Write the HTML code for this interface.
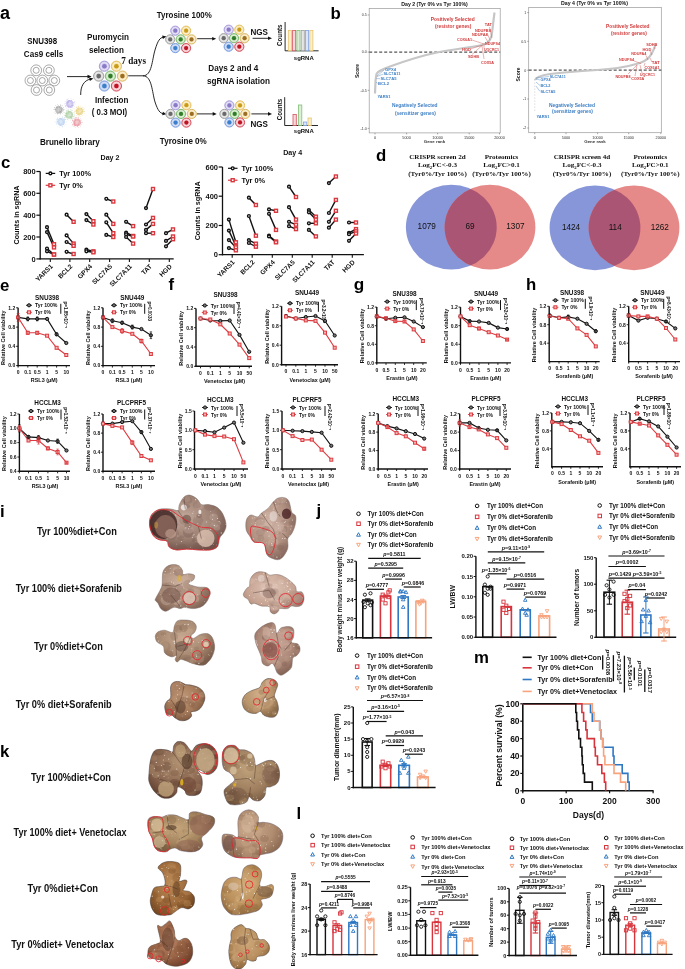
<!DOCTYPE html>
<html><head><meta charset="utf-8"><style>
html,body{margin:0;padding:0;background:#fff;width:685px;height:969px;overflow:hidden}
svg{display:block;font-family:"Liberation Sans", sans-serif;will-change:transform}
</style></head><body>
<svg width="685" height="969" viewBox="0 0 685 969">
<rect width="685" height="969" fill="#fff"/>
<g font-weight="bold" fill="#111">
<text x="0" y="18.5" font-size="18" fill="#000">a</text>
<text x="42.2" y="44.2" font-size="8.3" text-anchor="middle" textLength="30" lengthAdjust="spacingAndGlyphs">SNU398</text>
<text x="43.6" y="57.2" font-size="8.3" text-anchor="middle" textLength="39.5" lengthAdjust="spacingAndGlyphs">Cas9 cells</text>
<circle cx="36.2" cy="70.3" r="5.4" fill="#fff" stroke="#555" stroke-width=".5"/>
<circle cx="36.2" cy="70.3" r="3" fill="#fff" stroke="#555" stroke-width=".5"/>
<circle cx="48.9" cy="70.3" r="5.4" fill="#fff" stroke="#555" stroke-width=".5"/>
<circle cx="48.9" cy="70.3" r="3" fill="#fff" stroke="#555" stroke-width=".5"/>
<circle cx="30.4" cy="80.5" r="5.4" fill="#fff" stroke="#555" stroke-width=".5"/>
<circle cx="30.4" cy="80.5" r="3" fill="#fff" stroke="#555" stroke-width=".5"/>
<circle cx="42.3" cy="80.5" r="5.4" fill="#fff" stroke="#555" stroke-width=".5"/>
<circle cx="42.3" cy="80.5" r="3" fill="#fff" stroke="#555" stroke-width=".5"/>
<circle cx="54.3" cy="80.5" r="5.4" fill="#fff" stroke="#555" stroke-width=".5"/>
<circle cx="54.3" cy="80.5" r="3" fill="#fff" stroke="#555" stroke-width=".5"/>
<circle cx="36.5" cy="90" r="5.4" fill="#fff" stroke="#555" stroke-width=".5"/>
<circle cx="36.5" cy="90" r="3" fill="#fff" stroke="#555" stroke-width=".5"/>
<circle cx="49.3" cy="90" r="5.4" fill="#fff" stroke="#555" stroke-width=".5"/>
<circle cx="49.3" cy="90" r="3" fill="#fff" stroke="#555" stroke-width=".5"/>
<line x1="67" y1="76.6" x2="88.3" y2="76.6" stroke="#111" stroke-width=".9"/>
<polygon points="91.5,76.6 87.5,78.4 87.5,74.8" fill="#111"/>
<path d="M80.7,95 C80.5,86 84,80.5 90.5,79" fill="none" stroke="#111" stroke-width=".9"/>
<polygon points="93.4,78.4 89.9,81 89.1,77.5" fill="#111"/>
<circle cx="59" cy="109.7" r="3.8" fill="#8c8c8c" opacity=".55"/>
<g fill="#8c8c8c" opacity=".9"><circle cx="54.9" cy="107.8" r=".35"/><circle cx="59.8" cy="112.3" r=".35"/><circle cx="58.4" cy="105.3" r=".35"/><circle cx="61.1" cy="112.5" r=".35"/><circle cx="57.1" cy="106.1" r=".35"/><circle cx="59.4" cy="107.2" r=".35"/><circle cx="59.6" cy="110.3" r=".35"/><circle cx="59.5" cy="109.4" r=".35"/><circle cx="55.3" cy="109.7" r=".35"/><circle cx="58.8" cy="113.5" r=".35"/><circle cx="56.6" cy="107.7" r=".35"/><circle cx="60.4" cy="105.5" r=".35"/><circle cx="59.9" cy="111.6" r=".35"/><circle cx="55.2" cy="109.9" r=".35"/><circle cx="63.2" cy="109.1" r=".35"/><circle cx="55" cy="109.3" r=".35"/><circle cx="59.6" cy="108.8" r=".35"/><circle cx="60.4" cy="113.6" r=".35"/><circle cx="60.5" cy="111.8" r=".35"/><circle cx="59.7" cy="111" r=".35"/><circle cx="60.9" cy="105.4" r=".35"/><circle cx="58.2" cy="112.8" r=".35"/><circle cx="56.1" cy="112.9" r=".35"/><circle cx="54.3" cy="109.1" r=".35"/><circle cx="61.7" cy="109.4" r=".35"/><circle cx="58.1" cy="110" r=".35"/><circle cx="57.9" cy="109.6" r=".35"/><circle cx="60.6" cy="108.9" r=".35"/><circle cx="62.5" cy="108.3" r=".35"/><circle cx="61.1" cy="112" r=".35"/><circle cx="59.9" cy="112" r=".35"/><circle cx="57.4" cy="113.5" r=".35"/><circle cx="56.7" cy="106.9" r=".35"/><circle cx="60.2" cy="111.6" r=".35"/><circle cx="57.5" cy="113.2" r=".35"/><circle cx="57.5" cy="107.4" r=".35"/><circle cx="63.4" cy="110.6" r=".35"/><circle cx="63.3" cy="109.6" r=".35"/><circle cx="59.1" cy="106.3" r=".35"/><circle cx="61.6" cy="110.7" r=".35"/><circle cx="64.2" cy="109.7" r=".3"/><circle cx="63.7" cy="112" r=".3"/><circle cx="62.2" cy="113.8" r=".3"/><circle cx="60.2" cy="114.8" r=".3"/><circle cx="57.8" cy="114.8" r=".3"/><circle cx="55.8" cy="113.8" r=".3"/><circle cx="54.3" cy="112" r=".3"/><circle cx="53.8" cy="109.7" r=".3"/><circle cx="54.3" cy="107.4" r=".3"/><circle cx="55.8" cy="105.6" r=".3"/><circle cx="57.8" cy="104.6" r=".3"/><circle cx="60.2" cy="104.6" r=".3"/><circle cx="62.2" cy="105.6" r=".3"/><circle cx="63.7" cy="107.4" r=".3"/></g>
<circle cx="59" cy="109.7" r="1.8" fill="#ffffff" opacity=".3"/>
<circle cx="69.8" cy="103.9" r="3.8" fill="#a79be0" opacity=".55"/>
<g fill="#a79be0" opacity=".9"><circle cx="70" cy="107" r=".35"/><circle cx="73.4" cy="102.6" r=".35"/><circle cx="68.8" cy="101.2" r=".35"/><circle cx="70.3" cy="101.2" r=".35"/><circle cx="67.8" cy="102.1" r=".35"/><circle cx="74.4" cy="102.3" r=".35"/><circle cx="67.6" cy="105.1" r=".35"/><circle cx="67.6" cy="102.5" r=".35"/><circle cx="65.7" cy="106.2" r=".35"/><circle cx="67" cy="100.8" r=".35"/><circle cx="71.3" cy="107.1" r=".35"/><circle cx="69.9" cy="106.1" r=".35"/><circle cx="72" cy="103" r=".35"/><circle cx="68.4" cy="106.1" r=".35"/><circle cx="70.3" cy="106.5" r=".35"/><circle cx="65.4" cy="105.7" r=".35"/><circle cx="72.1" cy="105.8" r=".35"/><circle cx="71.3" cy="100.2" r=".35"/><circle cx="67.6" cy="103.4" r=".35"/><circle cx="68.9" cy="102.4" r=".35"/><circle cx="68" cy="102.9" r=".35"/><circle cx="72.7" cy="105.3" r=".35"/><circle cx="68.6" cy="102.7" r=".35"/><circle cx="66.2" cy="102.1" r=".35"/><circle cx="68.7" cy="100.5" r=".35"/><circle cx="68.6" cy="105.5" r=".35"/><circle cx="70.3" cy="107.6" r=".35"/><circle cx="72" cy="107.7" r=".35"/><circle cx="69.2" cy="100.5" r=".35"/><circle cx="68.2" cy="104.4" r=".35"/><circle cx="70.7" cy="103.8" r=".35"/><circle cx="68.5" cy="101.1" r=".35"/><circle cx="69.6" cy="100.6" r=".35"/><circle cx="65.5" cy="103.5" r=".35"/><circle cx="67.6" cy="99.6" r=".35"/><circle cx="69.5" cy="104.3" r=".35"/><circle cx="68.7" cy="107.4" r=".35"/><circle cx="73.1" cy="105.4" r=".35"/><circle cx="71.7" cy="105.3" r=".35"/><circle cx="71.6" cy="100.6" r=".35"/><circle cx="75" cy="103.9" r=".3"/><circle cx="74.5" cy="106.2" r=".3"/><circle cx="73" cy="108" r=".3"/><circle cx="71" cy="109" r=".3"/><circle cx="68.6" cy="109" r=".3"/><circle cx="66.6" cy="108" r=".3"/><circle cx="65.1" cy="106.2" r=".3"/><circle cx="64.6" cy="103.9" r=".3"/><circle cx="65.1" cy="101.6" r=".3"/><circle cx="66.6" cy="99.8" r=".3"/><circle cx="68.6" cy="98.8" r=".3"/><circle cx="71" cy="98.8" r=".3"/><circle cx="73" cy="99.8" r=".3"/><circle cx="74.5" cy="101.6" r=".3"/></g>
<circle cx="69.8" cy="103.9" r="1.8" fill="#ffffff" opacity=".3"/>
<circle cx="79.6" cy="111.2" r="3.8" fill="#e3c35a" opacity=".55"/>
<g fill="#e3c35a" opacity=".9"><circle cx="83.1" cy="107.8" r=".35"/><circle cx="76.5" cy="113.7" r=".35"/><circle cx="81.6" cy="108.9" r=".35"/><circle cx="81.9" cy="111.8" r=".35"/><circle cx="75.1" cy="110.5" r=".35"/><circle cx="81.4" cy="114.4" r=".35"/><circle cx="81.7" cy="108.4" r=".35"/><circle cx="80" cy="111.1" r=".35"/><circle cx="82.5" cy="111.5" r=".35"/><circle cx="77.9" cy="108.9" r=".35"/><circle cx="76.3" cy="107.7" r=".35"/><circle cx="76.4" cy="110.2" r=".35"/><circle cx="78.5" cy="106.7" r=".35"/><circle cx="76.9" cy="113.6" r=".35"/><circle cx="78.1" cy="115.1" r=".35"/><circle cx="78.6" cy="107.3" r=".35"/><circle cx="76.3" cy="110.1" r=".35"/><circle cx="80.7" cy="113.5" r=".35"/><circle cx="77.6" cy="107" r=".35"/><circle cx="81.2" cy="111.8" r=".35"/><circle cx="79.8" cy="109.9" r=".35"/><circle cx="76.1" cy="110.9" r=".35"/><circle cx="78.5" cy="114.2" r=".35"/><circle cx="78.6" cy="111.4" r=".35"/><circle cx="83.1" cy="111" r=".35"/><circle cx="83.6" cy="109.6" r=".35"/><circle cx="78.7" cy="109.2" r=".35"/><circle cx="77.5" cy="111.4" r=".35"/><circle cx="75.1" cy="111.3" r=".35"/><circle cx="80" cy="114" r=".35"/><circle cx="83.1" cy="111.2" r=".35"/><circle cx="81.2" cy="108" r=".35"/><circle cx="77.8" cy="108.1" r=".35"/><circle cx="79.3" cy="115.4" r=".35"/><circle cx="78.4" cy="110.6" r=".35"/><circle cx="84.3" cy="111.4" r=".35"/><circle cx="80.8" cy="112.7" r=".35"/><circle cx="77.7" cy="114.3" r=".35"/><circle cx="78.9" cy="114.4" r=".35"/><circle cx="79" cy="113.5" r=".35"/><circle cx="84.8" cy="111.2" r=".3"/><circle cx="84.3" cy="113.5" r=".3"/><circle cx="82.8" cy="115.3" r=".3"/><circle cx="80.8" cy="116.3" r=".3"/><circle cx="78.4" cy="116.3" r=".3"/><circle cx="76.4" cy="115.3" r=".3"/><circle cx="74.9" cy="113.5" r=".3"/><circle cx="74.4" cy="111.2" r=".3"/><circle cx="74.9" cy="108.9" r=".3"/><circle cx="76.4" cy="107.1" r=".3"/><circle cx="78.4" cy="106.1" r=".3"/><circle cx="80.8" cy="106.1" r=".3"/><circle cx="82.8" cy="107.1" r=".3"/><circle cx="84.3" cy="108.9" r=".3"/></g>
<circle cx="79.6" cy="111.2" r="1.8" fill="#ffffff" opacity=".3"/>
<circle cx="69.3" cy="114.9" r="3.8" fill="#93be87" opacity=".55"/>
<g fill="#93be87" opacity=".9"><circle cx="67.8" cy="110.2" r=".35"/><circle cx="65.4" cy="117.5" r=".35"/><circle cx="72.2" cy="114.5" r=".35"/><circle cx="71" cy="116.9" r=".35"/><circle cx="66.9" cy="110.7" r=".35"/><circle cx="71.9" cy="118.8" r=".35"/><circle cx="71.2" cy="117.8" r=".35"/><circle cx="65.2" cy="115.6" r=".35"/><circle cx="65.2" cy="113.6" r=".35"/><circle cx="68.7" cy="110.6" r=".35"/><circle cx="70.1" cy="111.3" r=".35"/><circle cx="71.1" cy="110.6" r=".35"/><circle cx="70.2" cy="116.9" r=".35"/><circle cx="66.5" cy="113.1" r=".35"/><circle cx="69.6" cy="116.3" r=".35"/><circle cx="71.1" cy="112.3" r=".35"/><circle cx="73.6" cy="116.2" r=".35"/><circle cx="70.3" cy="116.9" r=".35"/><circle cx="69.3" cy="112" r=".35"/><circle cx="68.1" cy="114.8" r=".35"/><circle cx="66.1" cy="115.7" r=".35"/><circle cx="66.4" cy="111.2" r=".35"/><circle cx="68" cy="113.3" r=".35"/><circle cx="71.9" cy="116.9" r=".35"/><circle cx="67.9" cy="114.8" r=".35"/><circle cx="68.4" cy="113.4" r=".35"/><circle cx="66.3" cy="116.9" r=".35"/><circle cx="71.7" cy="118.6" r=".35"/><circle cx="72" cy="118.9" r=".35"/><circle cx="74.1" cy="116.2" r=".35"/><circle cx="69" cy="114.1" r=".35"/><circle cx="67.4" cy="119.4" r=".35"/><circle cx="68.9" cy="112" r=".35"/><circle cx="65.3" cy="115.6" r=".35"/><circle cx="66.2" cy="113.4" r=".35"/><circle cx="65.4" cy="116.7" r=".35"/><circle cx="68.3" cy="111.8" r=".35"/><circle cx="68.9" cy="111.4" r=".35"/><circle cx="65.9" cy="113" r=".35"/><circle cx="64.9" cy="115.6" r=".35"/><circle cx="74.5" cy="114.9" r=".3"/><circle cx="74" cy="117.2" r=".3"/><circle cx="72.5" cy="119" r=".3"/><circle cx="70.5" cy="120" r=".3"/><circle cx="68.1" cy="120" r=".3"/><circle cx="66.1" cy="119" r=".3"/><circle cx="64.6" cy="117.2" r=".3"/><circle cx="64.1" cy="114.9" r=".3"/><circle cx="64.6" cy="112.6" r=".3"/><circle cx="66.1" cy="110.8" r=".3"/><circle cx="68.1" cy="109.8" r=".3"/><circle cx="70.5" cy="109.8" r=".3"/><circle cx="72.5" cy="110.8" r=".3"/><circle cx="74" cy="112.6" r=".3"/></g>
<circle cx="69.3" cy="114.9" r="1.8" fill="#ffffff" opacity=".3"/>
<circle cx="61" cy="121.9" r="3.8" fill="#a5c3eb" opacity=".55"/>
<g fill="#a5c3eb" opacity=".9"><circle cx="63.3" cy="124.4" r=".35"/><circle cx="58" cy="121" r=".35"/><circle cx="62.6" cy="117.6" r=".35"/><circle cx="59.6" cy="122.5" r=".35"/><circle cx="63" cy="121.6" r=".35"/><circle cx="63.1" cy="122.8" r=".35"/><circle cx="61" cy="124.6" r=".35"/><circle cx="60" cy="125.2" r=".35"/><circle cx="64.6" cy="122.8" r=".35"/><circle cx="64.4" cy="121.2" r=".35"/><circle cx="62.1" cy="126.5" r=".35"/><circle cx="56.3" cy="122.5" r=".35"/><circle cx="63" cy="122.6" r=".35"/><circle cx="61" cy="125.6" r=".35"/><circle cx="61.1" cy="119.6" r=".35"/><circle cx="65.2" cy="119.3" r=".35"/><circle cx="62.8" cy="122.5" r=".35"/><circle cx="64.5" cy="119.3" r=".35"/><circle cx="57.7" cy="118.6" r=".35"/><circle cx="59.3" cy="118.3" r=".35"/><circle cx="56.6" cy="120" r=".35"/><circle cx="60.4" cy="118.1" r=".35"/><circle cx="61.5" cy="123.4" r=".35"/><circle cx="61.2" cy="118.8" r=".35"/><circle cx="57.3" cy="119" r=".35"/><circle cx="64.2" cy="119.9" r=".35"/><circle cx="60" cy="118.5" r=".35"/><circle cx="57.5" cy="121.2" r=".35"/><circle cx="64.7" cy="120.1" r=".35"/><circle cx="64.1" cy="118.6" r=".35"/><circle cx="59.6" cy="124.6" r=".35"/><circle cx="62.7" cy="120.8" r=".35"/><circle cx="59" cy="123.6" r=".35"/><circle cx="56.3" cy="123.4" r=".35"/><circle cx="59.1" cy="122.7" r=".35"/><circle cx="56.2" cy="121.3" r=".35"/><circle cx="57.7" cy="119.3" r=".35"/><circle cx="64" cy="118" r=".35"/><circle cx="60.7" cy="125.7" r=".35"/><circle cx="62.6" cy="126.5" r=".35"/><circle cx="66.2" cy="121.9" r=".3"/><circle cx="65.7" cy="124.2" r=".3"/><circle cx="64.2" cy="126" r=".3"/><circle cx="62.2" cy="127" r=".3"/><circle cx="59.8" cy="127" r=".3"/><circle cx="57.8" cy="126" r=".3"/><circle cx="56.3" cy="124.2" r=".3"/><circle cx="55.8" cy="121.9" r=".3"/><circle cx="56.3" cy="119.6" r=".3"/><circle cx="57.8" cy="117.8" r=".3"/><circle cx="59.8" cy="116.8" r=".3"/><circle cx="62.2" cy="116.8" r=".3"/><circle cx="64.2" cy="117.8" r=".3"/><circle cx="65.7" cy="119.6" r=".3"/></g>
<circle cx="61" cy="121.9" r="1.8" fill="#ffffff" opacity=".3"/>
<circle cx="77" cy="122.4" r="3.8" fill="#e07884" opacity=".55"/>
<g fill="#e07884" opacity=".9"><circle cx="72.9" cy="120.6" r=".35"/><circle cx="75" cy="125.1" r=".35"/><circle cx="78.3" cy="117.9" r=".35"/><circle cx="80" cy="121.1" r=".35"/><circle cx="74.4" cy="123.4" r=".35"/><circle cx="74.5" cy="122.6" r=".35"/><circle cx="75.1" cy="123.8" r=".35"/><circle cx="78.1" cy="124.4" r=".35"/><circle cx="80.6" cy="123.7" r=".35"/><circle cx="78.7" cy="123.5" r=".35"/><circle cx="74.8" cy="125.4" r=".35"/><circle cx="74.3" cy="121.3" r=".35"/><circle cx="80.8" cy="125" r=".35"/><circle cx="75.4" cy="122.7" r=".35"/><circle cx="75.3" cy="119.8" r=".35"/><circle cx="74.6" cy="124.4" r=".35"/><circle cx="77.2" cy="125.7" r=".35"/><circle cx="77.5" cy="120.1" r=".35"/><circle cx="73" cy="121.7" r=".35"/><circle cx="75.3" cy="120.7" r=".35"/><circle cx="81.4" cy="122.6" r=".35"/><circle cx="79.9" cy="120.9" r=".35"/><circle cx="76" cy="117.6" r=".35"/><circle cx="77.8" cy="126.1" r=".35"/><circle cx="72.5" cy="124.1" r=".35"/><circle cx="77.9" cy="123.5" r=".35"/><circle cx="80.2" cy="120.1" r=".35"/><circle cx="78.7" cy="122.5" r=".35"/><circle cx="78.9" cy="125" r=".35"/><circle cx="77.3" cy="126.7" r=".35"/><circle cx="72.9" cy="125.2" r=".35"/><circle cx="74.3" cy="118.3" r=".35"/><circle cx="75.5" cy="125.2" r=".35"/><circle cx="72.7" cy="120.6" r=".35"/><circle cx="75.6" cy="118" r=".35"/><circle cx="74.5" cy="126.1" r=".35"/><circle cx="80.4" cy="122.2" r=".35"/><circle cx="73.3" cy="124.5" r=".35"/><circle cx="78.3" cy="119" r=".35"/><circle cx="76.9" cy="117.7" r=".35"/><circle cx="82.2" cy="122.4" r=".3"/><circle cx="81.7" cy="124.7" r=".3"/><circle cx="80.2" cy="126.5" r=".3"/><circle cx="78.2" cy="127.5" r=".3"/><circle cx="75.8" cy="127.5" r=".3"/><circle cx="73.8" cy="126.5" r=".3"/><circle cx="72.3" cy="124.7" r=".3"/><circle cx="71.8" cy="122.4" r=".3"/><circle cx="72.3" cy="120.1" r=".3"/><circle cx="73.8" cy="118.3" r=".3"/><circle cx="75.8" cy="117.3" r=".3"/><circle cx="78.2" cy="117.3" r=".3"/><circle cx="80.2" cy="118.3" r=".3"/><circle cx="81.7" cy="120.1" r=".3"/></g>
<circle cx="77" cy="122.4" r="1.8" fill="#ffffff" opacity=".3"/>
<text x="69.9" y="145" font-size="8.3" text-anchor="middle" textLength="60" lengthAdjust="spacingAndGlyphs">Brunello library</text>
<text x="108" y="40.1" font-size="8.3" text-anchor="middle" textLength="42" lengthAdjust="spacingAndGlyphs">Puromycin</text>
<text x="106.4" y="52.7" font-size="8.3" text-anchor="middle" textLength="35" lengthAdjust="spacingAndGlyphs">selection</text>
<text x="121.3" y="63.5" font-size="10" font-family='"Liberation Serif", serif' textLength="24.7" lengthAdjust="spacingAndGlyphs">7 days</text>
<circle cx="104.4" cy="66.2" r="5.1" fill="#cfc9ee" stroke="#a99ddc" stroke-width="1"/>
<circle cx="104.4" cy="66.2" r="3.6" fill="#cfc9ee" stroke="#ffffff" stroke-width=".5"/>
<circle cx="104.4" cy="66.2" r="2.3" fill="#8a7ac6"/>
<circle cx="116.4" cy="66.2" r="5.1" fill="#f7e3a6" stroke="#e6c063" stroke-width="1"/>
<circle cx="116.4" cy="66.2" r="3.6" fill="#f7e3a6" stroke="#ffffff" stroke-width=".5"/>
<circle cx="116.4" cy="66.2" r="2.3" fill="#c99a18"/>
<circle cx="98.7" cy="76.1" r="5.1" fill="#d6d6d6" stroke="#a2a2a2" stroke-width="1"/>
<circle cx="98.7" cy="76.1" r="3.6" fill="#d6d6d6" stroke="#ffffff" stroke-width=".5"/>
<circle cx="98.7" cy="76.1" r="2.3" fill="#6a6a6a"/>
<circle cx="110.4" cy="76.1" r="5.1" fill="#c2e0b6" stroke="#7cba70" stroke-width="1"/>
<circle cx="110.4" cy="76.1" r="3.6" fill="#c2e0b6" stroke="#ffffff" stroke-width=".5"/>
<circle cx="110.4" cy="76.1" r="2.3" fill="#317c28"/>
<circle cx="122.4" cy="76.1" r="5.1" fill="#f6e2ae" stroke="#dcb866" stroke-width="1"/>
<circle cx="122.4" cy="76.1" r="3.6" fill="#f6e2ae" stroke="#ffffff" stroke-width=".5"/>
<circle cx="122.4" cy="76.1" r="2.3" fill="#9c6e24"/>
<circle cx="104.4" cy="86" r="5.1" fill="#b6c9ee" stroke="#7c9fde" stroke-width="1"/>
<circle cx="104.4" cy="86" r="3.6" fill="#b6c9ee" stroke="#ffffff" stroke-width=".5"/>
<circle cx="104.4" cy="86" r="2.3" fill="#3a7fcb"/>
<circle cx="116.4" cy="86" r="5.1" fill="#f2bcc2" stroke="#d44c58" stroke-width="1"/>
<circle cx="116.4" cy="86" r="3.6" fill="#f2bcc2" stroke="#ffffff" stroke-width=".5"/>
<circle cx="116.4" cy="86" r="2.3" fill="#c01424"/>
<text x="111.7" y="102.5" font-size="8.3" text-anchor="middle" textLength="33.5" lengthAdjust="spacingAndGlyphs">Infection</text>
<text x="109.5" y="115" font-size="8.3" text-anchor="middle" textLength="35.5" lengthAdjust="spacingAndGlyphs">( 0.3 MOI)</text>
<line x1="128.2" y1="75.8" x2="143" y2="75.8" stroke="#111" stroke-width=".9"/>
<path d="M143,75.8 C152,75.8 152,60 155,50 C158,40 160,38 163,37.2" fill="none" stroke="#111" stroke-width=".9"/>
<polygon points="166.5,36.6 162.9,39.1 162.2,35.5" fill="#111"/>
<path d="M143,75.8 C152,75.8 152,92 155,102 C158,111 160,113 163,113.6" fill="none" stroke="#111" stroke-width=".9"/>
<polygon points="166.5,114.2 162.2,115.3 162.9,111.7" fill="#111"/>
<text x="184.3" y="17.5" font-size="8.3" text-anchor="middle" textLength="55" lengthAdjust="spacingAndGlyphs">Tyrosine 100%</text>
<circle cx="175.3" cy="30.7" r="4.6" fill="#cfc9ee" stroke="#a99ddc" stroke-width="1"/>
<circle cx="175.3" cy="30.7" r="3.2" fill="#cfc9ee" stroke="#ffffff" stroke-width=".5"/>
<circle cx="175.3" cy="30.7" r="2.1" fill="#8a7ac6"/>
<circle cx="186.1" cy="30.7" r="4.6" fill="#f7e3a6" stroke="#e6c063" stroke-width="1"/>
<circle cx="186.1" cy="30.7" r="3.2" fill="#f7e3a6" stroke="#ffffff" stroke-width=".5"/>
<circle cx="186.1" cy="30.7" r="2.1" fill="#c99a18"/>
<circle cx="170.2" cy="39.4" r="4.6" fill="#d6d6d6" stroke="#a2a2a2" stroke-width="1"/>
<circle cx="170.2" cy="39.4" r="3.2" fill="#d6d6d6" stroke="#ffffff" stroke-width=".5"/>
<circle cx="170.2" cy="39.4" r="2.1" fill="#6a6a6a"/>
<circle cx="180.7" cy="39.4" r="4.6" fill="#c2e0b6" stroke="#7cba70" stroke-width="1"/>
<circle cx="180.7" cy="39.4" r="3.2" fill="#c2e0b6" stroke="#ffffff" stroke-width=".5"/>
<circle cx="180.7" cy="39.4" r="2.1" fill="#317c28"/>
<circle cx="191.5" cy="39.4" r="4.6" fill="#f6e2ae" stroke="#dcb866" stroke-width="1"/>
<circle cx="191.5" cy="39.4" r="3.2" fill="#f6e2ae" stroke="#ffffff" stroke-width=".5"/>
<circle cx="191.5" cy="39.4" r="2.1" fill="#9c6e24"/>
<circle cx="175.3" cy="48.1" r="4.6" fill="#b6c9ee" stroke="#7c9fde" stroke-width="1"/>
<circle cx="175.3" cy="48.1" r="3.2" fill="#b6c9ee" stroke="#ffffff" stroke-width=".5"/>
<circle cx="175.3" cy="48.1" r="2.1" fill="#3a7fcb"/>
<circle cx="186.1" cy="48.1" r="4.6" fill="#f2bcc2" stroke="#d44c58" stroke-width="1"/>
<circle cx="186.1" cy="48.1" r="3.2" fill="#f2bcc2" stroke="#ffffff" stroke-width=".5"/>
<circle cx="186.1" cy="48.1" r="2.1" fill="#c01424"/>
<line x1="197.2" y1="38.7" x2="213" y2="38.7" stroke="#111" stroke-width=".9"/>
<polygon points="216.2,38.7 212.2,40.5 212.2,36.9" fill="#111"/>
<circle cx="228.7" cy="29.7" r="4.6" fill="#cfc9ee" stroke="#a99ddc" stroke-width="1"/>
<circle cx="228.7" cy="29.7" r="3.2" fill="#cfc9ee" stroke="#ffffff" stroke-width=".5"/>
<circle cx="228.7" cy="29.7" r="2.1" fill="#8a7ac6"/>
<circle cx="239.3" cy="29.7" r="4.6" fill="#f7e3a6" stroke="#e6c063" stroke-width="1"/>
<circle cx="239.3" cy="29.7" r="3.2" fill="#f7e3a6" stroke="#ffffff" stroke-width=".5"/>
<circle cx="239.3" cy="29.7" r="2.1" fill="#c99a18"/>
<circle cx="223.7" cy="38.2" r="4.6" fill="#d6d6d6" stroke="#a2a2a2" stroke-width="1"/>
<circle cx="223.7" cy="38.2" r="3.2" fill="#d6d6d6" stroke="#ffffff" stroke-width=".5"/>
<circle cx="223.7" cy="38.2" r="2.1" fill="#6a6a6a"/>
<circle cx="234" cy="38.2" r="4.6" fill="#c2e0b6" stroke="#7cba70" stroke-width="1"/>
<circle cx="234" cy="38.2" r="3.2" fill="#c2e0b6" stroke="#ffffff" stroke-width=".5"/>
<circle cx="234" cy="38.2" r="2.1" fill="#317c28"/>
<circle cx="244.6" cy="38.2" r="4.6" fill="#f6e2ae" stroke="#dcb866" stroke-width="1"/>
<circle cx="244.6" cy="38.2" r="3.2" fill="#f6e2ae" stroke="#ffffff" stroke-width=".5"/>
<circle cx="244.6" cy="38.2" r="2.1" fill="#9c6e24"/>
<circle cx="228.7" cy="46.7" r="4.6" fill="#b6c9ee" stroke="#7c9fde" stroke-width="1"/>
<circle cx="228.7" cy="46.7" r="3.2" fill="#b6c9ee" stroke="#ffffff" stroke-width=".5"/>
<circle cx="228.7" cy="46.7" r="2.1" fill="#3a7fcb"/>
<circle cx="239.3" cy="46.7" r="4.6" fill="#f2bcc2" stroke="#d44c58" stroke-width="1"/>
<circle cx="239.3" cy="46.7" r="3.2" fill="#f2bcc2" stroke="#ffffff" stroke-width=".5"/>
<circle cx="239.3" cy="46.7" r="2.1" fill="#c01424"/>
<text x="259.2" y="34.5" font-size="8.3" text-anchor="middle" textLength="17.5" lengthAdjust="spacingAndGlyphs">NGS</text>
<line x1="252.6" y1="38.3" x2="268.8" y2="38.3" stroke="#111" stroke-width=".9"/>
<polygon points="272,38.3 268,40.1 268,36.5" fill="#111"/>
<line x1="285.1" y1="22" x2="285.1" y2="50.8" stroke="#111" stroke-width=".9"/>
<line x1="285.1" y1="50.8" x2="318.6" y2="50.8" stroke="#111" stroke-width=".9"/>
<rect x="288.3" y="30.5" width="3.1" height="20.3" fill="#fbefc9" stroke="#e8c46a" stroke-width=".8"/>
<rect x="292.6" y="30.5" width="3.1" height="20.3" fill="#f8d6d9" stroke="#d7555f" stroke-width=".8"/>
<rect x="296.9" y="30.5" width="3.1" height="20.3" fill="#dcefd6" stroke="#82be78" stroke-width=".8"/>
<rect x="301.2" y="30.5" width="3.1" height="20.3" fill="#e6e6e6" stroke="#a0a0a0" stroke-width=".8"/>
<rect x="305.5" y="30.5" width="3.1" height="20.3" fill="#dbe5f7" stroke="#82a5e1" stroke-width=".8"/>
<rect x="309.8" y="30.5" width="3.1" height="20.3" fill="#fbefc9" stroke="#e8c46a" stroke-width=".8"/>
<text x="281.6" y="35.2" font-size="7" text-anchor="middle" textLength="21.4" lengthAdjust="spacingAndGlyphs" transform="rotate(-90 281.6 35.2)">Counts</text>
<text x="303.8" y="59.5" font-size="6.2" text-anchor="middle" textLength="20" lengthAdjust="spacingAndGlyphs">sgRNA</text>
<text x="233.3" y="71" font-size="8.3" text-anchor="middle" textLength="50" lengthAdjust="spacingAndGlyphs">Days 2 and 4</text>
<text x="238.5" y="84" font-size="8.3" text-anchor="middle" textLength="63" lengthAdjust="spacingAndGlyphs">sgRNA  isolation</text>
<circle cx="175.6" cy="105.2" r="4.6" fill="#cfc9ee" stroke="#a99ddc" stroke-width="1"/>
<circle cx="175.6" cy="105.2" r="3.2" fill="#cfc9ee" stroke="#ffffff" stroke-width=".5"/>
<circle cx="175.6" cy="105.2" r="2.1" fill="#8a7ac6"/>
<circle cx="186.4" cy="105.2" r="4.6" fill="#f7e3a6" stroke="#e6c063" stroke-width="1"/>
<circle cx="186.4" cy="105.2" r="3.2" fill="#f7e3a6" stroke="#ffffff" stroke-width=".5"/>
<circle cx="186.4" cy="105.2" r="2.1" fill="#c99a18"/>
<circle cx="170.5" cy="113.9" r="4.6" fill="#d6d6d6" stroke="#a2a2a2" stroke-width="1"/>
<circle cx="170.5" cy="113.9" r="3.2" fill="#d6d6d6" stroke="#ffffff" stroke-width=".5"/>
<circle cx="170.5" cy="113.9" r="2.1" fill="#6a6a6a"/>
<circle cx="181" cy="113.9" r="4.6" fill="#c2e0b6" stroke="#7cba70" stroke-width="1"/>
<circle cx="181" cy="113.9" r="3.2" fill="#c2e0b6" stroke="#ffffff" stroke-width=".5"/>
<circle cx="181" cy="113.9" r="2.1" fill="#317c28"/>
<circle cx="191.8" cy="113.9" r="4.6" fill="#f6e2ae" stroke="#dcb866" stroke-width="1"/>
<circle cx="191.8" cy="113.9" r="3.2" fill="#f6e2ae" stroke="#ffffff" stroke-width=".5"/>
<circle cx="191.8" cy="113.9" r="2.1" fill="#9c6e24"/>
<circle cx="175.6" cy="122.6" r="4.6" fill="#b6c9ee" stroke="#7c9fde" stroke-width="1"/>
<circle cx="175.6" cy="122.6" r="3.2" fill="#b6c9ee" stroke="#ffffff" stroke-width=".5"/>
<circle cx="175.6" cy="122.6" r="2.1" fill="#3a7fcb"/>
<circle cx="186.4" cy="122.6" r="4.6" fill="#f2bcc2" stroke="#d44c58" stroke-width="1"/>
<circle cx="186.4" cy="122.6" r="3.2" fill="#f2bcc2" stroke="#ffffff" stroke-width=".5"/>
<circle cx="186.4" cy="122.6" r="2.1" fill="#c01424"/>
<line x1="197" y1="113.9" x2="213.5" y2="113.9" stroke="#111" stroke-width=".9"/>
<polygon points="216.7,113.9 212.7,115.7 212.7,112.1" fill="#111"/>
<circle cx="229.4" cy="105.4" r="4.6" fill="#cfc9ee" stroke="#a99ddc" stroke-width="1"/>
<circle cx="229.4" cy="105.4" r="3.2" fill="#cfc9ee" stroke="#ffffff" stroke-width=".5"/>
<circle cx="229.4" cy="105.4" r="2.1" fill="#8a7ac6"/>
<circle cx="240" cy="105.4" r="4.6" fill="#f7e3a6" stroke="#e6c063" stroke-width="1"/>
<circle cx="240" cy="105.4" r="3.2" fill="#f7e3a6" stroke="#ffffff" stroke-width=".5"/>
<circle cx="240" cy="105.4" r="2.1" fill="#c99a18"/>
<circle cx="224.4" cy="113.9" r="4.6" fill="#d6d6d6" stroke="#a2a2a2" stroke-width="1"/>
<circle cx="224.4" cy="113.9" r="3.2" fill="#d6d6d6" stroke="#ffffff" stroke-width=".5"/>
<circle cx="224.4" cy="113.9" r="2.1" fill="#6a6a6a"/>
<circle cx="234.7" cy="113.9" r="4.6" fill="#c2e0b6" stroke="#7cba70" stroke-width="1"/>
<circle cx="234.7" cy="113.9" r="3.2" fill="#c2e0b6" stroke="#ffffff" stroke-width=".5"/>
<circle cx="234.7" cy="113.9" r="2.1" fill="#317c28"/>
<circle cx="245.3" cy="113.9" r="4.6" fill="#f6e2ae" stroke="#dcb866" stroke-width="1"/>
<circle cx="245.3" cy="113.9" r="3.2" fill="#f6e2ae" stroke="#ffffff" stroke-width=".5"/>
<circle cx="245.3" cy="113.9" r="2.1" fill="#9c6e24"/>
<circle cx="229.4" cy="122.4" r="4.6" fill="#b6c9ee" stroke="#7c9fde" stroke-width="1"/>
<circle cx="229.4" cy="122.4" r="3.2" fill="#b6c9ee" stroke="#ffffff" stroke-width=".5"/>
<circle cx="229.4" cy="122.4" r="2.1" fill="#3a7fcb"/>
<circle cx="240" cy="122.4" r="4.6" fill="#f2bcc2" stroke="#d44c58" stroke-width="1"/>
<circle cx="240" cy="122.4" r="3.2" fill="#f2bcc2" stroke="#ffffff" stroke-width=".5"/>
<circle cx="240" cy="122.4" r="2.1" fill="#c01424"/>
<line x1="251.4" y1="113.9" x2="268.8" y2="113.9" stroke="#111" stroke-width=".9"/>
<polygon points="272,113.9 268,115.7 268,112.1" fill="#111"/>
<text x="259.2" y="127" font-size="8.3" text-anchor="middle" textLength="17.5" lengthAdjust="spacingAndGlyphs">NGS</text>
<line x1="284.7" y1="97.2" x2="284.7" y2="125.5" stroke="#111" stroke-width=".9"/>
<line x1="284.7" y1="125.5" x2="318" y2="125.5" stroke="#111" stroke-width=".9"/>
<rect x="293" y="114.4" width="3.3" height="11.1" fill="#f8d6d9" stroke="#d7555f" stroke-width=".8"/>
<rect x="298.5" y="105" width="3.3" height="20.5" fill="#dcefd6" stroke="#82be78" stroke-width=".8"/>
<rect x="303.5" y="122" width="3.3" height="3.5" fill="#dbe5f7" stroke="#82a5e1" stroke-width=".8"/>
<rect x="308" y="118" width="3.3" height="7.5" fill="#fbefc9" stroke="#e8c46a" stroke-width=".8"/>
<text x="281.6" y="109.5" font-size="7" text-anchor="middle" textLength="21.4" lengthAdjust="spacingAndGlyphs" transform="rotate(-90 281.6 109.5)">Counts</text>
<text x="303.8" y="132.5" font-size="6.2" text-anchor="middle" textLength="20" lengthAdjust="spacingAndGlyphs">sgRNA</text>
<text x="183.3" y="144" font-size="8.3" text-anchor="middle" textLength="47" lengthAdjust="spacingAndGlyphs">Tyrosine 0%</text>
<text x="330.6" y="18.6" font-size="16.8" fill="#000">b</text>
<rect x="369.2" y="8.4" width="131" height="124.5" fill="none" stroke="#9a9a9a" stroke-width=".7"/>
<text x="434.5" y="6.2" font-size="5.6" text-anchor="middle" textLength="66.5" lengthAdjust="spacingAndGlyphs">Day 2 (Tyr 0% vs Tyr 100%)</text>
<line x1="367.7" y1="15" x2="369.2" y2="15" stroke="#555" stroke-width=".5"/>
<text x="366.7" y="16.3" font-size="3.6" font-weight="normal" text-anchor="end" fill="#333">0.5</text>
<line x1="367.7" y1="52.1" x2="369.2" y2="52.1" stroke="#555" stroke-width=".5"/>
<text x="366.7" y="53.4" font-size="3.6" font-weight="normal" text-anchor="end" fill="#333">0.0</text>
<line x1="367.7" y1="90.3" x2="369.2" y2="90.3" stroke="#555" stroke-width=".5"/>
<text x="366.7" y="91.6" font-size="3.6" font-weight="normal" text-anchor="end" fill="#333">-0.5</text>
<line x1="367.7" y1="128.4" x2="369.2" y2="128.4" stroke="#555" stroke-width=".5"/>
<text x="366.7" y="129.7" font-size="3.6" font-weight="normal" text-anchor="end" fill="#333">-1.0</text>
<line x1="375" y1="132.9" x2="375" y2="134.4" stroke="#555" stroke-width=".5"/>
<text x="375" y="138.8" font-size="3.8" font-weight="normal" text-anchor="middle" fill="#333">0</text>
<line x1="406.6" y1="132.9" x2="406.6" y2="134.4" stroke="#555" stroke-width=".5"/>
<text x="406.6" y="138.8" font-size="3.8" font-weight="normal" text-anchor="middle" fill="#333">5000</text>
<line x1="437.6" y1="132.9" x2="437.6" y2="134.4" stroke="#555" stroke-width=".5"/>
<text x="437.6" y="138.8" font-size="3.8" font-weight="normal" text-anchor="middle" fill="#333">10000</text>
<line x1="469.2" y1="132.9" x2="469.2" y2="134.4" stroke="#555" stroke-width=".5"/>
<text x="469.2" y="138.8" font-size="3.8" font-weight="normal" text-anchor="middle" fill="#333">15000</text>
<line x1="499.5" y1="132.9" x2="499.5" y2="134.4" stroke="#555" stroke-width=".5"/>
<text x="499.5" y="138.8" font-size="3.8" font-weight="normal" text-anchor="middle" fill="#333">20000</text>
<text x="434.5" y="142.5" font-size="4.4" text-anchor="middle" fill="#333">Gene rank</text>
<text x="358.5" y="71" font-size="6" text-anchor="middle" textLength="14" lengthAdjust="spacingAndGlyphs" transform="rotate(-90 358.5 71)">Score</text>
<line x1="369.2" y1="52.1" x2="500.2" y2="52.1" stroke="#555" stroke-width="1.2" stroke-dasharray="3,2"/>
<path d="M375,93.5 L375.6,80 L376.5,74 C378,71 382,69.5 390,66.5 C405,61 420,56 437,52.5 C455,49 470,47.5 482,45 C488,43.5 490,41 491.5,36 C492.5,30 493.5,20 494.5,12.5" fill="none" stroke="#c6c6c6" stroke-width="2.2"/>
<text x="452.8" y="20.6" font-size="5" text-anchor="middle" fill="#d23c3c" textLength="44" lengthAdjust="spacingAndGlyphs">Positively Selected</text>
<text x="453.2" y="27.6" font-size="5" text-anchor="middle" fill="#d23c3c" textLength="36.4" lengthAdjust="spacingAndGlyphs">(resistor genes)</text>
<text x="414.8" y="106.6" font-size="5" text-anchor="middle" fill="#3d7fc4" textLength="45.5" lengthAdjust="spacingAndGlyphs">Negatively Selected</text>
<text x="415.5" y="114.5" font-size="5" text-anchor="middle" fill="#3d7fc4" textLength="41" lengthAdjust="spacingAndGlyphs">(sensitizer genes)</text>
<text x="385" y="70.5" font-size="3.8" fill="#3d7fc4" textLength="11" lengthAdjust="spacingAndGlyphs">GPX4</text>
<text x="383.5" y="75.2" font-size="3.8" fill="#3d7fc4" textLength="17" lengthAdjust="spacingAndGlyphs">SLC7A11</text>
<text x="380.5" y="79.9" font-size="3.8" fill="#3d7fc4" textLength="16" lengthAdjust="spacingAndGlyphs">SLC7A5</text>
<text x="378" y="84.9" font-size="3.8" fill="#3d7fc4" textLength="11" lengthAdjust="spacingAndGlyphs">BCL2</text>
<text x="377.5" y="97.5" font-size="3.8" fill="#3d7fc4" textLength="13" lengthAdjust="spacingAndGlyphs">YARS1</text>
<path d="M377,76 L384,70 M377,76.5 L383,74.2 M376.5,78.5 L380,78.8 M376,82 L377.5,83.5" fill="none" stroke="#3d7fc4" stroke-width=".4"/>
<text x="484.8" y="26" font-size="3.8" fill="#d23c3c" textLength="7" lengthAdjust="spacingAndGlyphs">TAT</text>
<text x="474.9" y="32" font-size="3.8" fill="#d23c3c" textLength="16" lengthAdjust="spacingAndGlyphs">NDUFB8</text>
<text x="472" y="35.8" font-size="3.8" fill="#d23c3c" textLength="15.8" lengthAdjust="spacingAndGlyphs">NDUFA4</text>
<text x="457" y="41" font-size="3.8" fill="#d23c3c" textLength="15" lengthAdjust="spacingAndGlyphs">COX6A1</text>
<text x="485" y="44.9" font-size="3.8" fill="#d23c3c" textLength="15" lengthAdjust="spacingAndGlyphs">NDUFS4</text>
<text x="462" y="51" font-size="3.8" fill="#d23c3c" textLength="9" lengthAdjust="spacingAndGlyphs">HGD</text>
<text x="484" y="50.7" font-size="3.8" fill="#d23c3c" textLength="15" lengthAdjust="spacingAndGlyphs">UQCRC1</text>
<text x="468" y="58.1" font-size="3.8" fill="#d23c3c" textLength="11" lengthAdjust="spacingAndGlyphs">SDHB</text>
<text x="481" y="63.9" font-size="3.8" fill="#d23c3c" textLength="13" lengthAdjust="spacingAndGlyphs">COX5A</text>
<path d="M489.5,27 L492,38 M487,33 L490,40 M485,37 L488,42 M472,40 L484,44 M485,43.5 L484,45 M470,49 L483,45 M484,48.5 L484,45 M472,54.5 L482,45.5 M484,59 L482,46" fill="none" stroke="#d23c3c" stroke-width=".4"/>
<rect x="528.7" y="7.4" width="132.6" height="125.3" fill="none" stroke="#9a9a9a" stroke-width=".7"/>
<text x="594.5" y="5.2" font-size="5.6" text-anchor="middle" textLength="67" lengthAdjust="spacingAndGlyphs">Day 4 (Tyr 0% vs Tyr 100%)</text>
<line x1="527.2" y1="12.6" x2="528.7" y2="12.6" stroke="#555" stroke-width=".5"/>
<text x="526.2" y="13.9" font-size="3.6" font-weight="normal" text-anchor="end" fill="#333">1</text>
<line x1="527.2" y1="41.3" x2="528.7" y2="41.3" stroke="#555" stroke-width=".5"/>
<text x="526.2" y="42.6" font-size="3.6" font-weight="normal" text-anchor="end" fill="#333">0.5</text>
<line x1="527.2" y1="70.2" x2="528.7" y2="70.2" stroke="#555" stroke-width=".5"/>
<text x="526.2" y="71.5" font-size="3.6" font-weight="normal" text-anchor="end" fill="#333">0</text>
<line x1="527.2" y1="99" x2="528.7" y2="99" stroke="#555" stroke-width=".5"/>
<text x="526.2" y="100.3" font-size="3.6" font-weight="normal" text-anchor="end" fill="#333">-1</text>
<line x1="527.2" y1="128" x2="528.7" y2="128" stroke="#555" stroke-width=".5"/>
<text x="526.2" y="129.3" font-size="3.6" font-weight="normal" text-anchor="end" fill="#333">-2</text>
<line x1="534.7" y1="132.7" x2="534.7" y2="134.2" stroke="#555" stroke-width=".5"/>
<text x="534.7" y="138.6" font-size="3.8" font-weight="normal" text-anchor="middle" fill="#333">0</text>
<line x1="566" y1="132.7" x2="566" y2="134.2" stroke="#555" stroke-width=".5"/>
<text x="566" y="138.6" font-size="3.8" font-weight="normal" text-anchor="middle" fill="#333">5000</text>
<line x1="597.6" y1="132.7" x2="597.6" y2="134.2" stroke="#555" stroke-width=".5"/>
<text x="597.6" y="138.6" font-size="3.8" font-weight="normal" text-anchor="middle" fill="#333">10000</text>
<line x1="628.7" y1="132.7" x2="628.7" y2="134.2" stroke="#555" stroke-width=".5"/>
<text x="628.7" y="138.6" font-size="3.8" font-weight="normal" text-anchor="middle" fill="#333">15000</text>
<line x1="660.8" y1="132.7" x2="660.8" y2="134.2" stroke="#555" stroke-width=".5"/>
<text x="660.8" y="138.6" font-size="3.8" font-weight="normal" text-anchor="middle" fill="#333">20000</text>
<text x="595" y="142.5" font-size="4.4" text-anchor="middle" fill="#333">Gene rank</text>
<text x="519.5" y="74.5" font-size="6" text-anchor="middle" textLength="14" lengthAdjust="spacingAndGlyphs" transform="rotate(-90 519.5 74.5)">Score</text>
<line x1="528.7" y1="70.2" x2="661.3" y2="70.2" stroke="#555" stroke-width="1.2" stroke-dasharray="3,2"/>
<circle cx="534.8" cy="80" r=".5" fill="#bbbbbb"/>
<circle cx="534.8" cy="83" r=".5" fill="#bbbbbb"/>
<circle cx="534.8" cy="86" r=".5" fill="#bbbbbb"/>
<circle cx="534.8" cy="89" r=".5" fill="#bbbbbb"/>
<circle cx="534.8" cy="92" r=".5" fill="#bbbbbb"/>
<circle cx="534.8" cy="95" r=".5" fill="#bbbbbb"/>
<circle cx="534.8" cy="98" r=".5" fill="#bbbbbb"/>
<circle cx="534.8" cy="101" r=".5" fill="#bbbbbb"/>
<circle cx="534.8" cy="104" r=".5" fill="#bbbbbb"/>
<circle cx="534.8" cy="107" r=".5" fill="#bbbbbb"/>
<circle cx="534.8" cy="110" r=".5" fill="#bbbbbb"/>
<path d="M535,80 C536,77 540,75.5 550,74 C565,72 580,71 597,70 C612,69.2 625,67.5 640,63 C646,61 650,57 652,53 C653.5,50 654.5,48 655.5,45" fill="none" stroke="#c6c6c6" stroke-width="2.2"/>
<text x="627.8" y="27.9" font-size="5" text-anchor="middle" fill="#d23c3c" textLength="43.5" lengthAdjust="spacingAndGlyphs">Positively Selected</text>
<text x="628.9" y="35" font-size="5" text-anchor="middle" fill="#d23c3c" textLength="36" lengthAdjust="spacingAndGlyphs">(resistor genes)</text>
<text x="572" y="106.6" font-size="5" text-anchor="middle" fill="#3d7fc4" textLength="46" lengthAdjust="spacingAndGlyphs">Negatively Selected</text>
<text x="572.5" y="113.4" font-size="5" text-anchor="middle" fill="#3d7fc4" textLength="41" lengthAdjust="spacingAndGlyphs">(sensitizer genes)</text>
<text x="549.7" y="77.5" font-size="3.8" fill="#3d7fc4" textLength="16" lengthAdjust="spacingAndGlyphs">SLC7A11</text>
<text x="540.5" y="81" font-size="3.8" fill="#3d7fc4" textLength="10" lengthAdjust="spacingAndGlyphs">GPX4</text>
<text x="540.5" y="86.8" font-size="3.8" fill="#3d7fc4" textLength="10" lengthAdjust="spacingAndGlyphs">BCL2</text>
<text x="540.5" y="92.6" font-size="3.8" fill="#3d7fc4" textLength="15" lengthAdjust="spacingAndGlyphs">SLC7A5</text>
<text x="536.5" y="117.8" font-size="3.8" fill="#3d7fc4" textLength="13" lengthAdjust="spacingAndGlyphs">YARS1</text>
<path d="M536,78 L549,76.5 M536,79 L540,80 M536,82 L540,85.5 M536,86 L540,91.5" fill="none" stroke="#3d7fc4" stroke-width=".4"/>
<text x="646.3" y="46" font-size="3.8" fill="#d23c3c" textLength="11" lengthAdjust="spacingAndGlyphs">SDHB</text>
<text x="642.4" y="50.8" font-size="3.8" fill="#d23c3c" textLength="9" lengthAdjust="spacingAndGlyphs">HGD</text>
<text x="631.3" y="55" font-size="3.8" fill="#d23c3c" textLength="15" lengthAdjust="spacingAndGlyphs">NDUFA4</text>
<text x="619" y="60.5" font-size="3.8" fill="#d23c3c" textLength="15" lengthAdjust="spacingAndGlyphs">NDUFS4</text>
<text x="651.8" y="63.7" font-size="3.8" fill="#d23c3c" textLength="8" lengthAdjust="spacingAndGlyphs">TAT</text>
<text x="644.5" y="68.9" font-size="3.8" fill="#d23c3c" textLength="15" lengthAdjust="spacingAndGlyphs">COX6A1</text>
<text x="615.5" y="77.6" font-size="3.8" fill="#d23c3c" textLength="15" lengthAdjust="spacingAndGlyphs">NDUFB8</text>
<text x="640" y="75.8" font-size="3.8" fill="#d23c3c" textLength="15" lengthAdjust="spacingAndGlyphs">UQCRC1</text>
<text x="631.3" y="79.7" font-size="3.8" fill="#d23c3c" textLength="13" lengthAdjust="spacingAndGlyphs">COX5A</text>
<path d="M654,47 L655,49 M650,51 L652,55 M646,55.5 L648,60 M634,61 L641,63.5 M652,62 L650,58 M644,66 L645,63 M628,74 L637,65 M642,73 L640,65 M635,76 L637,65" fill="none" stroke="#d23c3c" stroke-width=".4"/>
<text x="1" y="168" font-size="16.8" fill="#000">c</text>
<line x1="40.2" y1="171.5" x2="40.2" y2="259.5" stroke="#111" stroke-width="1.3"/>
<line x1="39.6" y1="258.9" x2="173.7" y2="258.9" stroke="#111" stroke-width="1.3"/>
<line x1="36.4" y1="258.9" x2="40.2" y2="258.9" stroke="#111" stroke-width="1.2"/>
<text x="35.7" y="261.5" font-size="7.5" text-anchor="end">0</text>
<line x1="36.4" y1="237" x2="40.2" y2="237" stroke="#111" stroke-width="1.2"/>
<text x="35.7" y="239.6" font-size="7.5" text-anchor="end">200</text>
<line x1="36.4" y1="215.2" x2="40.2" y2="215.2" stroke="#111" stroke-width="1.2"/>
<text x="35.7" y="217.8" font-size="7.5" text-anchor="end">400</text>
<line x1="36.4" y1="193.3" x2="40.2" y2="193.3" stroke="#111" stroke-width="1.2"/>
<text x="35.7" y="195.9" font-size="7.5" text-anchor="end">600</text>
<line x1="36.4" y1="171.5" x2="40.2" y2="171.5" stroke="#111" stroke-width="1.2"/>
<text x="35.7" y="174.1" font-size="7.5" text-anchor="end">800</text>
<line x1="50.3" y1="258.9" x2="50.3" y2="261.9" stroke="#111" stroke-width="1.1"/>
<text x="53.3" y="266.9" font-size="6.6" text-anchor="end" transform="rotate(-45 53.3 266.9)">YARS1</text>
<line x1="69.9" y1="258.9" x2="69.9" y2="261.9" stroke="#111" stroke-width="1.1"/>
<text x="72.9" y="266.9" font-size="6.6" text-anchor="end" transform="rotate(-45 72.9 266.9)">BCL2</text>
<line x1="89.7" y1="258.9" x2="89.7" y2="261.9" stroke="#111" stroke-width="1.1"/>
<text x="92.7" y="266.9" font-size="6.6" text-anchor="end" transform="rotate(-45 92.7 266.9)">GPX4</text>
<line x1="109.6" y1="258.9" x2="109.6" y2="261.9" stroke="#111" stroke-width="1.1"/>
<text x="112.6" y="266.9" font-size="6.6" text-anchor="end" transform="rotate(-45 112.6 266.9)">SLC7A5</text>
<line x1="129.4" y1="258.9" x2="129.4" y2="261.9" stroke="#111" stroke-width="1.1"/>
<text x="132.4" y="266.9" font-size="6.6" text-anchor="end" transform="rotate(-45 132.4 266.9)">SLC7A11</text>
<line x1="149.3" y1="258.9" x2="149.3" y2="261.9" stroke="#111" stroke-width="1.1"/>
<text x="152.3" y="266.9" font-size="6.6" text-anchor="end" transform="rotate(-45 152.3 266.9)">TAT</text>
<line x1="169.3" y1="258.9" x2="169.3" y2="261.9" stroke="#111" stroke-width="1.1"/>
<text x="172.3" y="266.9" font-size="6.6" text-anchor="end" transform="rotate(-45 172.3 266.9)">HGD</text>
<line x1="47" y1="227.2" x2="54" y2="244.2" stroke="#111" stroke-width="1.4"/>
<line x1="47" y1="232.1" x2="54" y2="247.4" stroke="#111" stroke-width="1.4"/>
<line x1="47" y1="248.5" x2="54" y2="254.5" stroke="#111" stroke-width="1.4"/>
<line x1="47" y1="251.3" x2="54" y2="254.5" stroke="#111" stroke-width="1.4"/>
<circle cx="47" cy="227.2" r="1.4" fill="#fff" stroke="#111" stroke-width="1.4"/>
<circle cx="47" cy="232.1" r="1.4" fill="#fff" stroke="#111" stroke-width="1.4"/>
<circle cx="47" cy="248.5" r="1.4" fill="#fff" stroke="#111" stroke-width="1.4"/>
<circle cx="47" cy="251.3" r="1.4" fill="#fff" stroke="#111" stroke-width="1.4"/>
<rect x="52.5" y="242.7" width="3" height="3" fill="#fff" stroke="#d9383f" stroke-width="1.4"/>
<rect x="52.5" y="245.9" width="3" height="3" fill="#fff" stroke="#d9383f" stroke-width="1.4"/>
<rect x="52.5" y="253" width="3" height="3" fill="#fff" stroke="#d9383f" stroke-width="1.4"/>
<rect x="52.5" y="253" width="3" height="3" fill="#fff" stroke="#d9383f" stroke-width="1.4"/>
<line x1="66.6" y1="214.7" x2="73.6" y2="221.8" stroke="#111" stroke-width="1.4"/>
<line x1="66.6" y1="235.4" x2="73.6" y2="243.6" stroke="#111" stroke-width="1.4"/>
<line x1="66.6" y1="242" x2="73.6" y2="245.8" stroke="#111" stroke-width="1.4"/>
<line x1="66.6" y1="251.8" x2="73.6" y2="254" stroke="#111" stroke-width="1.4"/>
<circle cx="66.6" cy="214.7" r="1.4" fill="#fff" stroke="#111" stroke-width="1.4"/>
<circle cx="66.6" cy="235.4" r="1.4" fill="#fff" stroke="#111" stroke-width="1.4"/>
<circle cx="66.6" cy="242" r="1.4" fill="#fff" stroke="#111" stroke-width="1.4"/>
<circle cx="66.6" cy="251.8" r="1.4" fill="#fff" stroke="#111" stroke-width="1.4"/>
<rect x="72.1" y="220.3" width="3" height="3" fill="#fff" stroke="#d9383f" stroke-width="1.4"/>
<rect x="72.1" y="242.1" width="3" height="3" fill="#fff" stroke="#d9383f" stroke-width="1.4"/>
<rect x="72.1" y="244.3" width="3" height="3" fill="#fff" stroke="#d9383f" stroke-width="1.4"/>
<rect x="72.1" y="252.5" width="3" height="3" fill="#fff" stroke="#d9383f" stroke-width="1.4"/>
<line x1="86.4" y1="214.1" x2="93.4" y2="221.2" stroke="#111" stroke-width="1.4"/>
<line x1="86.4" y1="220.1" x2="93.4" y2="224.5" stroke="#111" stroke-width="1.4"/>
<line x1="86.4" y1="249.6" x2="93.4" y2="251.3" stroke="#111" stroke-width="1.4"/>
<line x1="86.4" y1="251.3" x2="93.4" y2="252.3" stroke="#111" stroke-width="1.4"/>
<circle cx="86.4" cy="214.1" r="1.4" fill="#fff" stroke="#111" stroke-width="1.4"/>
<circle cx="86.4" cy="220.1" r="1.4" fill="#fff" stroke="#111" stroke-width="1.4"/>
<circle cx="86.4" cy="249.6" r="1.4" fill="#fff" stroke="#111" stroke-width="1.4"/>
<circle cx="86.4" cy="251.3" r="1.4" fill="#fff" stroke="#111" stroke-width="1.4"/>
<rect x="91.9" y="219.7" width="3" height="3" fill="#fff" stroke="#d9383f" stroke-width="1.4"/>
<rect x="91.9" y="223" width="3" height="3" fill="#fff" stroke="#d9383f" stroke-width="1.4"/>
<rect x="91.9" y="249.8" width="3" height="3" fill="#fff" stroke="#d9383f" stroke-width="1.4"/>
<rect x="91.9" y="250.8" width="3" height="3" fill="#fff" stroke="#d9383f" stroke-width="1.4"/>
<line x1="106.3" y1="198.8" x2="113.3" y2="201.5" stroke="#111" stroke-width="1.4"/>
<line x1="106.3" y1="214.7" x2="113.3" y2="223.9" stroke="#111" stroke-width="1.4"/>
<line x1="106.3" y1="222.3" x2="113.3" y2="233.2" stroke="#111" stroke-width="1.4"/>
<line x1="106.3" y1="234.9" x2="113.3" y2="237" stroke="#111" stroke-width="1.4"/>
<circle cx="106.3" cy="198.8" r="1.4" fill="#fff" stroke="#111" stroke-width="1.4"/>
<circle cx="106.3" cy="214.7" r="1.4" fill="#fff" stroke="#111" stroke-width="1.4"/>
<circle cx="106.3" cy="222.3" r="1.4" fill="#fff" stroke="#111" stroke-width="1.4"/>
<circle cx="106.3" cy="234.9" r="1.4" fill="#fff" stroke="#111" stroke-width="1.4"/>
<rect x="111.8" y="200" width="3" height="3" fill="#fff" stroke="#d9383f" stroke-width="1.4"/>
<rect x="111.8" y="222.4" width="3" height="3" fill="#fff" stroke="#d9383f" stroke-width="1.4"/>
<rect x="111.8" y="231.7" width="3" height="3" fill="#fff" stroke="#d9383f" stroke-width="1.4"/>
<rect x="111.8" y="235.5" width="3" height="3" fill="#fff" stroke="#d9383f" stroke-width="1.4"/>
<line x1="126.1" y1="221.8" x2="133.1" y2="226.1" stroke="#111" stroke-width="1.4"/>
<line x1="126.1" y1="232.7" x2="133.1" y2="236" stroke="#111" stroke-width="1.4"/>
<line x1="126.1" y1="234.3" x2="133.1" y2="236.5" stroke="#111" stroke-width="1.4"/>
<line x1="126.1" y1="237" x2="133.1" y2="243.6" stroke="#111" stroke-width="1.4"/>
<circle cx="126.1" cy="221.8" r="1.4" fill="#fff" stroke="#111" stroke-width="1.4"/>
<circle cx="126.1" cy="232.7" r="1.4" fill="#fff" stroke="#111" stroke-width="1.4"/>
<circle cx="126.1" cy="234.3" r="1.4" fill="#fff" stroke="#111" stroke-width="1.4"/>
<circle cx="126.1" cy="237" r="1.4" fill="#fff" stroke="#111" stroke-width="1.4"/>
<rect x="131.6" y="224.6" width="3" height="3" fill="#fff" stroke="#d9383f" stroke-width="1.4"/>
<rect x="131.6" y="234.5" width="3" height="3" fill="#fff" stroke="#d9383f" stroke-width="1.4"/>
<rect x="131.6" y="235" width="3" height="3" fill="#fff" stroke="#d9383f" stroke-width="1.4"/>
<rect x="131.6" y="242.1" width="3" height="3" fill="#fff" stroke="#d9383f" stroke-width="1.4"/>
<line x1="146" y1="208.1" x2="153" y2="189" stroke="#111" stroke-width="1.4"/>
<line x1="146" y1="224.5" x2="153" y2="217.9" stroke="#111" stroke-width="1.4"/>
<line x1="146" y1="229.9" x2="153" y2="223.9" stroke="#111" stroke-width="1.4"/>
<line x1="146" y1="233.2" x2="153" y2="233.2" stroke="#111" stroke-width="1.4"/>
<circle cx="146" cy="208.1" r="1.4" fill="#fff" stroke="#111" stroke-width="1.4"/>
<circle cx="146" cy="224.5" r="1.4" fill="#fff" stroke="#111" stroke-width="1.4"/>
<circle cx="146" cy="229.9" r="1.4" fill="#fff" stroke="#111" stroke-width="1.4"/>
<circle cx="146" cy="233.2" r="1.4" fill="#fff" stroke="#111" stroke-width="1.4"/>
<rect x="151.5" y="187.5" width="3" height="3" fill="#fff" stroke="#d9383f" stroke-width="1.4"/>
<rect x="151.5" y="216.4" width="3" height="3" fill="#fff" stroke="#d9383f" stroke-width="1.4"/>
<rect x="151.5" y="222.4" width="3" height="3" fill="#fff" stroke="#d9383f" stroke-width="1.4"/>
<rect x="151.5" y="231.7" width="3" height="3" fill="#fff" stroke="#d9383f" stroke-width="1.4"/>
<line x1="166" y1="233.2" x2="173" y2="229.4" stroke="#111" stroke-width="1.4"/>
<line x1="166" y1="240.9" x2="173" y2="236.5" stroke="#111" stroke-width="1.4"/>
<line x1="166" y1="246.3" x2="173" y2="239.2" stroke="#111" stroke-width="1.4"/>
<circle cx="166" cy="233.2" r="1.4" fill="#fff" stroke="#111" stroke-width="1.4"/>
<circle cx="166" cy="240.9" r="1.4" fill="#fff" stroke="#111" stroke-width="1.4"/>
<circle cx="166" cy="246.3" r="1.4" fill="#fff" stroke="#111" stroke-width="1.4"/>
<rect x="171.5" y="227.9" width="3" height="3" fill="#fff" stroke="#d9383f" stroke-width="1.4"/>
<rect x="171.5" y="235" width="3" height="3" fill="#fff" stroke="#d9383f" stroke-width="1.4"/>
<rect x="171.5" y="237.7" width="3" height="3" fill="#fff" stroke="#d9383f" stroke-width="1.4"/>
<text x="110" y="159.8" font-size="7.1" text-anchor="middle">Day 2</text>
<line x1="45.7" y1="173.4" x2="55.2" y2="173.4" stroke="#111" stroke-width="1.2"/>
<circle cx="50.4" cy="173.4" r="1.4" fill="#fff" stroke="#111" stroke-width="1.4"/>
<text x="59.2" y="176" font-size="7.4">Tyr 100%</text>
<line x1="45.7" y1="185.3" x2="55.2" y2="185.3" stroke="#d9383f" stroke-width="1.2"/>
<rect x="48.9" y="183.8" width="3" height="3" fill="#fff" stroke="#d9383f" stroke-width="1.4"/>
<text x="59.2" y="187.9" font-size="7.4">Tyr 0%</text>
<text x="18.5" y="215" font-size="7.2" text-anchor="middle" transform="rotate(-90 18.5 215)">Counts in sgRNA</text>
<line x1="222.5" y1="167" x2="222.5" y2="255.3" stroke="#111" stroke-width="1.3"/>
<line x1="221.9" y1="254.7" x2="363.9" y2="254.7" stroke="#111" stroke-width="1.3"/>
<line x1="218.7" y1="254.7" x2="222.5" y2="254.7" stroke="#111" stroke-width="1.2"/>
<text x="218" y="257.3" font-size="7.5" text-anchor="end">0</text>
<line x1="218.7" y1="225.5" x2="222.5" y2="225.5" stroke="#111" stroke-width="1.2"/>
<text x="218" y="228.1" font-size="7.5" text-anchor="end">200</text>
<line x1="218.7" y1="196.2" x2="222.5" y2="196.2" stroke="#111" stroke-width="1.2"/>
<text x="218" y="198.8" font-size="7.5" text-anchor="end">400</text>
<line x1="218.7" y1="167" x2="222.5" y2="167" stroke="#111" stroke-width="1.2"/>
<text x="218" y="169.6" font-size="7.5" text-anchor="end">600</text>
<line x1="232.2" y1="254.7" x2="232.2" y2="257.7" stroke="#111" stroke-width="1.1"/>
<text x="235.2" y="262.7" font-size="6.6" text-anchor="end" transform="rotate(-45 235.2 262.7)">YARS1</text>
<line x1="252.2" y1="254.7" x2="252.2" y2="257.7" stroke="#111" stroke-width="1.1"/>
<text x="255.2" y="262.7" font-size="6.6" text-anchor="end" transform="rotate(-45 255.2 262.7)">BCL2</text>
<line x1="272.3" y1="254.7" x2="272.3" y2="257.7" stroke="#111" stroke-width="1.1"/>
<text x="275.3" y="262.7" font-size="6.6" text-anchor="end" transform="rotate(-45 275.3 262.7)">GPX4</text>
<line x1="292.3" y1="254.7" x2="292.3" y2="257.7" stroke="#111" stroke-width="1.1"/>
<text x="295.3" y="262.7" font-size="6.6" text-anchor="end" transform="rotate(-45 295.3 262.7)">SLC7A5</text>
<line x1="312.2" y1="254.7" x2="312.2" y2="257.7" stroke="#111" stroke-width="1.1"/>
<text x="315.2" y="262.7" font-size="6.6" text-anchor="end" transform="rotate(-45 315.2 262.7)">SLC7A11</text>
<line x1="332.2" y1="254.7" x2="332.2" y2="257.7" stroke="#111" stroke-width="1.1"/>
<text x="335.2" y="262.7" font-size="6.6" text-anchor="end" transform="rotate(-45 335.2 262.7)">TAT</text>
<line x1="352.3" y1="254.7" x2="352.3" y2="257.7" stroke="#111" stroke-width="1.1"/>
<text x="355.3" y="262.7" font-size="6.6" text-anchor="end" transform="rotate(-45 355.3 262.7)">HGD</text>
<line x1="228.9" y1="219.6" x2="235.9" y2="242.3" stroke="#111" stroke-width="1.4"/>
<line x1="228.9" y1="230.6" x2="235.9" y2="245.9" stroke="#111" stroke-width="1.4"/>
<line x1="228.9" y1="240.1" x2="235.9" y2="247.4" stroke="#111" stroke-width="1.4"/>
<line x1="228.9" y1="248.1" x2="235.9" y2="250.3" stroke="#111" stroke-width="1.4"/>
<circle cx="228.9" cy="219.6" r="1.4" fill="#fff" stroke="#111" stroke-width="1.4"/>
<circle cx="228.9" cy="230.6" r="1.4" fill="#fff" stroke="#111" stroke-width="1.4"/>
<circle cx="228.9" cy="240.1" r="1.4" fill="#fff" stroke="#111" stroke-width="1.4"/>
<circle cx="228.9" cy="248.1" r="1.4" fill="#fff" stroke="#111" stroke-width="1.4"/>
<rect x="234.4" y="240.8" width="3" height="3" fill="#fff" stroke="#d9383f" stroke-width="1.4"/>
<rect x="234.4" y="244.4" width="3" height="3" fill="#fff" stroke="#d9383f" stroke-width="1.4"/>
<rect x="234.4" y="245.9" width="3" height="3" fill="#fff" stroke="#d9383f" stroke-width="1.4"/>
<rect x="234.4" y="248.8" width="3" height="3" fill="#fff" stroke="#d9383f" stroke-width="1.4"/>
<line x1="248.9" y1="197.7" x2="255.9" y2="205" stroke="#111" stroke-width="1.4"/>
<line x1="248.9" y1="216" x2="255.9" y2="235.7" stroke="#111" stroke-width="1.4"/>
<line x1="248.9" y1="240.1" x2="255.9" y2="243.7" stroke="#111" stroke-width="1.4"/>
<line x1="248.9" y1="243" x2="255.9" y2="246.7" stroke="#111" stroke-width="1.4"/>
<circle cx="248.9" cy="197.7" r="1.4" fill="#fff" stroke="#111" stroke-width="1.4"/>
<circle cx="248.9" cy="216" r="1.4" fill="#fff" stroke="#111" stroke-width="1.4"/>
<circle cx="248.9" cy="240.1" r="1.4" fill="#fff" stroke="#111" stroke-width="1.4"/>
<circle cx="248.9" cy="243" r="1.4" fill="#fff" stroke="#111" stroke-width="1.4"/>
<rect x="254.4" y="203.5" width="3" height="3" fill="#fff" stroke="#d9383f" stroke-width="1.4"/>
<rect x="254.4" y="234.2" width="3" height="3" fill="#fff" stroke="#d9383f" stroke-width="1.4"/>
<rect x="254.4" y="242.2" width="3" height="3" fill="#fff" stroke="#d9383f" stroke-width="1.4"/>
<rect x="254.4" y="245.2" width="3" height="3" fill="#fff" stroke="#d9383f" stroke-width="1.4"/>
<line x1="269" y1="209.4" x2="276" y2="210.8" stroke="#111" stroke-width="1.4"/>
<line x1="269" y1="213.8" x2="276" y2="229.9" stroke="#111" stroke-width="1.4"/>
<line x1="269" y1="235.7" x2="276" y2="241.5" stroke="#111" stroke-width="1.4"/>
<line x1="269" y1="236.4" x2="276" y2="242.3" stroke="#111" stroke-width="1.4"/>
<circle cx="269" cy="209.4" r="1.4" fill="#fff" stroke="#111" stroke-width="1.4"/>
<circle cx="269" cy="213.8" r="1.4" fill="#fff" stroke="#111" stroke-width="1.4"/>
<circle cx="269" cy="235.7" r="1.4" fill="#fff" stroke="#111" stroke-width="1.4"/>
<circle cx="269" cy="236.4" r="1.4" fill="#fff" stroke="#111" stroke-width="1.4"/>
<rect x="274.5" y="209.3" width="3" height="3" fill="#fff" stroke="#d9383f" stroke-width="1.4"/>
<rect x="274.5" y="228.4" width="3" height="3" fill="#fff" stroke="#d9383f" stroke-width="1.4"/>
<rect x="274.5" y="240" width="3" height="3" fill="#fff" stroke="#d9383f" stroke-width="1.4"/>
<rect x="274.5" y="240.8" width="3" height="3" fill="#fff" stroke="#d9383f" stroke-width="1.4"/>
<line x1="289" y1="186.7" x2="296" y2="197" stroke="#111" stroke-width="1.4"/>
<line x1="289" y1="207.2" x2="296" y2="219.6" stroke="#111" stroke-width="1.4"/>
<line x1="289" y1="221.8" x2="296" y2="224.7" stroke="#111" stroke-width="1.4"/>
<line x1="289" y1="226.2" x2="296" y2="229.1" stroke="#111" stroke-width="1.4"/>
<circle cx="289" cy="186.7" r="1.4" fill="#fff" stroke="#111" stroke-width="1.4"/>
<circle cx="289" cy="207.2" r="1.4" fill="#fff" stroke="#111" stroke-width="1.4"/>
<circle cx="289" cy="221.8" r="1.4" fill="#fff" stroke="#111" stroke-width="1.4"/>
<circle cx="289" cy="226.2" r="1.4" fill="#fff" stroke="#111" stroke-width="1.4"/>
<rect x="294.5" y="195.5" width="3" height="3" fill="#fff" stroke="#d9383f" stroke-width="1.4"/>
<rect x="294.5" y="218.1" width="3" height="3" fill="#fff" stroke="#d9383f" stroke-width="1.4"/>
<rect x="294.5" y="223.2" width="3" height="3" fill="#fff" stroke="#d9383f" stroke-width="1.4"/>
<rect x="294.5" y="227.6" width="3" height="3" fill="#fff" stroke="#d9383f" stroke-width="1.4"/>
<line x1="308.9" y1="210.1" x2="315.9" y2="216.7" stroke="#111" stroke-width="1.4"/>
<line x1="308.9" y1="212.3" x2="315.9" y2="219.6" stroke="#111" stroke-width="1.4"/>
<line x1="308.9" y1="223.3" x2="315.9" y2="223.3" stroke="#111" stroke-width="1.4"/>
<line x1="308.9" y1="229.9" x2="315.9" y2="236.4" stroke="#111" stroke-width="1.4"/>
<circle cx="308.9" cy="210.1" r="1.4" fill="#fff" stroke="#111" stroke-width="1.4"/>
<circle cx="308.9" cy="212.3" r="1.4" fill="#fff" stroke="#111" stroke-width="1.4"/>
<circle cx="308.9" cy="223.3" r="1.4" fill="#fff" stroke="#111" stroke-width="1.4"/>
<circle cx="308.9" cy="229.9" r="1.4" fill="#fff" stroke="#111" stroke-width="1.4"/>
<rect x="314.4" y="215.2" width="3" height="3" fill="#fff" stroke="#d9383f" stroke-width="1.4"/>
<rect x="314.4" y="218.1" width="3" height="3" fill="#fff" stroke="#d9383f" stroke-width="1.4"/>
<rect x="314.4" y="221.8" width="3" height="3" fill="#fff" stroke="#d9383f" stroke-width="1.4"/>
<rect x="314.4" y="234.9" width="3" height="3" fill="#fff" stroke="#d9383f" stroke-width="1.4"/>
<line x1="328.9" y1="183.1" x2="335.9" y2="176.5" stroke="#111" stroke-width="1.4"/>
<line x1="328.9" y1="213" x2="335.9" y2="199.9" stroke="#111" stroke-width="1.4"/>
<line x1="328.9" y1="221.8" x2="335.9" y2="210.8" stroke="#111" stroke-width="1.4"/>
<line x1="328.9" y1="227.7" x2="335.9" y2="219.6" stroke="#111" stroke-width="1.4"/>
<circle cx="328.9" cy="183.1" r="1.4" fill="#fff" stroke="#111" stroke-width="1.4"/>
<circle cx="328.9" cy="213" r="1.4" fill="#fff" stroke="#111" stroke-width="1.4"/>
<circle cx="328.9" cy="221.8" r="1.4" fill="#fff" stroke="#111" stroke-width="1.4"/>
<circle cx="328.9" cy="227.7" r="1.4" fill="#fff" stroke="#111" stroke-width="1.4"/>
<rect x="334.4" y="175" width="3" height="3" fill="#fff" stroke="#d9383f" stroke-width="1.4"/>
<rect x="334.4" y="198.4" width="3" height="3" fill="#fff" stroke="#d9383f" stroke-width="1.4"/>
<rect x="334.4" y="209.3" width="3" height="3" fill="#fff" stroke="#d9383f" stroke-width="1.4"/>
<rect x="334.4" y="218.1" width="3" height="3" fill="#fff" stroke="#d9383f" stroke-width="1.4"/>
<line x1="349" y1="222.5" x2="356" y2="222.5" stroke="#111" stroke-width="1.4"/>
<line x1="349" y1="232.8" x2="356" y2="229.1" stroke="#111" stroke-width="1.4"/>
<line x1="349" y1="234.2" x2="356" y2="231.3" stroke="#111" stroke-width="1.4"/>
<line x1="349" y1="240.8" x2="356" y2="233.5" stroke="#111" stroke-width="1.4"/>
<circle cx="349" cy="222.5" r="1.4" fill="#fff" stroke="#111" stroke-width="1.4"/>
<circle cx="349" cy="232.8" r="1.4" fill="#fff" stroke="#111" stroke-width="1.4"/>
<circle cx="349" cy="234.2" r="1.4" fill="#fff" stroke="#111" stroke-width="1.4"/>
<circle cx="349" cy="240.8" r="1.4" fill="#fff" stroke="#111" stroke-width="1.4"/>
<rect x="354.5" y="221" width="3" height="3" fill="#fff" stroke="#d9383f" stroke-width="1.4"/>
<rect x="354.5" y="227.6" width="3" height="3" fill="#fff" stroke="#d9383f" stroke-width="1.4"/>
<rect x="354.5" y="229.8" width="3" height="3" fill="#fff" stroke="#d9383f" stroke-width="1.4"/>
<rect x="354.5" y="232" width="3" height="3" fill="#fff" stroke="#d9383f" stroke-width="1.4"/>
<text x="292.7" y="154.5" font-size="7.1" text-anchor="middle">Day 4</text>
<line x1="228" y1="168.3" x2="237.5" y2="168.3" stroke="#111" stroke-width="1.2"/>
<circle cx="232.7" cy="168.3" r="1.4" fill="#fff" stroke="#111" stroke-width="1.4"/>
<text x="241.5" y="170.9" font-size="7.4">Tyr 100%</text>
<line x1="228" y1="180.2" x2="237.5" y2="180.2" stroke="#d9383f" stroke-width="1.2"/>
<rect x="231.2" y="178.7" width="3" height="3" fill="#fff" stroke="#d9383f" stroke-width="1.4"/>
<text x="241.5" y="182.8" font-size="7.4">Tyr 0%</text>
<text x="200" y="210.8" font-size="7.2" text-anchor="middle" transform="rotate(-90 200 210.8)">Counts in sgRNA</text>
<text x="376" y="161" font-size="16.8" fill="#000">d</text>
<ellipse cx="451.3" cy="227.2" rx="45.4" ry="42.4" fill="#8796d8"/>
<ellipse cx="490" cy="227.2" rx="45.4" ry="42.4" fill="#e58989"/>
<clipPath id="cp451"><ellipse cx="451.3" cy="227.2" rx="45.4" ry="42.4"/></clipPath>
<ellipse cx="490" cy="227.2" rx="45.4" ry="42.4" fill="#aa5573" clip-path="url(#cp451)"/>
<text x="426.7" y="229.3" font-size="8.2" font-weight="normal" text-anchor="middle">1079</text>
<text x="470.1" y="229.3" font-size="8.2" font-weight="normal" text-anchor="middle">69</text>
<text x="515.4" y="229.3" font-size="8.2" font-weight="normal" text-anchor="middle">1307</text>
<text x="437.5" y="158.8" font-size="7.1" text-anchor="middle" font-family='"Liberation Serif", serif'>CRISPR screen 2d</text>
<text x="437.5" y="167.3" font-size="7.1" font-weight="bold" text-anchor="middle" font-family='"Liberation Serif", serif' fill="#111">Log<tspan font-size="4.8" dy="1.6">2</tspan><tspan dy="-1.6">FC&lt;-0.3</tspan></text>
<text x="437.5" y="176.3" font-size="7.1" text-anchor="middle" font-family='"Liberation Serif", serif'>(Tyr0%/Tyr 100%)</text>
<text x="501.5" y="158.8" font-size="7.1" text-anchor="middle" font-family='"Liberation Serif", serif'>Proteomics</text>
<text x="501.5" y="167.3" font-size="7.1" font-weight="bold" text-anchor="middle" font-family='"Liberation Serif", serif' fill="#111">Log<tspan font-size="4.8" dy="1.6">2</tspan><tspan dy="-1.6">FC&gt;0.1</tspan></text>
<text x="501.5" y="176.3" font-size="7.1" text-anchor="middle" font-family='"Liberation Serif", serif'>(Tyr0%/Tyr 100%)</text>
<ellipse cx="595" cy="227.8" rx="45.4" ry="42.4" fill="#8796d8"/>
<ellipse cx="634" cy="227.8" rx="45.4" ry="42.4" fill="#e58989"/>
<clipPath id="cp595"><ellipse cx="595" cy="227.8" rx="45.4" ry="42.4"/></clipPath>
<ellipse cx="634" cy="227.8" rx="45.4" ry="42.4" fill="#aa5573" clip-path="url(#cp595)"/>
<text x="571" y="229.9" font-size="8.2" font-weight="normal" text-anchor="middle">1424</text>
<text x="615.2" y="229.9" font-size="8.2" font-weight="normal" text-anchor="middle">114</text>
<text x="659.8" y="229.9" font-size="8.2" font-weight="normal" text-anchor="middle">1262</text>
<text x="582" y="158.8" font-size="7.1" text-anchor="middle" font-family='"Liberation Serif", serif'>CRISPR screen 4d</text>
<text x="582" y="167.3" font-size="7.1" font-weight="bold" text-anchor="middle" font-family='"Liberation Serif", serif' fill="#111">Log<tspan font-size="4.8" dy="1.6">2</tspan><tspan dy="-1.6">FC&lt;-0.3</tspan></text>
<text x="582" y="176.3" font-size="7.1" text-anchor="middle" font-family='"Liberation Serif", serif'>(Tyr0%/Tyr 100%)</text>
<text x="650.3" y="158.8" font-size="7.1" text-anchor="middle" font-family='"Liberation Serif", serif'>Proteomics</text>
<text x="650.3" y="167.3" font-size="7.1" font-weight="bold" text-anchor="middle" font-family='"Liberation Serif", serif' fill="#111">Log<tspan font-size="4.8" dy="1.6">2</tspan><tspan dy="-1.6">FC&gt;0.1</tspan></text>
<text x="650.3" y="176.3" font-size="7.1" text-anchor="middle" font-family='"Liberation Serif", serif'>(Tyr0%/Tyr 100%)</text>
<text x="0" y="291" font-size="16.8" fill="#000">e</text>
<line x1="18.1" y1="307.8" x2="18.1" y2="366.3" stroke="#111" stroke-width="1.4"/>
<line x1="17.4" y1="365.6" x2="70" y2="365.6" stroke="#111" stroke-width="1.4"/>
<line x1="16.1" y1="307.8" x2="18.1" y2="307.8" stroke="#111" stroke-width=".9"/>
<text x="15.3" y="309.6" font-size="5" text-anchor="end">1.2</text>
<line x1="16.1" y1="327.1" x2="18.1" y2="327.1" stroke="#111" stroke-width=".9"/>
<text x="15.3" y="328.9" font-size="5" text-anchor="end">0.8</text>
<line x1="16.1" y1="346.3" x2="18.1" y2="346.3" stroke="#111" stroke-width=".9"/>
<text x="15.3" y="348.1" font-size="5" text-anchor="end">0.4</text>
<line x1="16.1" y1="365.6" x2="18.1" y2="365.6" stroke="#111" stroke-width=".9"/>
<text x="15.3" y="367.4" font-size="5" text-anchor="end">0.0</text>
<line x1="18.1" y1="365.6" x2="18.1" y2="367.6" stroke="#111" stroke-width=".9"/>
<text x="18.1" y="374.2" font-size="5" text-anchor="middle">0</text>
<line x1="27.8" y1="365.6" x2="27.8" y2="367.6" stroke="#111" stroke-width=".9"/>
<text x="27.8" y="374.2" font-size="5" text-anchor="middle">0.1</text>
<line x1="37.2" y1="365.6" x2="37.2" y2="367.6" stroke="#111" stroke-width=".9"/>
<text x="37.2" y="374.2" font-size="5" text-anchor="middle">0.5</text>
<line x1="47.1" y1="365.6" x2="47.1" y2="367.6" stroke="#111" stroke-width=".9"/>
<text x="47.1" y="374.2" font-size="5" text-anchor="middle">1</text>
<line x1="56.6" y1="365.6" x2="56.6" y2="367.6" stroke="#111" stroke-width=".9"/>
<text x="56.6" y="374.2" font-size="5" text-anchor="middle">5</text>
<line x1="66.3" y1="365.6" x2="66.3" y2="367.6" stroke="#111" stroke-width=".9"/>
<text x="66.3" y="374.2" font-size="5" text-anchor="middle">10</text>
<polyline points="18.1,317.4 27.8,318.9 37.2,318.9 47.1,318.9 56.6,334.3 66.3,343" fill="none" stroke="#111" stroke-width="1.1"/>
<polyline points="18.1,317.4 27.8,332.8 37.2,332.8 47.1,335.7 56.6,347.8 66.3,355" fill="none" stroke="#dc3c41" stroke-width="1.1"/>
<circle cx="18.1" cy="317.4" r="1.6" fill="#777" stroke="#111" stroke-width="1"/>
<circle cx="27.8" cy="318.9" r="1.6" fill="#777" stroke="#111" stroke-width="1"/>
<circle cx="37.2" cy="318.9" r="1.6" fill="#777" stroke="#111" stroke-width="1"/>
<circle cx="47.1" cy="318.9" r="1.6" fill="#777" stroke="#111" stroke-width="1"/>
<circle cx="56.6" cy="334.3" r="1.6" fill="#777" stroke="#111" stroke-width="1"/>
<circle cx="66.3" cy="343" r="1.6" fill="#777" stroke="#111" stroke-width="1"/>
<rect x="16.6" y="315.9" width="3" height="3" fill="#f2b4b4" stroke="#dc3c41" stroke-width="1"/>
<rect x="26.3" y="331.3" width="3" height="3" fill="#f2b4b4" stroke="#dc3c41" stroke-width="1"/>
<rect x="35.7" y="331.3" width="3" height="3" fill="#f2b4b4" stroke="#dc3c41" stroke-width="1"/>
<rect x="45.6" y="334.2" width="3" height="3" fill="#f2b4b4" stroke="#dc3c41" stroke-width="1"/>
<rect x="55.1" y="346.3" width="3" height="3" fill="#f2b4b4" stroke="#dc3c41" stroke-width="1"/>
<rect x="64.8" y="353.5" width="3" height="3" fill="#f2b4b4" stroke="#dc3c41" stroke-width="1"/>
<line x1="18.1" y1="313.6" x2="18.1" y2="321.3" stroke="#111" stroke-width=".7"/>
<line x1="16.9" y1="313.6" x2="19.3" y2="313.6" stroke="#111" stroke-width=".7"/>
<line x1="16.9" y1="321.3" x2="19.3" y2="321.3" stroke="#111" stroke-width=".7"/>
<line x1="18.1" y1="313.6" x2="18.1" y2="321.3" stroke="#dc3c41" stroke-width=".7"/>
<line x1="16.9" y1="313.6" x2="19.3" y2="313.6" stroke="#dc3c41" stroke-width=".7"/>
<line x1="16.9" y1="321.3" x2="19.3" y2="321.3" stroke="#dc3c41" stroke-width=".7"/>
<line x1="27.8" y1="317" x2="27.8" y2="320.8" stroke="#111" stroke-width=".7"/>
<line x1="26.6" y1="317" x2="29" y2="317" stroke="#111" stroke-width=".7"/>
<line x1="26.6" y1="320.8" x2="29" y2="320.8" stroke="#111" stroke-width=".7"/>
<line x1="27.8" y1="331.4" x2="27.8" y2="334.3" stroke="#dc3c41" stroke-width=".7"/>
<line x1="26.6" y1="331.4" x2="29" y2="331.4" stroke="#dc3c41" stroke-width=".7"/>
<line x1="26.6" y1="334.3" x2="29" y2="334.3" stroke="#dc3c41" stroke-width=".7"/>
<line x1="37.2" y1="317" x2="37.2" y2="320.8" stroke="#111" stroke-width=".7"/>
<line x1="36" y1="317" x2="38.4" y2="317" stroke="#111" stroke-width=".7"/>
<line x1="36" y1="320.8" x2="38.4" y2="320.8" stroke="#111" stroke-width=".7"/>
<line x1="37.2" y1="331.4" x2="37.2" y2="334.3" stroke="#dc3c41" stroke-width=".7"/>
<line x1="36" y1="331.4" x2="38.4" y2="331.4" stroke="#dc3c41" stroke-width=".7"/>
<line x1="36" y1="334.3" x2="38.4" y2="334.3" stroke="#dc3c41" stroke-width=".7"/>
<line x1="56.6" y1="332.8" x2="56.6" y2="335.7" stroke="#111" stroke-width=".7"/>
<line x1="55.4" y1="332.8" x2="57.8" y2="332.8" stroke="#111" stroke-width=".7"/>
<line x1="55.4" y1="335.7" x2="57.8" y2="335.7" stroke="#111" stroke-width=".7"/>
<text x="47.1" y="299.7" font-size="6.4" text-anchor="middle">SNU398</text>
<line x1="26" y1="305.3" x2="32" y2="305.3" stroke="#111" stroke-width=".9"/>
<circle cx="29" cy="305.3" r="1.6" fill="#777" stroke="#111" stroke-width="1"/>
<text x="35" y="307.3" font-size="5.5" textLength="22.5" lengthAdjust="spacingAndGlyphs">Tyr 100%</text>
<line x1="26" y1="312.3" x2="32" y2="312.3" stroke="#dc3c41" stroke-width=".9"/>
<rect x="27.5" y="310.8" width="3" height="3" fill="#f2b4b4" stroke="#dc3c41" stroke-width="1"/>
<text x="35" y="314.3" font-size="5.5" textLength="16" lengthAdjust="spacingAndGlyphs">Tyr 0%</text>
<line x1="60.8" y1="303.8" x2="60.8" y2="313.8" stroke="#111" stroke-width="1"/>
<text x="64" y="301.5" font-size="4.6" transform="rotate(90 64 301.5)">p=1.85×10⁻⁴</text>
<text x="44.2" y="382.4" font-size="5.4" text-anchor="middle">RSL3 (μM)</text>
<text x="5.1" y="337.7" font-size="5.5" text-anchor="middle" transform="rotate(-90 5.1 337.7)">Relative Cell viability</text>
<line x1="103" y1="307.8" x2="103" y2="366.3" stroke="#111" stroke-width="1.4"/>
<line x1="102.3" y1="365.6" x2="155" y2="365.6" stroke="#111" stroke-width="1.4"/>
<line x1="101" y1="307.8" x2="103" y2="307.8" stroke="#111" stroke-width=".9"/>
<text x="100.2" y="309.6" font-size="5" text-anchor="end">1.2</text>
<line x1="101" y1="327.1" x2="103" y2="327.1" stroke="#111" stroke-width=".9"/>
<text x="100.2" y="328.9" font-size="5" text-anchor="end">0.8</text>
<line x1="101" y1="346.3" x2="103" y2="346.3" stroke="#111" stroke-width=".9"/>
<text x="100.2" y="348.1" font-size="5" text-anchor="end">0.4</text>
<line x1="101" y1="365.6" x2="103" y2="365.6" stroke="#111" stroke-width=".9"/>
<text x="100.2" y="367.4" font-size="5" text-anchor="end">0.0</text>
<line x1="103" y1="365.6" x2="103" y2="367.6" stroke="#111" stroke-width=".9"/>
<text x="103" y="374.2" font-size="5" text-anchor="middle">0</text>
<line x1="112.4" y1="365.6" x2="112.4" y2="367.6" stroke="#111" stroke-width=".9"/>
<text x="112.4" y="374.2" font-size="5" text-anchor="middle">0.1</text>
<line x1="122.1" y1="365.6" x2="122.1" y2="367.6" stroke="#111" stroke-width=".9"/>
<text x="122.1" y="374.2" font-size="5" text-anchor="middle">0.5</text>
<line x1="132.3" y1="365.6" x2="132.3" y2="367.6" stroke="#111" stroke-width=".9"/>
<text x="132.3" y="374.2" font-size="5" text-anchor="middle">1</text>
<line x1="141.4" y1="365.6" x2="141.4" y2="367.6" stroke="#111" stroke-width=".9"/>
<text x="141.4" y="374.2" font-size="5" text-anchor="middle">5</text>
<line x1="150.9" y1="365.6" x2="150.9" y2="367.6" stroke="#111" stroke-width=".9"/>
<text x="150.9" y="374.2" font-size="5" text-anchor="middle">10</text>
<polyline points="103,317.4 112.4,320.8 122.1,322.7 132.3,327.1 141.4,329 150.9,335.3" fill="none" stroke="#111" stroke-width="1.1"/>
<polyline points="103,317.4 112.4,327.1 122.1,330.9 132.3,333.8 141.4,341 150.9,354" fill="none" stroke="#dc3c41" stroke-width="1.1"/>
<circle cx="103" cy="317.4" r="1.6" fill="#777" stroke="#111" stroke-width="1"/>
<circle cx="112.4" cy="320.8" r="1.6" fill="#777" stroke="#111" stroke-width="1"/>
<circle cx="122.1" cy="322.7" r="1.6" fill="#777" stroke="#111" stroke-width="1"/>
<circle cx="132.3" cy="327.1" r="1.6" fill="#777" stroke="#111" stroke-width="1"/>
<circle cx="141.4" cy="329" r="1.6" fill="#777" stroke="#111" stroke-width="1"/>
<circle cx="150.9" cy="335.3" r="1.6" fill="#777" stroke="#111" stroke-width="1"/>
<rect x="101.5" y="315.9" width="3" height="3" fill="#f2b4b4" stroke="#dc3c41" stroke-width="1"/>
<rect x="110.9" y="325.6" width="3" height="3" fill="#f2b4b4" stroke="#dc3c41" stroke-width="1"/>
<rect x="120.6" y="329.4" width="3" height="3" fill="#f2b4b4" stroke="#dc3c41" stroke-width="1"/>
<rect x="130.8" y="332.3" width="3" height="3" fill="#f2b4b4" stroke="#dc3c41" stroke-width="1"/>
<rect x="139.9" y="339.5" width="3" height="3" fill="#f2b4b4" stroke="#dc3c41" stroke-width="1"/>
<rect x="149.4" y="352.5" width="3" height="3" fill="#f2b4b4" stroke="#dc3c41" stroke-width="1"/>
<line x1="103" y1="316" x2="103" y2="318.9" stroke="#111" stroke-width=".7"/>
<line x1="101.8" y1="316" x2="104.2" y2="316" stroke="#111" stroke-width=".7"/>
<line x1="101.8" y1="318.9" x2="104.2" y2="318.9" stroke="#111" stroke-width=".7"/>
<line x1="103" y1="316.5" x2="103" y2="318.4" stroke="#dc3c41" stroke-width=".7"/>
<line x1="101.8" y1="316.5" x2="104.2" y2="316.5" stroke="#dc3c41" stroke-width=".7"/>
<line x1="101.8" y1="318.4" x2="104.2" y2="318.4" stroke="#dc3c41" stroke-width=".7"/>
<line x1="112.4" y1="318.9" x2="112.4" y2="322.7" stroke="#111" stroke-width=".7"/>
<line x1="111.2" y1="318.9" x2="113.6" y2="318.9" stroke="#111" stroke-width=".7"/>
<line x1="111.2" y1="322.7" x2="113.6" y2="322.7" stroke="#111" stroke-width=".7"/>
<line x1="122.1" y1="321.3" x2="122.1" y2="324.2" stroke="#111" stroke-width=".7"/>
<line x1="120.9" y1="321.3" x2="123.3" y2="321.3" stroke="#111" stroke-width=".7"/>
<line x1="120.9" y1="324.2" x2="123.3" y2="324.2" stroke="#111" stroke-width=".7"/>
<line x1="122.1" y1="328.5" x2="122.1" y2="333.3" stroke="#dc3c41" stroke-width=".7"/>
<line x1="120.9" y1="328.5" x2="123.3" y2="328.5" stroke="#dc3c41" stroke-width=".7"/>
<line x1="120.9" y1="333.3" x2="123.3" y2="333.3" stroke="#dc3c41" stroke-width=".7"/>
<line x1="132.3" y1="325.1" x2="132.3" y2="329" stroke="#111" stroke-width=".7"/>
<line x1="131.1" y1="325.1" x2="133.5" y2="325.1" stroke="#111" stroke-width=".7"/>
<line x1="131.1" y1="329" x2="133.5" y2="329" stroke="#111" stroke-width=".7"/>
<line x1="141.4" y1="339.1" x2="141.4" y2="343" stroke="#dc3c41" stroke-width=".7"/>
<line x1="140.2" y1="339.1" x2="142.6" y2="339.1" stroke="#dc3c41" stroke-width=".7"/>
<line x1="140.2" y1="343" x2="142.6" y2="343" stroke="#dc3c41" stroke-width=".7"/>
<line x1="150.9" y1="331.9" x2="150.9" y2="338.6" stroke="#111" stroke-width=".7"/>
<line x1="149.7" y1="331.9" x2="152.1" y2="331.9" stroke="#111" stroke-width=".7"/>
<line x1="149.7" y1="338.6" x2="152.1" y2="338.6" stroke="#111" stroke-width=".7"/>
<text x="132.3" y="299.7" font-size="6.4" text-anchor="middle">SNU449</text>
<line x1="111" y1="305.3" x2="117" y2="305.3" stroke="#111" stroke-width=".9"/>
<circle cx="114" cy="305.3" r="1.6" fill="#777" stroke="#111" stroke-width="1"/>
<text x="120" y="307.3" font-size="5.5" textLength="22.5" lengthAdjust="spacingAndGlyphs">Tyr 100%</text>
<line x1="111" y1="312.3" x2="117" y2="312.3" stroke="#dc3c41" stroke-width=".9"/>
<rect x="112.5" y="310.8" width="3" height="3" fill="#f2b4b4" stroke="#dc3c41" stroke-width="1"/>
<text x="120" y="314.3" font-size="5.5" textLength="16" lengthAdjust="spacingAndGlyphs">Tyr 0%</text>
<line x1="144.7" y1="303.8" x2="144.7" y2="313.8" stroke="#111" stroke-width="1"/>
<text x="147.9" y="301.5" font-size="4.6" transform="rotate(90 147.9 301.5)">p=0.0033</text>
<text x="128.9" y="382.4" font-size="5.4" text-anchor="middle">RSL3 (μM)</text>
<text x="90" y="337.7" font-size="5.5" text-anchor="middle" transform="rotate(-90 90 337.7)">Relative Cell viability</text>
<line x1="19.4" y1="414" x2="19.4" y2="472" stroke="#111" stroke-width="1.4"/>
<line x1="18.7" y1="471.3" x2="70" y2="471.3" stroke="#111" stroke-width="1.4"/>
<line x1="17.4" y1="414" x2="19.4" y2="414" stroke="#111" stroke-width=".9"/>
<text x="16.6" y="415.8" font-size="5" text-anchor="end">1.2</text>
<line x1="17.4" y1="428.3" x2="19.4" y2="428.3" stroke="#111" stroke-width=".9"/>
<text x="16.6" y="430.1" font-size="5" text-anchor="end">1.0</text>
<line x1="17.4" y1="442.6" x2="19.4" y2="442.6" stroke="#111" stroke-width=".9"/>
<text x="16.6" y="444.4" font-size="5" text-anchor="end">0.8</text>
<line x1="17.4" y1="457" x2="19.4" y2="457" stroke="#111" stroke-width=".9"/>
<text x="16.6" y="458.8" font-size="5" text-anchor="end">0.6</text>
<line x1="17.4" y1="471.3" x2="19.4" y2="471.3" stroke="#111" stroke-width=".9"/>
<text x="16.6" y="473.1" font-size="5" text-anchor="end">0.4</text>
<line x1="19.4" y1="471.3" x2="19.4" y2="473.3" stroke="#111" stroke-width=".9"/>
<text x="19.4" y="479.9" font-size="5" text-anchor="middle">0</text>
<line x1="28.5" y1="471.3" x2="28.5" y2="473.3" stroke="#111" stroke-width=".9"/>
<text x="28.5" y="479.9" font-size="5" text-anchor="middle">0.1</text>
<line x1="38.5" y1="471.3" x2="38.5" y2="473.3" stroke="#111" stroke-width=".9"/>
<text x="38.5" y="479.9" font-size="5" text-anchor="middle">0.5</text>
<line x1="47.9" y1="471.3" x2="47.9" y2="473.3" stroke="#111" stroke-width=".9"/>
<text x="47.9" y="479.9" font-size="5" text-anchor="middle">1</text>
<line x1="57.6" y1="471.3" x2="57.6" y2="473.3" stroke="#111" stroke-width=".9"/>
<text x="57.6" y="479.9" font-size="5" text-anchor="middle">5</text>
<line x1="66.5" y1="471.3" x2="66.5" y2="473.3" stroke="#111" stroke-width=".9"/>
<text x="66.5" y="479.9" font-size="5" text-anchor="middle">10</text>
<polyline points="19.4,428.3 28.5,436.9 38.5,437.6 47.9,440.5 57.6,441.2 66.5,450.5" fill="none" stroke="#111" stroke-width="1.1"/>
<polyline points="19.4,428.3 28.5,440.5 38.5,440.5 47.9,448.4 57.6,452 66.5,462.7" fill="none" stroke="#dc3c41" stroke-width="1.1"/>
<circle cx="19.4" cy="428.3" r="1.6" fill="#777" stroke="#111" stroke-width="1"/>
<circle cx="28.5" cy="436.9" r="1.6" fill="#777" stroke="#111" stroke-width="1"/>
<circle cx="38.5" cy="437.6" r="1.6" fill="#777" stroke="#111" stroke-width="1"/>
<circle cx="47.9" cy="440.5" r="1.6" fill="#777" stroke="#111" stroke-width="1"/>
<circle cx="57.6" cy="441.2" r="1.6" fill="#777" stroke="#111" stroke-width="1"/>
<circle cx="66.5" cy="450.5" r="1.6" fill="#777" stroke="#111" stroke-width="1"/>
<rect x="17.9" y="426.8" width="3" height="3" fill="#f2b4b4" stroke="#dc3c41" stroke-width="1"/>
<rect x="27" y="439" width="3" height="3" fill="#f2b4b4" stroke="#dc3c41" stroke-width="1"/>
<rect x="37" y="439" width="3" height="3" fill="#f2b4b4" stroke="#dc3c41" stroke-width="1"/>
<rect x="46.4" y="446.9" width="3" height="3" fill="#f2b4b4" stroke="#dc3c41" stroke-width="1"/>
<rect x="56.1" y="450.5" width="3" height="3" fill="#f2b4b4" stroke="#dc3c41" stroke-width="1"/>
<rect x="65" y="461.2" width="3" height="3" fill="#f2b4b4" stroke="#dc3c41" stroke-width="1"/>
<line x1="19.4" y1="424.7" x2="19.4" y2="431.9" stroke="#111" stroke-width=".7"/>
<line x1="18.2" y1="424.7" x2="20.6" y2="424.7" stroke="#111" stroke-width=".7"/>
<line x1="18.2" y1="431.9" x2="20.6" y2="431.9" stroke="#111" stroke-width=".7"/>
<line x1="19.4" y1="425.5" x2="19.4" y2="431.2" stroke="#dc3c41" stroke-width=".7"/>
<line x1="18.2" y1="425.5" x2="20.6" y2="425.5" stroke="#dc3c41" stroke-width=".7"/>
<line x1="18.2" y1="431.2" x2="20.6" y2="431.2" stroke="#dc3c41" stroke-width=".7"/>
<line x1="28.5" y1="435.5" x2="28.5" y2="438.4" stroke="#111" stroke-width=".7"/>
<line x1="27.3" y1="435.5" x2="29.7" y2="435.5" stroke="#111" stroke-width=".7"/>
<line x1="27.3" y1="438.4" x2="29.7" y2="438.4" stroke="#111" stroke-width=".7"/>
<line x1="38.5" y1="435.5" x2="38.5" y2="439.8" stroke="#111" stroke-width=".7"/>
<line x1="37.3" y1="435.5" x2="39.7" y2="435.5" stroke="#111" stroke-width=".7"/>
<line x1="37.3" y1="439.8" x2="39.7" y2="439.8" stroke="#111" stroke-width=".7"/>
<line x1="38.5" y1="436.9" x2="38.5" y2="444.1" stroke="#dc3c41" stroke-width=".7"/>
<line x1="37.3" y1="436.9" x2="39.7" y2="436.9" stroke="#dc3c41" stroke-width=".7"/>
<line x1="37.3" y1="444.1" x2="39.7" y2="444.1" stroke="#dc3c41" stroke-width=".7"/>
<line x1="47.9" y1="446.9" x2="47.9" y2="449.8" stroke="#dc3c41" stroke-width=".7"/>
<line x1="46.7" y1="446.9" x2="49.1" y2="446.9" stroke="#dc3c41" stroke-width=".7"/>
<line x1="46.7" y1="449.8" x2="49.1" y2="449.8" stroke="#dc3c41" stroke-width=".7"/>
<line x1="57.6" y1="439.1" x2="57.6" y2="443.4" stroke="#111" stroke-width=".7"/>
<line x1="56.4" y1="439.1" x2="58.8" y2="439.1" stroke="#111" stroke-width=".7"/>
<line x1="56.4" y1="443.4" x2="58.8" y2="443.4" stroke="#111" stroke-width=".7"/>
<line x1="57.6" y1="449.1" x2="57.6" y2="454.8" stroke="#dc3c41" stroke-width=".7"/>
<line x1="56.4" y1="449.1" x2="58.8" y2="449.1" stroke="#dc3c41" stroke-width=".7"/>
<line x1="56.4" y1="454.8" x2="58.8" y2="454.8" stroke="#dc3c41" stroke-width=".7"/>
<line x1="66.5" y1="462" x2="66.5" y2="463.4" stroke="#dc3c41" stroke-width=".7"/>
<line x1="65.3" y1="462" x2="67.7" y2="462" stroke="#dc3c41" stroke-width=".7"/>
<line x1="65.3" y1="463.4" x2="67.7" y2="463.4" stroke="#dc3c41" stroke-width=".7"/>
<text x="47.6" y="405.3" font-size="6.4" text-anchor="middle">HCCLM3</text>
<line x1="28" y1="411" x2="34" y2="411" stroke="#111" stroke-width=".9"/>
<circle cx="31" cy="411" r="1.6" fill="#777" stroke="#111" stroke-width="1"/>
<text x="37" y="413" font-size="5.5" textLength="22.5" lengthAdjust="spacingAndGlyphs">Tyr 100%</text>
<line x1="28" y1="418" x2="34" y2="418" stroke="#dc3c41" stroke-width=".9"/>
<rect x="29.5" y="416.5" width="3" height="3" fill="#f2b4b4" stroke="#dc3c41" stroke-width="1"/>
<text x="37" y="420" font-size="5.5" textLength="16" lengthAdjust="spacingAndGlyphs">Tyr 0%</text>
<line x1="61" y1="409.5" x2="61" y2="419.5" stroke="#111" stroke-width="1"/>
<text x="64.2" y="407.2" font-size="4.6" transform="rotate(90 64.2 407.2)">p=1.52×10⁻⁴</text>
<text x="45" y="488.1" font-size="5.4" text-anchor="middle">RSL3 (μM)</text>
<text x="6.4" y="443.6" font-size="5.5" text-anchor="middle" transform="rotate(-90 6.4 443.6)">Relative Cell viability</text>
<line x1="103" y1="414" x2="103" y2="472" stroke="#111" stroke-width="1.4"/>
<line x1="102.3" y1="471.3" x2="155" y2="471.3" stroke="#111" stroke-width="1.4"/>
<line x1="101" y1="414" x2="103" y2="414" stroke="#111" stroke-width=".9"/>
<text x="100.2" y="415.8" font-size="5" text-anchor="end">1.2</text>
<line x1="101" y1="433.1" x2="103" y2="433.1" stroke="#111" stroke-width=".9"/>
<text x="100.2" y="434.9" font-size="5" text-anchor="end">0.8</text>
<line x1="101" y1="452.2" x2="103" y2="452.2" stroke="#111" stroke-width=".9"/>
<text x="100.2" y="454" font-size="5" text-anchor="end">0.4</text>
<line x1="101" y1="471.3" x2="103" y2="471.3" stroke="#111" stroke-width=".9"/>
<text x="100.2" y="473.1" font-size="5" text-anchor="end">0.0</text>
<line x1="103" y1="471.3" x2="103" y2="473.3" stroke="#111" stroke-width=".9"/>
<text x="103" y="479.9" font-size="5" text-anchor="middle">0</text>
<line x1="112.4" y1="471.3" x2="112.4" y2="473.3" stroke="#111" stroke-width=".9"/>
<text x="112.4" y="479.9" font-size="5" text-anchor="middle">0.1</text>
<line x1="122.1" y1="471.3" x2="122.1" y2="473.3" stroke="#111" stroke-width=".9"/>
<text x="122.1" y="479.9" font-size="5" text-anchor="middle">0.5</text>
<line x1="132.3" y1="471.3" x2="132.3" y2="473.3" stroke="#111" stroke-width=".9"/>
<text x="132.3" y="479.9" font-size="5" text-anchor="middle">1</text>
<line x1="141.4" y1="471.3" x2="141.4" y2="473.3" stroke="#111" stroke-width=".9"/>
<text x="141.4" y="479.9" font-size="5" text-anchor="middle">5</text>
<line x1="150.9" y1="471.3" x2="150.9" y2="473.3" stroke="#111" stroke-width=".9"/>
<text x="150.9" y="479.9" font-size="5" text-anchor="middle">10</text>
<polyline points="103,423.6 112.4,423.6 122.1,422.1 132.3,421.2 141.4,432.1 150.9,448.9" fill="none" stroke="#111" stroke-width="1.1"/>
<polyline points="103,423.6 112.4,425.9 122.1,427.4 132.3,442.6 141.4,456 150.9,460.3" fill="none" stroke="#dc3c41" stroke-width="1.1"/>
<circle cx="103" cy="423.6" r="1.6" fill="#777" stroke="#111" stroke-width="1"/>
<circle cx="112.4" cy="423.6" r="1.6" fill="#777" stroke="#111" stroke-width="1"/>
<circle cx="122.1" cy="422.1" r="1.6" fill="#777" stroke="#111" stroke-width="1"/>
<circle cx="132.3" cy="421.2" r="1.6" fill="#777" stroke="#111" stroke-width="1"/>
<circle cx="141.4" cy="432.1" r="1.6" fill="#777" stroke="#111" stroke-width="1"/>
<circle cx="150.9" cy="448.9" r="1.6" fill="#777" stroke="#111" stroke-width="1"/>
<rect x="101.5" y="422.1" width="3" height="3" fill="#f2b4b4" stroke="#dc3c41" stroke-width="1"/>
<rect x="110.9" y="424.4" width="3" height="3" fill="#f2b4b4" stroke="#dc3c41" stroke-width="1"/>
<rect x="120.6" y="425.9" width="3" height="3" fill="#f2b4b4" stroke="#dc3c41" stroke-width="1"/>
<rect x="130.8" y="441.1" width="3" height="3" fill="#f2b4b4" stroke="#dc3c41" stroke-width="1"/>
<rect x="139.9" y="454.5" width="3" height="3" fill="#f2b4b4" stroke="#dc3c41" stroke-width="1"/>
<rect x="149.4" y="458.8" width="3" height="3" fill="#f2b4b4" stroke="#dc3c41" stroke-width="1"/>
<line x1="132.3" y1="440.7" x2="132.3" y2="444.6" stroke="#dc3c41" stroke-width=".7"/>
<line x1="131.1" y1="440.7" x2="133.5" y2="440.7" stroke="#dc3c41" stroke-width=".7"/>
<line x1="131.1" y1="444.6" x2="133.5" y2="444.6" stroke="#dc3c41" stroke-width=".7"/>
<line x1="141.4" y1="430.7" x2="141.4" y2="433.6" stroke="#111" stroke-width=".7"/>
<line x1="140.2" y1="430.7" x2="142.6" y2="430.7" stroke="#111" stroke-width=".7"/>
<line x1="140.2" y1="433.6" x2="142.6" y2="433.6" stroke="#111" stroke-width=".7"/>
<text x="131.5" y="405.3" font-size="6.4" text-anchor="middle">PLCPRF5</text>
<line x1="111" y1="411" x2="117" y2="411" stroke="#111" stroke-width=".9"/>
<circle cx="114" cy="411" r="1.6" fill="#777" stroke="#111" stroke-width="1"/>
<text x="120" y="413" font-size="5.5" textLength="22.5" lengthAdjust="spacingAndGlyphs">Tyr 100%</text>
<line x1="111" y1="418" x2="117" y2="418" stroke="#dc3c41" stroke-width=".9"/>
<rect x="112.5" y="416.5" width="3" height="3" fill="#f2b4b4" stroke="#dc3c41" stroke-width="1"/>
<text x="120" y="420" font-size="5.5" textLength="16" lengthAdjust="spacingAndGlyphs">Tyr 0%</text>
<line x1="144.7" y1="409.5" x2="144.7" y2="419.5" stroke="#111" stroke-width="1"/>
<text x="147.9" y="407.2" font-size="4.6" transform="rotate(90 147.9 407.2)">p=2.37×10⁻⁷</text>
<text x="128.9" y="488.1" font-size="5.4" text-anchor="middle">RSL3 (μM)</text>
<text x="90" y="443.6" font-size="5.5" text-anchor="middle" transform="rotate(-90 90 443.6)">Relative Cell viability</text>
<text x="168.5" y="290" font-size="16.8" fill="#000">f</text>
<line x1="196" y1="308.4" x2="196" y2="367" stroke="#111" stroke-width="1.4"/>
<line x1="195.3" y1="366.3" x2="252" y2="366.3" stroke="#111" stroke-width="1.4"/>
<line x1="194" y1="308.4" x2="196" y2="308.4" stroke="#111" stroke-width=".9"/>
<text x="193.2" y="310.2" font-size="5" text-anchor="end">1.2</text>
<line x1="194" y1="327.7" x2="196" y2="327.7" stroke="#111" stroke-width=".9"/>
<text x="193.2" y="329.5" font-size="5" text-anchor="end">0.8</text>
<line x1="194" y1="347" x2="196" y2="347" stroke="#111" stroke-width=".9"/>
<text x="193.2" y="348.8" font-size="5" text-anchor="end">0.4</text>
<line x1="194" y1="366.3" x2="196" y2="366.3" stroke="#111" stroke-width=".9"/>
<text x="193.2" y="368.1" font-size="5" text-anchor="end">0.0</text>
<line x1="200.5" y1="366.3" x2="200.5" y2="368.3" stroke="#111" stroke-width=".9"/>
<text x="200.5" y="374.9" font-size="5" text-anchor="middle">0</text>
<line x1="210.3" y1="366.3" x2="210.3" y2="368.3" stroke="#111" stroke-width=".9"/>
<text x="210.3" y="374.9" font-size="5" text-anchor="middle">0.1</text>
<line x1="220.3" y1="366.3" x2="220.3" y2="368.3" stroke="#111" stroke-width=".9"/>
<text x="220.3" y="374.9" font-size="5" text-anchor="middle">1</text>
<line x1="229.7" y1="366.3" x2="229.7" y2="368.3" stroke="#111" stroke-width=".9"/>
<text x="229.7" y="374.9" font-size="5" text-anchor="middle">5</text>
<line x1="239.5" y1="366.3" x2="239.5" y2="368.3" stroke="#111" stroke-width=".9"/>
<text x="239.5" y="374.9" font-size="5" text-anchor="middle">10</text>
<line x1="249.2" y1="366.3" x2="249.2" y2="368.3" stroke="#111" stroke-width=".9"/>
<text x="249.2" y="374.9" font-size="5" text-anchor="middle">50</text>
<polyline points="200.5,318.5 210.3,320.5 220.3,320.9 229.7,320.5 239.5,334.9 249.2,351.8" fill="none" stroke="#111" stroke-width="1.1"/>
<polyline points="200.5,318.5 210.3,319.5 220.3,324.3 229.7,333.5 239.5,344.6 249.2,358.1" fill="none" stroke="#dc3c41" stroke-width="1.1"/>
<circle cx="200.5" cy="318.5" r="1.6" fill="#777" stroke="#111" stroke-width="1"/>
<circle cx="210.3" cy="320.5" r="1.6" fill="#777" stroke="#111" stroke-width="1"/>
<circle cx="220.3" cy="320.9" r="1.6" fill="#777" stroke="#111" stroke-width="1"/>
<circle cx="229.7" cy="320.5" r="1.6" fill="#777" stroke="#111" stroke-width="1"/>
<circle cx="239.5" cy="334.9" r="1.6" fill="#777" stroke="#111" stroke-width="1"/>
<circle cx="249.2" cy="351.8" r="1.6" fill="#777" stroke="#111" stroke-width="1"/>
<rect x="199" y="317" width="3" height="3" fill="#f2b4b4" stroke="#dc3c41" stroke-width="1"/>
<rect x="208.8" y="318" width="3" height="3" fill="#f2b4b4" stroke="#dc3c41" stroke-width="1"/>
<rect x="218.8" y="322.8" width="3" height="3" fill="#f2b4b4" stroke="#dc3c41" stroke-width="1"/>
<rect x="228.2" y="332" width="3" height="3" fill="#f2b4b4" stroke="#dc3c41" stroke-width="1"/>
<rect x="238" y="343.1" width="3" height="3" fill="#f2b4b4" stroke="#dc3c41" stroke-width="1"/>
<rect x="247.7" y="356.6" width="3" height="3" fill="#f2b4b4" stroke="#dc3c41" stroke-width="1"/>
<text x="225.5" y="296.8" font-size="6.4" text-anchor="middle">SNU398</text>
<line x1="201.8" y1="305.5" x2="207.8" y2="305.5" stroke="#111" stroke-width=".9"/>
<circle cx="204.8" cy="305.5" r="1.6" fill="#777" stroke="#111" stroke-width="1"/>
<text x="210.8" y="307.5" font-size="5.5" textLength="22.5" lengthAdjust="spacingAndGlyphs">Tyr 100%</text>
<line x1="201.8" y1="312.5" x2="207.8" y2="312.5" stroke="#dc3c41" stroke-width=".9"/>
<rect x="203.3" y="311" width="3" height="3" fill="#f2b4b4" stroke="#dc3c41" stroke-width="1"/>
<text x="210.8" y="314.5" font-size="5.5" textLength="16" lengthAdjust="spacingAndGlyphs">Tyr 0%</text>
<line x1="234" y1="304" x2="234" y2="314" stroke="#111" stroke-width="1"/>
<text x="237.2" y="301.7" font-size="4.6" transform="rotate(90 237.2 301.7)">p=4.41×10⁻⁴</text>
<text x="224.6" y="383.1" font-size="5.4" text-anchor="middle">Venetoclax (μM)</text>
<text x="183" y="338.4" font-size="5.5" text-anchor="middle" transform="rotate(-90 183 338.4)">Relative Cell viability</text>
<line x1="281.6" y1="306.3" x2="281.6" y2="365.4" stroke="#111" stroke-width="1.4"/>
<line x1="280.9" y1="364.7" x2="338" y2="364.7" stroke="#111" stroke-width="1.4"/>
<line x1="279.6" y1="306.3" x2="281.6" y2="306.3" stroke="#111" stroke-width=".9"/>
<text x="278.8" y="308.1" font-size="5" text-anchor="end">1.2</text>
<line x1="279.6" y1="325.8" x2="281.6" y2="325.8" stroke="#111" stroke-width=".9"/>
<text x="278.8" y="327.6" font-size="5" text-anchor="end">0.8</text>
<line x1="279.6" y1="345.2" x2="281.6" y2="345.2" stroke="#111" stroke-width=".9"/>
<text x="278.8" y="347" font-size="5" text-anchor="end">0.4</text>
<line x1="279.6" y1="364.7" x2="281.6" y2="364.7" stroke="#111" stroke-width=".9"/>
<text x="278.8" y="366.5" font-size="5" text-anchor="end">0.0</text>
<line x1="286" y1="364.7" x2="286" y2="366.7" stroke="#111" stroke-width=".9"/>
<text x="286" y="373.3" font-size="5" text-anchor="middle">0</text>
<line x1="295.8" y1="364.7" x2="295.8" y2="366.7" stroke="#111" stroke-width=".9"/>
<text x="295.8" y="373.3" font-size="5" text-anchor="middle">0.1</text>
<line x1="305.8" y1="364.7" x2="305.8" y2="366.7" stroke="#111" stroke-width=".9"/>
<text x="305.8" y="373.3" font-size="5" text-anchor="middle">1</text>
<line x1="315.5" y1="364.7" x2="315.5" y2="366.7" stroke="#111" stroke-width=".9"/>
<text x="315.5" y="373.3" font-size="5" text-anchor="middle">5</text>
<line x1="325" y1="364.7" x2="325" y2="366.7" stroke="#111" stroke-width=".9"/>
<text x="325" y="373.3" font-size="5" text-anchor="middle">10</text>
<line x1="334.7" y1="364.7" x2="334.7" y2="366.7" stroke="#111" stroke-width=".9"/>
<text x="334.7" y="373.3" font-size="5" text-anchor="middle">50</text>
<polyline points="286,316 295.8,318.5 305.8,317 315.5,316 325,320.9 334.7,335.5" fill="none" stroke="#111" stroke-width="1.1"/>
<polyline points="286,316.5 295.8,318.5 305.8,320.4 315.5,320.9 325,332.6 334.7,347.7" fill="none" stroke="#dc3c41" stroke-width="1.1"/>
<circle cx="286" cy="316" r="1.6" fill="#777" stroke="#111" stroke-width="1"/>
<circle cx="295.8" cy="318.5" r="1.6" fill="#777" stroke="#111" stroke-width="1"/>
<circle cx="305.8" cy="317" r="1.6" fill="#777" stroke="#111" stroke-width="1"/>
<circle cx="315.5" cy="316" r="1.6" fill="#777" stroke="#111" stroke-width="1"/>
<circle cx="325" cy="320.9" r="1.6" fill="#777" stroke="#111" stroke-width="1"/>
<circle cx="334.7" cy="335.5" r="1.6" fill="#777" stroke="#111" stroke-width="1"/>
<rect x="284.5" y="315" width="3" height="3" fill="#f2b4b4" stroke="#dc3c41" stroke-width="1"/>
<rect x="294.3" y="317" width="3" height="3" fill="#f2b4b4" stroke="#dc3c41" stroke-width="1"/>
<rect x="304.3" y="318.9" width="3" height="3" fill="#f2b4b4" stroke="#dc3c41" stroke-width="1"/>
<rect x="314" y="319.4" width="3" height="3" fill="#f2b4b4" stroke="#dc3c41" stroke-width="1"/>
<rect x="323.5" y="331.1" width="3" height="3" fill="#f2b4b4" stroke="#dc3c41" stroke-width="1"/>
<rect x="333.2" y="346.2" width="3" height="3" fill="#f2b4b4" stroke="#dc3c41" stroke-width="1"/>
<text x="307" y="294.9" font-size="6.4" text-anchor="middle">SNU449</text>
<line x1="287" y1="303.3" x2="293" y2="303.3" stroke="#111" stroke-width=".9"/>
<circle cx="290" cy="303.3" r="1.6" fill="#777" stroke="#111" stroke-width="1"/>
<text x="296" y="305.3" font-size="5.5" textLength="22.5" lengthAdjust="spacingAndGlyphs">Tyr 100%</text>
<line x1="287" y1="310.3" x2="293" y2="310.3" stroke="#dc3c41" stroke-width=".9"/>
<rect x="288.5" y="308.8" width="3" height="3" fill="#f2b4b4" stroke="#dc3c41" stroke-width="1"/>
<text x="296" y="312.3" font-size="5.5" textLength="16" lengthAdjust="spacingAndGlyphs">Tyr 0%</text>
<line x1="318.4" y1="301.8" x2="318.4" y2="311.8" stroke="#111" stroke-width="1"/>
<text x="321.6" y="299.5" font-size="4.6" transform="rotate(90 321.6 299.5)">p=3.2×10⁻⁴</text>
<text x="310.1" y="381.5" font-size="5.4" text-anchor="middle">Venetoclax (μM)</text>
<text x="268.6" y="336.5" font-size="5.5" text-anchor="middle" transform="rotate(-90 268.6 336.5)">Relative Cell viability</text>
<line x1="194.5" y1="411" x2="194.5" y2="469.7" stroke="#111" stroke-width="1.4"/>
<line x1="193.8" y1="469" x2="248" y2="469" stroke="#111" stroke-width="1.4"/>
<line x1="192.5" y1="411" x2="194.5" y2="411" stroke="#111" stroke-width=".9"/>
<text x="191.7" y="412.8" font-size="5" text-anchor="end">1.5</text>
<line x1="192.5" y1="430.3" x2="194.5" y2="430.3" stroke="#111" stroke-width=".9"/>
<text x="191.7" y="432.1" font-size="5" text-anchor="end">1.0</text>
<line x1="192.5" y1="449.7" x2="194.5" y2="449.7" stroke="#111" stroke-width=".9"/>
<text x="191.7" y="451.5" font-size="5" text-anchor="end">0.5</text>
<line x1="192.5" y1="469" x2="194.5" y2="469" stroke="#111" stroke-width=".9"/>
<text x="191.7" y="470.8" font-size="5" text-anchor="end">0.0</text>
<line x1="195.3" y1="469" x2="195.3" y2="471" stroke="#111" stroke-width=".9"/>
<text x="195.3" y="477.6" font-size="5" text-anchor="middle">0</text>
<line x1="205" y1="469" x2="205" y2="471" stroke="#111" stroke-width=".9"/>
<text x="205" y="477.6" font-size="5" text-anchor="middle">0.1</text>
<line x1="214.5" y1="469" x2="214.5" y2="471" stroke="#111" stroke-width=".9"/>
<text x="214.5" y="477.6" font-size="5" text-anchor="middle">1</text>
<line x1="224.2" y1="469" x2="224.2" y2="471" stroke="#111" stroke-width=".9"/>
<text x="224.2" y="477.6" font-size="5" text-anchor="middle">5</text>
<line x1="234" y1="469" x2="234" y2="471" stroke="#111" stroke-width=".9"/>
<text x="234" y="477.6" font-size="5" text-anchor="middle">10</text>
<line x1="243.4" y1="469" x2="243.4" y2="471" stroke="#111" stroke-width=".9"/>
<text x="243.4" y="477.6" font-size="5" text-anchor="middle">50</text>
<polyline points="195.3,430.3 205,431.1 214.5,432.3 224.2,427.6 234,422.6 243.4,442.7" fill="none" stroke="#111" stroke-width="1.1"/>
<polyline points="195.3,430.3 205,434.6 214.5,436.1 224.2,436.5 234,439.2 243.4,462.4" fill="none" stroke="#dc3c41" stroke-width="1.1"/>
<circle cx="195.3" cy="430.3" r="1.6" fill="#777" stroke="#111" stroke-width="1"/>
<circle cx="205" cy="431.1" r="1.6" fill="#777" stroke="#111" stroke-width="1"/>
<circle cx="214.5" cy="432.3" r="1.6" fill="#777" stroke="#111" stroke-width="1"/>
<circle cx="224.2" cy="427.6" r="1.6" fill="#777" stroke="#111" stroke-width="1"/>
<circle cx="234" cy="422.6" r="1.6" fill="#777" stroke="#111" stroke-width="1"/>
<circle cx="243.4" cy="442.7" r="1.6" fill="#777" stroke="#111" stroke-width="1"/>
<rect x="193.8" y="428.8" width="3" height="3" fill="#f2b4b4" stroke="#dc3c41" stroke-width="1"/>
<rect x="203.5" y="433.1" width="3" height="3" fill="#f2b4b4" stroke="#dc3c41" stroke-width="1"/>
<rect x="213" y="434.6" width="3" height="3" fill="#f2b4b4" stroke="#dc3c41" stroke-width="1"/>
<rect x="222.7" y="435" width="3" height="3" fill="#f2b4b4" stroke="#dc3c41" stroke-width="1"/>
<rect x="232.5" y="437.7" width="3" height="3" fill="#f2b4b4" stroke="#dc3c41" stroke-width="1"/>
<rect x="241.9" y="460.9" width="3" height="3" fill="#f2b4b4" stroke="#dc3c41" stroke-width="1"/>
<text x="220.3" y="401.5" font-size="6.4" text-anchor="middle">HCCLM3</text>
<line x1="202" y1="407.5" x2="208" y2="407.5" stroke="#111" stroke-width=".9"/>
<circle cx="205" cy="407.5" r="1.6" fill="#777" stroke="#111" stroke-width="1"/>
<text x="211" y="409.5" font-size="5.5" textLength="22.5" lengthAdjust="spacingAndGlyphs">Tyr 100%</text>
<line x1="202" y1="414.5" x2="208" y2="414.5" stroke="#dc3c41" stroke-width=".9"/>
<rect x="203.5" y="413" width="3" height="3" fill="#f2b4b4" stroke="#dc3c41" stroke-width="1"/>
<text x="211" y="416.5" font-size="5.5" textLength="16" lengthAdjust="spacingAndGlyphs">Tyr 0%</text>
<line x1="237" y1="406" x2="237" y2="416" stroke="#111" stroke-width="1"/>
<text x="240.2" y="403.7" font-size="4.6" transform="rotate(90 240.2 403.7)">p=5.5×10⁻⁴</text>
<text x="220.9" y="485.8" font-size="5.4" text-anchor="middle">Venetoclax (μM)</text>
<text x="181.5" y="441" font-size="5.5" text-anchor="middle" transform="rotate(-90 181.5 441)">Relative Cell viability</text>
<line x1="282" y1="411" x2="282" y2="469.7" stroke="#111" stroke-width="1.4"/>
<line x1="281.3" y1="469" x2="336" y2="469" stroke="#111" stroke-width="1.4"/>
<line x1="280" y1="411" x2="282" y2="411" stroke="#111" stroke-width=".9"/>
<text x="279.2" y="412.8" font-size="5" text-anchor="end">1.5</text>
<line x1="280" y1="430.3" x2="282" y2="430.3" stroke="#111" stroke-width=".9"/>
<text x="279.2" y="432.1" font-size="5" text-anchor="end">1.0</text>
<line x1="280" y1="449.7" x2="282" y2="449.7" stroke="#111" stroke-width=".9"/>
<text x="279.2" y="451.5" font-size="5" text-anchor="end">0.5</text>
<line x1="280" y1="469" x2="282" y2="469" stroke="#111" stroke-width=".9"/>
<text x="279.2" y="470.8" font-size="5" text-anchor="end">0.0</text>
<line x1="282.9" y1="469" x2="282.9" y2="471" stroke="#111" stroke-width=".9"/>
<text x="282.9" y="477.6" font-size="5" text-anchor="middle">0</text>
<line x1="292.6" y1="469" x2="292.6" y2="471" stroke="#111" stroke-width=".9"/>
<text x="292.6" y="477.6" font-size="5" text-anchor="middle">0.1</text>
<line x1="302.4" y1="469" x2="302.4" y2="471" stroke="#111" stroke-width=".9"/>
<text x="302.4" y="477.6" font-size="5" text-anchor="middle">1</text>
<line x1="311.8" y1="469" x2="311.8" y2="471" stroke="#111" stroke-width=".9"/>
<text x="311.8" y="477.6" font-size="5" text-anchor="middle">5</text>
<line x1="321.6" y1="469" x2="321.6" y2="471" stroke="#111" stroke-width=".9"/>
<text x="321.6" y="477.6" font-size="5" text-anchor="middle">10</text>
<line x1="331.3" y1="469" x2="331.3" y2="471" stroke="#111" stroke-width=".9"/>
<text x="331.3" y="477.6" font-size="5" text-anchor="middle">50</text>
<polyline points="282.9,430.3 292.6,430.7 302.4,431.1 311.8,431.9 321.6,432.7 331.3,445.8" fill="none" stroke="#111" stroke-width="1.1"/>
<polyline points="282.9,430.3 292.6,436.1 302.4,440 311.8,439.6 321.6,449.7 331.3,459.7" fill="none" stroke="#dc3c41" stroke-width="1.1"/>
<circle cx="282.9" cy="430.3" r="1.6" fill="#777" stroke="#111" stroke-width="1"/>
<circle cx="292.6" cy="430.7" r="1.6" fill="#777" stroke="#111" stroke-width="1"/>
<circle cx="302.4" cy="431.1" r="1.6" fill="#777" stroke="#111" stroke-width="1"/>
<circle cx="311.8" cy="431.9" r="1.6" fill="#777" stroke="#111" stroke-width="1"/>
<circle cx="321.6" cy="432.7" r="1.6" fill="#777" stroke="#111" stroke-width="1"/>
<circle cx="331.3" cy="445.8" r="1.6" fill="#777" stroke="#111" stroke-width="1"/>
<rect x="281.4" y="428.8" width="3" height="3" fill="#f2b4b4" stroke="#dc3c41" stroke-width="1"/>
<rect x="291.1" y="434.6" width="3" height="3" fill="#f2b4b4" stroke="#dc3c41" stroke-width="1"/>
<rect x="300.9" y="438.5" width="3" height="3" fill="#f2b4b4" stroke="#dc3c41" stroke-width="1"/>
<rect x="310.3" y="438.1" width="3" height="3" fill="#f2b4b4" stroke="#dc3c41" stroke-width="1"/>
<rect x="320.1" y="448.2" width="3" height="3" fill="#f2b4b4" stroke="#dc3c41" stroke-width="1"/>
<rect x="329.8" y="458.2" width="3" height="3" fill="#f2b4b4" stroke="#dc3c41" stroke-width="1"/>
<text x="307" y="401.5" font-size="6.4" text-anchor="middle">PLCPRF5</text>
<line x1="290" y1="407.5" x2="296" y2="407.5" stroke="#111" stroke-width=".9"/>
<circle cx="293" cy="407.5" r="1.6" fill="#777" stroke="#111" stroke-width="1"/>
<text x="299" y="409.5" font-size="5.5" textLength="22.5" lengthAdjust="spacingAndGlyphs">Tyr 100%</text>
<line x1="290" y1="414.5" x2="296" y2="414.5" stroke="#dc3c41" stroke-width=".9"/>
<rect x="291.5" y="413" width="3" height="3" fill="#f2b4b4" stroke="#dc3c41" stroke-width="1"/>
<text x="299" y="416.5" font-size="5.5" textLength="16" lengthAdjust="spacingAndGlyphs">Tyr 0%</text>
<line x1="325" y1="406" x2="325" y2="416" stroke="#111" stroke-width="1"/>
<text x="328.2" y="403.7" font-size="4.6" transform="rotate(90 328.2 403.7)">p=2.42×10⁻⁴</text>
<text x="308.6" y="485.8" font-size="5.4" text-anchor="middle">Venetoclax (μM)</text>
<text x="269" y="441" font-size="5.5" text-anchor="middle" transform="rotate(-90 269 441)">Relative Cell viability</text>
<text x="353.8" y="290.4" font-size="17.2" fill="#000">g</text>
<line x1="376.8" y1="307.1" x2="376.8" y2="363.6" stroke="#111" stroke-width="1.4"/>
<line x1="376.1" y1="362.9" x2="426.8" y2="362.9" stroke="#111" stroke-width="1.4"/>
<line x1="374.8" y1="307.1" x2="376.8" y2="307.1" stroke="#111" stroke-width=".9"/>
<text x="374" y="308.9" font-size="5" text-anchor="end">1.2</text>
<line x1="374.8" y1="325.7" x2="376.8" y2="325.7" stroke="#111" stroke-width=".9"/>
<text x="374" y="327.5" font-size="5" text-anchor="end">0.8</text>
<line x1="374.8" y1="344.3" x2="376.8" y2="344.3" stroke="#111" stroke-width=".9"/>
<text x="374" y="346.1" font-size="5" text-anchor="end">0.4</text>
<line x1="374.8" y1="362.9" x2="376.8" y2="362.9" stroke="#111" stroke-width=".9"/>
<text x="374" y="364.7" font-size="5" text-anchor="end">0.0</text>
<line x1="376.8" y1="362.9" x2="376.8" y2="364.9" stroke="#111" stroke-width=".9"/>
<text x="376.8" y="371.5" font-size="5" text-anchor="middle">0</text>
<line x1="386" y1="362.9" x2="386" y2="364.9" stroke="#111" stroke-width=".9"/>
<text x="386" y="371.5" font-size="5" text-anchor="middle">0.5</text>
<line x1="395.3" y1="362.9" x2="395.3" y2="364.9" stroke="#111" stroke-width=".9"/>
<text x="395.3" y="371.5" font-size="5" text-anchor="middle">1</text>
<line x1="404.5" y1="362.9" x2="404.5" y2="364.9" stroke="#111" stroke-width=".9"/>
<text x="404.5" y="371.5" font-size="5" text-anchor="middle">5</text>
<line x1="413.7" y1="362.9" x2="413.7" y2="364.9" stroke="#111" stroke-width=".9"/>
<text x="413.7" y="371.5" font-size="5" text-anchor="middle">10</text>
<line x1="422.9" y1="362.9" x2="422.9" y2="364.9" stroke="#111" stroke-width=".9"/>
<text x="422.9" y="371.5" font-size="5" text-anchor="middle">20</text>
<polyline points="376.8,316.4 386,318.7 395.3,317.8 404.5,317.3 413.7,321.5 422.9,327.1" fill="none" stroke="#111" stroke-width="1.1"/>
<polyline points="376.8,316.4 386,318.3 395.3,321.1 404.5,321.5 413.7,329.4 422.9,341" fill="none" stroke="#dc3c41" stroke-width="1.1"/>
<circle cx="376.8" cy="316.4" r="1.6" fill="#777" stroke="#111" stroke-width="1"/>
<circle cx="386" cy="318.7" r="1.6" fill="#777" stroke="#111" stroke-width="1"/>
<circle cx="395.3" cy="317.8" r="1.6" fill="#777" stroke="#111" stroke-width="1"/>
<circle cx="404.5" cy="317.3" r="1.6" fill="#777" stroke="#111" stroke-width="1"/>
<circle cx="413.7" cy="321.5" r="1.6" fill="#777" stroke="#111" stroke-width="1"/>
<circle cx="422.9" cy="327.1" r="1.6" fill="#777" stroke="#111" stroke-width="1"/>
<rect x="375.3" y="314.9" width="3" height="3" fill="#f2b4b4" stroke="#dc3c41" stroke-width="1"/>
<rect x="384.5" y="316.8" width="3" height="3" fill="#f2b4b4" stroke="#dc3c41" stroke-width="1"/>
<rect x="393.8" y="319.6" width="3" height="3" fill="#f2b4b4" stroke="#dc3c41" stroke-width="1"/>
<rect x="403" y="320" width="3" height="3" fill="#f2b4b4" stroke="#dc3c41" stroke-width="1"/>
<rect x="412.2" y="327.9" width="3" height="3" fill="#f2b4b4" stroke="#dc3c41" stroke-width="1"/>
<rect x="421.4" y="339.5" width="3" height="3" fill="#f2b4b4" stroke="#dc3c41" stroke-width="1"/>
<line x1="376.8" y1="315" x2="376.8" y2="317.8" stroke="#111" stroke-width=".7"/>
<line x1="375.6" y1="315" x2="378" y2="315" stroke="#111" stroke-width=".7"/>
<line x1="375.6" y1="317.8" x2="378" y2="317.8" stroke="#111" stroke-width=".7"/>
<line x1="376.8" y1="315" x2="376.8" y2="317.8" stroke="#dc3c41" stroke-width=".7"/>
<line x1="375.6" y1="315" x2="378" y2="315" stroke="#dc3c41" stroke-width=".7"/>
<line x1="375.6" y1="317.8" x2="378" y2="317.8" stroke="#dc3c41" stroke-width=".7"/>
<line x1="386" y1="317.8" x2="386" y2="319.7" stroke="#111" stroke-width=".7"/>
<line x1="384.8" y1="317.8" x2="387.2" y2="317.8" stroke="#111" stroke-width=".7"/>
<line x1="384.8" y1="319.7" x2="387.2" y2="319.7" stroke="#111" stroke-width=".7"/>
<line x1="386" y1="317.3" x2="386" y2="319.2" stroke="#dc3c41" stroke-width=".7"/>
<line x1="384.8" y1="317.3" x2="387.2" y2="317.3" stroke="#dc3c41" stroke-width=".7"/>
<line x1="384.8" y1="319.2" x2="387.2" y2="319.2" stroke="#dc3c41" stroke-width=".7"/>
<line x1="395.3" y1="320.1" x2="395.3" y2="322" stroke="#dc3c41" stroke-width=".7"/>
<line x1="394.1" y1="320.1" x2="396.5" y2="320.1" stroke="#dc3c41" stroke-width=".7"/>
<line x1="394.1" y1="322" x2="396.5" y2="322" stroke="#dc3c41" stroke-width=".7"/>
<line x1="404.5" y1="320.6" x2="404.5" y2="322.4" stroke="#dc3c41" stroke-width=".7"/>
<line x1="403.3" y1="320.6" x2="405.7" y2="320.6" stroke="#dc3c41" stroke-width=".7"/>
<line x1="403.3" y1="322.4" x2="405.7" y2="322.4" stroke="#dc3c41" stroke-width=".7"/>
<text x="404.5" y="295.5" font-size="6.4" text-anchor="middle">SNU398</text>
<line x1="384.2" y1="301.6" x2="390.2" y2="301.6" stroke="#111" stroke-width=".9"/>
<circle cx="387.2" cy="301.6" r="1.6" fill="#777" stroke="#111" stroke-width="1"/>
<text x="393.2" y="303.6" font-size="5.5" textLength="22.5" lengthAdjust="spacingAndGlyphs">Tyr 100%</text>
<line x1="384.2" y1="308.6" x2="390.2" y2="308.6" stroke="#dc3c41" stroke-width=".9"/>
<rect x="385.7" y="307.1" width="3" height="3" fill="#f2b4b4" stroke="#dc3c41" stroke-width="1"/>
<text x="393.2" y="310.6" font-size="5.5" textLength="16" lengthAdjust="spacingAndGlyphs">Tyr 0%</text>
<line x1="416.3" y1="300.1" x2="416.3" y2="310.1" stroke="#111" stroke-width="1"/>
<text x="419.5" y="297.8" font-size="4.6" transform="rotate(90 419.5 297.8)">p=6.73×10⁻⁴</text>
<text x="401.9" y="379.7" font-size="5.4" text-anchor="middle">Erastin (μM)</text>
<text x="363.8" y="336" font-size="5.5" text-anchor="middle" transform="rotate(-90 363.8 336)">Relative Cell viability</text>
<line x1="460.5" y1="307.1" x2="460.5" y2="363.6" stroke="#111" stroke-width="1.4"/>
<line x1="459.8" y1="362.9" x2="511" y2="362.9" stroke="#111" stroke-width="1.4"/>
<line x1="458.5" y1="307.1" x2="460.5" y2="307.1" stroke="#111" stroke-width=".9"/>
<text x="457.7" y="308.9" font-size="5" text-anchor="end">1.2</text>
<line x1="458.5" y1="325.7" x2="460.5" y2="325.7" stroke="#111" stroke-width=".9"/>
<text x="457.7" y="327.5" font-size="5" text-anchor="end">0.8</text>
<line x1="458.5" y1="344.3" x2="460.5" y2="344.3" stroke="#111" stroke-width=".9"/>
<text x="457.7" y="346.1" font-size="5" text-anchor="end">0.4</text>
<line x1="458.5" y1="362.9" x2="460.5" y2="362.9" stroke="#111" stroke-width=".9"/>
<text x="457.7" y="364.7" font-size="5" text-anchor="end">0.0</text>
<line x1="460.5" y1="362.9" x2="460.5" y2="364.9" stroke="#111" stroke-width=".9"/>
<text x="460.5" y="371.5" font-size="5" text-anchor="middle">0</text>
<line x1="469.7" y1="362.9" x2="469.7" y2="364.9" stroke="#111" stroke-width=".9"/>
<text x="469.7" y="371.5" font-size="5" text-anchor="middle">0.5</text>
<line x1="479" y1="362.9" x2="479" y2="364.9" stroke="#111" stroke-width=".9"/>
<text x="479" y="371.5" font-size="5" text-anchor="middle">1</text>
<line x1="488.7" y1="362.9" x2="488.7" y2="364.9" stroke="#111" stroke-width=".9"/>
<text x="488.7" y="371.5" font-size="5" text-anchor="middle">5</text>
<line x1="497.9" y1="362.9" x2="497.9" y2="364.9" stroke="#111" stroke-width=".9"/>
<text x="497.9" y="371.5" font-size="5" text-anchor="middle">10</text>
<line x1="507.1" y1="362.9" x2="507.1" y2="364.9" stroke="#111" stroke-width=".9"/>
<text x="507.1" y="371.5" font-size="5" text-anchor="middle">20</text>
<polyline points="460.5,316.4 469.7,321.1 479,321.5 488.7,322.9 497.9,327.6 507.1,329" fill="none" stroke="#111" stroke-width="1.1"/>
<polyline points="460.5,316.4 469.7,325.2 479,328.5 488.7,332.2 497.9,335.5 507.1,339.6" fill="none" stroke="#dc3c41" stroke-width="1.1"/>
<circle cx="460.5" cy="316.4" r="1.6" fill="#777" stroke="#111" stroke-width="1"/>
<circle cx="469.7" cy="321.1" r="1.6" fill="#777" stroke="#111" stroke-width="1"/>
<circle cx="479" cy="321.5" r="1.6" fill="#777" stroke="#111" stroke-width="1"/>
<circle cx="488.7" cy="322.9" r="1.6" fill="#777" stroke="#111" stroke-width="1"/>
<circle cx="497.9" cy="327.6" r="1.6" fill="#777" stroke="#111" stroke-width="1"/>
<circle cx="507.1" cy="329" r="1.6" fill="#777" stroke="#111" stroke-width="1"/>
<rect x="459" y="314.9" width="3" height="3" fill="#f2b4b4" stroke="#dc3c41" stroke-width="1"/>
<rect x="468.2" y="323.7" width="3" height="3" fill="#f2b4b4" stroke="#dc3c41" stroke-width="1"/>
<rect x="477.5" y="327" width="3" height="3" fill="#f2b4b4" stroke="#dc3c41" stroke-width="1"/>
<rect x="487.2" y="330.7" width="3" height="3" fill="#f2b4b4" stroke="#dc3c41" stroke-width="1"/>
<rect x="496.4" y="334" width="3" height="3" fill="#f2b4b4" stroke="#dc3c41" stroke-width="1"/>
<rect x="505.6" y="338.1" width="3" height="3" fill="#f2b4b4" stroke="#dc3c41" stroke-width="1"/>
<line x1="469.7" y1="320.1" x2="469.7" y2="322" stroke="#111" stroke-width=".7"/>
<line x1="468.5" y1="320.1" x2="470.9" y2="320.1" stroke="#111" stroke-width=".7"/>
<line x1="468.5" y1="322" x2="470.9" y2="322" stroke="#111" stroke-width=".7"/>
<line x1="479" y1="327.1" x2="479" y2="329.9" stroke="#dc3c41" stroke-width=".7"/>
<line x1="477.8" y1="327.1" x2="480.2" y2="327.1" stroke="#dc3c41" stroke-width=".7"/>
<line x1="477.8" y1="329.9" x2="480.2" y2="329.9" stroke="#dc3c41" stroke-width=".7"/>
<line x1="507.1" y1="328" x2="507.1" y2="329.9" stroke="#111" stroke-width=".7"/>
<line x1="505.9" y1="328" x2="508.3" y2="328" stroke="#111" stroke-width=".7"/>
<line x1="505.9" y1="329.9" x2="508.3" y2="329.9" stroke="#111" stroke-width=".7"/>
<line x1="507.1" y1="339.2" x2="507.1" y2="340.1" stroke="#dc3c41" stroke-width=".7"/>
<line x1="505.9" y1="339.2" x2="508.3" y2="339.2" stroke="#dc3c41" stroke-width=".7"/>
<line x1="505.9" y1="340.1" x2="508.3" y2="340.1" stroke="#dc3c41" stroke-width=".7"/>
<text x="486" y="295.5" font-size="6.4" text-anchor="middle">SNU449</text>
<line x1="468" y1="301.6" x2="474" y2="301.6" stroke="#111" stroke-width=".9"/>
<circle cx="471" cy="301.6" r="1.6" fill="#777" stroke="#111" stroke-width="1"/>
<text x="477" y="303.6" font-size="5.5" textLength="22.5" lengthAdjust="spacingAndGlyphs">Tyr 100%</text>
<line x1="468" y1="308.6" x2="474" y2="308.6" stroke="#dc3c41" stroke-width=".9"/>
<rect x="469.5" y="307.1" width="3" height="3" fill="#f2b4b4" stroke="#dc3c41" stroke-width="1"/>
<text x="477" y="310.6" font-size="5.5" textLength="16" lengthAdjust="spacingAndGlyphs">Tyr 0%</text>
<line x1="500.5" y1="300.1" x2="500.5" y2="310.1" stroke="#111" stroke-width="1"/>
<text x="503.7" y="297.8" font-size="4.6" transform="rotate(90 503.7 297.8)">p=2.52×10⁻⁴</text>
<text x="485.8" y="379.7" font-size="5.4" text-anchor="middle">Erastin (μM)</text>
<text x="447.5" y="336" font-size="5.5" text-anchor="middle" transform="rotate(-90 447.5 336)">Relative Cell viability</text>
<line x1="378.2" y1="413.7" x2="378.2" y2="469.7" stroke="#111" stroke-width="1.4"/>
<line x1="377.5" y1="469" x2="428" y2="469" stroke="#111" stroke-width="1.4"/>
<line x1="376.2" y1="413.7" x2="378.2" y2="413.7" stroke="#111" stroke-width=".9"/>
<text x="375.4" y="415.5" font-size="5" text-anchor="end">1.2</text>
<line x1="376.2" y1="432.1" x2="378.2" y2="432.1" stroke="#111" stroke-width=".9"/>
<text x="375.4" y="433.9" font-size="5" text-anchor="end">0.8</text>
<line x1="376.2" y1="450.6" x2="378.2" y2="450.6" stroke="#111" stroke-width=".9"/>
<text x="375.4" y="452.4" font-size="5" text-anchor="end">0.4</text>
<line x1="376.2" y1="469" x2="378.2" y2="469" stroke="#111" stroke-width=".9"/>
<text x="375.4" y="470.8" font-size="5" text-anchor="end">0.0</text>
<line x1="378.2" y1="469" x2="378.2" y2="471" stroke="#111" stroke-width=".9"/>
<text x="378.2" y="477.6" font-size="5" text-anchor="middle">0</text>
<line x1="387.4" y1="469" x2="387.4" y2="471" stroke="#111" stroke-width=".9"/>
<text x="387.4" y="477.6" font-size="5" text-anchor="middle">0.5</text>
<line x1="396.6" y1="469" x2="396.6" y2="471" stroke="#111" stroke-width=".9"/>
<text x="396.6" y="477.6" font-size="5" text-anchor="middle">1</text>
<line x1="405.8" y1="469" x2="405.8" y2="471" stroke="#111" stroke-width=".9"/>
<text x="405.8" y="477.6" font-size="5" text-anchor="middle">5</text>
<line x1="415" y1="469" x2="415" y2="471" stroke="#111" stroke-width=".9"/>
<text x="415" y="477.6" font-size="5" text-anchor="middle">10</text>
<line x1="424.2" y1="469" x2="424.2" y2="471" stroke="#111" stroke-width=".9"/>
<text x="424.2" y="477.6" font-size="5" text-anchor="middle">20</text>
<polyline points="378.2,422.9 387.4,426.1 396.6,428.4 405.8,431.2 415,434 424.2,438.6" fill="none" stroke="#111" stroke-width="1.1"/>
<polyline points="378.2,422.9 387.4,427.1 396.6,433.1 405.8,436.3 415,442.7 424.2,448.7" fill="none" stroke="#dc3c41" stroke-width="1.1"/>
<circle cx="378.2" cy="422.9" r="1.6" fill="#777" stroke="#111" stroke-width="1"/>
<circle cx="387.4" cy="426.1" r="1.6" fill="#777" stroke="#111" stroke-width="1"/>
<circle cx="396.6" cy="428.4" r="1.6" fill="#777" stroke="#111" stroke-width="1"/>
<circle cx="405.8" cy="431.2" r="1.6" fill="#777" stroke="#111" stroke-width="1"/>
<circle cx="415" cy="434" r="1.6" fill="#777" stroke="#111" stroke-width="1"/>
<circle cx="424.2" cy="438.6" r="1.6" fill="#777" stroke="#111" stroke-width="1"/>
<rect x="376.7" y="421.4" width="3" height="3" fill="#f2b4b4" stroke="#dc3c41" stroke-width="1"/>
<rect x="385.9" y="425.6" width="3" height="3" fill="#f2b4b4" stroke="#dc3c41" stroke-width="1"/>
<rect x="395.1" y="431.6" width="3" height="3" fill="#f2b4b4" stroke="#dc3c41" stroke-width="1"/>
<rect x="404.3" y="434.8" width="3" height="3" fill="#f2b4b4" stroke="#dc3c41" stroke-width="1"/>
<rect x="413.5" y="441.2" width="3" height="3" fill="#f2b4b4" stroke="#dc3c41" stroke-width="1"/>
<rect x="422.7" y="447.2" width="3" height="3" fill="#f2b4b4" stroke="#dc3c41" stroke-width="1"/>
<line x1="387.4" y1="426.1" x2="387.4" y2="428" stroke="#dc3c41" stroke-width=".7"/>
<line x1="386.2" y1="426.1" x2="388.6" y2="426.1" stroke="#dc3c41" stroke-width=".7"/>
<line x1="386.2" y1="428" x2="388.6" y2="428" stroke="#dc3c41" stroke-width=".7"/>
<line x1="424.2" y1="447.3" x2="424.2" y2="450.1" stroke="#dc3c41" stroke-width=".7"/>
<line x1="423" y1="447.3" x2="425.4" y2="447.3" stroke="#dc3c41" stroke-width=".7"/>
<line x1="423" y1="450.1" x2="425.4" y2="450.1" stroke="#dc3c41" stroke-width=".7"/>
<text x="405.8" y="401.3" font-size="6.4" text-anchor="middle">HCCLM3</text>
<line x1="386" y1="407.5" x2="392" y2="407.5" stroke="#111" stroke-width=".9"/>
<circle cx="389" cy="407.5" r="1.6" fill="#777" stroke="#111" stroke-width="1"/>
<text x="395" y="409.5" font-size="5.5" textLength="22.5" lengthAdjust="spacingAndGlyphs">Tyr 100%</text>
<line x1="386" y1="414.5" x2="392" y2="414.5" stroke="#dc3c41" stroke-width=".9"/>
<rect x="387.5" y="413" width="3" height="3" fill="#f2b4b4" stroke="#dc3c41" stroke-width="1"/>
<text x="395" y="416.5" font-size="5.5" textLength="16" lengthAdjust="spacingAndGlyphs">Tyr 0%</text>
<line x1="418" y1="406" x2="418" y2="416" stroke="#111" stroke-width="1"/>
<text x="421.2" y="403.7" font-size="4.6" transform="rotate(90 421.2 403.7)">p=1.98×10⁻⁴</text>
<text x="403.2" y="485.8" font-size="5.4" text-anchor="middle">Erastin (μM)</text>
<text x="365.2" y="442.4" font-size="5.5" text-anchor="middle" transform="rotate(-90 365.2 442.4)">Relative Cell viability</text>
<line x1="459.7" y1="413.7" x2="459.7" y2="469.7" stroke="#111" stroke-width="1.4"/>
<line x1="459" y1="469" x2="511" y2="469" stroke="#111" stroke-width="1.4"/>
<line x1="457.7" y1="413.7" x2="459.7" y2="413.7" stroke="#111" stroke-width=".9"/>
<text x="456.9" y="415.5" font-size="5" text-anchor="end">1.2</text>
<line x1="457.7" y1="432.1" x2="459.7" y2="432.1" stroke="#111" stroke-width=".9"/>
<text x="456.9" y="433.9" font-size="5" text-anchor="end">0.8</text>
<line x1="457.7" y1="450.6" x2="459.7" y2="450.6" stroke="#111" stroke-width=".9"/>
<text x="456.9" y="452.4" font-size="5" text-anchor="end">0.4</text>
<line x1="457.7" y1="469" x2="459.7" y2="469" stroke="#111" stroke-width=".9"/>
<text x="456.9" y="470.8" font-size="5" text-anchor="end">0.0</text>
<line x1="459.7" y1="469" x2="459.7" y2="471" stroke="#111" stroke-width=".9"/>
<text x="459.7" y="477.6" font-size="5" text-anchor="middle">0</text>
<line x1="469.5" y1="469" x2="469.5" y2="471" stroke="#111" stroke-width=".9"/>
<text x="469.5" y="477.6" font-size="5" text-anchor="middle">0.5</text>
<line x1="478.7" y1="469" x2="478.7" y2="471" stroke="#111" stroke-width=".9"/>
<text x="478.7" y="477.6" font-size="5" text-anchor="middle">1</text>
<line x1="487.9" y1="469" x2="487.9" y2="471" stroke="#111" stroke-width=".9"/>
<text x="487.9" y="477.6" font-size="5" text-anchor="middle">5</text>
<line x1="497.1" y1="469" x2="497.1" y2="471" stroke="#111" stroke-width=".9"/>
<text x="497.1" y="477.6" font-size="5" text-anchor="middle">10</text>
<line x1="506.3" y1="469" x2="506.3" y2="471" stroke="#111" stroke-width=".9"/>
<text x="506.3" y="477.6" font-size="5" text-anchor="middle">20</text>
<polyline points="459.7,422.9 469.5,422.9 478.7,428 487.9,429.8 497.1,430.3 506.3,440.4" fill="none" stroke="#111" stroke-width="1.1"/>
<polyline points="459.7,422.9 469.5,427.1 478.7,429.4 487.9,434.4 497.1,438.1 506.3,447.8" fill="none" stroke="#dc3c41" stroke-width="1.1"/>
<circle cx="459.7" cy="422.9" r="1.6" fill="#777" stroke="#111" stroke-width="1"/>
<circle cx="469.5" cy="422.9" r="1.6" fill="#777" stroke="#111" stroke-width="1"/>
<circle cx="478.7" cy="428" r="1.6" fill="#777" stroke="#111" stroke-width="1"/>
<circle cx="487.9" cy="429.8" r="1.6" fill="#777" stroke="#111" stroke-width="1"/>
<circle cx="497.1" cy="430.3" r="1.6" fill="#777" stroke="#111" stroke-width="1"/>
<circle cx="506.3" cy="440.4" r="1.6" fill="#777" stroke="#111" stroke-width="1"/>
<rect x="458.2" y="421.4" width="3" height="3" fill="#f2b4b4" stroke="#dc3c41" stroke-width="1"/>
<rect x="468" y="425.6" width="3" height="3" fill="#f2b4b4" stroke="#dc3c41" stroke-width="1"/>
<rect x="477.2" y="427.9" width="3" height="3" fill="#f2b4b4" stroke="#dc3c41" stroke-width="1"/>
<rect x="486.4" y="432.9" width="3" height="3" fill="#f2b4b4" stroke="#dc3c41" stroke-width="1"/>
<rect x="495.6" y="436.6" width="3" height="3" fill="#f2b4b4" stroke="#dc3c41" stroke-width="1"/>
<rect x="504.8" y="446.3" width="3" height="3" fill="#f2b4b4" stroke="#dc3c41" stroke-width="1"/>
<line x1="459.7" y1="421.1" x2="459.7" y2="424.8" stroke="#111" stroke-width=".7"/>
<line x1="458.5" y1="421.1" x2="460.9" y2="421.1" stroke="#111" stroke-width=".7"/>
<line x1="458.5" y1="424.8" x2="460.9" y2="424.8" stroke="#111" stroke-width=".7"/>
<line x1="459.7" y1="419.7" x2="459.7" y2="426.1" stroke="#dc3c41" stroke-width=".7"/>
<line x1="458.5" y1="419.7" x2="460.9" y2="419.7" stroke="#dc3c41" stroke-width=".7"/>
<line x1="458.5" y1="426.1" x2="460.9" y2="426.1" stroke="#dc3c41" stroke-width=".7"/>
<line x1="469.5" y1="425.7" x2="469.5" y2="428.4" stroke="#dc3c41" stroke-width=".7"/>
<line x1="468.3" y1="425.7" x2="470.7" y2="425.7" stroke="#dc3c41" stroke-width=".7"/>
<line x1="468.3" y1="428.4" x2="470.7" y2="428.4" stroke="#dc3c41" stroke-width=".7"/>
<line x1="478.7" y1="427.1" x2="478.7" y2="428.9" stroke="#111" stroke-width=".7"/>
<line x1="477.5" y1="427.1" x2="479.9" y2="427.1" stroke="#111" stroke-width=".7"/>
<line x1="477.5" y1="428.9" x2="479.9" y2="428.9" stroke="#111" stroke-width=".7"/>
<line x1="497.1" y1="429.4" x2="497.1" y2="431.2" stroke="#111" stroke-width=".7"/>
<line x1="495.9" y1="429.4" x2="498.3" y2="429.4" stroke="#111" stroke-width=".7"/>
<line x1="495.9" y1="431.2" x2="498.3" y2="431.2" stroke="#111" stroke-width=".7"/>
<text x="486" y="401.3" font-size="6.4" text-anchor="middle">PLCPRF5</text>
<line x1="468" y1="407.5" x2="474" y2="407.5" stroke="#111" stroke-width=".9"/>
<circle cx="471" cy="407.5" r="1.6" fill="#777" stroke="#111" stroke-width="1"/>
<text x="477" y="409.5" font-size="5.5" textLength="22.5" lengthAdjust="spacingAndGlyphs">Tyr 100%</text>
<line x1="468" y1="414.5" x2="474" y2="414.5" stroke="#dc3c41" stroke-width=".9"/>
<rect x="469.5" y="413" width="3" height="3" fill="#f2b4b4" stroke="#dc3c41" stroke-width="1"/>
<text x="477" y="416.5" font-size="5.5" textLength="16" lengthAdjust="spacingAndGlyphs">Tyr 0%</text>
<line x1="500" y1="406" x2="500" y2="416" stroke="#111" stroke-width="1"/>
<text x="503.2" y="403.7" font-size="4.6" transform="rotate(90 503.2 403.7)">p=3.78×10⁻⁴</text>
<text x="485" y="485.8" font-size="5.4" text-anchor="middle">Erastin (μM)</text>
<text x="446.7" y="442.4" font-size="5.5" text-anchor="middle" transform="rotate(-90 446.7 442.4)">Relative Cell viability</text>
<text x="526" y="290.1" font-size="16.8" fill="#000">h</text>
<line x1="549.2" y1="306.3" x2="549.2" y2="362.3" stroke="#111" stroke-width="1.4"/>
<line x1="548.5" y1="361.6" x2="599.7" y2="361.6" stroke="#111" stroke-width="1.4"/>
<line x1="547.2" y1="306.3" x2="549.2" y2="306.3" stroke="#111" stroke-width=".9"/>
<text x="546.4" y="308.1" font-size="5" text-anchor="end">1.2</text>
<line x1="547.2" y1="324.7" x2="549.2" y2="324.7" stroke="#111" stroke-width=".9"/>
<text x="546.4" y="326.5" font-size="5" text-anchor="end">0.8</text>
<line x1="547.2" y1="343.2" x2="549.2" y2="343.2" stroke="#111" stroke-width=".9"/>
<text x="546.4" y="345" font-size="5" text-anchor="end">0.4</text>
<line x1="549.7" y1="361.6" x2="549.7" y2="363.6" stroke="#111" stroke-width=".9"/>
<text x="549.7" y="370.2" font-size="5" text-anchor="middle">0</text>
<line x1="559" y1="361.6" x2="559" y2="363.6" stroke="#111" stroke-width=".9"/>
<text x="559" y="370.2" font-size="5" text-anchor="middle">0.5</text>
<line x1="568.2" y1="361.6" x2="568.2" y2="363.6" stroke="#111" stroke-width=".9"/>
<text x="568.2" y="370.2" font-size="5" text-anchor="middle">1</text>
<line x1="577.4" y1="361.6" x2="577.4" y2="363.6" stroke="#111" stroke-width=".9"/>
<text x="577.4" y="370.2" font-size="5" text-anchor="middle">5</text>
<line x1="586.6" y1="361.6" x2="586.6" y2="363.6" stroke="#111" stroke-width=".9"/>
<text x="586.6" y="370.2" font-size="5" text-anchor="middle">10</text>
<line x1="595.8" y1="361.6" x2="595.8" y2="363.6" stroke="#111" stroke-width=".9"/>
<text x="595.8" y="370.2" font-size="5" text-anchor="middle">20</text>
<polyline points="549.7,315.5 559,317.8 568.2,316.9 577.4,318.7 586.6,323.8 595.8,331.2" fill="none" stroke="#111" stroke-width="1.1"/>
<polyline points="549.7,316 559,317.8 568.2,318.7 577.4,328.4 586.6,334.9 595.8,346.4" fill="none" stroke="#dc3c41" stroke-width="1.1"/>
<circle cx="549.7" cy="315.5" r="1.6" fill="#777" stroke="#111" stroke-width="1"/>
<circle cx="559" cy="317.8" r="1.6" fill="#777" stroke="#111" stroke-width="1"/>
<circle cx="568.2" cy="316.9" r="1.6" fill="#777" stroke="#111" stroke-width="1"/>
<circle cx="577.4" cy="318.7" r="1.6" fill="#777" stroke="#111" stroke-width="1"/>
<circle cx="586.6" cy="323.8" r="1.6" fill="#777" stroke="#111" stroke-width="1"/>
<circle cx="595.8" cy="331.2" r="1.6" fill="#777" stroke="#111" stroke-width="1"/>
<rect x="548.2" y="314.5" width="3" height="3" fill="#f2b4b4" stroke="#dc3c41" stroke-width="1"/>
<rect x="557.5" y="316.3" width="3" height="3" fill="#f2b4b4" stroke="#dc3c41" stroke-width="1"/>
<rect x="566.7" y="317.2" width="3" height="3" fill="#f2b4b4" stroke="#dc3c41" stroke-width="1"/>
<rect x="575.9" y="326.9" width="3" height="3" fill="#f2b4b4" stroke="#dc3c41" stroke-width="1"/>
<rect x="585.1" y="333.4" width="3" height="3" fill="#f2b4b4" stroke="#dc3c41" stroke-width="1"/>
<rect x="594.3" y="344.9" width="3" height="3" fill="#f2b4b4" stroke="#dc3c41" stroke-width="1"/>
<line x1="549.7" y1="314.1" x2="549.7" y2="316.9" stroke="#111" stroke-width=".7"/>
<line x1="548.5" y1="314.1" x2="550.9" y2="314.1" stroke="#111" stroke-width=".7"/>
<line x1="548.5" y1="316.9" x2="550.9" y2="316.9" stroke="#111" stroke-width=".7"/>
<line x1="568.2" y1="315.1" x2="568.2" y2="318.7" stroke="#111" stroke-width=".7"/>
<line x1="567" y1="315.1" x2="569.4" y2="315.1" stroke="#111" stroke-width=".7"/>
<line x1="567" y1="318.7" x2="569.4" y2="318.7" stroke="#111" stroke-width=".7"/>
<line x1="595.8" y1="329.8" x2="595.8" y2="332.6" stroke="#111" stroke-width=".7"/>
<line x1="594.6" y1="329.8" x2="597" y2="329.8" stroke="#111" stroke-width=".7"/>
<line x1="594.6" y1="332.6" x2="597" y2="332.6" stroke="#111" stroke-width=".7"/>
<text x="572" y="294.7" font-size="6.4" text-anchor="middle">SNU398</text>
<line x1="552.4" y1="300.3" x2="558.4" y2="300.3" stroke="#111" stroke-width=".9"/>
<circle cx="555.4" cy="300.3" r="1.6" fill="#777" stroke="#111" stroke-width="1"/>
<text x="561.4" y="302.3" font-size="5.5" textLength="22.5" lengthAdjust="spacingAndGlyphs">Tyr 100%</text>
<line x1="552.4" y1="307.3" x2="558.4" y2="307.3" stroke="#dc3c41" stroke-width=".9"/>
<rect x="553.9" y="305.8" width="3" height="3" fill="#f2b4b4" stroke="#dc3c41" stroke-width="1"/>
<text x="561.4" y="309.3" font-size="5.5" textLength="16" lengthAdjust="spacingAndGlyphs">Tyr 0%</text>
<line x1="585.3" y1="298.8" x2="585.3" y2="308.8" stroke="#111" stroke-width="1"/>
<text x="588.5" y="296.5" font-size="4.6" transform="rotate(90 588.5 296.5)">p=1.9×10⁻⁴</text>
<text x="574.5" y="378.4" font-size="5.4" text-anchor="middle">Sorafenib (μM)</text>
<text x="536.2" y="335" font-size="5.5" text-anchor="middle" transform="rotate(-90 536.2 335)">Relative Cell viability</text>
<line x1="628.7" y1="306.3" x2="628.7" y2="362.3" stroke="#111" stroke-width="1.4"/>
<line x1="628" y1="361.6" x2="680" y2="361.6" stroke="#111" stroke-width="1.4"/>
<line x1="626.7" y1="306.3" x2="628.7" y2="306.3" stroke="#111" stroke-width=".9"/>
<text x="625.9" y="308.1" font-size="5" text-anchor="end">1.2</text>
<line x1="626.7" y1="324.7" x2="628.7" y2="324.7" stroke="#111" stroke-width=".9"/>
<text x="625.9" y="326.5" font-size="5" text-anchor="end">0.8</text>
<line x1="626.7" y1="343.2" x2="628.7" y2="343.2" stroke="#111" stroke-width=".9"/>
<text x="625.9" y="345" font-size="5" text-anchor="end">0.4</text>
<line x1="628.7" y1="361.6" x2="628.7" y2="363.6" stroke="#111" stroke-width=".9"/>
<text x="628.7" y="370.2" font-size="5" text-anchor="middle">0</text>
<line x1="638.4" y1="361.6" x2="638.4" y2="363.6" stroke="#111" stroke-width=".9"/>
<text x="638.4" y="370.2" font-size="5" text-anchor="middle">0.5</text>
<line x1="647.6" y1="361.6" x2="647.6" y2="363.6" stroke="#111" stroke-width=".9"/>
<text x="647.6" y="370.2" font-size="5" text-anchor="middle">1</text>
<line x1="656.8" y1="361.6" x2="656.8" y2="363.6" stroke="#111" stroke-width=".9"/>
<text x="656.8" y="370.2" font-size="5" text-anchor="middle">5</text>
<line x1="666" y1="361.6" x2="666" y2="363.6" stroke="#111" stroke-width=".9"/>
<text x="666" y="370.2" font-size="5" text-anchor="middle">10</text>
<line x1="675.3" y1="361.6" x2="675.3" y2="363.6" stroke="#111" stroke-width=".9"/>
<text x="675.3" y="370.2" font-size="5" text-anchor="middle">20</text>
<polyline points="628.7,315.5 638.4,320.6 647.6,317.8 656.8,318.7 666,321.5 675.3,328.4" fill="none" stroke="#111" stroke-width="1.1"/>
<polyline points="628.7,315.5 638.4,316.4 647.6,316.4 656.8,318.7 666,328 675.3,339.5" fill="none" stroke="#dc3c41" stroke-width="1.1"/>
<circle cx="628.7" cy="315.5" r="1.6" fill="#777" stroke="#111" stroke-width="1"/>
<circle cx="638.4" cy="320.6" r="1.6" fill="#777" stroke="#111" stroke-width="1"/>
<circle cx="647.6" cy="317.8" r="1.6" fill="#777" stroke="#111" stroke-width="1"/>
<circle cx="656.8" cy="318.7" r="1.6" fill="#777" stroke="#111" stroke-width="1"/>
<circle cx="666" cy="321.5" r="1.6" fill="#777" stroke="#111" stroke-width="1"/>
<circle cx="675.3" cy="328.4" r="1.6" fill="#777" stroke="#111" stroke-width="1"/>
<rect x="627.2" y="314" width="3" height="3" fill="#f2b4b4" stroke="#dc3c41" stroke-width="1"/>
<rect x="636.9" y="314.9" width="3" height="3" fill="#f2b4b4" stroke="#dc3c41" stroke-width="1"/>
<rect x="646.1" y="314.9" width="3" height="3" fill="#f2b4b4" stroke="#dc3c41" stroke-width="1"/>
<rect x="655.3" y="317.2" width="3" height="3" fill="#f2b4b4" stroke="#dc3c41" stroke-width="1"/>
<rect x="664.5" y="326.5" width="3" height="3" fill="#f2b4b4" stroke="#dc3c41" stroke-width="1"/>
<rect x="673.8" y="338" width="3" height="3" fill="#f2b4b4" stroke="#dc3c41" stroke-width="1"/>
<line x1="628.7" y1="313.7" x2="628.7" y2="317.4" stroke="#111" stroke-width=".7"/>
<line x1="627.5" y1="313.7" x2="629.9" y2="313.7" stroke="#111" stroke-width=".7"/>
<line x1="627.5" y1="317.4" x2="629.9" y2="317.4" stroke="#111" stroke-width=".7"/>
<line x1="628.7" y1="314.1" x2="628.7" y2="316.9" stroke="#dc3c41" stroke-width=".7"/>
<line x1="627.5" y1="314.1" x2="629.9" y2="314.1" stroke="#dc3c41" stroke-width=".7"/>
<line x1="627.5" y1="316.9" x2="629.9" y2="316.9" stroke="#dc3c41" stroke-width=".7"/>
<line x1="647.6" y1="315.5" x2="647.6" y2="317.4" stroke="#dc3c41" stroke-width=".7"/>
<line x1="646.4" y1="315.5" x2="648.8" y2="315.5" stroke="#dc3c41" stroke-width=".7"/>
<line x1="646.4" y1="317.4" x2="648.8" y2="317.4" stroke="#dc3c41" stroke-width=".7"/>
<line x1="666" y1="320.6" x2="666" y2="322.4" stroke="#111" stroke-width=".7"/>
<line x1="664.8" y1="320.6" x2="667.2" y2="320.6" stroke="#111" stroke-width=".7"/>
<line x1="664.8" y1="322.4" x2="667.2" y2="322.4" stroke="#111" stroke-width=".7"/>
<text x="652.4" y="294.7" font-size="6.4" text-anchor="middle">SNU449</text>
<line x1="632" y1="300.3" x2="638" y2="300.3" stroke="#111" stroke-width=".9"/>
<circle cx="635" cy="300.3" r="1.6" fill="#777" stroke="#111" stroke-width="1"/>
<text x="641" y="302.3" font-size="5.5" textLength="22.5" lengthAdjust="spacingAndGlyphs">Tyr 100%</text>
<line x1="632" y1="307.3" x2="638" y2="307.3" stroke="#dc3c41" stroke-width=".9"/>
<rect x="633.5" y="305.8" width="3" height="3" fill="#f2b4b4" stroke="#dc3c41" stroke-width="1"/>
<text x="641" y="309.3" font-size="5.5" textLength="16" lengthAdjust="spacingAndGlyphs">Tyr 0%</text>
<line x1="663.7" y1="298.8" x2="663.7" y2="308.8" stroke="#111" stroke-width="1"/>
<text x="666.9" y="296.5" font-size="4.6" transform="rotate(90 666.9 296.5)">p=8.43×10⁻⁴</text>
<text x="654" y="378.4" font-size="5.4" text-anchor="middle">Sorafenib (μM)</text>
<text x="615.7" y="335" font-size="5.5" text-anchor="middle" transform="rotate(-90 615.7 335)">Relative Cell viability</text>
<line x1="551.8" y1="412.9" x2="551.8" y2="467.5" stroke="#111" stroke-width="1.4"/>
<line x1="551.1" y1="466.8" x2="603" y2="466.8" stroke="#111" stroke-width="1.4"/>
<line x1="549.8" y1="412.9" x2="551.8" y2="412.9" stroke="#111" stroke-width=".9"/>
<text x="549" y="414.7" font-size="5" text-anchor="end">1.2</text>
<line x1="549.8" y1="430.9" x2="551.8" y2="430.9" stroke="#111" stroke-width=".9"/>
<text x="549" y="432.7" font-size="5" text-anchor="end">0.8</text>
<line x1="549.8" y1="448.8" x2="551.8" y2="448.8" stroke="#111" stroke-width=".9"/>
<text x="549" y="450.6" font-size="5" text-anchor="end">0.4</text>
<line x1="552.4" y1="466.8" x2="552.4" y2="468.8" stroke="#111" stroke-width=".9"/>
<text x="552.4" y="475.4" font-size="5" text-anchor="middle">0</text>
<line x1="561.6" y1="466.8" x2="561.6" y2="468.8" stroke="#111" stroke-width=".9"/>
<text x="561.6" y="475.4" font-size="5" text-anchor="middle">0.5</text>
<line x1="570.8" y1="466.8" x2="570.8" y2="468.8" stroke="#111" stroke-width=".9"/>
<text x="570.8" y="475.4" font-size="5" text-anchor="middle">1</text>
<line x1="580" y1="466.8" x2="580" y2="468.8" stroke="#111" stroke-width=".9"/>
<text x="580" y="475.4" font-size="5" text-anchor="middle">5</text>
<line x1="589.2" y1="466.8" x2="589.2" y2="468.8" stroke="#111" stroke-width=".9"/>
<text x="589.2" y="475.4" font-size="5" text-anchor="middle">10</text>
<line x1="598.4" y1="466.8" x2="598.4" y2="468.8" stroke="#111" stroke-width=".9"/>
<text x="598.4" y="475.4" font-size="5" text-anchor="middle">20</text>
<polyline points="552.4,421.9 561.6,421.9 570.8,422.3 580,423.2 589.2,430.9 598.4,439.8" fill="none" stroke="#111" stroke-width="1.1"/>
<polyline points="552.4,421.9 561.6,424.1 570.8,430 580,436.3 589.2,440.7 598.4,452.9" fill="none" stroke="#dc3c41" stroke-width="1.1"/>
<circle cx="552.4" cy="421.9" r="1.6" fill="#777" stroke="#111" stroke-width="1"/>
<circle cx="561.6" cy="421.9" r="1.6" fill="#777" stroke="#111" stroke-width="1"/>
<circle cx="570.8" cy="422.3" r="1.6" fill="#777" stroke="#111" stroke-width="1"/>
<circle cx="580" cy="423.2" r="1.6" fill="#777" stroke="#111" stroke-width="1"/>
<circle cx="589.2" cy="430.9" r="1.6" fill="#777" stroke="#111" stroke-width="1"/>
<circle cx="598.4" cy="439.8" r="1.6" fill="#777" stroke="#111" stroke-width="1"/>
<rect x="550.9" y="420.4" width="3" height="3" fill="#f2b4b4" stroke="#dc3c41" stroke-width="1"/>
<rect x="560.1" y="422.6" width="3" height="3" fill="#f2b4b4" stroke="#dc3c41" stroke-width="1"/>
<rect x="569.3" y="428.5" width="3" height="3" fill="#f2b4b4" stroke="#dc3c41" stroke-width="1"/>
<rect x="578.5" y="434.8" width="3" height="3" fill="#f2b4b4" stroke="#dc3c41" stroke-width="1"/>
<rect x="587.7" y="439.2" width="3" height="3" fill="#f2b4b4" stroke="#dc3c41" stroke-width="1"/>
<rect x="596.9" y="451.4" width="3" height="3" fill="#f2b4b4" stroke="#dc3c41" stroke-width="1"/>
<line x1="552.4" y1="420.1" x2="552.4" y2="423.7" stroke="#dc3c41" stroke-width=".7"/>
<line x1="551.2" y1="420.1" x2="553.6" y2="420.1" stroke="#dc3c41" stroke-width=".7"/>
<line x1="551.2" y1="423.7" x2="553.6" y2="423.7" stroke="#dc3c41" stroke-width=".7"/>
<line x1="598.4" y1="438.5" x2="598.4" y2="441.2" stroke="#111" stroke-width=".7"/>
<line x1="597.2" y1="438.5" x2="599.6" y2="438.5" stroke="#111" stroke-width=".7"/>
<line x1="597.2" y1="441.2" x2="599.6" y2="441.2" stroke="#111" stroke-width=".7"/>
<text x="574.7" y="400.7" font-size="6.4" text-anchor="middle">HCCLM3</text>
<line x1="555" y1="406.5" x2="561" y2="406.5" stroke="#111" stroke-width=".9"/>
<circle cx="558" cy="406.5" r="1.6" fill="#777" stroke="#111" stroke-width="1"/>
<text x="564" y="408.5" font-size="5.5" textLength="22.5" lengthAdjust="spacingAndGlyphs">Tyr 100%</text>
<line x1="555" y1="413.5" x2="561" y2="413.5" stroke="#dc3c41" stroke-width=".9"/>
<rect x="556.5" y="412" width="3" height="3" fill="#f2b4b4" stroke="#dc3c41" stroke-width="1"/>
<text x="564" y="415.5" font-size="5.5" textLength="16" lengthAdjust="spacingAndGlyphs">Tyr 0%</text>
<line x1="588" y1="405" x2="588" y2="415" stroke="#111" stroke-width="1"/>
<text x="591.2" y="402.7" font-size="4.6" transform="rotate(90 591.2 402.7)">p=1.1×10⁻⁴</text>
<text x="577.1" y="483.6" font-size="5.4" text-anchor="middle">Sorafenib (μM)</text>
<text x="538.8" y="440.9" font-size="5.5" text-anchor="middle" transform="rotate(-90 538.8 440.9)">Relative Cell viability</text>
<line x1="630" y1="412.9" x2="630" y2="467.5" stroke="#111" stroke-width="1.4"/>
<line x1="629.3" y1="466.8" x2="681" y2="466.8" stroke="#111" stroke-width="1.4"/>
<line x1="628" y1="412.9" x2="630" y2="412.9" stroke="#111" stroke-width=".9"/>
<text x="627.2" y="414.7" font-size="5" text-anchor="end">1.2</text>
<line x1="628" y1="430.9" x2="630" y2="430.9" stroke="#111" stroke-width=".9"/>
<text x="627.2" y="432.7" font-size="5" text-anchor="end">0.8</text>
<line x1="628" y1="448.8" x2="630" y2="448.8" stroke="#111" stroke-width=".9"/>
<text x="627.2" y="450.6" font-size="5" text-anchor="end">0.4</text>
<line x1="630.8" y1="466.8" x2="630.8" y2="468.8" stroke="#111" stroke-width=".9"/>
<text x="630.8" y="475.4" font-size="5" text-anchor="middle">0</text>
<line x1="639.7" y1="466.8" x2="639.7" y2="468.8" stroke="#111" stroke-width=".9"/>
<text x="639.7" y="475.4" font-size="5" text-anchor="middle">0.5</text>
<line x1="649" y1="466.8" x2="649" y2="468.8" stroke="#111" stroke-width=".9"/>
<text x="649" y="475.4" font-size="5" text-anchor="middle">1</text>
<line x1="658.2" y1="466.8" x2="658.2" y2="468.8" stroke="#111" stroke-width=".9"/>
<text x="658.2" y="475.4" font-size="5" text-anchor="middle">5</text>
<line x1="667.4" y1="466.8" x2="667.4" y2="468.8" stroke="#111" stroke-width=".9"/>
<text x="667.4" y="475.4" font-size="5" text-anchor="middle">10</text>
<line x1="676.6" y1="466.8" x2="676.6" y2="468.8" stroke="#111" stroke-width=".9"/>
<text x="676.6" y="475.4" font-size="5" text-anchor="middle">20</text>
<polyline points="630.8,421.9 639.7,418.7 649,421.4 658.2,426.4 667.4,436.7 676.6,447.5" fill="none" stroke="#111" stroke-width="1.1"/>
<polyline points="630.8,421.9 639.7,423.7 649,425.5 658.2,435.4 667.4,444.8 676.6,454.7" fill="none" stroke="#dc3c41" stroke-width="1.1"/>
<circle cx="630.8" cy="421.9" r="1.6" fill="#777" stroke="#111" stroke-width="1"/>
<circle cx="639.7" cy="418.7" r="1.6" fill="#777" stroke="#111" stroke-width="1"/>
<circle cx="649" cy="421.4" r="1.6" fill="#777" stroke="#111" stroke-width="1"/>
<circle cx="658.2" cy="426.4" r="1.6" fill="#777" stroke="#111" stroke-width="1"/>
<circle cx="667.4" cy="436.7" r="1.6" fill="#777" stroke="#111" stroke-width="1"/>
<circle cx="676.6" cy="447.5" r="1.6" fill="#777" stroke="#111" stroke-width="1"/>
<rect x="629.3" y="420.4" width="3" height="3" fill="#f2b4b4" stroke="#dc3c41" stroke-width="1"/>
<rect x="638.2" y="422.2" width="3" height="3" fill="#f2b4b4" stroke="#dc3c41" stroke-width="1"/>
<rect x="647.5" y="424" width="3" height="3" fill="#f2b4b4" stroke="#dc3c41" stroke-width="1"/>
<rect x="656.7" y="433.9" width="3" height="3" fill="#f2b4b4" stroke="#dc3c41" stroke-width="1"/>
<rect x="665.9" y="443.3" width="3" height="3" fill="#f2b4b4" stroke="#dc3c41" stroke-width="1"/>
<rect x="675.1" y="453.2" width="3" height="3" fill="#f2b4b4" stroke="#dc3c41" stroke-width="1"/>
<line x1="639.7" y1="417.8" x2="639.7" y2="419.6" stroke="#111" stroke-width=".7"/>
<line x1="638.5" y1="417.8" x2="640.9" y2="417.8" stroke="#111" stroke-width=".7"/>
<line x1="638.5" y1="419.6" x2="640.9" y2="419.6" stroke="#111" stroke-width=".7"/>
<line x1="639.7" y1="422.8" x2="639.7" y2="424.6" stroke="#dc3c41" stroke-width=".7"/>
<line x1="638.5" y1="422.8" x2="640.9" y2="422.8" stroke="#dc3c41" stroke-width=".7"/>
<line x1="638.5" y1="424.6" x2="640.9" y2="424.6" stroke="#dc3c41" stroke-width=".7"/>
<text x="651" y="400.7" font-size="6.4" text-anchor="middle">PLCPRF5</text>
<line x1="634" y1="406.5" x2="640" y2="406.5" stroke="#111" stroke-width=".9"/>
<circle cx="637" cy="406.5" r="1.6" fill="#777" stroke="#111" stroke-width="1"/>
<text x="643" y="408.5" font-size="5.5" textLength="22.5" lengthAdjust="spacingAndGlyphs">Tyr 100%</text>
<line x1="634" y1="413.5" x2="640" y2="413.5" stroke="#dc3c41" stroke-width=".9"/>
<rect x="635.5" y="412" width="3" height="3" fill="#f2b4b4" stroke="#dc3c41" stroke-width="1"/>
<text x="643" y="415.5" font-size="5.5" textLength="16" lengthAdjust="spacingAndGlyphs">Tyr 0%</text>
<line x1="664" y1="405" x2="664" y2="415" stroke="#111" stroke-width="1"/>
<text x="667.2" y="402.7" font-size="4.6" transform="rotate(90 667.2 402.7)">p=1.88×10⁻⁴</text>
<text x="655.3" y="483.6" font-size="5.4" text-anchor="middle">Sorafenib (μM)</text>
<text x="617" y="440.9" font-size="5.5" text-anchor="middle" transform="rotate(-90 617 440.9)">Relative Cell viability</text>
<text x="0" y="517" font-size="16.8" fill="#000">i</text>
<text x="36.9" y="534.9" font-size="10" textLength="79.9" lengthAdjust="spacingAndGlyphs">Tyr 100%diet+Con</text>
<text x="15.7" y="592.3" font-size="10" textLength="106.3" lengthAdjust="spacingAndGlyphs">Tyr 100% diet+Sorafenib</text>
<text x="33.9" y="650.2" font-size="10" textLength="68.9" lengthAdjust="spacingAndGlyphs">Tyr 0%diet+Con</text>
<text x="15.7" y="707.7" font-size="10" textLength="96" lengthAdjust="spacingAndGlyphs">Tyr 0% diet+Sorafenib</text>
<radialGradient id="lg1" cx="0.45" cy="0.4" r="0.65"><stop offset="0" stop-color="#c0a698"/><stop offset="0.6" stop-color="#9c8072"/><stop offset="1" stop-color="#6e5048"/></radialGradient>
<clipPath id="lc1"><path d="M149.5,523.6 C149.6,521.4 150.1,518.2 150.9,516.3 C151.8,514.3 153,513.1 154.6,511.9 C156.2,510.7 157.8,509.5 160.4,509 C163.1,508.5 167.7,508.7 170.7,509 C173.6,509.2 176.5,511.2 178,510.4 C179.4,509.7 178.4,506.8 179.4,504.6 C180.4,502.4 182.1,498.9 183.8,497.3 C185.5,495.7 187.4,494.9 189.6,495.1 C191.8,495.4 195,497.2 196.9,498.8 C198.9,500.3 199.4,503.6 201.3,504.6 C203.3,505.6 205.9,504.1 208.6,504.6 C211.3,505.1 214.9,505.8 217.4,507.5 C219.8,509.2 221.8,511.9 223.2,514.8 C224.7,517.7 226,522.1 226.1,525 C226.3,528 225,530.1 223.9,532.3 C222.8,534.5 220.7,535.7 219.6,538.2 C218.5,540.6 219,545 217.4,546.9 C215.8,548.9 213.2,549.4 210.1,549.9 C206.9,550.3 202.3,550 198.4,549.9 C194.5,549.7 190.4,549.1 186.7,549.1 C183.1,549.1 179.4,550.2 176.5,549.9 C173.6,549.5 170.8,548.4 169.2,546.9 C167.6,545.5 168.7,542.3 167,541.1 C165.3,539.9 161.3,540.6 159,539.6 C156.7,538.7 154.6,537 153.1,535.3 C151.7,533.6 150.8,531.4 150.2,529.4 C149.6,527.5 149.4,525.8 149.5,523.6Z"/></clipPath>
<path d="M149.5,523.6 C149.6,521.4 150.1,518.2 150.9,516.3 C151.8,514.3 153,513.1 154.6,511.9 C156.2,510.7 157.8,509.5 160.4,509 C163.1,508.5 167.7,508.7 170.7,509 C173.6,509.2 176.5,511.2 178,510.4 C179.4,509.7 178.4,506.8 179.4,504.6 C180.4,502.4 182.1,498.9 183.8,497.3 C185.5,495.7 187.4,494.9 189.6,495.1 C191.8,495.4 195,497.2 196.9,498.8 C198.9,500.3 199.4,503.6 201.3,504.6 C203.3,505.6 205.9,504.1 208.6,504.6 C211.3,505.1 214.9,505.8 217.4,507.5 C219.8,509.2 221.8,511.9 223.2,514.8 C224.7,517.7 226,522.1 226.1,525 C226.3,528 225,530.1 223.9,532.3 C222.8,534.5 220.7,535.7 219.6,538.2 C218.5,540.6 219,545 217.4,546.9 C215.8,548.9 213.2,549.4 210.1,549.9 C206.9,550.3 202.3,550 198.4,549.9 C194.5,549.7 190.4,549.1 186.7,549.1 C183.1,549.1 179.4,550.2 176.5,549.9 C173.6,549.5 170.8,548.4 169.2,546.9 C167.6,545.5 168.7,542.3 167,541.1 C165.3,539.9 161.3,540.6 159,539.6 C156.7,538.7 154.6,537 153.1,535.3 C151.7,533.6 150.8,531.4 150.2,529.4 C149.6,527.5 149.4,525.8 149.5,523.6Z" fill="url(#lg1)" stroke="#7a6a66" stroke-width=".5"/>
<g clip-path="url(#lc1)"><ellipse cx="198.5" cy="547.5" rx="5.6" ry="5.5" fill="#6e5048" opacity=".2"/><ellipse cx="213.7" cy="517.2" rx="4.4" ry="3.8" fill="#c0a698" opacity=".4"/><ellipse cx="159" cy="536.5" rx="4.3" ry="3.7" fill="#c0a698" opacity=".3"/><ellipse cx="189.1" cy="515.6" rx="5.1" ry="3.7" fill="#c0a698" opacity=".2"/><ellipse cx="188.1" cy="532.8" rx="5.2" ry="4.9" fill="#6e5048" opacity=".3"/><ellipse cx="198.1" cy="521" rx="5.2" ry="4.8" fill="#6e5048" opacity=".2"/><ellipse cx="180.7" cy="505.4" rx="3.4" ry="3.3" fill="#c0a698" opacity=".4"/><ellipse cx="200" cy="504.3" rx="2.9" ry="1.9" fill="#c0a698" opacity=".3"/><ellipse cx="187.5" cy="500.4" rx="4.6" ry="3.4" fill="#6e5048" opacity=".2"/><ellipse cx="188.8" cy="529.7" rx="5.1" ry="3.9" fill="#c0a698" opacity=".4"/><ellipse cx="161.3" cy="534.1" rx="5.4" ry="3.7" fill="#6e5048" opacity=".2"/><ellipse cx="180.6" cy="538" rx="3.5" ry="2.4" fill="#6e5048" opacity=".2"/><ellipse cx="160" cy="518.5" rx="5.2" ry="3.2" fill="#c0a698" opacity=".2"/><ellipse cx="199.3" cy="515.8" rx="2.9" ry="2.1" fill="#6e5048" opacity=".3"/><ellipse cx="216" cy="523.6" rx="4.7" ry="3.3" fill="#c0a698" opacity=".3"/><ellipse cx="188.1" cy="525.7" rx="3.7" ry="2.7" fill="#6e5048" opacity=".3"/><ellipse cx="199.9" cy="539.3" rx="4.7" ry="4" fill="#c0a698" opacity=".3"/><ellipse cx="173.3" cy="533.2" rx="5.9" ry="4.9" fill="#6e5048" opacity=".2"/><ellipse cx="186.8" cy="499.3" rx="3.5" ry="2.7" fill="#c0a698" opacity=".3"/><ellipse cx="199" cy="505.8" rx="4.8" ry="3.9" fill="#c0a698" opacity=".4"/><ellipse cx="183.8" cy="520.3" rx="4.6" ry="4.1" fill="#6e5048" opacity=".2"/><ellipse cx="182.3" cy="547.5" rx="4.9" ry="3.8" fill="#6e5048" opacity=".2"/><ellipse cx="209.7" cy="506.9" rx="5.6" ry="3.9" fill="#6e5048" opacity=".2"/><ellipse cx="186.8" cy="506.2" rx="3.2" ry="2.1" fill="#6e5048" opacity=".3"/><ellipse cx="176.9" cy="527.3" rx="3.4" ry="2.4" fill="#c0a698" opacity=".3"/><ellipse cx="196.8" cy="505.3" rx="3.9" ry="3.1" fill="#6e5048" opacity=".2"/><ellipse cx="202.1" cy="527.5" rx="3" ry="2.2" fill="#c0a698" opacity=".2"/><ellipse cx="184.7" cy="516.3" rx="5.4" ry="3.8" fill="#c0a698" opacity=".4"/><ellipse cx="169.5" cy="526.8" rx="3.3" ry="2.5" fill="#6e5048" opacity=".3"/><ellipse cx="208.2" cy="539.1" rx="2.7" ry="2.5" fill="#6e5048" opacity=".2"/><ellipse cx="194.4" cy="540.1" rx="2.6" ry="2.2" fill="#6e5048" opacity=".2"/><ellipse cx="217" cy="527.8" rx="3.3" ry="2.7" fill="#c0a698" opacity=".4"/><ellipse cx="159.6" cy="531.8" rx="5.2" ry="3.9" fill="#c0a698" opacity=".3"/><ellipse cx="214" cy="525.8" rx="4.1" ry="2.7" fill="#c0a698" opacity=".2"/><ellipse cx="172.8" cy="538.2" rx="2.8" ry="1.9" fill="#6e5048" opacity=".2"/><ellipse cx="170.6" cy="516.6" rx="3.1" ry="2.5" fill="#c0a698" opacity=".3"/><ellipse cx="162.4" cy="524.6" rx="4.5" ry="3.8" fill="#c0a698" opacity=".4"/><ellipse cx="207.1" cy="523.6" rx="5.9" ry="3.6" fill="#c0a698" opacity=".2"/><g fill="#fff" opacity=".75"><circle cx="154.4" cy="526.7" r=".3"/><circle cx="206.4" cy="521.9" r=".5"/><circle cx="219.1" cy="521.5" r=".5"/><circle cx="192.8" cy="513.3" r=".5"/><circle cx="199.1" cy="541" r=".5"/><circle cx="188.6" cy="528.8" r=".5"/><circle cx="225.4" cy="524.3" r=".4"/><circle cx="160.6" cy="520.7" r=".5"/><circle cx="198.9" cy="515.3" r=".6"/><circle cx="196" cy="536.7" r=".4"/><circle cx="185.9" cy="527.8" r=".6"/><circle cx="195.7" cy="517" r=".3"/><circle cx="195.6" cy="499.7" r=".6"/><circle cx="197.8" cy="523.8" r=".5"/><circle cx="203.3" cy="549.4" r=".5"/><circle cx="210.7" cy="511.6" r=".4"/><circle cx="212.5" cy="519.3" r=".5"/><circle cx="175.8" cy="515" r=".5"/><circle cx="213.3" cy="544.3" r=".4"/><circle cx="153.1" cy="526.9" r=".3"/><circle cx="203.8" cy="538.3" r=".5"/><circle cx="201.7" cy="527.6" r=".4"/><circle cx="193.2" cy="535.1" r=".5"/><circle cx="208.3" cy="530.8" r=".3"/><circle cx="208.9" cy="529.4" r=".4"/><circle cx="194.5" cy="534.6" r=".4"/><circle cx="167" cy="538.8" r=".5"/><circle cx="178.3" cy="509.4" r=".6"/><circle cx="202.6" cy="546.9" r=".3"/><circle cx="183" cy="538.7" r=".3"/><circle cx="188.5" cy="522.2" r=".4"/><circle cx="198.5" cy="525.8" r=".3"/><circle cx="192.4" cy="537.2" r=".5"/><circle cx="217.6" cy="518.4" r=".5"/><circle cx="165.3" cy="533.6" r=".5"/><circle cx="181.4" cy="541.4" r=".5"/><circle cx="177.9" cy="536" r=".5"/><circle cx="161" cy="527.9" r=".4"/><circle cx="220.3" cy="522.9" r=".3"/><circle cx="183" cy="519.8" r=".6"/><circle cx="210.7" cy="529.3" r=".6"/><circle cx="176.4" cy="544.1" r=".4"/><circle cx="170.1" cy="511.6" r=".5"/><circle cx="159.9" cy="524.1" r=".4"/><circle cx="193.9" cy="511.4" r=".3"/><circle cx="214.3" cy="525.4" r=".6"/><circle cx="185.1" cy="506.7" r=".5"/><circle cx="183.4" cy="498.2" r=".6"/><circle cx="212.9" cy="515.1" r=".5"/><circle cx="189.7" cy="526.6" r=".5"/><circle cx="202.1" cy="533" r=".4"/><circle cx="159" cy="525.2" r=".5"/><circle cx="190.5" cy="547.1" r=".4"/><circle cx="172.4" cy="520.8" r=".5"/><circle cx="161.6" cy="511.5" r=".5"/><circle cx="195.7" cy="541.3" r=".3"/><circle cx="221.3" cy="532.9" r=".6"/><circle cx="204.8" cy="534.1" r=".4"/><circle cx="216.4" cy="544.9" r=".4"/></g></g>
<ellipse cx="163.4" cy="524.3" rx="13.9" ry="14.6" fill="#3c2220" opacity="0.8" clip-path="url(#lc1)"/>
<ellipse cx="186.7" cy="519.2" rx="4.4" ry="4.4" fill="#5a4038" opacity="0.5" clip-path="url(#lc1)"/>
<ellipse cx="215.9" cy="501.7" rx="2.6" ry="2.6" fill="#3a2020" opacity="0.6" clip-path="url(#lc1)"/>
<ellipse cx="165.5" cy="526.5" rx="10.5" ry="11.4" fill="#8e6a5e" opacity="0.8" clip-path="url(#lc1)"/>
<ellipse cx="170.7" cy="533.8" rx="5.5" ry="4.7" fill="#c4a494" opacity="0.6" clip-path="url(#lc1)"/>
<ellipse cx="156.1" cy="525" rx="2" ry="3.5" fill="#c09040" opacity="0.6" clip-path="url(#lc1)"/>
<ellipse cx="205.7" cy="538.2" rx="8.8" ry="8.8" fill="#dcc0b0" opacity="0.8" clip-path="url(#lc1)"/>
<ellipse cx="183.8" cy="507.5" rx="2.9" ry="2.9" fill="#ffffff" opacity="0.7" clip-path="url(#lc1)"/>
<ellipse cx="199.9" cy="511.9" rx="1.5" ry="2.2" fill="#ffffff" opacity="0.8" clip-path="url(#lc1)"/>
<path d="M178,510.4 L183.8,519.2 L188.2,523.6" fill="none" stroke="#3c2820" stroke-width=".7" opacity=".55" stroke-linecap="round" stroke-linejoin="round" clip-path="url(#lc1)"/>
<path d="M198.4,526.5 L201.3,538.2" fill="none" stroke="#3c2820" stroke-width=".7" opacity=".55" stroke-linecap="round" stroke-linejoin="round" clip-path="url(#lc1)"/>
<path d="M183.8,497.3 L185.3,509" fill="none" stroke="#3c2820" stroke-width=".7" opacity=".55" stroke-linecap="round" stroke-linejoin="round" clip-path="url(#lc1)"/>
<path d="M149.5,523.6 C149.1,520.4 150.1,518.2 150.9,516.3 C151.8,514.3 153,513 154.6,511.9 C156.2,510.8 157.8,510 160.4,509.7 C163.1,509.5 168,509.7 170.7,510.4 C173.3,511.2 174.3,512.6 176.5,514.1 C178.7,515.5 181.1,517.6 183.8,519.2 C186.5,520.8 189.6,522.2 192.6,523.6 C195.5,524.9 198.4,526.5 201.3,527.2 C204.2,528 207.6,527.1 210.1,528 C212.5,528.8 214.5,530.4 215.9,532.3 C217.4,534.3 218.8,537.2 218.8,539.6 C218.8,542.1 217.4,545.2 215.9,546.9 C214.5,548.6 213,549.4 210.1,549.9 C207.2,550.3 202.3,550 198.4,549.9 C194.5,549.7 190.4,549.1 186.7,549.1 C183.1,549.1 179.4,550.2 176.5,549.9 C173.6,549.5 170.8,548.4 169.2,546.9 C167.6,545.5 168.7,542.3 167,541.1 C165.3,539.9 161.3,540.6 159,539.6 C156.7,538.7 154.7,537.9 153.1,535.3 C151.6,532.6 149.9,526.7 149.5,523.6Z" fill="none" stroke="#e8202a" stroke-width=".8"/>
<radialGradient id="lg2" cx="0.45" cy="0.4" r="0.65"><stop offset="0" stop-color="#d0b4a6"/><stop offset="0.6" stop-color="#b09080"/><stop offset="1" stop-color="#826258"/></radialGradient>
<clipPath id="lc2"><path d="M245.8,524.2 C245.9,522.1 246.2,519.8 247.1,518.3 C248,516.7 249.3,515.2 251,515 C252.8,514.7 255.8,517.3 257.6,516.9 C259.3,516.6 259.8,514.4 261.5,513 C263.3,511.6 266.1,510.3 268.1,508.4 C270.1,506.5 271.6,503.6 273.4,501.8 C275.1,500.1 276.6,498.5 278.6,497.9 C280.6,497.2 283.4,497.2 285.2,497.9 C286.9,498.5 288,499.4 289.1,501.8 C290.2,504.2 290.7,509.9 291.8,512.3 C292.9,514.7 295.2,514.1 295.7,516.3 C296.3,518.5 295.7,522.6 295,525.5 C294.4,528.3 293,531.2 291.8,533.4 C290.6,535.6 288.5,536.2 287.8,538.6 C287.2,541 288.5,545 287.8,547.8 C287.2,550.7 285.4,553.7 283.9,555.7 C282.3,557.7 280.6,559.2 278.6,559.6 C276.6,560.1 274,559.2 272,558.3 C270.1,557.5 268,556.6 266.8,554.4 C265.6,552.2 265.7,547.2 264.8,545.2 C263.9,543.2 263.4,543.1 261.5,542.6 C259.7,542 255.6,543 253.7,541.9 C251.7,540.8 250.9,537.9 249.7,536 C248.5,534.1 247.1,532.7 246.4,530.7 C245.8,528.8 245.7,526.2 245.8,524.2Z"/></clipPath>
<path d="M245.8,524.2 C245.9,522.1 246.2,519.8 247.1,518.3 C248,516.7 249.3,515.2 251,515 C252.8,514.7 255.8,517.3 257.6,516.9 C259.3,516.6 259.8,514.4 261.5,513 C263.3,511.6 266.1,510.3 268.1,508.4 C270.1,506.5 271.6,503.6 273.4,501.8 C275.1,500.1 276.6,498.5 278.6,497.9 C280.6,497.2 283.4,497.2 285.2,497.9 C286.9,498.5 288,499.4 289.1,501.8 C290.2,504.2 290.7,509.9 291.8,512.3 C292.9,514.7 295.2,514.1 295.7,516.3 C296.3,518.5 295.7,522.6 295,525.5 C294.4,528.3 293,531.2 291.8,533.4 C290.6,535.6 288.5,536.2 287.8,538.6 C287.2,541 288.5,545 287.8,547.8 C287.2,550.7 285.4,553.7 283.9,555.7 C282.3,557.7 280.6,559.2 278.6,559.6 C276.6,560.1 274,559.2 272,558.3 C270.1,557.5 268,556.6 266.8,554.4 C265.6,552.2 265.7,547.2 264.8,545.2 C263.9,543.2 263.4,543.1 261.5,542.6 C259.7,542 255.6,543 253.7,541.9 C251.7,540.8 250.9,537.9 249.7,536 C248.5,534.1 247.1,532.7 246.4,530.7 C245.8,528.8 245.7,526.2 245.8,524.2Z" fill="url(#lg2)" stroke="#7a6a66" stroke-width=".5"/>
<g clip-path="url(#lc2)"><ellipse cx="277.9" cy="532.6" rx="3.1" ry="2.4" fill="#826258" opacity=".2"/><ellipse cx="260.3" cy="532.6" rx="4.5" ry="3.7" fill="#826258" opacity=".2"/><ellipse cx="260" cy="521.3" rx="5.4" ry="4.1" fill="#826258" opacity=".3"/><ellipse cx="284.1" cy="529" rx="3.3" ry="3.2" fill="#826258" opacity=".3"/><ellipse cx="276.9" cy="501.5" rx="4.6" ry="4" fill="#826258" opacity=".3"/><ellipse cx="273.9" cy="534.1" rx="5" ry="4.9" fill="#d0b4a6" opacity=".3"/><ellipse cx="275.4" cy="542" rx="3.2" ry="3" fill="#d0b4a6" opacity=".4"/><ellipse cx="270.7" cy="542.9" rx="3" ry="3" fill="#d0b4a6" opacity=".4"/><ellipse cx="277.3" cy="529.5" rx="4.1" ry="3.2" fill="#d0b4a6" opacity=".3"/><ellipse cx="282.3" cy="547.4" rx="5.1" ry="4.7" fill="#826258" opacity=".2"/><ellipse cx="282.8" cy="530.5" rx="3.1" ry="3.1" fill="#d0b4a6" opacity=".3"/><ellipse cx="291.7" cy="523.4" rx="3.4" ry="2.2" fill="#826258" opacity=".2"/><ellipse cx="281.6" cy="547.7" rx="2.9" ry="2.4" fill="#826258" opacity=".2"/><ellipse cx="268.5" cy="514.2" rx="3.1" ry="2.4" fill="#d0b4a6" opacity=".4"/><ellipse cx="261" cy="522.6" rx="5.7" ry="3.5" fill="#d0b4a6" opacity=".4"/><ellipse cx="280.2" cy="547.5" rx="3.3" ry="2.8" fill="#826258" opacity=".2"/><ellipse cx="279.1" cy="527" rx="4.8" ry="4.6" fill="#d0b4a6" opacity=".4"/><ellipse cx="284" cy="522.5" rx="4" ry="2.5" fill="#826258" opacity=".2"/><ellipse cx="265.7" cy="528.7" rx="4" ry="2.8" fill="#826258" opacity=".3"/><ellipse cx="260.7" cy="538.1" rx="3.4" ry="3" fill="#826258" opacity=".2"/><ellipse cx="290" cy="515.4" rx="4.4" ry="2.9" fill="#826258" opacity=".2"/><ellipse cx="281.6" cy="499.6" rx="5.1" ry="3.9" fill="#d0b4a6" opacity=".4"/><ellipse cx="272.9" cy="545.5" rx="3.7" ry="3.1" fill="#826258" opacity=".2"/><ellipse cx="274.4" cy="503.4" rx="5.3" ry="5.1" fill="#d0b4a6" opacity=".3"/><ellipse cx="291.7" cy="522.1" rx="3.5" ry="3.1" fill="#826258" opacity=".2"/><ellipse cx="271.1" cy="538.8" rx="3" ry="2" fill="#d0b4a6" opacity=".2"/><ellipse cx="285.7" cy="516.5" rx="2.9" ry="1.8" fill="#d0b4a6" opacity=".2"/><ellipse cx="280.6" cy="525.2" rx="3.9" ry="3.8" fill="#d0b4a6" opacity=".4"/><g fill="#fff" opacity=".75"><circle cx="253.3" cy="538.8" r=".5"/><circle cx="272.1" cy="545.2" r=".6"/><circle cx="262.3" cy="520.6" r=".4"/><circle cx="265.6" cy="514" r=".4"/><circle cx="286.4" cy="502.5" r=".4"/><circle cx="282.4" cy="538.6" r=".5"/><circle cx="267.5" cy="531.4" r=".5"/><circle cx="284.4" cy="522.2" r=".5"/><circle cx="277.1" cy="533.7" r=".4"/><circle cx="280.6" cy="555.9" r=".3"/><circle cx="255.7" cy="522.7" r=".4"/><circle cx="278.7" cy="525.5" r=".4"/><circle cx="291.2" cy="526.1" r=".5"/><circle cx="271.7" cy="543.6" r=".6"/><circle cx="252.4" cy="517.9" r=".5"/><circle cx="282.5" cy="498.3" r=".4"/><circle cx="292.4" cy="520" r=".5"/><circle cx="269.1" cy="553.7" r=".4"/><circle cx="278.5" cy="528.2" r=".4"/><circle cx="278.5" cy="513.4" r=".5"/><circle cx="253.9" cy="528.5" r=".4"/><circle cx="266.1" cy="542.3" r=".4"/><circle cx="276.9" cy="522.6" r=".5"/><circle cx="284.9" cy="538.6" r=".6"/><circle cx="290.8" cy="529.1" r=".5"/><circle cx="289.3" cy="535.4" r=".3"/><circle cx="265.4" cy="515.5" r=".5"/><circle cx="261.6" cy="539.3" r=".3"/><circle cx="274.8" cy="538.2" r=".4"/><circle cx="269" cy="536" r=".6"/><circle cx="284.1" cy="512.1" r=".4"/><circle cx="273.3" cy="508.9" r=".5"/><circle cx="275.5" cy="503.4" r=".5"/><circle cx="273.1" cy="555.9" r=".4"/><circle cx="255.2" cy="524.9" r=".6"/><circle cx="269.7" cy="506.9" r=".4"/><circle cx="254.8" cy="517.4" r=".4"/><circle cx="271.9" cy="538.4" r=".3"/><circle cx="271.5" cy="523.9" r=".4"/><circle cx="285.6" cy="521.8" r=".5"/><circle cx="251.6" cy="523.8" r=".3"/><circle cx="276.9" cy="557.2" r=".6"/><circle cx="270" cy="519.3" r=".4"/><circle cx="288" cy="526.2" r=".3"/></g></g>
<ellipse cx="286.5" cy="513.7" rx="4.6" ry="5.3" fill="#4a2024" opacity="0.8" clip-path="url(#lc2)"/>
<ellipse cx="273.4" cy="516.3" rx="3.9" ry="5.3" fill="#ffffff" opacity="0.4" clip-path="url(#lc2)"/>
<path d="M261.5,513 L268.1,522.9 L273.4,529.4 L276,538.6" fill="none" stroke="#3c2820" stroke-width=".7" opacity=".55" stroke-linecap="round" stroke-linejoin="round" clip-path="url(#lc2)"/>
<path d="M273.4,501.8 L276,509.7 L279.9,516.3" fill="none" stroke="#3c2820" stroke-width=".7" opacity=".55" stroke-linecap="round" stroke-linejoin="round" clip-path="url(#lc2)"/>
<path d="M287.8,538.6 L282.6,533.4" fill="none" stroke="#3c2820" stroke-width=".7" opacity=".55" stroke-linecap="round" stroke-linejoin="round" clip-path="url(#lc2)"/>
<path d="M251,526.8 C251.9,525.3 254.1,526.5 256.3,526.8 C258.5,527.1 261.5,527.9 264.2,528.8 C266.8,529.6 270.2,530.4 272,532 C273.9,533.7 275,536 275.3,538.6 C275.7,541.2 274.8,545.2 274,547.8 C273.3,550.4 271.9,553.5 270.7,554.4 C269.5,555.3 267.8,554.6 266.8,553.1 C265.8,551.5 265.7,546.9 264.8,545.2 C263.9,543.4 263.3,543.1 261.5,542.6 C259.8,542 256.1,543 254.3,541.9 C252.6,540.8 251.6,538.5 251,536 C250.5,533.5 250.1,528.3 251,526.8Z" fill="none" stroke="#e8202a" stroke-width=".8"/>
<radialGradient id="lg3" cx="0.45" cy="0.4" r="0.65"><stop offset="0" stop-color="#cdb1a0"/><stop offset="0.6" stop-color="#ad8f7c"/><stop offset="1" stop-color="#7c5e50"/></radialGradient>
<clipPath id="lc3"><path d="M155.5,598.8 C156.3,597 159,592.5 160.1,590.2 C161.2,587.9 161.6,587.8 162.1,585 C162.5,582.1 162.1,576.1 162.7,573.1 C163.4,570.2 164.4,568.7 166,567.2 C167.7,565.8 170.4,564.8 172.6,564.6 C174.8,564.4 177.5,564.9 179.2,565.9 C180.8,566.9 181.8,569.1 182.5,570.5 C183.1,571.9 182.1,573.9 183.1,574.5 C184.1,575 186.5,573.7 188.4,573.8 C190.2,573.9 193.4,574.1 194.3,575.1 C195.2,576.1 194.6,578.3 193.6,579.7 C192.6,581.1 187.7,582.4 188.4,583.7 C189,584.9 194.5,586.3 197.6,586.9 C200.6,587.6 204.7,586.8 206.8,587.6 C208.8,588.4 209.7,589.8 210,591.5 C210.4,593.3 209.5,596.1 208.7,598.1 C208,600.1 206.9,601.8 205.4,603.4 C204,604.9 202.4,606.4 200.2,607.3 C198,608.2 194.9,608.6 192.3,608.6 C189.7,608.6 186.4,607.3 184.4,607.3 C182.5,607.3 182.2,608.6 180.5,608.6 C178.7,608.6 176.3,606.9 173.9,607.3 C171.5,607.7 168.2,611 166,611.2 C163.8,611.5 162.1,609.9 160.8,608.6 C159.5,607.3 159,604.7 158.1,603.4 C157.3,602 156,601.5 155.5,600.7 C155.1,600 154.7,600.5 155.5,598.8Z"/></clipPath>
<path d="M155.5,598.8 C156.3,597 159,592.5 160.1,590.2 C161.2,587.9 161.6,587.8 162.1,585 C162.5,582.1 162.1,576.1 162.7,573.1 C163.4,570.2 164.4,568.7 166,567.2 C167.7,565.8 170.4,564.8 172.6,564.6 C174.8,564.4 177.5,564.9 179.2,565.9 C180.8,566.9 181.8,569.1 182.5,570.5 C183.1,571.9 182.1,573.9 183.1,574.5 C184.1,575 186.5,573.7 188.4,573.8 C190.2,573.9 193.4,574.1 194.3,575.1 C195.2,576.1 194.6,578.3 193.6,579.7 C192.6,581.1 187.7,582.4 188.4,583.7 C189,584.9 194.5,586.3 197.6,586.9 C200.6,587.6 204.7,586.8 206.8,587.6 C208.8,588.4 209.7,589.8 210,591.5 C210.4,593.3 209.5,596.1 208.7,598.1 C208,600.1 206.9,601.8 205.4,603.4 C204,604.9 202.4,606.4 200.2,607.3 C198,608.2 194.9,608.6 192.3,608.6 C189.7,608.6 186.4,607.3 184.4,607.3 C182.5,607.3 182.2,608.6 180.5,608.6 C178.7,608.6 176.3,606.9 173.9,607.3 C171.5,607.7 168.2,611 166,611.2 C163.8,611.5 162.1,609.9 160.8,608.6 C159.5,607.3 159,604.7 158.1,603.4 C157.3,602 156,601.5 155.5,600.7 C155.1,600 154.7,600.5 155.5,598.8Z" fill="url(#lg3)" stroke="#7a6a66" stroke-width=".5"/>
<g clip-path="url(#lc3)"><ellipse cx="180.6" cy="570.6" rx="4.9" ry="3.3" fill="#cdb1a0" opacity=".4"/><ellipse cx="167.5" cy="599.5" rx="4.8" ry="4.6" fill="#7c5e50" opacity=".2"/><ellipse cx="191.7" cy="596" rx="3.9" ry="2.6" fill="#7c5e50" opacity=".3"/><ellipse cx="196.1" cy="599" rx="3.2" ry="2.9" fill="#cdb1a0" opacity=".4"/><ellipse cx="204.8" cy="592.4" rx="4.8" ry="3.6" fill="#7c5e50" opacity=".2"/><ellipse cx="183.1" cy="593.1" rx="4.4" ry="4.3" fill="#7c5e50" opacity=".2"/><ellipse cx="169.5" cy="585.5" rx="5" ry="3.6" fill="#7c5e50" opacity=".2"/><ellipse cx="178.7" cy="588.1" rx="4.3" ry="4" fill="#7c5e50" opacity=".3"/><ellipse cx="175.8" cy="568.9" rx="2.9" ry="1.9" fill="#cdb1a0" opacity=".4"/><ellipse cx="190.7" cy="598.9" rx="4.3" ry="3" fill="#7c5e50" opacity=".2"/><ellipse cx="195.3" cy="592.5" rx="5.4" ry="3.9" fill="#cdb1a0" opacity=".4"/><ellipse cx="179.5" cy="572.4" rx="5.8" ry="4.1" fill="#7c5e50" opacity=".3"/><ellipse cx="165" cy="588.1" rx="5.6" ry="5.5" fill="#7c5e50" opacity=".2"/><ellipse cx="164" cy="602.2" rx="3.1" ry="2.1" fill="#7c5e50" opacity=".2"/><ellipse cx="186.4" cy="579.5" rx="4.6" ry="3.9" fill="#cdb1a0" opacity=".3"/><ellipse cx="166.3" cy="600.3" rx="5.6" ry="5" fill="#cdb1a0" opacity=".4"/><ellipse cx="184.8" cy="578.1" rx="3.8" ry="2.9" fill="#cdb1a0" opacity=".3"/><ellipse cx="176.6" cy="602.8" rx="3.1" ry="2" fill="#cdb1a0" opacity=".4"/><ellipse cx="158.8" cy="595.1" rx="3.6" ry="2.3" fill="#7c5e50" opacity=".2"/><ellipse cx="188.6" cy="584.6" rx="5.7" ry="4.8" fill="#7c5e50" opacity=".2"/><ellipse cx="184.3" cy="603.1" rx="3.5" ry="2.6" fill="#7c5e50" opacity=".2"/><ellipse cx="190.8" cy="590.9" rx="3.5" ry="2.1" fill="#7c5e50" opacity=".3"/><ellipse cx="166.2" cy="568.8" rx="5" ry="4.9" fill="#7c5e50" opacity=".2"/><g fill="#fff" opacity=".75"><circle cx="169.3" cy="594.4" r=".5"/><circle cx="192" cy="599.1" r=".4"/><circle cx="170.2" cy="568.3" r=".5"/><circle cx="181.1" cy="590" r=".4"/><circle cx="181" cy="605.7" r=".4"/><circle cx="167.7" cy="601.2" r=".4"/><circle cx="187.7" cy="575" r=".4"/><circle cx="176.4" cy="588.2" r=".4"/><circle cx="173.4" cy="583" r=".6"/><circle cx="186.5" cy="605.6" r=".4"/><circle cx="182.7" cy="599.2" r=".4"/><circle cx="173.7" cy="572.4" r=".5"/><circle cx="165.2" cy="571.6" r=".5"/><circle cx="201.4" cy="590.5" r=".4"/><circle cx="174.9" cy="607" r=".5"/><circle cx="166.1" cy="591.2" r=".4"/><circle cx="180.1" cy="597.4" r=".4"/><circle cx="174" cy="594.5" r=".5"/><circle cx="171.4" cy="582.1" r=".5"/><circle cx="180.5" cy="605.8" r=".3"/><circle cx="178.7" cy="600.8" r=".5"/><circle cx="180.2" cy="584.3" r=".5"/><circle cx="169" cy="602.7" r=".4"/><circle cx="160.2" cy="594.6" r=".4"/><circle cx="170.7" cy="573.2" r=".4"/><circle cx="204.4" cy="601.4" r=".4"/><circle cx="180.6" cy="600.7" r=".3"/><circle cx="186.6" cy="607.5" r=".6"/><circle cx="179.8" cy="568.3" r=".4"/><circle cx="164.9" cy="574.6" r=".3"/><circle cx="182" cy="585.1" r=".4"/><circle cx="170.1" cy="602.7" r=".4"/><circle cx="179.6" cy="578.2" r=".4"/><circle cx="197.8" cy="594.5" r=".4"/><circle cx="190.5" cy="581.2" r=".6"/><circle cx="180.3" cy="606.3" r=".5"/></g></g>
<ellipse cx="171.3" cy="595.5" rx="9.2" ry="7.9" fill="#6a4a40" opacity="0.5" clip-path="url(#lc3)"/>
<ellipse cx="189.3" cy="598.1" rx="5.9" ry="5.9" fill="#e4cabc" opacity="0.8" clip-path="url(#lc3)"/>
<ellipse cx="179.4" cy="578.4" rx="2" ry="3.3" fill="#d8b040" opacity="0.7" clip-path="url(#lc3)"/>
<path d="M162.1,585 L175.2,586.3 L181.8,583.7" fill="none" stroke="#3c2820" stroke-width=".7" opacity=".55" stroke-linecap="round" stroke-linejoin="round" clip-path="url(#lc3)"/>
<path d="M171.3,595.5 L176.5,602 L180.5,607.3" fill="none" stroke="#3c2820" stroke-width=".7" opacity=".55" stroke-linecap="round" stroke-linejoin="round" clip-path="url(#lc3)"/>
<ellipse cx="189.3" cy="598.1" rx="6.6" ry="6.6" fill="none" stroke="#e8202a" stroke-width=".8"/>
<ellipse cx="205.7" cy="593.1" rx="4.3" ry="4.3" fill="none" stroke="#e8202a" stroke-width=".8"/>
<radialGradient id="lg4" cx="0.45" cy="0.4" r="0.65"><stop offset="0" stop-color="#e0c6b8"/><stop offset="0.6" stop-color="#c6a392"/><stop offset="1" stop-color="#98766a"/></radialGradient>
<clipPath id="lc4"><path d="M243.5,593.5 C244,592.1 245.8,589.5 246.8,588.3 C247.8,587 248.9,587.7 249.5,586.3 C250,584.9 249.5,581.7 250.1,579.7 C250.8,577.7 252,575.8 253.4,574.5 C254.8,573.1 256.7,572.2 258.7,571.8 C260.6,571.5 263.4,571.9 265.2,572.5 C267.1,573 267.9,574.8 269.8,575.1 C271.8,575.4 274.8,574.2 277,574.5 C279.3,574.7 281.4,575.3 283.6,576.4 C285.8,577.5 288.2,579.4 290.2,581 C292.2,582.7 294.4,584.5 295.4,586.3 C296.5,588 295.7,590.6 296.8,591.5 C297.9,592.5 300.8,591.1 302,592.2 C303.2,593.3 304,596 304,598.1 C304,600.2 303.2,603.3 302,604.7 C300.8,606.1 298.5,606.4 296.8,606.6 C295,606.9 293,605.7 291.5,606 C290,606.3 289.5,608.2 287.6,608.6 C285.6,609.1 281.2,608.2 279.7,608.6 C278.1,609.1 279.2,610.4 278.4,611.2 C277.5,612.1 275.7,613.8 274.4,613.9 C273.1,614 271.4,613.1 270.5,611.9 C269.6,610.7 270.7,607.6 269.2,606.6 C267.6,605.7 263.7,606.5 261.3,606 C258.9,605.4 256.5,603.7 254.7,603.4 C253,603 251.9,604.7 250.8,604 C249.7,603.4 249.2,600.6 248.1,599.4 C247,598.2 245,597.8 244.2,596.8 C243.4,595.8 243.1,594.9 243.5,593.5Z"/></clipPath>
<path d="M243.5,593.5 C244,592.1 245.8,589.5 246.8,588.3 C247.8,587 248.9,587.7 249.5,586.3 C250,584.9 249.5,581.7 250.1,579.7 C250.8,577.7 252,575.8 253.4,574.5 C254.8,573.1 256.7,572.2 258.7,571.8 C260.6,571.5 263.4,571.9 265.2,572.5 C267.1,573 267.9,574.8 269.8,575.1 C271.8,575.4 274.8,574.2 277,574.5 C279.3,574.7 281.4,575.3 283.6,576.4 C285.8,577.5 288.2,579.4 290.2,581 C292.2,582.7 294.4,584.5 295.4,586.3 C296.5,588 295.7,590.6 296.8,591.5 C297.9,592.5 300.8,591.1 302,592.2 C303.2,593.3 304,596 304,598.1 C304,600.2 303.2,603.3 302,604.7 C300.8,606.1 298.5,606.4 296.8,606.6 C295,606.9 293,605.7 291.5,606 C290,606.3 289.5,608.2 287.6,608.6 C285.6,609.1 281.2,608.2 279.7,608.6 C278.1,609.1 279.2,610.4 278.4,611.2 C277.5,612.1 275.7,613.8 274.4,613.9 C273.1,614 271.4,613.1 270.5,611.9 C269.6,610.7 270.7,607.6 269.2,606.6 C267.6,605.7 263.7,606.5 261.3,606 C258.9,605.4 256.5,603.7 254.7,603.4 C253,603 251.9,604.7 250.8,604 C249.7,603.4 249.2,600.6 248.1,599.4 C247,598.2 245,597.8 244.2,596.8 C243.4,595.8 243.1,594.9 243.5,593.5Z" fill="url(#lg4)" stroke="#7a6a66" stroke-width=".5"/>
<g clip-path="url(#lc4)"><ellipse cx="273.3" cy="603.1" rx="4.3" ry="3.3" fill="#98766a" opacity=".2"/><ellipse cx="264.9" cy="586.7" rx="4.9" ry="4.2" fill="#e0c6b8" opacity=".3"/><ellipse cx="275.1" cy="604" rx="4.3" ry="4" fill="#98766a" opacity=".3"/><ellipse cx="285.8" cy="602.1" rx="5.1" ry="4.4" fill="#98766a" opacity=".3"/><ellipse cx="293.6" cy="594.4" rx="5.1" ry="3.7" fill="#98766a" opacity=".2"/><ellipse cx="279.5" cy="598.2" rx="4.6" ry="3.8" fill="#e0c6b8" opacity=".4"/><ellipse cx="265.2" cy="579.8" rx="4.5" ry="3.6" fill="#98766a" opacity=".2"/><ellipse cx="271.4" cy="575.5" rx="5.4" ry="4.3" fill="#e0c6b8" opacity=".2"/><ellipse cx="286.6" cy="597.2" rx="3.8" ry="3.3" fill="#e0c6b8" opacity=".2"/><ellipse cx="275.9" cy="600.2" rx="5.9" ry="5.2" fill="#e0c6b8" opacity=".2"/><ellipse cx="270.7" cy="592.5" rx="5.9" ry="4" fill="#98766a" opacity=".2"/><ellipse cx="270.1" cy="588.2" rx="4.2" ry="2.5" fill="#e0c6b8" opacity=".4"/><ellipse cx="274.1" cy="608.2" rx="3.7" ry="2.3" fill="#e0c6b8" opacity=".4"/><ellipse cx="268.9" cy="585.7" rx="3.9" ry="2.5" fill="#98766a" opacity=".3"/><ellipse cx="281" cy="582" rx="2.9" ry="2.4" fill="#e0c6b8" opacity=".4"/><ellipse cx="275" cy="586.6" rx="3.1" ry="3.1" fill="#e0c6b8" opacity=".4"/><ellipse cx="273.7" cy="597.9" rx="5.6" ry="4.2" fill="#e0c6b8" opacity=".2"/><ellipse cx="250.1" cy="580.8" rx="5" ry="3.1" fill="#e0c6b8" opacity=".3"/><ellipse cx="266.6" cy="594.3" rx="3.4" ry="2.7" fill="#e0c6b8" opacity=".2"/><ellipse cx="278.9" cy="605.1" rx="5.5" ry="5" fill="#e0c6b8" opacity=".2"/><ellipse cx="274.4" cy="591.3" rx="4.2" ry="3" fill="#98766a" opacity=".3"/><ellipse cx="278.9" cy="596.8" rx="4.9" ry="3.3" fill="#98766a" opacity=".2"/><ellipse cx="265.2" cy="594.4" rx="5.2" ry="3.8" fill="#e0c6b8" opacity=".4"/><g fill="#fff" opacity=".75"><circle cx="290.1" cy="589.2" r=".6"/><circle cx="267.3" cy="601.6" r=".4"/><circle cx="263.1" cy="588.7" r=".5"/><circle cx="290.5" cy="581.9" r=".5"/><circle cx="286.8" cy="585.8" r=".5"/><circle cx="276.1" cy="584.8" r=".4"/><circle cx="287.8" cy="583.6" r=".3"/><circle cx="282.1" cy="583.4" r=".5"/><circle cx="265.5" cy="600.1" r=".6"/><circle cx="254.1" cy="597.7" r=".5"/><circle cx="284.2" cy="587.2" r=".4"/><circle cx="255.8" cy="579.1" r=".4"/><circle cx="261.6" cy="603.6" r=".5"/><circle cx="249.5" cy="595.4" r=".5"/><circle cx="279.2" cy="594.4" r=".4"/><circle cx="254.3" cy="593" r=".4"/><circle cx="287.2" cy="579.3" r=".4"/><circle cx="286.7" cy="590.3" r=".4"/><circle cx="288.4" cy="591.6" r=".6"/><circle cx="273.9" cy="589.2" r=".4"/><circle cx="268.7" cy="605.5" r=".5"/><circle cx="251.2" cy="590.2" r=".3"/><circle cx="287.3" cy="582.8" r=".5"/><circle cx="285.8" cy="601.9" r=".4"/><circle cx="287.7" cy="586.5" r=".6"/><circle cx="260.7" cy="592.3" r=".5"/><circle cx="273.4" cy="608.7" r=".5"/><circle cx="284.9" cy="603.8" r=".5"/><circle cx="256.1" cy="579.5" r=".4"/><circle cx="267.7" cy="576.3" r=".5"/><circle cx="279.7" cy="601.8" r=".6"/><circle cx="288.3" cy="601.4" r=".3"/><circle cx="263.6" cy="573.5" r=".4"/><circle cx="282.6" cy="603.8" r=".5"/><circle cx="302.6" cy="597.7" r=".5"/><circle cx="283.5" cy="603.6" r=".5"/></g></g>
<ellipse cx="269.2" cy="592.9" rx="6.6" ry="5.3" fill="#7a5850" opacity="0.45" clip-path="url(#lc4)"/>
<ellipse cx="261.3" cy="578.4" rx="3.3" ry="3.3" fill="#ffffff" opacity="0.35" clip-path="url(#lc4)"/>
<path d="M253.4,592.9 L261.3,591.5 L269.2,590.2 L274.4,599.4" fill="none" stroke="#3c2820" stroke-width=".7" opacity=".55" stroke-linecap="round" stroke-linejoin="round" clip-path="url(#lc4)"/>
<path d="M265.2,572.5 L269.2,586.3" fill="none" stroke="#3c2820" stroke-width=".7" opacity=".55" stroke-linecap="round" stroke-linejoin="round" clip-path="url(#lc4)"/>
<ellipse cx="285.6" cy="600.1" rx="6.6" ry="6.6" fill="none" stroke="#e8202a" stroke-width=".8"/>
<ellipse cx="298.1" cy="598.8" rx="5.3" ry="5.3" fill="none" stroke="#e8202a" stroke-width=".8"/>
<radialGradient id="lg5" cx="0.45" cy="0.4" r="0.65"><stop offset="0" stop-color="#c8aa92"/><stop offset="0.6" stop-color="#a88a72"/><stop offset="1" stop-color="#7a5c4a"/></radialGradient>
<clipPath id="lc5"><path d="M155.5,635.1 C156,634 156.6,632.6 158.1,631.8 C159.7,631 162.3,630.1 164.7,630.2 C167.1,630.4 171,633.3 172.6,632.5 C174.2,631.7 173.7,627.2 174.6,625.3 C175.4,623.3 176.2,621.5 177.9,620.7 C179.5,619.8 182,619.9 184.4,620 C186.8,620.1 190.3,620.3 192.3,621.3 C194.3,622.3 195.8,624.2 196.2,625.9 C196.7,627.7 195.8,630.2 194.9,631.8 C194.1,633.5 191.2,634.7 191,635.8 C190.8,636.9 192.1,638.6 193.6,638.4 C195.2,638.2 197.8,635.2 200.2,634.5 C202.6,633.7 206,633.1 208.1,633.8 C210.2,634.5 211.6,636.1 212.7,638.4 C213.8,640.7 214.8,644.5 214.6,647.6 C214.5,650.7 213.3,654.2 212,656.8 C210.7,659.4 208.5,661.9 206.8,663.4 C205,664.8 203.9,665.3 201.5,665.3 C199.1,665.3 194.9,664.1 192.3,663.4 C189.7,662.6 187.7,661.4 185.7,660.7 C183.8,660.1 181.9,659.2 180.5,659.4 C179.1,659.6 178.1,662 177.2,662 C176.3,662 175.3,660.5 175.2,659.4 C175.1,658.3 177.2,655.9 176.5,655.5 C175.9,655 173.3,657.2 171.3,656.8 C169.3,656.4 166,654.6 164.7,652.9 C163.4,651.1 164.6,648 163.4,646.3 C162.2,644.5 158.8,643.7 157.5,642.3 C156.2,641 155.8,639.6 155.5,638.4 C155.2,637.2 155.1,636.2 155.5,635.1Z"/></clipPath>
<path d="M155.5,635.1 C156,634 156.6,632.6 158.1,631.8 C159.7,631 162.3,630.1 164.7,630.2 C167.1,630.4 171,633.3 172.6,632.5 C174.2,631.7 173.7,627.2 174.6,625.3 C175.4,623.3 176.2,621.5 177.9,620.7 C179.5,619.8 182,619.9 184.4,620 C186.8,620.1 190.3,620.3 192.3,621.3 C194.3,622.3 195.8,624.2 196.2,625.9 C196.7,627.7 195.8,630.2 194.9,631.8 C194.1,633.5 191.2,634.7 191,635.8 C190.8,636.9 192.1,638.6 193.6,638.4 C195.2,638.2 197.8,635.2 200.2,634.5 C202.6,633.7 206,633.1 208.1,633.8 C210.2,634.5 211.6,636.1 212.7,638.4 C213.8,640.7 214.8,644.5 214.6,647.6 C214.5,650.7 213.3,654.2 212,656.8 C210.7,659.4 208.5,661.9 206.8,663.4 C205,664.8 203.9,665.3 201.5,665.3 C199.1,665.3 194.9,664.1 192.3,663.4 C189.7,662.6 187.7,661.4 185.7,660.7 C183.8,660.1 181.9,659.2 180.5,659.4 C179.1,659.6 178.1,662 177.2,662 C176.3,662 175.3,660.5 175.2,659.4 C175.1,658.3 177.2,655.9 176.5,655.5 C175.9,655 173.3,657.2 171.3,656.8 C169.3,656.4 166,654.6 164.7,652.9 C163.4,651.1 164.6,648 163.4,646.3 C162.2,644.5 158.8,643.7 157.5,642.3 C156.2,641 155.8,639.6 155.5,638.4 C155.2,637.2 155.1,636.2 155.5,635.1Z" fill="url(#lg5)" stroke="#7a6a66" stroke-width=".5"/>
<g clip-path="url(#lc5)"><ellipse cx="189.8" cy="660.5" rx="3.7" ry="3" fill="#c8aa92" opacity=".3"/><ellipse cx="189.1" cy="630.8" rx="3.8" ry="2.4" fill="#c8aa92" opacity=".4"/><ellipse cx="163.8" cy="645.5" rx="4.7" ry="4.6" fill="#c8aa92" opacity=".4"/><ellipse cx="192.9" cy="661" rx="3.2" ry="3.1" fill="#c8aa92" opacity=".4"/><ellipse cx="196.6" cy="662" rx="3.7" ry="2.8" fill="#7a5c4a" opacity=".2"/><ellipse cx="163.4" cy="633.8" rx="2.8" ry="1.9" fill="#7a5c4a" opacity=".2"/><ellipse cx="201.2" cy="639.6" rx="5.4" ry="3.6" fill="#c8aa92" opacity=".3"/><ellipse cx="196.5" cy="648.2" rx="2.6" ry="1.7" fill="#7a5c4a" opacity=".2"/><ellipse cx="168.8" cy="654.5" rx="4.3" ry="4.1" fill="#7a5c4a" opacity=".3"/><ellipse cx="190.1" cy="640.9" rx="2.6" ry="1.7" fill="#7a5c4a" opacity=".2"/><ellipse cx="185.2" cy="644.9" rx="3.7" ry="3" fill="#c8aa92" opacity=".3"/><ellipse cx="165.1" cy="646.4" rx="5.6" ry="5.3" fill="#7a5c4a" opacity=".2"/><ellipse cx="183.5" cy="628.1" rx="4.2" ry="3.9" fill="#7a5c4a" opacity=".3"/><ellipse cx="186" cy="657.6" rx="4.9" ry="2.9" fill="#7a5c4a" opacity=".2"/><ellipse cx="199" cy="659.4" rx="4.9" ry="3.6" fill="#c8aa92" opacity=".3"/><ellipse cx="174.1" cy="636.4" rx="3.9" ry="3.6" fill="#7a5c4a" opacity=".2"/><ellipse cx="187.9" cy="660.4" rx="5" ry="3.2" fill="#7a5c4a" opacity=".2"/><ellipse cx="181.3" cy="648.6" rx="2.5" ry="2.4" fill="#c8aa92" opacity=".2"/><ellipse cx="205.1" cy="643.8" rx="4.5" ry="3.7" fill="#c8aa92" opacity=".2"/><ellipse cx="177.9" cy="628.9" rx="4.2" ry="3.9" fill="#7a5c4a" opacity=".3"/><ellipse cx="189.6" cy="644.3" rx="2.5" ry="1.6" fill="#7a5c4a" opacity=".3"/><ellipse cx="180.9" cy="644.8" rx="4.4" ry="3.8" fill="#c8aa92" opacity=".3"/><ellipse cx="179.7" cy="632.2" rx="2.9" ry="2.2" fill="#c8aa92" opacity=".3"/><ellipse cx="214.2" cy="647" rx="3.2" ry="2.8" fill="#7a5c4a" opacity=".3"/><g fill="#fff" opacity=".75"><circle cx="193.3" cy="641.4" r=".5"/><circle cx="203.4" cy="656.9" r=".4"/><circle cx="202.2" cy="640.6" r=".5"/><circle cx="183.3" cy="630.5" r=".3"/><circle cx="198.9" cy="663.4" r=".6"/><circle cx="188.7" cy="640.2" r=".5"/><circle cx="191.1" cy="651.8" r=".4"/><circle cx="175.9" cy="632.1" r=".3"/><circle cx="204" cy="646" r=".3"/><circle cx="184.8" cy="638.6" r=".3"/><circle cx="186" cy="638.3" r=".5"/><circle cx="208.7" cy="654.7" r=".4"/><circle cx="188.2" cy="624.4" r=".6"/><circle cx="189.3" cy="636.1" r=".4"/><circle cx="158.4" cy="641.1" r=".5"/><circle cx="182.7" cy="650.4" r=".4"/><circle cx="196.2" cy="655" r=".6"/><circle cx="184.1" cy="644.6" r=".4"/><circle cx="191.9" cy="648.8" r=".5"/><circle cx="173.7" cy="641.3" r=".3"/><circle cx="172.7" cy="650.4" r=".4"/><circle cx="174.5" cy="643.2" r=".6"/><circle cx="191.8" cy="650.8" r=".3"/><circle cx="174.3" cy="641.4" r=".6"/><circle cx="164.3" cy="635.4" r=".3"/><circle cx="184.9" cy="624.6" r=".6"/><circle cx="209.2" cy="655.7" r=".4"/><circle cx="157.6" cy="637.7" r=".4"/><circle cx="193.7" cy="642.7" r=".4"/><circle cx="184" cy="651.5" r=".4"/><circle cx="198.3" cy="642.4" r=".4"/><circle cx="203.4" cy="648.9" r=".6"/><circle cx="190.3" cy="639.8" r=".4"/><circle cx="191.7" cy="622.5" r=".3"/><circle cx="211.8" cy="651.6" r=".4"/><circle cx="160.2" cy="644.1" r=".3"/><circle cx="188.2" cy="645.6" r=".5"/><circle cx="196.6" cy="656.5" r=".5"/></g></g>
<ellipse cx="181.8" cy="646.3" rx="6.6" ry="5.3" fill="#5a4038" opacity="0.5" clip-path="url(#lc5)"/>
<ellipse cx="187.7" cy="640.8" rx="2.6" ry="2.6" fill="#ead2b8" opacity="0.8" clip-path="url(#lc5)"/>
<ellipse cx="206.1" cy="644.3" rx="2.6" ry="2.6" fill="#ead2b8" opacity="0.8" clip-path="url(#lc5)"/>
<path d="M174.6,632.5 L175.9,643.7 L176.5,655.5" fill="none" stroke="#3c2820" stroke-width=".7" opacity=".55" stroke-linecap="round" stroke-linejoin="round" clip-path="url(#lc5)"/>
<path d="M191,635.8 L184.4,650.2 L179.2,658.1" fill="none" stroke="#3c2820" stroke-width=".7" opacity=".55" stroke-linecap="round" stroke-linejoin="round" clip-path="url(#lc5)"/>
<path d="M188.4,643.7 L177.9,646.3" fill="none" stroke="#3c2820" stroke-width=".7" opacity=".55" stroke-linecap="round" stroke-linejoin="round" clip-path="url(#lc5)"/>
<ellipse cx="187.7" cy="640.8" rx="4.3" ry="4.3" fill="none" stroke="#e8202a" stroke-width=".8"/>
<ellipse cx="206.1" cy="643.7" rx="4.2" ry="4.2" fill="none" stroke="#e8202a" stroke-width=".8"/>
<ellipse cx="197.2" cy="655.2" rx="4.6" ry="4.6" fill="none" stroke="#e8202a" stroke-width=".8"/>
<radialGradient id="lg6" cx="0.45" cy="0.4" r="0.65"><stop offset="0" stop-color="#caa898"/><stop offset="0.6" stop-color="#ac8878"/><stop offset="1" stop-color="#7a5a4c"/></radialGradient>
<clipPath id="lc6"><path d="M254.7,635.8 C254.9,633.6 255.8,632.3 257.3,630.5 C258.9,628.8 261.5,626.6 263.9,625.3 C266.3,623.9 269.9,622.6 271.8,622.6 C273.7,622.6 274.3,623.5 275.1,625.3 C275.8,627 275.8,632 276.4,633.1 C276.9,634.2 277.6,632.7 278.4,631.8 C279.1,631 279.2,628.8 281,627.9 C282.7,627 286.8,626.4 288.9,626.6 C291,626.8 292.7,627.4 293.5,629.2 C294.2,631 293.8,634.9 293.5,637.1 C293.1,639.3 290.7,641.1 291.5,642.3 C292.3,643.5 296.7,643 298.1,644.3 C299.5,645.6 300.3,648.4 300,650.2 C299.8,652.1 298,654.2 296.8,655.5 C295.6,656.8 293.7,656.1 292.8,658.1 C291.9,660.1 292.6,664.9 291.5,667.3 C290.4,669.7 288,671.2 286.2,672.6 C284.5,673.9 282.5,675.2 281,675.2 C279.5,675.2 278.1,674.1 277,672.6 C276,671 275.3,667.5 274.4,666 C273.5,664.5 272.9,663.4 271.8,663.4 C270.7,663.4 269.4,666 267.9,666 C266.3,666 263.7,664.9 262.6,663.4 C261.5,661.8 261.9,659 261.3,656.8 C260.6,654.6 259.5,652.4 258.7,650.2 C257.8,648 256.7,646.1 256,643.7 C255.4,641.2 254.5,638 254.7,635.8Z"/></clipPath>
<path d="M254.7,635.8 C254.9,633.6 255.8,632.3 257.3,630.5 C258.9,628.8 261.5,626.6 263.9,625.3 C266.3,623.9 269.9,622.6 271.8,622.6 C273.7,622.6 274.3,623.5 275.1,625.3 C275.8,627 275.8,632 276.4,633.1 C276.9,634.2 277.6,632.7 278.4,631.8 C279.1,631 279.2,628.8 281,627.9 C282.7,627 286.8,626.4 288.9,626.6 C291,626.8 292.7,627.4 293.5,629.2 C294.2,631 293.8,634.9 293.5,637.1 C293.1,639.3 290.7,641.1 291.5,642.3 C292.3,643.5 296.7,643 298.1,644.3 C299.5,645.6 300.3,648.4 300,650.2 C299.8,652.1 298,654.2 296.8,655.5 C295.6,656.8 293.7,656.1 292.8,658.1 C291.9,660.1 292.6,664.9 291.5,667.3 C290.4,669.7 288,671.2 286.2,672.6 C284.5,673.9 282.5,675.2 281,675.2 C279.5,675.2 278.1,674.1 277,672.6 C276,671 275.3,667.5 274.4,666 C273.5,664.5 272.9,663.4 271.8,663.4 C270.7,663.4 269.4,666 267.9,666 C266.3,666 263.7,664.9 262.6,663.4 C261.5,661.8 261.9,659 261.3,656.8 C260.6,654.6 259.5,652.4 258.7,650.2 C257.8,648 256.7,646.1 256,643.7 C255.4,641.2 254.5,638 254.7,635.8Z" fill="url(#lg6)" stroke="#7a6a66" stroke-width=".5"/>
<g clip-path="url(#lc6)"><ellipse cx="265.9" cy="638.1" rx="3.9" ry="2.8" fill="#7a5a4c" opacity=".3"/><ellipse cx="268.4" cy="648.6" rx="5" ry="4.6" fill="#7a5a4c" opacity=".2"/><ellipse cx="287.6" cy="658.5" rx="3.5" ry="2.9" fill="#caa898" opacity=".2"/><ellipse cx="268.1" cy="624.3" rx="4.3" ry="3.8" fill="#7a5a4c" opacity=".3"/><ellipse cx="284.5" cy="664" rx="2.8" ry="2.5" fill="#7a5a4c" opacity=".3"/><ellipse cx="298.2" cy="645.9" rx="3.7" ry="3.4" fill="#7a5a4c" opacity=".2"/><ellipse cx="271.9" cy="632.4" rx="5.1" ry="4" fill="#caa898" opacity=".3"/><ellipse cx="276" cy="661.4" rx="2.6" ry="1.9" fill="#caa898" opacity=".4"/><ellipse cx="276.4" cy="664.9" rx="5.2" ry="4.3" fill="#caa898" opacity=".3"/><ellipse cx="287.7" cy="647.1" rx="4.1" ry="4.1" fill="#caa898" opacity=".4"/><ellipse cx="270.7" cy="660.7" rx="3.5" ry="2.9" fill="#caa898" opacity=".4"/><ellipse cx="274" cy="645.7" rx="5.2" ry="4.8" fill="#7a5a4c" opacity=".2"/><ellipse cx="288" cy="632.8" rx="5.4" ry="4.4" fill="#caa898" opacity=".4"/><ellipse cx="280.9" cy="631.6" rx="5.3" ry="3.2" fill="#caa898" opacity=".4"/><ellipse cx="298.5" cy="651.7" rx="3.1" ry="2.7" fill="#caa898" opacity=".2"/><ellipse cx="264.6" cy="637.2" rx="2.8" ry="2.4" fill="#7a5a4c" opacity=".2"/><ellipse cx="264.3" cy="655" rx="4.6" ry="3.1" fill="#caa898" opacity=".3"/><ellipse cx="283.8" cy="635.3" rx="5.6" ry="3.9" fill="#caa898" opacity=".4"/><ellipse cx="286.7" cy="647.2" rx="3.4" ry="2.3" fill="#7a5a4c" opacity=".2"/><ellipse cx="269.5" cy="659.1" rx="3.8" ry="3.6" fill="#caa898" opacity=".3"/><ellipse cx="284.3" cy="643.9" rx="4.9" ry="3.8" fill="#caa898" opacity=".4"/><g fill="#fff" opacity=".75"><circle cx="271" cy="629.7" r=".6"/><circle cx="293.9" cy="646.6" r=".5"/><circle cx="257.3" cy="644.9" r=".6"/><circle cx="279.2" cy="631.5" r=".4"/><circle cx="272.5" cy="632.4" r=".5"/><circle cx="269.5" cy="640.3" r=".5"/><circle cx="298.1" cy="645.7" r=".5"/><circle cx="272.1" cy="632.2" r=".5"/><circle cx="269.2" cy="639.5" r=".6"/><circle cx="292" cy="631.4" r=".5"/><circle cx="256.8" cy="642.1" r=".4"/><circle cx="265" cy="648.8" r=".4"/><circle cx="281.4" cy="655.1" r=".5"/><circle cx="278" cy="647.8" r=".5"/><circle cx="276" cy="643.5" r=".4"/><circle cx="270.3" cy="648.1" r=".6"/><circle cx="293.2" cy="653.8" r=".6"/><circle cx="270.4" cy="656.9" r=".6"/><circle cx="258.4" cy="633.8" r=".3"/><circle cx="276.4" cy="655.6" r=".4"/><circle cx="281.6" cy="641.8" r=".4"/><circle cx="274.1" cy="629.9" r=".6"/><circle cx="281.1" cy="653.1" r=".4"/><circle cx="256" cy="640.9" r=".6"/><circle cx="290.1" cy="668.2" r=".4"/><circle cx="277.5" cy="643.7" r=".6"/><circle cx="285.5" cy="647.4" r=".3"/><circle cx="279.8" cy="648.4" r=".6"/><circle cx="263.1" cy="628.1" r=".4"/><circle cx="270" cy="641.1" r=".5"/><circle cx="273" cy="659.3" r=".5"/><circle cx="277.5" cy="643.2" r=".4"/><circle cx="256.7" cy="642.9" r=".5"/><circle cx="290.6" cy="656.4" r=".5"/></g></g>
<ellipse cx="270.5" cy="650.2" rx="7.2" ry="7.9" fill="#7a3a34" opacity="0.55" clip-path="url(#lc6)"/>
<ellipse cx="266.5" cy="633.1" rx="3.9" ry="6.6" fill="#d6b8a8" opacity="0.5" clip-path="url(#lc6)"/>
<path d="M276.4,633.1 L278.4,643.7 L281,648.9" fill="none" stroke="#3c2820" stroke-width=".7" opacity=".55" stroke-linecap="round" stroke-linejoin="round" clip-path="url(#lc6)"/>
<path d="M291.5,642.3 L284.9,650.2" fill="none" stroke="#3c2820" stroke-width=".7" opacity=".55" stroke-linecap="round" stroke-linejoin="round" clip-path="url(#lc6)"/>
<path d="M274.4,666 L278.4,656.8" fill="none" stroke="#3c2820" stroke-width=".7" opacity=".55" stroke-linecap="round" stroke-linejoin="round" clip-path="url(#lc6)"/>
<ellipse cx="271.1" cy="649.6" rx="8.1" ry="10.2" fill="none" stroke="#e8202a" stroke-width=".8"/>
<ellipse cx="288.6" cy="635.8" rx="3.9" ry="3.9" fill="none" stroke="#e8202a" stroke-width=".8"/>
<radialGradient id="lg7" cx="0.45" cy="0.4" r="0.65"><stop offset="0" stop-color="#c09878"/><stop offset="0.6" stop-color="#a47a5a"/><stop offset="1" stop-color="#76523c"/></radialGradient>
<clipPath id="lc7"><path d="M164.7,706.8 C164.7,704.7 165.7,703.1 166.7,701.5 C167.7,700 170,700 170.6,697.6 C171.3,695.2 170.2,689.6 170.6,687.1 C171.1,684.6 171.8,683.4 173.3,682.5 C174.7,681.6 177.1,681.2 179.2,681.6 C181.2,681.9 183.8,683.9 185.7,684.5 C187.7,685 188.8,684.6 191,685.1 C193.2,685.7 196.8,686.5 198.9,687.7 C201,688.9 202.5,690.5 203.5,692.3 C204.5,694.2 205.1,696.5 204.8,698.9 C204.5,701.3 202.8,704.8 201.5,706.8 C200.2,708.8 198.7,709.9 196.9,710.7 C195.2,711.6 191.9,711.2 191,712 C190.1,712.9 192.3,714.7 191.6,716 C191,717.3 188.9,719.2 187,719.9 C185.2,720.7 182.5,720.9 180.5,720.6 C178.5,720.3 176.8,718.9 175.2,718 C173.7,717 172.7,715.3 171.3,714.7 C169.9,714 167.8,715.3 166.7,714 C165.6,712.7 164.7,708.9 164.7,706.8Z"/></clipPath>
<path d="M164.7,706.8 C164.7,704.7 165.7,703.1 166.7,701.5 C167.7,700 170,700 170.6,697.6 C171.3,695.2 170.2,689.6 170.6,687.1 C171.1,684.6 171.8,683.4 173.3,682.5 C174.7,681.6 177.1,681.2 179.2,681.6 C181.2,681.9 183.8,683.9 185.7,684.5 C187.7,685 188.8,684.6 191,685.1 C193.2,685.7 196.8,686.5 198.9,687.7 C201,688.9 202.5,690.5 203.5,692.3 C204.5,694.2 205.1,696.5 204.8,698.9 C204.5,701.3 202.8,704.8 201.5,706.8 C200.2,708.8 198.7,709.9 196.9,710.7 C195.2,711.6 191.9,711.2 191,712 C190.1,712.9 192.3,714.7 191.6,716 C191,717.3 188.9,719.2 187,719.9 C185.2,720.7 182.5,720.9 180.5,720.6 C178.5,720.3 176.8,718.9 175.2,718 C173.7,717 172.7,715.3 171.3,714.7 C169.9,714 167.8,715.3 166.7,714 C165.6,712.7 164.7,708.9 164.7,706.8Z" fill="url(#lg7)" stroke="#3a3030" stroke-width=".5"/>
<g clip-path="url(#lc7)"><ellipse cx="178.6" cy="687.5" rx="5.2" ry="3.7" fill="#76523c" opacity=".2"/><ellipse cx="191.7" cy="704.5" rx="3.4" ry="2.9" fill="#76523c" opacity=".2"/><ellipse cx="196.2" cy="705.6" rx="5.3" ry="4" fill="#76523c" opacity=".2"/><ellipse cx="176.7" cy="687.7" rx="5.9" ry="4.3" fill="#c09878" opacity=".2"/><ellipse cx="202.1" cy="694.7" rx="3.2" ry="2.8" fill="#c09878" opacity=".4"/><ellipse cx="175.8" cy="684.3" rx="5.2" ry="5.2" fill="#c09878" opacity=".2"/><ellipse cx="175.5" cy="698.8" rx="3.3" ry="3.3" fill="#c09878" opacity=".3"/><ellipse cx="184.5" cy="700" rx="4.3" ry="3" fill="#76523c" opacity=".2"/><ellipse cx="188.3" cy="701" rx="3.4" ry="3.3" fill="#76523c" opacity=".2"/><ellipse cx="202.8" cy="699.5" rx="3.5" ry="2.4" fill="#76523c" opacity=".2"/><ellipse cx="174.4" cy="709.7" rx="4.4" ry="2.7" fill="#76523c" opacity=".2"/><ellipse cx="199.9" cy="697.1" rx="3.1" ry="3.1" fill="#c09878" opacity=".2"/><ellipse cx="173.9" cy="705.7" rx="3.7" ry="2.8" fill="#76523c" opacity=".2"/><ellipse cx="180.4" cy="697.7" rx="3.8" ry="2.5" fill="#76523c" opacity=".2"/><g fill="#fff" opacity=".75"><circle cx="195.5" cy="697.4" r=".6"/><circle cx="194.1" cy="701.9" r=".4"/><circle cx="185.3" cy="714.5" r=".4"/><circle cx="194.9" cy="695.1" r=".4"/><circle cx="192.1" cy="692.9" r=".5"/><circle cx="171.8" cy="707.4" r=".3"/><circle cx="176.2" cy="698.5" r=".4"/><circle cx="187.4" cy="711.4" r=".6"/><circle cx="186.8" cy="700.1" r=".5"/><circle cx="184.5" cy="685.6" r=".5"/><circle cx="180.9" cy="682.9" r=".5"/><circle cx="196.1" cy="688.3" r=".5"/><circle cx="182.1" cy="696.6" r=".4"/><circle cx="190.5" cy="704" r=".4"/><circle cx="182.2" cy="716.1" r=".3"/><circle cx="187" cy="696.9" r=".6"/><circle cx="177.6" cy="694.7" r=".5"/><circle cx="168.8" cy="701.4" r=".5"/><circle cx="179.4" cy="688.5" r=".5"/><circle cx="174.5" cy="711.8" r=".5"/><circle cx="177.3" cy="690.4" r=".4"/><circle cx="177" cy="685.5" r=".5"/></g></g>
<ellipse cx="180.5" cy="706.8" rx="5.3" ry="6.6" fill="#4a3024" opacity="0.5" clip-path="url(#lc7)"/>
<path d="M184.4,684.5 L181.8,696.3 L177.9,706.8 L175.2,717.3" fill="none" stroke="#3c2820" stroke-width=".7" opacity=".55" stroke-linecap="round" stroke-linejoin="round" clip-path="url(#lc7)"/>
<path d="M171.3,700.2 L176.5,708.1" fill="none" stroke="#3c2820" stroke-width=".7" opacity=".55" stroke-linecap="round" stroke-linejoin="round" clip-path="url(#lc7)"/>
<ellipse cx="195.3" cy="696.9" rx="3.3" ry="3.3" fill="none" stroke="#e8202a" stroke-width=".8"/>
<ellipse cx="169.3" cy="712.7" rx="3.3" ry="3.3" fill="none" stroke="#e8202a" stroke-width=".8"/>
<radialGradient id="lg8" cx="0.45" cy="0.4" r="0.65"><stop offset="0" stop-color="#d0ac88"/><stop offset="0.6" stop-color="#b8946c"/><stop offset="1" stop-color="#8a6a48"/></radialGradient>
<clipPath id="lc8"><path d="M242.2,701.5 C242.3,699.2 243.4,696.7 244.9,695 C246.3,693.2 248.9,692 250.8,691 C252.6,690 254.5,689.7 256,689.1 C257.6,688.4 258.9,688.3 260,687.1 C261.1,685.9 261.3,683.3 262.6,681.8 C263.9,680.4 265.9,678.9 267.9,678.5 C269.8,678.2 272.8,678.9 274.4,679.9 C276.1,680.8 277.5,682.6 277.7,684.5 C277.9,686.3 276.3,689.1 275.7,691 C275.2,693 274.2,694.5 274.4,696.3 C274.6,698 276.4,699.3 277,701.5 C277.7,703.7 278.6,707 278.4,709.4 C278.1,711.8 277,714.7 275.7,716 C274.4,717.3 272.5,717.4 270.5,717.3 C268.5,717.2 265.6,716.3 263.9,715.3 C262.3,714.3 261.9,711.7 260.6,711.4 C259.3,711.1 257.9,713.1 256,713.4 C254.2,713.6 251.4,713.5 249.5,712.7 C247.5,711.9 245.4,710.6 244.2,708.8 C243,706.9 242.1,703.8 242.2,701.5Z"/></clipPath>
<path d="M242.2,701.5 C242.3,699.2 243.4,696.7 244.9,695 C246.3,693.2 248.9,692 250.8,691 C252.6,690 254.5,689.7 256,689.1 C257.6,688.4 258.9,688.3 260,687.1 C261.1,685.9 261.3,683.3 262.6,681.8 C263.9,680.4 265.9,678.9 267.9,678.5 C269.8,678.2 272.8,678.9 274.4,679.9 C276.1,680.8 277.5,682.6 277.7,684.5 C277.9,686.3 276.3,689.1 275.7,691 C275.2,693 274.2,694.5 274.4,696.3 C274.6,698 276.4,699.3 277,701.5 C277.7,703.7 278.6,707 278.4,709.4 C278.1,711.8 277,714.7 275.7,716 C274.4,717.3 272.5,717.4 270.5,717.3 C268.5,717.2 265.6,716.3 263.9,715.3 C262.3,714.3 261.9,711.7 260.6,711.4 C259.3,711.1 257.9,713.1 256,713.4 C254.2,713.6 251.4,713.5 249.5,712.7 C247.5,711.9 245.4,710.6 244.2,708.8 C243,706.9 242.1,703.8 242.2,701.5Z" fill="url(#lg8)" stroke="#4a4040" stroke-width=".5"/>
<g clip-path="url(#lc8)"><ellipse cx="268.1" cy="702.1" rx="5.7" ry="4.6" fill="#d0ac88" opacity=".4"/><ellipse cx="261.4" cy="708.6" rx="2.6" ry="2" fill="#d0ac88" opacity=".3"/><ellipse cx="274.3" cy="713.1" rx="2.6" ry="2.1" fill="#d0ac88" opacity=".3"/><ellipse cx="264.8" cy="701.7" rx="5.6" ry="5.1" fill="#8a6a48" opacity=".2"/><ellipse cx="266.6" cy="688.3" rx="3.7" ry="2.4" fill="#d0ac88" opacity=".4"/><ellipse cx="261.4" cy="692.1" rx="2.9" ry="2.7" fill="#8a6a48" opacity=".3"/><ellipse cx="259.5" cy="704.6" rx="5.2" ry="3.6" fill="#d0ac88" opacity=".4"/><ellipse cx="268.4" cy="709.1" rx="4.3" ry="2.7" fill="#d0ac88" opacity=".2"/><ellipse cx="264.4" cy="701" rx="2.7" ry="2.5" fill="#d0ac88" opacity=".2"/><ellipse cx="256.8" cy="709.3" rx="4" ry="2.9" fill="#d0ac88" opacity=".3"/><ellipse cx="266.2" cy="713.5" rx="5.6" ry="5.1" fill="#8a6a48" opacity=".2"/><ellipse cx="273.9" cy="709.7" rx="4.2" ry="2.6" fill="#8a6a48" opacity=".3"/><g fill="#fff" opacity=".75"><circle cx="274.6" cy="700.7" r=".4"/><circle cx="257.7" cy="706.4" r=".4"/><circle cx="244.7" cy="699.4" r=".3"/><circle cx="261.4" cy="685.6" r=".4"/><circle cx="266.7" cy="700.3" r=".5"/><circle cx="261.4" cy="707" r=".4"/><circle cx="255.1" cy="702.7" r=".3"/><circle cx="271.1" cy="699.2" r=".5"/><circle cx="248.2" cy="709.2" r=".4"/><circle cx="272.3" cy="679.8" r=".3"/><circle cx="274.9" cy="705.2" r=".3"/><circle cx="268.2" cy="712.2" r=".4"/><circle cx="266.5" cy="701" r=".4"/><circle cx="270.1" cy="683.1" r=".4"/><circle cx="257" cy="703.8" r=".4"/><circle cx="269.5" cy="681.4" r=".4"/><circle cx="258.1" cy="703.9" r=".3"/><circle cx="274.9" cy="688.7" r=".3"/><circle cx="243.1" cy="701.1" r=".4"/><circle cx="275.2" cy="713.5" r=".5"/></g></g>
<ellipse cx="265" cy="700" rx="1.3" ry="2" fill="#ffffff" opacity="0.8" clip-path="url(#lc8)"/>
<ellipse cx="269.2" cy="683.1" rx="3.9" ry="3.9" fill="#d8b8a0" opacity="0.6" clip-path="url(#lc8)"/>
<path d="M260.6,711.4 L263.9,698.9 L267.9,692.3" fill="none" stroke="#3c2820" stroke-width=".7" opacity=".55" stroke-linecap="round" stroke-linejoin="round" clip-path="url(#lc8)"/>
<path d="M274.4,696.3 L265.2,700.2" fill="none" stroke="#3c2820" stroke-width=".7" opacity=".55" stroke-linecap="round" stroke-linejoin="round" clip-path="url(#lc8)"/>
<ellipse cx="272.7" cy="682.7" rx="2.9" ry="2.9" fill="none" stroke="#e8202a" stroke-width=".8"/>
<ellipse cx="266.3" cy="690.1" rx="2.9" ry="2.9" fill="none" stroke="#e8202a" stroke-width=".8"/>
<ellipse cx="256.7" cy="701.8" rx="3.3" ry="3.3" fill="none" stroke="#e8202a" stroke-width=".8"/>
<text x="0" y="756.5" font-size="16.8" fill="#000">k</text>
<text x="31.1" y="780.7" font-size="10" textLength="79.9" lengthAdjust="spacingAndGlyphs">Tyr 100%diet+Con</text>
<text x="13.6" y="836.3" font-size="10" textLength="113" lengthAdjust="spacingAndGlyphs">Tyr 100% diet+ Venetoclax</text>
<text x="27.6" y="892" font-size="10" textLength="70.5" lengthAdjust="spacingAndGlyphs">Tyr 0%diet+Con</text>
<text x="11.2" y="948.1" font-size="10" textLength="102.6" lengthAdjust="spacingAndGlyphs">Tyr 0%diet+ Venetoclax</text>
<radialGradient id="lg9" cx="0.45" cy="0.4" r="0.65"><stop offset="0" stop-color="#b09070"/><stop offset="0.6" stop-color="#8a6650"/><stop offset="1" stop-color="#5a3a2c"/></radialGradient>
<clipPath id="lc9"><path d="M148.9,774.4 C149.2,771.1 149.5,765 150.3,761.3 C151,757.6 152.2,754.1 153.5,752.1 C154.9,750.1 155.8,749.8 158.1,749.5 C160.4,749.1 164.9,749.7 167.3,750.1 C169.7,750.5 171.5,752.8 172.6,752.1 C173.7,751.3 173,747.3 173.9,745.5 C174.8,743.8 176.1,742 177.9,741.6 C179.6,741.1 182.5,741.6 184.4,742.9 C186.4,744.2 188.4,748.1 189.7,749.5 C191,750.8 191.2,751.4 192.3,750.8 C193.4,750.1 194.3,746.7 196.2,745.5 C198.2,744.3 201.5,743.4 204.1,743.5 C206.8,743.7 209.9,744.7 212,746.2 C214.1,747.6 215.6,749.8 216.6,752.1 C217.6,754.4 217.9,757.3 217.9,760 C217.9,762.6 217.6,765.7 216.6,767.9 C215.6,770 213.7,772 212,773.1 C210.4,774.2 208.5,774.9 206.8,774.4 C205,774 203,771.1 201.5,770.5 C200,769.8 197.6,769.4 197.6,770.5 C197.6,771.6 200.7,774.6 201.5,777 C202.3,779.5 202.4,782.3 202.2,784.9 C201.9,787.6 201.4,791.1 200.2,792.8 C199,794.6 197.1,795.1 194.9,795.4 C192.7,795.8 188.8,795.7 187,794.8 C185.3,793.9 186,791.5 184.4,790.2 C182.9,788.9 179.2,786.5 177.9,786.9 C176.5,787.3 177.6,791.1 176.5,792.8 C175.4,794.6 173.5,796.5 171.3,797.4 C169.1,798.3 165.8,798.6 163.4,798.1 C161,797.5 158.8,795.9 156.8,794.1 C154.9,792.4 152.9,789.8 151.6,787.6 C150.3,785.4 149.4,783.2 148.9,781 C148.5,778.8 148.7,777.7 148.9,774.4Z"/></clipPath>
<path d="M148.9,774.4 C149.2,771.1 149.5,765 150.3,761.3 C151,757.6 152.2,754.1 153.5,752.1 C154.9,750.1 155.8,749.8 158.1,749.5 C160.4,749.1 164.9,749.7 167.3,750.1 C169.7,750.5 171.5,752.8 172.6,752.1 C173.7,751.3 173,747.3 173.9,745.5 C174.8,743.8 176.1,742 177.9,741.6 C179.6,741.1 182.5,741.6 184.4,742.9 C186.4,744.2 188.4,748.1 189.7,749.5 C191,750.8 191.2,751.4 192.3,750.8 C193.4,750.1 194.3,746.7 196.2,745.5 C198.2,744.3 201.5,743.4 204.1,743.5 C206.8,743.7 209.9,744.7 212,746.2 C214.1,747.6 215.6,749.8 216.6,752.1 C217.6,754.4 217.9,757.3 217.9,760 C217.9,762.6 217.6,765.7 216.6,767.9 C215.6,770 213.7,772 212,773.1 C210.4,774.2 208.5,774.9 206.8,774.4 C205,774 203,771.1 201.5,770.5 C200,769.8 197.6,769.4 197.6,770.5 C197.6,771.6 200.7,774.6 201.5,777 C202.3,779.5 202.4,782.3 202.2,784.9 C201.9,787.6 201.4,791.1 200.2,792.8 C199,794.6 197.1,795.1 194.9,795.4 C192.7,795.8 188.8,795.7 187,794.8 C185.3,793.9 186,791.5 184.4,790.2 C182.9,788.9 179.2,786.5 177.9,786.9 C176.5,787.3 177.6,791.1 176.5,792.8 C175.4,794.6 173.5,796.5 171.3,797.4 C169.1,798.3 165.8,798.6 163.4,798.1 C161,797.5 158.8,795.9 156.8,794.1 C154.9,792.4 152.9,789.8 151.6,787.6 C150.3,785.4 149.4,783.2 148.9,781 C148.5,778.8 148.7,777.7 148.9,774.4Z" fill="url(#lg9)" stroke="#3a3030" stroke-width=".5"/>
<g clip-path="url(#lc9)"><ellipse cx="201.2" cy="759.4" rx="3.3" ry="2.4" fill="#b09070" opacity=".3"/><ellipse cx="174.9" cy="759" rx="5.5" ry="3.3" fill="#b09070" opacity=".3"/><ellipse cx="217.5" cy="762.4" rx="4.2" ry="4" fill="#b09070" opacity=".4"/><ellipse cx="206.8" cy="770.8" rx="3.2" ry="2.4" fill="#b09070" opacity=".2"/><ellipse cx="176.8" cy="760.4" rx="5.3" ry="4.1" fill="#b09070" opacity=".4"/><ellipse cx="208.2" cy="757.1" rx="3.3" ry="2.6" fill="#b09070" opacity=".3"/><ellipse cx="189" cy="770.4" rx="5.9" ry="3.6" fill="#5a3a2c" opacity=".2"/><ellipse cx="159.3" cy="749.9" rx="4.6" ry="4.2" fill="#b09070" opacity=".3"/><ellipse cx="214.2" cy="752.4" rx="3.1" ry="2.4" fill="#b09070" opacity=".4"/><ellipse cx="153.9" cy="758.2" rx="3.4" ry="2.5" fill="#b09070" opacity=".3"/><ellipse cx="199" cy="770.1" rx="3.9" ry="2.7" fill="#b09070" opacity=".2"/><ellipse cx="174.7" cy="773" rx="4.2" ry="2.9" fill="#5a3a2c" opacity=".2"/><ellipse cx="167.7" cy="785.5" rx="5.5" ry="4.7" fill="#5a3a2c" opacity=".2"/><ellipse cx="207.5" cy="767.1" rx="5.8" ry="5.5" fill="#b09070" opacity=".2"/><ellipse cx="190.6" cy="792" rx="5.2" ry="4.2" fill="#b09070" opacity=".2"/><ellipse cx="182.5" cy="746.3" rx="5.1" ry="4.5" fill="#5a3a2c" opacity=".2"/><ellipse cx="159" cy="751.9" rx="4.8" ry="3.3" fill="#5a3a2c" opacity=".3"/><ellipse cx="174.3" cy="783.7" rx="5.7" ry="4.6" fill="#5a3a2c" opacity=".2"/><ellipse cx="197.4" cy="787.3" rx="5.2" ry="3.7" fill="#b09070" opacity=".3"/><ellipse cx="175" cy="782.3" rx="4.8" ry="3.3" fill="#5a3a2c" opacity=".2"/><ellipse cx="189" cy="778.2" rx="5.2" ry="4.4" fill="#b09070" opacity=".3"/><ellipse cx="166.4" cy="774.2" rx="2.6" ry="1.9" fill="#b09070" opacity=".4"/><ellipse cx="194.9" cy="758.9" rx="4.1" ry="4.1" fill="#5a3a2c" opacity=".2"/><ellipse cx="157.9" cy="768.2" rx="4.5" ry="2.7" fill="#5a3a2c" opacity=".2"/><ellipse cx="185.7" cy="778.2" rx="4.9" ry="4.7" fill="#5a3a2c" opacity=".2"/><ellipse cx="155.9" cy="774.8" rx="4.1" ry="3.1" fill="#b09070" opacity=".4"/><ellipse cx="188.4" cy="756.4" rx="4.6" ry="4.4" fill="#b09070" opacity=".3"/><ellipse cx="211.2" cy="763.9" rx="3.6" ry="3.1" fill="#b09070" opacity=".4"/><ellipse cx="166.7" cy="783.7" rx="4.1" ry="2.5" fill="#b09070" opacity=".3"/><ellipse cx="166.9" cy="766.1" rx="4.4" ry="4.3" fill="#5a3a2c" opacity=".3"/><ellipse cx="204.7" cy="770.7" rx="2.9" ry="2" fill="#5a3a2c" opacity=".2"/><ellipse cx="176.6" cy="783.7" rx="3.7" ry="2.6" fill="#5a3a2c" opacity=".2"/><ellipse cx="149.7" cy="769" rx="5.6" ry="5.3" fill="#b09070" opacity=".4"/><ellipse cx="215.3" cy="756.5" rx="3.8" ry="2.5" fill="#5a3a2c" opacity=".2"/><ellipse cx="164.9" cy="793.1" rx="4" ry="3.5" fill="#5a3a2c" opacity=".3"/><g fill="#fff" opacity=".75"><circle cx="184.4" cy="765.3" r=".4"/><circle cx="202.9" cy="753.8" r=".6"/><circle cx="159.2" cy="778.5" r=".4"/><circle cx="152.3" cy="774.5" r=".4"/><circle cx="161.4" cy="765.6" r=".5"/><circle cx="209.9" cy="764" r=".3"/><circle cx="198.1" cy="774.5" r=".6"/><circle cx="208.2" cy="768" r=".5"/><circle cx="165.7" cy="790.6" r=".4"/><circle cx="168.4" cy="771.1" r=".5"/><circle cx="186.4" cy="753.5" r=".4"/><circle cx="154.3" cy="768.2" r=".5"/><circle cx="173.8" cy="763.2" r=".3"/><circle cx="182.2" cy="752.5" r=".4"/><circle cx="195" cy="790" r=".6"/><circle cx="164" cy="776.4" r=".5"/><circle cx="161.7" cy="773.9" r=".4"/><circle cx="168.7" cy="759.1" r=".5"/><circle cx="168.1" cy="777.9" r=".4"/><circle cx="170" cy="765.5" r=".4"/><circle cx="163.3" cy="759.9" r=".5"/><circle cx="163.9" cy="764.3" r=".5"/><circle cx="179.2" cy="752.5" r=".5"/><circle cx="186" cy="783.1" r=".4"/><circle cx="181.8" cy="773.8" r=".4"/><circle cx="200.8" cy="748.6" r=".3"/><circle cx="158" cy="793" r=".6"/><circle cx="164.6" cy="755.2" r=".5"/><circle cx="159.3" cy="792.9" r=".5"/><circle cx="206.3" cy="749.1" r=".5"/><circle cx="160.1" cy="781.2" r=".4"/><circle cx="180.6" cy="743.2" r=".3"/><circle cx="203.9" cy="758.6" r=".4"/><circle cx="158.1" cy="775.8" r=".5"/><circle cx="207.5" cy="757.6" r=".3"/><circle cx="205.3" cy="772.7" r=".6"/><circle cx="180.6" cy="775.3" r=".4"/><circle cx="158" cy="765.3" r=".3"/><circle cx="166.8" cy="751.9" r=".3"/><circle cx="162.3" cy="771.1" r=".6"/><circle cx="176.8" cy="769" r=".6"/><circle cx="192.8" cy="767.6" r=".3"/><circle cx="205.1" cy="758.7" r=".6"/><circle cx="156.3" cy="762.4" r=".6"/><circle cx="171.4" cy="752.6" r=".5"/><circle cx="192.9" cy="774" r=".3"/><circle cx="188.2" cy="771.6" r=".4"/><circle cx="184.7" cy="787.2" r=".3"/><circle cx="166.1" cy="774.3" r=".3"/><circle cx="194.8" cy="754.8" r=".6"/><circle cx="199.5" cy="755" r=".4"/><circle cx="211.3" cy="758.7" r=".3"/><circle cx="184.7" cy="769.6" r=".3"/><circle cx="164" cy="771.2" r=".5"/><circle cx="200.3" cy="749.7" r=".6"/></g></g>
<ellipse cx="187" cy="761.3" rx="5.3" ry="7.9" fill="#3a2418" opacity="0.5" clip-path="url(#lc9)"/>
<ellipse cx="188.4" cy="784.9" rx="7.9" ry="7.9" fill="#6a4030" opacity="0.5" clip-path="url(#lc9)"/>
<ellipse cx="205.4" cy="760" rx="9.2" ry="11.8" fill="#c8ae88" opacity="0.8" clip-path="url(#lc9)"/>
<ellipse cx="166" cy="788.9" rx="7.9" ry="7.9" fill="#c0a47c" opacity="0.8" clip-path="url(#lc9)"/>
<ellipse cx="180.5" cy="750.8" rx="5.3" ry="6.6" fill="#c0a47c" opacity="0.7" clip-path="url(#lc9)"/>
<ellipse cx="181.8" cy="782.3" rx="1.6" ry="3.3" fill="#e0b020" opacity="0.9" clip-path="url(#lc9)"/>
<path d="M172.6,752.1 L179.2,761.3 L184.4,767.9 L177.9,786.9" fill="none" stroke="#3c2820" stroke-width=".7" opacity=".55" stroke-linecap="round" stroke-linejoin="round" clip-path="url(#lc9)"/>
<path d="M191,750.8 L188.4,761.3" fill="none" stroke="#3c2820" stroke-width=".7" opacity=".55" stroke-linecap="round" stroke-linejoin="round" clip-path="url(#lc9)"/>
<path d="M158.1,778.4 L168.7,782.3" fill="none" stroke="#3c2820" stroke-width=".7" opacity=".55" stroke-linecap="round" stroke-linejoin="round" clip-path="url(#lc9)"/>
<ellipse cx="205.4" cy="758.7" rx="11.8" ry="15.1" fill="none" stroke="#e8202a" stroke-width=".8"/>
<radialGradient id="lg10" cx="0.45" cy="0.4" r="0.65"><stop offset="0" stop-color="#c0a27c"/><stop offset="0.6" stop-color="#9c7c5c"/><stop offset="1" stop-color="#6c5038"/></radialGradient>
<clipPath id="lc10"><path d="M222.2,761.3 C222,758.4 222.1,754.6 222.9,752.1 C223.7,749.6 224.9,747.3 226.8,746.2 C228.8,745.1 232.6,745 234.7,745.5 C236.8,746.1 237.6,748.7 239.3,749.5 C241.1,750.2 243.1,749.5 245.2,750.1 C247.3,750.8 250.3,752 251.8,753.4 C253.3,754.8 253.8,756.7 254.4,758.7 C255.1,760.6 254.6,764.5 255.7,765.2 C256.8,766 259,764 261,763.3 C263,762.5 265.4,761 267.6,760.6 C269.8,760.3 272.3,760.1 274.1,761.3 C276,762.5 277.9,765.2 278.7,767.9 C279.6,770.5 279.7,774.4 279.4,777 C279.1,779.7 278.3,782 276.8,783.6 C275.2,785.3 271.9,786.2 270.2,786.9 C268.4,787.6 267.1,786.1 266.2,787.6 C265.4,789 266,793.3 264.9,795.4 C263.8,797.6 261.6,799.9 259.7,800.7 C257.7,801.5 254.9,800.7 253.1,800 C251.4,799.4 250.3,796.4 249.2,796.8 C248.1,797.1 248.3,800.7 246.5,802 C244.8,803.3 241.5,804.3 238.7,804.6 C235.8,805 231.6,805.1 229.5,804 C227.3,802.9 226.4,800.4 225.5,798.1 C224.6,795.8 223.5,792.4 224.2,790.2 C224.9,788 227.7,786.7 229.5,784.9 C231.2,783.2 234.6,781.6 234.7,779.7 C234.8,777.7 231.9,774.9 230.1,773.1 C228.4,771.4 225.5,771.1 224.2,769.2 C222.9,767.2 222.4,764.1 222.2,761.3Z"/></clipPath>
<path d="M222.2,761.3 C222,758.4 222.1,754.6 222.9,752.1 C223.7,749.6 224.9,747.3 226.8,746.2 C228.8,745.1 232.6,745 234.7,745.5 C236.8,746.1 237.6,748.7 239.3,749.5 C241.1,750.2 243.1,749.5 245.2,750.1 C247.3,750.8 250.3,752 251.8,753.4 C253.3,754.8 253.8,756.7 254.4,758.7 C255.1,760.6 254.6,764.5 255.7,765.2 C256.8,766 259,764 261,763.3 C263,762.5 265.4,761 267.6,760.6 C269.8,760.3 272.3,760.1 274.1,761.3 C276,762.5 277.9,765.2 278.7,767.9 C279.6,770.5 279.7,774.4 279.4,777 C279.1,779.7 278.3,782 276.8,783.6 C275.2,785.3 271.9,786.2 270.2,786.9 C268.4,787.6 267.1,786.1 266.2,787.6 C265.4,789 266,793.3 264.9,795.4 C263.8,797.6 261.6,799.9 259.7,800.7 C257.7,801.5 254.9,800.7 253.1,800 C251.4,799.4 250.3,796.4 249.2,796.8 C248.1,797.1 248.3,800.7 246.5,802 C244.8,803.3 241.5,804.3 238.7,804.6 C235.8,805 231.6,805.1 229.5,804 C227.3,802.9 226.4,800.4 225.5,798.1 C224.6,795.8 223.5,792.4 224.2,790.2 C224.9,788 227.7,786.7 229.5,784.9 C231.2,783.2 234.6,781.6 234.7,779.7 C234.8,777.7 231.9,774.9 230.1,773.1 C228.4,771.4 225.5,771.1 224.2,769.2 C222.9,767.2 222.4,764.1 222.2,761.3Z" fill="url(#lg10)" stroke="#5a5060" stroke-width=".5"/>
<g clip-path="url(#lc10)"><ellipse cx="277.7" cy="772.6" rx="3.9" ry="3.3" fill="#6c5038" opacity=".2"/><ellipse cx="271.3" cy="766.6" rx="5.1" ry="5.1" fill="#c0a27c" opacity=".4"/><ellipse cx="260.2" cy="776.2" rx="3.3" ry="2.5" fill="#c0a27c" opacity=".2"/><ellipse cx="250" cy="768.1" rx="3.8" ry="3.1" fill="#6c5038" opacity=".2"/><ellipse cx="235.8" cy="793.7" rx="3.8" ry="3.6" fill="#6c5038" opacity=".2"/><ellipse cx="233.1" cy="770.3" rx="5.8" ry="3.6" fill="#c0a27c" opacity=".3"/><ellipse cx="243.5" cy="801.2" rx="4.5" ry="4.1" fill="#c0a27c" opacity=".3"/><ellipse cx="268.2" cy="767.7" rx="4.2" ry="3.6" fill="#6c5038" opacity=".2"/><ellipse cx="227.9" cy="754.8" rx="5.2" ry="4.7" fill="#6c5038" opacity=".2"/><ellipse cx="268.2" cy="782.1" rx="3.1" ry="2.8" fill="#6c5038" opacity=".2"/><ellipse cx="226.5" cy="753.8" rx="4.6" ry="2.9" fill="#6c5038" opacity=".2"/><ellipse cx="265" cy="769.1" rx="2.6" ry="1.7" fill="#c0a27c" opacity=".4"/><ellipse cx="250.9" cy="764.2" rx="3.6" ry="2.6" fill="#6c5038" opacity=".2"/><ellipse cx="241.1" cy="766.4" rx="4.6" ry="3.4" fill="#c0a27c" opacity=".4"/><ellipse cx="270" cy="769.2" rx="3.1" ry="2" fill="#c0a27c" opacity=".4"/><ellipse cx="276.2" cy="774.7" rx="5.3" ry="4.4" fill="#6c5038" opacity=".3"/><ellipse cx="249" cy="796.3" rx="3.8" ry="3.6" fill="#6c5038" opacity=".3"/><ellipse cx="245.2" cy="759.3" rx="5.6" ry="5.2" fill="#6c5038" opacity=".2"/><ellipse cx="236.7" cy="766.5" rx="3.3" ry="2.5" fill="#6c5038" opacity=".2"/><ellipse cx="259.6" cy="769.5" rx="3.2" ry="2.8" fill="#c0a27c" opacity=".2"/><ellipse cx="229.7" cy="797.8" rx="4.5" ry="3.2" fill="#c0a27c" opacity=".4"/><ellipse cx="227.2" cy="798.4" rx="3.1" ry="1.9" fill="#6c5038" opacity=".3"/><ellipse cx="233.1" cy="792.5" rx="3.6" ry="2.4" fill="#6c5038" opacity=".3"/><ellipse cx="232.6" cy="763.4" rx="4.4" ry="2.8" fill="#6c5038" opacity=".2"/><ellipse cx="234.4" cy="782.1" rx="3.1" ry="2.2" fill="#c0a27c" opacity=".3"/><ellipse cx="242.2" cy="757.8" rx="2.9" ry="2.6" fill="#6c5038" opacity=".3"/><ellipse cx="277.4" cy="773.5" rx="2.9" ry="2.6" fill="#6c5038" opacity=".2"/><ellipse cx="237.9" cy="776.9" rx="3.7" ry="3.5" fill="#c0a27c" opacity=".3"/><ellipse cx="242.6" cy="803" rx="3" ry="2.2" fill="#c0a27c" opacity=".3"/><ellipse cx="234.5" cy="748.4" rx="3.8" ry="3.1" fill="#6c5038" opacity=".3"/><g fill="#fff" opacity=".75"><circle cx="235.9" cy="782.5" r=".4"/><circle cx="232.4" cy="791.8" r=".4"/><circle cx="270.4" cy="764.7" r=".6"/><circle cx="236.9" cy="790.4" r=".4"/><circle cx="250.4" cy="778.7" r=".6"/><circle cx="226.2" cy="792.9" r=".6"/><circle cx="244.9" cy="794.8" r=".5"/><circle cx="260.1" cy="781.8" r=".5"/><circle cx="265.3" cy="763.7" r=".5"/><circle cx="244.2" cy="760" r=".5"/><circle cx="232.6" cy="787.9" r=".5"/><circle cx="247.5" cy="794.2" r=".3"/><circle cx="250.5" cy="762.3" r=".6"/><circle cx="275.7" cy="763.6" r=".5"/><circle cx="257.3" cy="799.7" r=".6"/><circle cx="242.4" cy="802.3" r=".5"/><circle cx="262.3" cy="764.8" r=".6"/><circle cx="261.4" cy="783.8" r=".5"/><circle cx="238.8" cy="760.7" r=".5"/><circle cx="225.1" cy="755.1" r=".5"/><circle cx="247.1" cy="765.2" r=".6"/><circle cx="234.2" cy="754.1" r=".4"/><circle cx="253.5" cy="797.4" r=".3"/><circle cx="271" cy="764.2" r=".4"/><circle cx="240.1" cy="755.4" r=".4"/><circle cx="247.5" cy="777.7" r=".4"/><circle cx="265.1" cy="792.4" r=".6"/><circle cx="233" cy="798.5" r=".4"/><circle cx="273.8" cy="778" r=".4"/><circle cx="224.3" cy="766.7" r=".4"/><circle cx="230.8" cy="753.1" r=".5"/><circle cx="246.4" cy="762.9" r=".3"/><circle cx="263.6" cy="776" r=".6"/><circle cx="264.2" cy="778" r=".5"/><circle cx="263.7" cy="765.7" r=".6"/><circle cx="270.2" cy="773.3" r=".4"/><circle cx="233.9" cy="773.7" r=".4"/><circle cx="249.1" cy="780.8" r=".3"/><circle cx="254.4" cy="763.2" r=".4"/><circle cx="240.6" cy="767.5" r=".5"/><circle cx="226.2" cy="747.9" r=".4"/><circle cx="264.5" cy="790.7" r=".3"/><circle cx="265.1" cy="791.4" r=".5"/><circle cx="277.9" cy="772.2" r=".5"/><circle cx="261.8" cy="766.2" r=".3"/><circle cx="263.7" cy="792" r=".4"/><circle cx="252" cy="765.4" r=".6"/><circle cx="256.4" cy="797.1" r=".4"/></g></g>
<ellipse cx="270.2" cy="774.4" rx="7.9" ry="9.2" fill="#7a5a4c" opacity="0.5" clip-path="url(#lc10)"/>
<ellipse cx="237.3" cy="794.1" rx="9.2" ry="6.6" fill="#6a4a3c" opacity="0.4" clip-path="url(#lc10)"/>
<ellipse cx="231" cy="755.4" rx="7.2" ry="7.9" fill="#dcc4a4" opacity="0.8" clip-path="url(#lc10)"/>
<ellipse cx="233.4" cy="770.5" rx="3.3" ry="3.9" fill="#dcc4a4" opacity="0.7" clip-path="url(#lc10)"/>
<ellipse cx="249.8" cy="756" rx="2.6" ry="2.6" fill="#dcc4a4" opacity="0.8" clip-path="url(#lc10)"/>
<ellipse cx="234.7" cy="784.9" rx="1.6" ry="1.6" fill="#e0b020" opacity="0.9" clip-path="url(#lc10)"/>
<path d="M234.7,779.7 L247.9,778.4 L254.4,783.6" fill="none" stroke="#3c2820" stroke-width=".7" opacity=".55" stroke-linecap="round" stroke-linejoin="round" clip-path="url(#lc10)"/>
<path d="M255.7,765.2 L254.4,778.4" fill="none" stroke="#3c2820" stroke-width=".7" opacity=".55" stroke-linecap="round" stroke-linejoin="round" clip-path="url(#lc10)"/>
<path d="M249.2,796.8 L250.5,787.6" fill="none" stroke="#3c2820" stroke-width=".7" opacity=".55" stroke-linecap="round" stroke-linejoin="round" clip-path="url(#lc10)"/>
<ellipse cx="231" cy="754.7" rx="8.5" ry="9.2" fill="none" stroke="#e8202a" stroke-width=".8"/>
<radialGradient id="lg11" cx="0.45" cy="0.4" r="0.65"><stop offset="0" stop-color="#c4a47a"/><stop offset="0.6" stop-color="#a4845e"/><stop offset="1" stop-color="#74583c"/></radialGradient>
<clipPath id="lc11"><path d="M147.6,823.7 C147.6,821.5 147.8,819.6 148.9,818.4 C150,817.2 152,816.6 154.2,816.4 C156.4,816.2 159.9,817.3 162.1,817.1 C164.3,816.9 165.1,815.4 167.3,815.1 C169.5,814.8 173,814.8 175.2,815.1 C177.4,815.4 178.3,816.3 180.5,817.1 C182.7,817.8 186.8,820.4 188.4,819.7 C189.9,819.1 188.4,814.5 189.7,813.1 C191,811.8 193.6,811.6 196.2,811.8 C198.9,812 202.6,813.6 205.4,814.5 C208.3,815.3 211.8,815.8 213.3,817.1 C214.9,818.4 214.9,820.6 214.6,822.3 C214.4,824.1 213.3,825.8 212,827.6 C210.7,829.3 208.5,831.1 206.8,832.9 C205,834.6 202.2,836.1 201.5,838.1 C200.8,840.1 203.3,842.7 202.8,844.7 C202.4,846.6 200.8,848.7 198.9,849.9 C196.9,851.1 194.1,851.8 191,851.9 C187.9,852 183.1,851.2 180.5,850.6 C177.9,849.9 177,848.2 175.2,848 C173.5,847.7 171.5,848.6 170,849.3 C168.4,849.9 168,851.7 166,851.9 C164.1,852.1 160.1,851.6 158.1,850.6 C156.2,849.6 155.2,848.1 154.2,846 C153.2,843.9 153.1,840.5 152.2,838.1 C151.4,835.7 149.7,833.9 148.9,831.5 C148.2,829.1 147.6,825.8 147.6,823.7Z"/></clipPath>
<path d="M147.6,823.7 C147.6,821.5 147.8,819.6 148.9,818.4 C150,817.2 152,816.6 154.2,816.4 C156.4,816.2 159.9,817.3 162.1,817.1 C164.3,816.9 165.1,815.4 167.3,815.1 C169.5,814.8 173,814.8 175.2,815.1 C177.4,815.4 178.3,816.3 180.5,817.1 C182.7,817.8 186.8,820.4 188.4,819.7 C189.9,819.1 188.4,814.5 189.7,813.1 C191,811.8 193.6,811.6 196.2,811.8 C198.9,812 202.6,813.6 205.4,814.5 C208.3,815.3 211.8,815.8 213.3,817.1 C214.9,818.4 214.9,820.6 214.6,822.3 C214.4,824.1 213.3,825.8 212,827.6 C210.7,829.3 208.5,831.1 206.8,832.9 C205,834.6 202.2,836.1 201.5,838.1 C200.8,840.1 203.3,842.7 202.8,844.7 C202.4,846.6 200.8,848.7 198.9,849.9 C196.9,851.1 194.1,851.8 191,851.9 C187.9,852 183.1,851.2 180.5,850.6 C177.9,849.9 177,848.2 175.2,848 C173.5,847.7 171.5,848.6 170,849.3 C168.4,849.9 168,851.7 166,851.9 C164.1,852.1 160.1,851.6 158.1,850.6 C156.2,849.6 155.2,848.1 154.2,846 C153.2,843.9 153.1,840.5 152.2,838.1 C151.4,835.7 149.7,833.9 148.9,831.5 C148.2,829.1 147.6,825.8 147.6,823.7Z" fill="url(#lg11)" stroke="#6a6070" stroke-width=".5"/>
<g clip-path="url(#lc11)"><ellipse cx="199.1" cy="827.2" rx="3.2" ry="2.7" fill="#c4a47a" opacity=".3"/><ellipse cx="182.2" cy="842.3" rx="5.9" ry="4.1" fill="#c4a47a" opacity=".4"/><ellipse cx="192.3" cy="821" rx="5.4" ry="4.4" fill="#74583c" opacity=".3"/><ellipse cx="151.5" cy="833.9" rx="4.5" ry="4.1" fill="#c4a47a" opacity=".3"/><ellipse cx="150.5" cy="832.4" rx="4" ry="2.9" fill="#c4a47a" opacity=".4"/><ellipse cx="162" cy="846" rx="2.6" ry="2.6" fill="#74583c" opacity=".2"/><ellipse cx="166.1" cy="832.7" rx="3.6" ry="2.5" fill="#c4a47a" opacity=".4"/><ellipse cx="166.8" cy="827.4" rx="5" ry="4.1" fill="#c4a47a" opacity=".4"/><ellipse cx="190.8" cy="848" rx="2.6" ry="1.9" fill="#c4a47a" opacity=".3"/><ellipse cx="163.2" cy="847.7" rx="5.5" ry="4.2" fill="#74583c" opacity=".2"/><ellipse cx="184.8" cy="831.5" rx="2.6" ry="2.3" fill="#74583c" opacity=".2"/><ellipse cx="211.3" cy="819.2" rx="5.9" ry="5.4" fill="#74583c" opacity=".3"/><ellipse cx="201.3" cy="815.3" rx="4.6" ry="4" fill="#c4a47a" opacity=".2"/><ellipse cx="205.8" cy="819.5" rx="4.9" ry="4.3" fill="#c4a47a" opacity=".4"/><ellipse cx="161.9" cy="842" rx="6" ry="5.9" fill="#74583c" opacity=".3"/><ellipse cx="185.5" cy="846.8" rx="4.5" ry="3.3" fill="#c4a47a" opacity=".4"/><ellipse cx="166.2" cy="828.5" rx="4.9" ry="3.2" fill="#c4a47a" opacity=".2"/><ellipse cx="189.3" cy="834.6" rx="5.2" ry="3.4" fill="#c4a47a" opacity=".2"/><ellipse cx="155.6" cy="816.8" rx="2.8" ry="2.6" fill="#74583c" opacity=".2"/><ellipse cx="201.1" cy="839.5" rx="2.8" ry="2.7" fill="#74583c" opacity=".2"/><ellipse cx="171.8" cy="820.1" rx="4.7" ry="4.2" fill="#74583c" opacity=".3"/><ellipse cx="183.4" cy="836.2" rx="5" ry="4.7" fill="#c4a47a" opacity=".4"/><ellipse cx="188" cy="831.3" rx="4" ry="3.8" fill="#c4a47a" opacity=".4"/><ellipse cx="167.1" cy="848.5" rx="4" ry="3.2" fill="#74583c" opacity=".3"/><g fill="#fff" opacity=".75"><circle cx="184.7" cy="821.9" r=".4"/><circle cx="210.7" cy="818.1" r=".3"/><circle cx="162.6" cy="840.4" r=".5"/><circle cx="159.7" cy="829.9" r=".5"/><circle cx="166.2" cy="851.4" r=".5"/><circle cx="186" cy="819.3" r=".5"/><circle cx="205.8" cy="823.6" r=".4"/><circle cx="171.6" cy="833.5" r=".3"/><circle cx="180.4" cy="838.4" r=".5"/><circle cx="162.9" cy="829.5" r=".5"/><circle cx="165.5" cy="838.4" r=".5"/><circle cx="156.3" cy="846.2" r=".4"/><circle cx="168.6" cy="822" r=".6"/><circle cx="176.9" cy="826.3" r=".3"/><circle cx="165.8" cy="843.3" r=".5"/><circle cx="150" cy="821.3" r=".5"/><circle cx="202.2" cy="816.2" r=".5"/><circle cx="178.7" cy="819.5" r=".4"/><circle cx="175.6" cy="833.8" r=".3"/><circle cx="161.7" cy="830.8" r=".4"/><circle cx="193.7" cy="850" r=".4"/><circle cx="161.8" cy="849" r=".4"/><circle cx="152.3" cy="824.4" r=".6"/><circle cx="207.1" cy="819.5" r=".3"/><circle cx="186.8" cy="821.5" r=".5"/><circle cx="154.1" cy="834.2" r=".5"/><circle cx="167.8" cy="815.4" r=".5"/><circle cx="212" cy="822.2" r=".4"/><circle cx="180.2" cy="850.1" r=".6"/><circle cx="199" cy="847.3" r=".6"/><circle cx="165.5" cy="830.5" r=".4"/><circle cx="172.1" cy="835.9" r=".3"/><circle cx="193.4" cy="845.9" r=".4"/><circle cx="198.7" cy="846.8" r=".5"/><circle cx="191.1" cy="830.8" r=".5"/><circle cx="160.4" cy="848.4" r=".4"/><circle cx="202.7" cy="836.1" r=".4"/><circle cx="159.2" cy="835.7" r=".3"/></g></g>
<ellipse cx="201.5" cy="825" rx="11.8" ry="10.5" fill="#8a5a50" opacity="0.5" clip-path="url(#lc11)"/>
<ellipse cx="188.4" cy="846" rx="11.8" ry="6.6" fill="#8a5a50" opacity="0.45" clip-path="url(#lc11)"/>
<ellipse cx="171.3" cy="827.6" rx="5.3" ry="2.6" fill="#3a2418" opacity="0.5" clip-path="url(#lc11)"/>
<ellipse cx="156.8" cy="825" rx="5.9" ry="6.6" fill="#dcc4a0" opacity="0.7" clip-path="url(#lc11)"/>
<ellipse cx="159.5" cy="842" rx="5.9" ry="5.9" fill="#dcc4a0" opacity="0.6" clip-path="url(#lc11)"/>
<path d="M167.3,817.1 L168.7,826.3 L176.5,832.9" fill="none" stroke="#3c2820" stroke-width=".7" opacity=".55" stroke-linecap="round" stroke-linejoin="round" clip-path="url(#lc11)"/>
<path d="M188.4,819.7 L188.4,834.2 L179.2,839.4" fill="none" stroke="#3c2820" stroke-width=".7" opacity=".55" stroke-linecap="round" stroke-linejoin="round" clip-path="url(#lc11)"/>
<path d="M163.4,831.5 L152.9,832.9" fill="none" stroke="#3c2820" stroke-width=".7" opacity=".55" stroke-linecap="round" stroke-linejoin="round" clip-path="url(#lc11)"/>
<path d="M148.3,823.7 C148.5,821.5 149.1,819.5 150.3,818.4 C151.5,817.3 153.7,816.9 155.5,816.8 C157.4,816.7 160.1,816.6 161.4,817.7 C162.7,818.9 163.2,821.6 163.4,823.7 C163.6,825.7 162.7,828.5 162.7,830.2 C162.7,832 162.5,832.2 163.4,834.2 C164.3,836.1 167,839.6 168,842 C169,844.5 169.9,847 169.3,848.6 C168.8,850.2 166.6,851.2 164.7,851.5 C162.8,851.8 159.9,851.5 158.1,850.6 C156.4,849.7 155.2,848.1 154.2,846 C153.2,843.9 153.1,840.5 152.2,838.1 C151.4,835.7 149.6,833.9 148.9,831.5 C148.3,829.1 148.1,825.8 148.3,823.7Z" fill="none" stroke="#e8202a" stroke-width=".8"/>
<radialGradient id="lg12" cx="0.45" cy="0.4" r="0.65"><stop offset="0" stop-color="#caa88a"/><stop offset="0.6" stop-color="#b08c70"/><stop offset="1" stop-color="#84644c"/></radialGradient>
<clipPath id="lc12"><path d="M222.2,836.8 C222.6,835.3 222.6,834.5 224.2,834.2 C225.8,833.8 229.8,834.4 232.1,834.8 C234.4,835.3 237,839.1 238,836.8 C239,834.5 237.4,825 238,821 C238.5,817.1 239.6,815 241.3,813.1 C242.9,811.3 245.7,810.1 247.9,809.9 C250,809.6 252.7,810.6 254.4,811.8 C256.2,813 257.7,815.3 258.4,817.1 C259,818.8 257.5,821.5 258.4,822.3 C259.2,823.2 261.4,822.1 263.6,822.3 C265.8,822.6 268.9,822.7 271.5,823.7 C274.1,824.6 277.5,826.5 279.4,828.3 C281.3,830 282.2,831.9 282.7,834.2 C283.1,836.5 282.8,839.6 282,842 C281.3,844.5 279.8,846.9 278.1,848.6 C276.3,850.4 273.7,851.7 271.5,852.6 C269.3,853.4 266.9,853.4 264.9,853.9 C263,854.3 261,854.4 259.7,855.2 C258.4,856 258.6,858 257,858.5 C255.5,858.9 252.9,857.9 250.5,857.8 C248.1,857.7 245.2,857.9 242.6,857.8 C240,857.7 237.1,857.8 234.7,857.2 C232.3,856.5 229.9,855.1 228.1,853.9 C226.4,852.7 225.2,851.7 224.2,849.9 C223.2,848.2 222.6,845.6 222.2,843.4 C221.9,841.2 221.9,838.3 222.2,836.8Z"/></clipPath>
<path d="M222.2,836.8 C222.6,835.3 222.6,834.5 224.2,834.2 C225.8,833.8 229.8,834.4 232.1,834.8 C234.4,835.3 237,839.1 238,836.8 C239,834.5 237.4,825 238,821 C238.5,817.1 239.6,815 241.3,813.1 C242.9,811.3 245.7,810.1 247.9,809.9 C250,809.6 252.7,810.6 254.4,811.8 C256.2,813 257.7,815.3 258.4,817.1 C259,818.8 257.5,821.5 258.4,822.3 C259.2,823.2 261.4,822.1 263.6,822.3 C265.8,822.6 268.9,822.7 271.5,823.7 C274.1,824.6 277.5,826.5 279.4,828.3 C281.3,830 282.2,831.9 282.7,834.2 C283.1,836.5 282.8,839.6 282,842 C281.3,844.5 279.8,846.9 278.1,848.6 C276.3,850.4 273.7,851.7 271.5,852.6 C269.3,853.4 266.9,853.4 264.9,853.9 C263,854.3 261,854.4 259.7,855.2 C258.4,856 258.6,858 257,858.5 C255.5,858.9 252.9,857.9 250.5,857.8 C248.1,857.7 245.2,857.9 242.6,857.8 C240,857.7 237.1,857.8 234.7,857.2 C232.3,856.5 229.9,855.1 228.1,853.9 C226.4,852.7 225.2,851.7 224.2,849.9 C223.2,848.2 222.6,845.6 222.2,843.4 C221.9,841.2 221.9,838.3 222.2,836.8Z" fill="url(#lg12)" stroke="#6a6070" stroke-width=".5"/>
<g clip-path="url(#lc12)"><ellipse cx="259.4" cy="823.3" rx="3" ry="2.4" fill="#84644c" opacity=".2"/><ellipse cx="244" cy="829.7" rx="5.2" ry="4.5" fill="#caa88a" opacity=".2"/><ellipse cx="260.6" cy="823.4" rx="4.8" ry="4.5" fill="#84644c" opacity=".3"/><ellipse cx="241.2" cy="820" rx="4.5" ry="3.5" fill="#caa88a" opacity=".2"/><ellipse cx="245.9" cy="842.3" rx="4.6" ry="4.1" fill="#caa88a" opacity=".4"/><ellipse cx="239.8" cy="851.8" rx="5.4" ry="5.2" fill="#84644c" opacity=".2"/><ellipse cx="257.9" cy="830" rx="4.7" ry="3.2" fill="#caa88a" opacity=".4"/><ellipse cx="247.2" cy="821.7" rx="5.8" ry="4.4" fill="#caa88a" opacity=".2"/><ellipse cx="244.4" cy="819.2" rx="5.4" ry="4.2" fill="#caa88a" opacity=".3"/><ellipse cx="241.3" cy="817.5" rx="4.5" ry="2.9" fill="#84644c" opacity=".3"/><ellipse cx="254.5" cy="845.6" rx="2.6" ry="2.2" fill="#84644c" opacity=".2"/><ellipse cx="254.6" cy="857.4" rx="4.5" ry="3.2" fill="#caa88a" opacity=".3"/><ellipse cx="252.1" cy="849.9" rx="3.4" ry="3.4" fill="#caa88a" opacity=".4"/><ellipse cx="246.2" cy="821" rx="4.7" ry="4.1" fill="#84644c" opacity=".2"/><ellipse cx="254.2" cy="828.5" rx="3.8" ry="3.7" fill="#84644c" opacity=".3"/><ellipse cx="246.8" cy="853.3" rx="5.5" ry="5.1" fill="#caa88a" opacity=".4"/><ellipse cx="264.4" cy="838.4" rx="4.3" ry="3.5" fill="#84644c" opacity=".3"/><ellipse cx="252" cy="814.6" rx="3.3" ry="3.1" fill="#caa88a" opacity=".3"/><ellipse cx="231.4" cy="844.2" rx="3.9" ry="2.8" fill="#84644c" opacity=".2"/><ellipse cx="248.1" cy="840" rx="3.4" ry="2.6" fill="#84644c" opacity=".2"/><ellipse cx="256.4" cy="833.6" rx="5.2" ry="3.4" fill="#caa88a" opacity=".3"/><ellipse cx="228.9" cy="837.4" rx="2.9" ry="2.8" fill="#84644c" opacity=".2"/><ellipse cx="261.2" cy="846" rx="3" ry="1.9" fill="#caa88a" opacity=".2"/><ellipse cx="260" cy="852.4" rx="3.7" ry="2.6" fill="#84644c" opacity=".2"/><ellipse cx="256.9" cy="818.8" rx="3.2" ry="3.2" fill="#caa88a" opacity=".4"/><ellipse cx="245.9" cy="831.7" rx="3.2" ry="2.2" fill="#caa88a" opacity=".2"/><g fill="#fff" opacity=".75"><circle cx="246.7" cy="837.2" r=".6"/><circle cx="249.6" cy="823.5" r=".3"/><circle cx="249.2" cy="822.9" r=".6"/><circle cx="255.6" cy="841.1" r=".5"/><circle cx="243.2" cy="814.2" r=".3"/><circle cx="266.7" cy="844.4" r=".4"/><circle cx="249.4" cy="813.7" r=".4"/><circle cx="236.5" cy="849.2" r=".6"/><circle cx="228.1" cy="852.4" r=".5"/><circle cx="252.9" cy="813.1" r=".5"/><circle cx="269.7" cy="825.8" r=".4"/><circle cx="253.3" cy="837" r=".6"/><circle cx="251.7" cy="817.2" r=".5"/><circle cx="271.8" cy="841.4" r=".5"/><circle cx="249" cy="840.2" r=".6"/><circle cx="225.9" cy="835.3" r=".5"/><circle cx="256.1" cy="825.1" r=".4"/><circle cx="242.5" cy="853.5" r=".4"/><circle cx="252.1" cy="839.8" r=".5"/><circle cx="233.7" cy="836.9" r=".6"/><circle cx="273.6" cy="845.7" r=".5"/><circle cx="250.2" cy="841.9" r=".6"/><circle cx="239" cy="854.3" r=".4"/><circle cx="243.6" cy="833.1" r=".4"/><circle cx="263.4" cy="836.4" r=".3"/><circle cx="258" cy="848.7" r=".5"/><circle cx="253.9" cy="828.1" r=".5"/><circle cx="242.9" cy="840.3" r=".5"/><circle cx="278.9" cy="835.9" r=".5"/><circle cx="228.9" cy="850.8" r=".6"/><circle cx="260.2" cy="845.4" r=".6"/><circle cx="265" cy="834.5" r=".3"/><circle cx="279" cy="829.9" r=".4"/><circle cx="281.9" cy="834.9" r=".4"/><circle cx="265.6" cy="848.1" r=".6"/><circle cx="243.9" cy="828.5" r=".3"/><circle cx="265.8" cy="851.3" r=".6"/><circle cx="246.2" cy="814" r=".5"/><circle cx="239.2" cy="857.5" r=".4"/><circle cx="257.2" cy="857.3" r=".4"/><circle cx="266.5" cy="836" r=".3"/></g></g>
<ellipse cx="229.5" cy="843.4" rx="6.6" ry="7.9" fill="#5a4040" opacity="0.45" clip-path="url(#lc12)"/>
<ellipse cx="247.9" cy="823.7" rx="6.6" ry="9.2" fill="#d8baa0" opacity="0.5" clip-path="url(#lc12)"/>
<ellipse cx="256.4" cy="828.3" rx="1.3" ry="2" fill="#e0b020" opacity="0.9" clip-path="url(#lc12)"/>
<path d="M238,836.8 L253.1,839.4" fill="none" stroke="#3c2820" stroke-width=".7" opacity=".55" stroke-linecap="round" stroke-linejoin="round" clip-path="url(#lc12)"/>
<path d="M258.4,822.3 L254.4,834.2 L258.4,840.7" fill="none" stroke="#3c2820" stroke-width=".7" opacity=".55" stroke-linecap="round" stroke-linejoin="round" clip-path="url(#lc12)"/>
<path d="M232.1,839.4 C233,837.5 236,837.9 238.7,838.1 C241.3,838.3 245,840.3 247.9,840.7 C250.7,841.2 253.8,839.9 255.7,840.7 C257.7,841.6 259,843.6 259.7,846 C260.3,848.4 260.1,853.1 259.7,855.2 C259.2,857.3 258.6,858 257,858.5 C255.5,858.9 252.9,857.9 250.5,857.8 C248.1,857.7 245.2,858 242.6,857.8 C240,857.6 236.2,857.8 234.7,856.5 C233.2,855.2 233.8,852.8 233.4,849.9 C233,847.1 231.2,841.4 232.1,839.4Z" fill="none" stroke="#e8202a" stroke-width=".8"/>
<radialGradient id="lg13" cx="0.45" cy="0.4" r="0.65"><stop offset="0" stop-color="#bc8c58"/><stop offset="0.6" stop-color="#9e6a3a"/><stop offset="1" stop-color="#724620"/></radialGradient>
<clipPath id="lc13"><path d="M158.1,868.1 C157.9,866.8 159.2,865.3 160.8,864.2 C162.3,863.1 164.7,861.9 167.3,861.6 C170,861.2 174.3,861.6 176.5,862.2 C178.7,862.9 179.8,863.4 180.5,865.5 C181.1,867.6 180.7,872.1 180.5,874.7 C180.3,877.3 178.5,880.4 179.2,881.3 C179.8,882.2 183.1,880 184.4,880 C185.7,880 187,880 187,881.3 C187,882.6 185.1,886.3 184.4,887.9 C183.8,889.4 182.2,889.8 183.1,890.5 C184,891.1 187.8,890.7 189.7,891.8 C191.5,892.9 193.6,894.9 194.3,897 C194.9,899.2 194.6,903 193.6,904.9 C192.6,906.9 190.3,908.4 188.4,908.9 C186.4,909.3 184,907.1 181.8,907.6 C179.6,908 177.2,910.3 175.2,911.5 C173.3,912.7 172.8,914.2 170,914.8 C167.1,915.3 161,915.6 158.1,914.8 C155.3,914 154.2,912.3 152.9,910.2 C151.6,908.1 150.5,904.9 150.3,902.3 C150,899.7 150.9,896.8 151.6,894.4 C152.2,892 152.9,889.2 154.2,887.9 C155.5,886.5 157.7,887 159.5,886.5 C161.2,886.1 163.8,886.5 164.7,885.2 C165.6,883.9 165.1,880.8 164.7,878.7 C164.3,876.5 163.2,873.8 162.1,872.1 C161,870.3 158.4,869.5 158.1,868.1Z"/></clipPath>
<path d="M158.1,868.1 C157.9,866.8 159.2,865.3 160.8,864.2 C162.3,863.1 164.7,861.9 167.3,861.6 C170,861.2 174.3,861.6 176.5,862.2 C178.7,862.9 179.8,863.4 180.5,865.5 C181.1,867.6 180.7,872.1 180.5,874.7 C180.3,877.3 178.5,880.4 179.2,881.3 C179.8,882.2 183.1,880 184.4,880 C185.7,880 187,880 187,881.3 C187,882.6 185.1,886.3 184.4,887.9 C183.8,889.4 182.2,889.8 183.1,890.5 C184,891.1 187.8,890.7 189.7,891.8 C191.5,892.9 193.6,894.9 194.3,897 C194.9,899.2 194.6,903 193.6,904.9 C192.6,906.9 190.3,908.4 188.4,908.9 C186.4,909.3 184,907.1 181.8,907.6 C179.6,908 177.2,910.3 175.2,911.5 C173.3,912.7 172.8,914.2 170,914.8 C167.1,915.3 161,915.6 158.1,914.8 C155.3,914 154.2,912.3 152.9,910.2 C151.6,908.1 150.5,904.9 150.3,902.3 C150,899.7 150.9,896.8 151.6,894.4 C152.2,892 152.9,889.2 154.2,887.9 C155.5,886.5 157.7,887 159.5,886.5 C161.2,886.1 163.8,886.5 164.7,885.2 C165.6,883.9 165.1,880.8 164.7,878.7 C164.3,876.5 163.2,873.8 162.1,872.1 C161,870.3 158.4,869.5 158.1,868.1Z" fill="url(#lg13)" stroke="#3a3030" stroke-width=".5"/>
<g clip-path="url(#lc13)"><ellipse cx="179.7" cy="904" rx="2.7" ry="1.8" fill="#bc8c58" opacity=".2"/><ellipse cx="159" cy="899.5" rx="3.3" ry="2.8" fill="#bc8c58" opacity=".4"/><ellipse cx="167.2" cy="906.8" rx="2.6" ry="2.5" fill="#724620" opacity=".2"/><ellipse cx="152.6" cy="895.7" rx="5.3" ry="4.9" fill="#724620" opacity=".2"/><ellipse cx="164.9" cy="912.3" rx="4.7" ry="2.9" fill="#bc8c58" opacity=".3"/><ellipse cx="169.9" cy="873.4" rx="3.8" ry="3.4" fill="#bc8c58" opacity=".3"/><ellipse cx="165.7" cy="913.3" rx="4.6" ry="4" fill="#724620" opacity=".3"/><ellipse cx="181.7" cy="904.6" rx="4.9" ry="3" fill="#724620" opacity=".3"/><ellipse cx="171.5" cy="866.7" rx="4.5" ry="3.7" fill="#bc8c58" opacity=".4"/><ellipse cx="172.8" cy="910.3" rx="5.8" ry="3.8" fill="#bc8c58" opacity=".4"/><ellipse cx="187.2" cy="891.8" rx="4.7" ry="3.5" fill="#bc8c58" opacity=".4"/><ellipse cx="187.2" cy="903.2" rx="3.8" ry="3.3" fill="#bc8c58" opacity=".4"/><ellipse cx="175.6" cy="907.9" rx="2.9" ry="2.5" fill="#bc8c58" opacity=".3"/><ellipse cx="172" cy="870.6" rx="3.7" ry="3.2" fill="#724620" opacity=".3"/><ellipse cx="166.4" cy="900.3" rx="3.6" ry="2.9" fill="#724620" opacity=".3"/><ellipse cx="182.9" cy="901.8" rx="4" ry="2.4" fill="#bc8c58" opacity=".2"/><ellipse cx="173.2" cy="909.8" rx="5.5" ry="3.4" fill="#bc8c58" opacity=".2"/><ellipse cx="166.3" cy="911.5" rx="5.9" ry="4.6" fill="#724620" opacity=".2"/><ellipse cx="177.5" cy="877.9" rx="5.2" ry="4.9" fill="#724620" opacity=".2"/><ellipse cx="181.4" cy="895.4" rx="3.4" ry="2.9" fill="#724620" opacity=".2"/><ellipse cx="172.5" cy="867.2" rx="3.1" ry="2" fill="#bc8c58" opacity=".3"/><g fill="#fff" opacity=".75"><circle cx="171.5" cy="886.1" r=".4"/><circle cx="175.8" cy="907.6" r=".5"/><circle cx="167" cy="888.2" r=".6"/><circle cx="174.2" cy="906.8" r=".4"/><circle cx="176.6" cy="906" r=".4"/><circle cx="191.1" cy="905.4" r=".5"/><circle cx="158.4" cy="891.7" r=".5"/><circle cx="174.7" cy="896" r=".4"/><circle cx="164.1" cy="890.5" r=".4"/><circle cx="153.3" cy="908.3" r=".3"/><circle cx="182.7" cy="896.6" r=".4"/><circle cx="179.7" cy="892.2" r=".4"/><circle cx="167.6" cy="876.8" r=".5"/><circle cx="166.5" cy="867.5" r=".4"/><circle cx="179.4" cy="886.8" r=".5"/><circle cx="164.9" cy="875.2" r=".4"/><circle cx="174.5" cy="896.1" r=".5"/><circle cx="174.3" cy="901" r=".5"/><circle cx="177.1" cy="878.2" r=".3"/><circle cx="164.2" cy="865.2" r=".4"/><circle cx="160.8" cy="908.1" r=".5"/><circle cx="171.9" cy="880.9" r=".4"/><circle cx="179.7" cy="876.5" r=".5"/><circle cx="169" cy="885.2" r=".5"/><circle cx="168.8" cy="868.5" r=".4"/><circle cx="168.1" cy="904.5" r=".3"/><circle cx="157.4" cy="903.8" r=".4"/><circle cx="179.1" cy="901.8" r=".3"/><circle cx="160.2" cy="905.3" r=".4"/><circle cx="172.2" cy="895.2" r=".5"/><circle cx="173.7" cy="909.6" r=".4"/><circle cx="162" cy="868.5" r=".5"/><circle cx="152.2" cy="896.2" r=".6"/></g></g>
<ellipse cx="176.5" cy="889.2" rx="3.9" ry="7.9" fill="#5a3820" opacity="0.5" clip-path="url(#lc13)"/>
<ellipse cx="162.7" cy="897" rx="1.6" ry="1.6" fill="#ffffff" opacity="0.7" clip-path="url(#lc13)"/>
<path d="M164.7,885.2 L171.3,886.5 L177.9,889.2" fill="none" stroke="#3c2820" stroke-width=".7" opacity=".55" stroke-linecap="round" stroke-linejoin="round" clip-path="url(#lc13)"/>
<path d="M168.7,894.4 L171.3,907.6" fill="none" stroke="#3c2820" stroke-width=".7" opacity=".55" stroke-linecap="round" stroke-linejoin="round" clip-path="url(#lc13)"/>
<ellipse cx="166.9" cy="889.8" rx="2.6" ry="2.6" fill="none" stroke="#e8202a" stroke-width=".8"/>
<ellipse cx="164.7" cy="910.8" rx="4.2" ry="4.2" fill="none" stroke="#e8202a" stroke-width=".8"/>
<radialGradient id="lg14" cx="0.45" cy="0.4" r="0.65"><stop offset="0" stop-color="#d2ac7a"/><stop offset="0.6" stop-color="#ba905c"/><stop offset="1" stop-color="#8c6438"/></radialGradient>
<clipPath id="lc14"><path d="M221.6,891.8 C222,888.9 222.9,884.9 224.2,882.6 C225.5,880.3 227.5,878.9 229.5,878 C231.4,877.1 234.1,877.2 236,877.3 C238,877.4 240.1,880 241.3,878.7 C242.5,877.3 242.2,871.6 243.3,869.5 C244.3,867.3 246,866.2 247.9,865.5 C249.7,864.8 252.3,864.6 254.4,865.2 C256.5,865.9 259.1,867.7 260.3,869.5 C261.5,871.3 261.8,873.4 261.6,876 C261.5,878.7 259.1,883.5 259.7,885.2 C260.2,887 263,886.6 264.9,886.5 C266.9,886.4 270.1,884.3 271.5,884.6 C272.9,884.8 273.5,886 273.5,887.9 C273.5,889.7 272.7,894 271.5,895.7 C270.3,897.5 268,897.7 266.2,898.4 C264.5,899 261.6,898.6 261,899.7 C260.3,900.8 262.7,903.2 262.3,904.9 C261.9,906.7 260.3,908.9 258.4,910.2 C256.4,911.5 252.9,912.2 250.5,912.8 C248.1,913.5 245.9,913.8 243.9,914.1 C241.9,914.5 240.8,914.8 238.7,914.8 C236.5,914.8 233.2,915.3 230.8,914.1 C228.4,912.9 225.7,910 224.2,907.6 C222.7,905.2 222,902.3 221.6,899.7 C221.1,897 221.1,894.6 221.6,891.8Z"/></clipPath>
<path d="M221.6,891.8 C222,888.9 222.9,884.9 224.2,882.6 C225.5,880.3 227.5,878.9 229.5,878 C231.4,877.1 234.1,877.2 236,877.3 C238,877.4 240.1,880 241.3,878.7 C242.5,877.3 242.2,871.6 243.3,869.5 C244.3,867.3 246,866.2 247.9,865.5 C249.7,864.8 252.3,864.6 254.4,865.2 C256.5,865.9 259.1,867.7 260.3,869.5 C261.5,871.3 261.8,873.4 261.6,876 C261.5,878.7 259.1,883.5 259.7,885.2 C260.2,887 263,886.6 264.9,886.5 C266.9,886.4 270.1,884.3 271.5,884.6 C272.9,884.8 273.5,886 273.5,887.9 C273.5,889.7 272.7,894 271.5,895.7 C270.3,897.5 268,897.7 266.2,898.4 C264.5,899 261.6,898.6 261,899.7 C260.3,900.8 262.7,903.2 262.3,904.9 C261.9,906.7 260.3,908.9 258.4,910.2 C256.4,911.5 252.9,912.2 250.5,912.8 C248.1,913.5 245.9,913.8 243.9,914.1 C241.9,914.5 240.8,914.8 238.7,914.8 C236.5,914.8 233.2,915.3 230.8,914.1 C228.4,912.9 225.7,910 224.2,907.6 C222.7,905.2 222,902.3 221.6,899.7 C221.1,897 221.1,894.6 221.6,891.8Z" fill="url(#lg14)" stroke="#5a5060" stroke-width=".5"/>
<g clip-path="url(#lc14)"><ellipse cx="251.4" cy="883.2" rx="5.8" ry="4.1" fill="#d2ac7a" opacity=".4"/><ellipse cx="254.7" cy="868.7" rx="3.2" ry="2.1" fill="#8c6438" opacity=".2"/><ellipse cx="237.8" cy="905.8" rx="3.7" ry="3.4" fill="#d2ac7a" opacity=".2"/><ellipse cx="227.1" cy="889.7" rx="5" ry="3.8" fill="#8c6438" opacity=".3"/><ellipse cx="252.4" cy="879.6" rx="5" ry="4.6" fill="#d2ac7a" opacity=".2"/><ellipse cx="242" cy="898.6" rx="3.4" ry="3.1" fill="#8c6438" opacity=".2"/><ellipse cx="243.6" cy="875.5" rx="3.4" ry="2.4" fill="#d2ac7a" opacity=".2"/><ellipse cx="268.6" cy="888.3" rx="6" ry="4.5" fill="#d2ac7a" opacity=".4"/><ellipse cx="262.8" cy="892.1" rx="4.6" ry="3.2" fill="#d2ac7a" opacity=".3"/><ellipse cx="251.1" cy="865.8" rx="4.2" ry="3.3" fill="#8c6438" opacity=".2"/><ellipse cx="239.9" cy="906.3" rx="3.7" ry="3.5" fill="#8c6438" opacity=".2"/><ellipse cx="239.5" cy="901.4" rx="5.8" ry="3.9" fill="#d2ac7a" opacity=".3"/><ellipse cx="257.5" cy="867.5" rx="4" ry="2.6" fill="#8c6438" opacity=".2"/><ellipse cx="232.7" cy="906.8" rx="5.3" ry="3.8" fill="#d2ac7a" opacity=".4"/><ellipse cx="273.2" cy="887.3" rx="3.3" ry="2.6" fill="#d2ac7a" opacity=".2"/><ellipse cx="259.3" cy="897.2" rx="3.7" ry="3.4" fill="#8c6438" opacity=".2"/><ellipse cx="245.7" cy="909.2" rx="5.7" ry="4.9" fill="#8c6438" opacity=".3"/><ellipse cx="236" cy="912.8" rx="3.6" ry="3.4" fill="#d2ac7a" opacity=".3"/><ellipse cx="254.5" cy="906.5" rx="3.7" ry="2.7" fill="#8c6438" opacity=".3"/><ellipse cx="241.5" cy="898.9" rx="2.9" ry="1.8" fill="#d2ac7a" opacity=".3"/><ellipse cx="240.5" cy="899" rx="5.1" ry="3.9" fill="#d2ac7a" opacity=".4"/><ellipse cx="244.7" cy="891.7" rx="3" ry="2" fill="#d2ac7a" opacity=".3"/><ellipse cx="250.1" cy="888.6" rx="3.4" ry="2.4" fill="#d2ac7a" opacity=".4"/><g fill="#fff" opacity=".75"><circle cx="227.5" cy="892.9" r=".3"/><circle cx="253.1" cy="888.4" r=".4"/><circle cx="252" cy="898.8" r=".3"/><circle cx="240.2" cy="887.7" r=".4"/><circle cx="236.1" cy="897.1" r=".3"/><circle cx="224.9" cy="895.1" r=".4"/><circle cx="260.8" cy="888.4" r=".5"/><circle cx="247.2" cy="875.1" r=".3"/><circle cx="254.5" cy="893.4" r=".6"/><circle cx="254.6" cy="871.4" r=".4"/><circle cx="224.4" cy="899.1" r=".6"/><circle cx="246.2" cy="880" r=".4"/><circle cx="237.5" cy="900.2" r=".3"/><circle cx="232.4" cy="904" r=".4"/><circle cx="246.4" cy="892" r=".5"/><circle cx="270.4" cy="894.9" r=".4"/><circle cx="237.4" cy="890.5" r=".6"/><circle cx="239.4" cy="913.1" r=".5"/><circle cx="234.6" cy="909.3" r=".6"/><circle cx="243.3" cy="899.5" r=".4"/><circle cx="229.7" cy="905.4" r=".4"/><circle cx="271.5" cy="887.3" r=".4"/><circle cx="247.9" cy="911.1" r=".6"/><circle cx="245.4" cy="910.8" r=".3"/><circle cx="225.9" cy="884.9" r=".4"/><circle cx="229.2" cy="905.9" r=".6"/><circle cx="245.1" cy="878.3" r=".5"/><circle cx="240.1" cy="885.8" r=".5"/><circle cx="246.5" cy="894.8" r=".3"/><circle cx="248.3" cy="873.3" r=".5"/><circle cx="261.6" cy="893.3" r=".5"/><circle cx="249.3" cy="891" r=".5"/><circle cx="268.5" cy="886.1" r=".3"/><circle cx="227.6" cy="891.6" r=".6"/><circle cx="226.3" cy="903.9" r=".5"/><circle cx="257.6" cy="890.3" r=".5"/></g></g>
<ellipse cx="264.9" cy="891.8" rx="7.9" ry="5.3" fill="#6a5040" opacity="0.5" clip-path="url(#lc14)"/>
<ellipse cx="242.6" cy="895.7" rx="1.1" ry="3.3" fill="#ffffff" opacity="0.9" clip-path="url(#lc14)"/>
<ellipse cx="233.4" cy="886.5" rx="5.3" ry="3.9" fill="#e0d0c0" opacity="0.5" clip-path="url(#lc14)"/>
<path d="M241.3,878.7 L242.6,894.4 L240,901" fill="none" stroke="#3c2820" stroke-width=".7" opacity=".55" stroke-linecap="round" stroke-linejoin="round" clip-path="url(#lc14)"/>
<path d="M259.7,885.2 L253.1,898.4" fill="none" stroke="#3c2820" stroke-width=".7" opacity=".55" stroke-linecap="round" stroke-linejoin="round" clip-path="url(#lc14)"/>
<ellipse cx="255.1" cy="874.1" rx="2.9" ry="2.9" fill="none" stroke="#e8202a" stroke-width=".8"/>
<ellipse cx="249.2" cy="884.6" rx="3.7" ry="3.7" fill="none" stroke="#e8202a" stroke-width=".8"/>
<ellipse cx="248.9" cy="903.6" rx="3.7" ry="3.7" fill="none" stroke="#e8202a" stroke-width=".8"/>
<radialGradient id="lg15" cx="0.45" cy="0.4" r="0.65"><stop offset="0" stop-color="#ba8666"/><stop offset="0.6" stop-color="#9c6648"/><stop offset="1" stop-color="#70402a"/></radialGradient>
<clipPath id="lc15"><path d="M148,950.9 C148.3,949.2 148.6,947.7 150.2,946.5 C151.8,945.3 155.8,944.5 157.5,943.6 C159.2,942.6 160.4,943.6 160.4,940.7 C160.4,937.7 157.4,928.4 157.5,926.1 C157.6,923.7 159.8,927.2 161.2,926.8 C162.5,926.4 164.2,924.8 165.5,923.9 C166.9,922.9 168.2,921.1 169.2,920.9 C170.2,920.8 170.5,921.6 171.4,923.1 C172.2,924.7 173.7,928.1 174.3,930.4 C174.9,932.7 174.3,935.3 175,937 C175.8,938.7 177.2,940.4 178.7,940.7 C180.1,940.9 182.2,938.7 183.8,938.5 C185.4,938.2 186.8,938.1 188.2,939.2 C189.5,940.3 191.1,942.6 191.8,945 C192.6,947.5 192.9,951.1 192.6,953.8 C192.2,956.5 191.1,959.3 189.6,961.1 C188.2,962.9 186.2,963.9 183.8,964.7 C181.4,965.6 178,966.3 175,966.2 C172.1,966.1 168.5,965 166.3,964 C164.1,963 163.8,961.2 161.9,960.4 C160,959.5 156.8,959.5 154.6,958.9 C152.4,958.3 149.9,958.1 148.8,956.7 C147.7,955.4 147.8,952.6 148,950.9Z"/></clipPath>
<path d="M148,950.9 C148.3,949.2 148.6,947.7 150.2,946.5 C151.8,945.3 155.8,944.5 157.5,943.6 C159.2,942.6 160.4,943.6 160.4,940.7 C160.4,937.7 157.4,928.4 157.5,926.1 C157.6,923.7 159.8,927.2 161.2,926.8 C162.5,926.4 164.2,924.8 165.5,923.9 C166.9,922.9 168.2,921.1 169.2,920.9 C170.2,920.8 170.5,921.6 171.4,923.1 C172.2,924.7 173.7,928.1 174.3,930.4 C174.9,932.7 174.3,935.3 175,937 C175.8,938.7 177.2,940.4 178.7,940.7 C180.1,940.9 182.2,938.7 183.8,938.5 C185.4,938.2 186.8,938.1 188.2,939.2 C189.5,940.3 191.1,942.6 191.8,945 C192.6,947.5 192.9,951.1 192.6,953.8 C192.2,956.5 191.1,959.3 189.6,961.1 C188.2,962.9 186.2,963.9 183.8,964.7 C181.4,965.6 178,966.3 175,966.2 C172.1,966.1 168.5,965 166.3,964 C164.1,963 163.8,961.2 161.9,960.4 C160,959.5 156.8,959.5 154.6,958.9 C152.4,958.3 149.9,958.1 148.8,956.7 C147.7,955.4 147.8,952.6 148,950.9Z" fill="url(#lg15)" stroke="#4a3a30" stroke-width=".5"/>
<g clip-path="url(#lc15)"><ellipse cx="178.6" cy="950.3" rx="5.1" ry="4.5" fill="#70402a" opacity=".2"/><ellipse cx="165.3" cy="934.8" rx="2.5" ry="2.4" fill="#ba8666" opacity=".4"/><ellipse cx="153.8" cy="949" rx="4.4" ry="3.4" fill="#70402a" opacity=".3"/><ellipse cx="182.2" cy="946.2" rx="5.7" ry="5.6" fill="#70402a" opacity=".2"/><ellipse cx="165.6" cy="937.5" rx="4.7" ry="3" fill="#70402a" opacity=".2"/><ellipse cx="171.7" cy="928.1" rx="5.4" ry="3.9" fill="#70402a" opacity=".3"/><ellipse cx="155.3" cy="947.5" rx="4.8" ry="3.4" fill="#70402a" opacity=".2"/><ellipse cx="158.9" cy="932.8" rx="4.6" ry="3.7" fill="#70402a" opacity=".2"/><ellipse cx="160.3" cy="943.5" rx="5" ry="3.6" fill="#70402a" opacity=".3"/><ellipse cx="157" cy="953.8" rx="5.3" ry="5.2" fill="#ba8666" opacity=".4"/><ellipse cx="159.6" cy="953.8" rx="5.4" ry="3.8" fill="#70402a" opacity=".3"/><ellipse cx="188.6" cy="945.5" rx="2.8" ry="2.5" fill="#70402a" opacity=".2"/><ellipse cx="171.4" cy="937.6" rx="4.9" ry="4.2" fill="#ba8666" opacity=".3"/><ellipse cx="169.6" cy="930.4" rx="5.1" ry="3.2" fill="#ba8666" opacity=".3"/><ellipse cx="165.9" cy="938.9" rx="2.8" ry="1.8" fill="#ba8666" opacity=".3"/><ellipse cx="157.4" cy="955.7" rx="5.5" ry="3.7" fill="#ba8666" opacity=".3"/><ellipse cx="152.2" cy="945.8" rx="5.7" ry="5.6" fill="#ba8666" opacity=".3"/><ellipse cx="153.2" cy="955.7" rx="5" ry="4" fill="#ba8666" opacity=".4"/><g fill="#fff" opacity=".75"><circle cx="182" cy="952.6" r=".4"/><circle cx="171" cy="958" r=".4"/><circle cx="170.2" cy="949" r=".4"/><circle cx="164.7" cy="932.8" r=".3"/><circle cx="174.2" cy="939.9" r=".3"/><circle cx="160.3" cy="943.7" r=".3"/><circle cx="168.2" cy="952.5" r=".3"/><circle cx="169.1" cy="935.1" r=".4"/><circle cx="178.5" cy="956.2" r=".5"/><circle cx="168.5" cy="959.7" r=".3"/><circle cx="160.9" cy="939.3" r=".4"/><circle cx="172.9" cy="949.1" r=".5"/><circle cx="188.3" cy="947.8" r=".5"/><circle cx="187" cy="954.2" r=".3"/><circle cx="181.5" cy="944.5" r=".4"/><circle cx="173.5" cy="948.5" r=".3"/><circle cx="163.8" cy="960.7" r=".5"/><circle cx="159.3" cy="959" r=".4"/><circle cx="157.6" cy="956.6" r=".5"/><circle cx="154.4" cy="949.7" r=".5"/><circle cx="164.8" cy="948.9" r=".4"/><circle cx="155.9" cy="953.8" r=".4"/><circle cx="170.4" cy="947.8" r=".4"/><circle cx="181.3" cy="940.8" r=".4"/><circle cx="191.2" cy="945.2" r=".3"/><circle cx="177.8" cy="952.7" r=".5"/><circle cx="168.3" cy="954.6" r=".5"/><circle cx="168.3" cy="946.9" r=".3"/></g></g>
<ellipse cx="167.7" cy="939.2" rx="5.8" ry="11.7" fill="#5a3828" opacity="0.5" clip-path="url(#lc15)"/>
<path d="M175,937 L172.1,948 L166.3,964" fill="none" stroke="#3c2820" stroke-width=".7" opacity=".55" stroke-linecap="round" stroke-linejoin="round" clip-path="url(#lc15)"/>
<path d="M160.4,940.7 L167.7,946.5" fill="none" stroke="#3c2820" stroke-width=".7" opacity=".55" stroke-linecap="round" stroke-linejoin="round" clip-path="url(#lc15)"/>
<ellipse cx="150.2" cy="956" rx="2.9" ry="2.9" fill="none" stroke="#e8202a" stroke-width=".8"/>
<ellipse cx="158.7" cy="958.9" rx="2.9" ry="2.9" fill="none" stroke="#e8202a" stroke-width=".8"/>
<ellipse cx="183.1" cy="961.1" rx="1.8" ry="1.8" fill="none" stroke="#e8202a" stroke-width=".8"/>
<radialGradient id="lg16" cx="0.45" cy="0.4" r="0.65"><stop offset="0" stop-color="#cea87a"/><stop offset="0.6" stop-color="#b88e5e"/><stop offset="1" stop-color="#8a6238"/></radialGradient>
<clipPath id="lc16"><path d="M231.1,933.4 C231.5,931.5 232.3,929.7 234,928.2 C235.7,926.8 239.3,924.6 241.3,924.6 C243.2,924.6 244.2,927.5 245.7,928.2 C247.1,929 248.3,928.2 250,929 C251.7,929.7 254.4,930.9 255.9,932.6 C257.3,934.3 257.3,938 258.8,939.2 C260.3,940.4 262.9,939 264.6,939.9 C266.3,940.9 268.3,943.2 269,945 C269.7,946.9 269.7,949.2 269,950.9 C268.3,952.6 266.6,954.3 264.6,955.3 C262.7,956.2 258.8,955.9 257.3,956.7 C255.9,957.6 256.8,959.6 255.9,960.4 C254.9,961.1 253,961.2 251.5,961.1 C250,961 248.1,959.1 247.1,959.6 C246.1,960.1 246.6,962.6 245.7,964 C244.7,965.5 243,967.7 241.3,968.4 C239.6,969.1 237.1,969.1 235.4,968.4 C233.7,967.7 232.2,966.4 231.1,964 C230,961.6 229.1,957 228.9,953.8 C228.6,950.6 229.2,947.5 229.6,945 C230,942.6 230.8,941.1 231.1,939.2 C231.3,937.3 230.6,935.2 231.1,933.4Z"/></clipPath>
<path d="M231.1,933.4 C231.5,931.5 232.3,929.7 234,928.2 C235.7,926.8 239.3,924.6 241.3,924.6 C243.2,924.6 244.2,927.5 245.7,928.2 C247.1,929 248.3,928.2 250,929 C251.7,929.7 254.4,930.9 255.9,932.6 C257.3,934.3 257.3,938 258.8,939.2 C260.3,940.4 262.9,939 264.6,939.9 C266.3,940.9 268.3,943.2 269,945 C269.7,946.9 269.7,949.2 269,950.9 C268.3,952.6 266.6,954.3 264.6,955.3 C262.7,956.2 258.8,955.9 257.3,956.7 C255.9,957.6 256.8,959.6 255.9,960.4 C254.9,961.1 253,961.2 251.5,961.1 C250,961 248.1,959.1 247.1,959.6 C246.1,960.1 246.6,962.6 245.7,964 C244.7,965.5 243,967.7 241.3,968.4 C239.6,969.1 237.1,969.1 235.4,968.4 C233.7,967.7 232.2,966.4 231.1,964 C230,961.6 229.1,957 228.9,953.8 C228.6,950.6 229.2,947.5 229.6,945 C230,942.6 230.8,941.1 231.1,939.2 C231.3,937.3 230.6,935.2 231.1,933.4Z" fill="url(#lg16)" stroke="#4a4040" stroke-width=".5"/>
<g clip-path="url(#lc16)"><ellipse cx="263.2" cy="946.3" rx="4.7" ry="3.8" fill="#cea87a" opacity=".4"/><ellipse cx="234.3" cy="958.3" rx="3.3" ry="3" fill="#cea87a" opacity=".4"/><ellipse cx="242.6" cy="930.9" rx="4.8" ry="4.3" fill="#cea87a" opacity=".2"/><ellipse cx="243.3" cy="936.5" rx="3" ry="2.5" fill="#cea87a" opacity=".3"/><ellipse cx="258.4" cy="944.6" rx="4.1" ry="3.3" fill="#8a6238" opacity=".2"/><ellipse cx="236.3" cy="941.4" rx="3.9" ry="2.4" fill="#8a6238" opacity=".2"/><ellipse cx="232.1" cy="950.2" rx="3.6" ry="3.6" fill="#cea87a" opacity=".4"/><ellipse cx="237.1" cy="957.1" rx="5.1" ry="4" fill="#cea87a" opacity=".4"/><ellipse cx="248.8" cy="935.4" rx="3.2" ry="3.1" fill="#8a6238" opacity=".2"/><ellipse cx="240.3" cy="958.1" rx="5.4" ry="4.3" fill="#8a6238" opacity=".2"/><ellipse cx="235.2" cy="963.8" rx="4.9" ry="3.9" fill="#cea87a" opacity=".2"/><ellipse cx="238.5" cy="956.4" rx="5.9" ry="5.4" fill="#cea87a" opacity=".3"/><ellipse cx="242.2" cy="964.3" rx="3" ry="1.9" fill="#8a6238" opacity=".2"/><ellipse cx="264" cy="940.2" rx="4.8" ry="3.6" fill="#cea87a" opacity=".4"/><ellipse cx="230.1" cy="948.3" rx="3.4" ry="3" fill="#8a6238" opacity=".3"/><g fill="#fff" opacity=".75"><circle cx="247.1" cy="949.3" r=".4"/><circle cx="245.8" cy="951.3" r=".6"/><circle cx="246.7" cy="933.9" r=".5"/><circle cx="239.7" cy="955" r=".3"/><circle cx="241.8" cy="942.2" r=".5"/><circle cx="245.3" cy="938.5" r=".5"/><circle cx="244.1" cy="961.7" r=".6"/><circle cx="235.2" cy="967.1" r=".5"/><circle cx="253.1" cy="954.9" r=".4"/><circle cx="267.6" cy="944.5" r=".3"/><circle cx="262.6" cy="952.8" r=".4"/><circle cx="254.2" cy="941.3" r=".3"/><circle cx="230.3" cy="959.7" r=".4"/><circle cx="248.2" cy="934.4" r=".5"/><circle cx="238.7" cy="961.1" r=".4"/><circle cx="231" cy="943.6" r=".6"/><circle cx="252.1" cy="948.7" r=".5"/><circle cx="238.6" cy="956.3" r=".5"/><circle cx="256.8" cy="945.5" r=".5"/><circle cx="237.6" cy="965.6" r=".5"/><circle cx="236" cy="943.8" r=".5"/><circle cx="238" cy="938" r=".6"/><circle cx="244.1" cy="950.7" r=".3"/><circle cx="258.5" cy="944" r=".3"/><circle cx="233.7" cy="929.3" r=".6"/></g></g>
<ellipse cx="242.7" cy="940.7" rx="5.8" ry="4.4" fill="#6a4a34" opacity="0.4" clip-path="url(#lc16)"/>
<path d="M245.7,928.2 L244.2,939.2 L247.1,959.6" fill="none" stroke="#3c2820" stroke-width=".7" opacity=".55" stroke-linecap="round" stroke-linejoin="round" clip-path="url(#lc16)"/>
<path d="M250,929 L253,939.2 L258.8,939.2" fill="none" stroke="#3c2820" stroke-width=".7" opacity=".55" stroke-linecap="round" stroke-linejoin="round" clip-path="url(#lc16)"/>
<ellipse cx="240.5" cy="954.8" rx="1.8" ry="1.8" fill="none" stroke="#e8202a" stroke-width=".8"/>
<ellipse cx="247.4" cy="951.6" rx="1.8" ry="1.8" fill="none" stroke="#e8202a" stroke-width=".8"/>
<ellipse cx="261.7" cy="945.5" rx="1.8" ry="1.8" fill="none" stroke="#e8202a" stroke-width=".8"/>
<text x="316.5" y="516" font-size="16.8" fill="#000">j</text>
<circle cx="358.5" cy="513.8" r="1.8" fill="#fff" stroke="#111111" stroke-width="1"/>
<text x="367.6" y="516" font-size="6.3">Tyr 100% diet+Con</text>
<rect x="356.8" y="522" width="3.5" height="3.5" fill="#fff" stroke="#d8343c" stroke-width="1"/>
<text x="367.6" y="525.9" font-size="6.3">Tyr 0% diet+Sorafenib</text>
<polygon points="358.5,532.7 356.6,536.2 360.4,536.2" fill="#fff" stroke="#2f78c4" stroke-width="1"/>
<text x="367.6" y="537" font-size="6.3">Tyr 0% diet+Con</text>
<polygon points="358.5,546.8 356.6,543.3 360.4,543.3" fill="#fff" stroke="#f7a47e" stroke-width="1"/>
<text x="367.6" y="546.9" font-size="6.3">Tyr 0% diet+Sorafenib</text>
<rect x="362.8" y="600.1" width="9.8" height="37.7" fill="#fff" stroke="#111111" stroke-width="1.6"/>
<rect x="380.4" y="596.1" width="10.3" height="41.7" fill="#fff" stroke="#d8343c" stroke-width="1.6"/>
<rect x="398.2" y="597" width="10" height="40.8" fill="#fff" stroke="#2f78c4" stroke-width="1.6"/>
<rect x="415.9" y="601.5" width="9.8" height="36.3" fill="#fff" stroke="#f7a47e" stroke-width="1.6"/>
<line x1="356.3" y1="561.2" x2="356.3" y2="638.5" stroke="#111" stroke-width="1.4"/>
<line x1="355.6" y1="637.8" x2="432.1" y2="637.8" stroke="#111" stroke-width="1.4"/>
<line x1="354.1" y1="561.2" x2="356.3" y2="561.2" stroke="#111" stroke-width="1"/>
<text x="353.5" y="563.2" font-size="6" text-anchor="end">32</text>
<line x1="354.1" y1="580.4" x2="356.3" y2="580.4" stroke="#111" stroke-width="1"/>
<text x="353.5" y="582.4" font-size="6" text-anchor="end">28</text>
<line x1="354.1" y1="599.5" x2="356.3" y2="599.5" stroke="#111" stroke-width="1"/>
<text x="353.5" y="601.5" font-size="6" text-anchor="end">24</text>
<line x1="354.1" y1="618.6" x2="356.3" y2="618.6" stroke="#111" stroke-width="1"/>
<text x="353.5" y="620.6" font-size="6" text-anchor="end">20</text>
<line x1="354.1" y1="637.8" x2="356.3" y2="637.8" stroke="#111" stroke-width="1"/>
<text x="353.5" y="639.8" font-size="6" text-anchor="end">16</text>
<text x="341.6" y="599.5" font-size="6.4" text-anchor="middle" transform="rotate(-90 341.6 599.5)">Body weight minus liver weight (g)</text>
<line x1="367.7" y1="598.9" x2="367.7" y2="601.3" stroke="#111111" stroke-width="1"/>
<line x1="364.9" y1="598.9" x2="370.5" y2="598.9" stroke="#111111" stroke-width="1.1"/>
<line x1="364.9" y1="601.3" x2="370.5" y2="601.3" stroke="#111111" stroke-width="1.1"/>
<circle cx="364.9" cy="594.7" r="1.6" fill="none" stroke="#111111" stroke-width=".9"/>
<circle cx="370.5" cy="593.3" r="1.6" fill="none" stroke="#111111" stroke-width=".9"/>
<circle cx="363.5" cy="601.9" r="1.6" fill="none" stroke="#111111" stroke-width=".9"/>
<circle cx="371.9" cy="602.4" r="1.6" fill="none" stroke="#111111" stroke-width=".9"/>
<circle cx="367.7" cy="603.3" r="1.6" fill="none" stroke="#111111" stroke-width=".9"/>
<circle cx="364.9" cy="607.2" r="1.6" fill="none" stroke="#111111" stroke-width=".9"/>
<circle cx="370.5" cy="605.2" r="1.6" fill="none" stroke="#111111" stroke-width=".9"/>
<line x1="385.6" y1="595" x2="385.6" y2="597.2" stroke="#d8343c" stroke-width="1"/>
<line x1="382.8" y1="595" x2="388.4" y2="595" stroke="#d8343c" stroke-width="1.1"/>
<line x1="382.8" y1="597.2" x2="388.4" y2="597.2" stroke="#d8343c" stroke-width="1.1"/>
<rect x="381.1" y="593.1" width="3.2" height="3.2" fill="none" stroke="#d8343c" stroke-width=".9"/>
<rect x="386.8" y="590.7" width="3.2" height="3.2" fill="none" stroke="#d8343c" stroke-width=".9"/>
<rect x="388.1" y="588.8" width="3.2" height="3.2" fill="none" stroke="#d8343c" stroke-width=".9"/>
<rect x="381.1" y="597.9" width="3.2" height="3.2" fill="none" stroke="#d8343c" stroke-width=".9"/>
<rect x="383.9" y="601.7" width="3.2" height="3.2" fill="none" stroke="#d8343c" stroke-width=".9"/>
<rect x="386.8" y="595.5" width="3.2" height="3.2" fill="none" stroke="#d8343c" stroke-width=".9"/>
<line x1="403.2" y1="595.6" x2="403.2" y2="598.4" stroke="#2f78c4" stroke-width="1"/>
<line x1="400.4" y1="595.6" x2="406" y2="595.6" stroke="#2f78c4" stroke-width="1.1"/>
<line x1="400.4" y1="598.4" x2="406" y2="598.4" stroke="#2f78c4" stroke-width="1.1"/>
<polygon points="400.4,589.9 398.6,593.1 402.2,593.1" fill="none" stroke="#2f78c4" stroke-width=".9"/>
<polygon points="406,590.4 404.2,593.6 407.8,593.6" fill="none" stroke="#2f78c4" stroke-width=".9"/>
<polygon points="403.2,589.4 401.4,592.6 405,592.6" fill="none" stroke="#2f78c4" stroke-width=".9"/>
<polygon points="403.2,597.6 401.4,600.8 405,600.8" fill="none" stroke="#2f78c4" stroke-width=".9"/>
<polygon points="403.2,605.2 401.4,608.4 405,608.4" fill="none" stroke="#2f78c4" stroke-width=".9"/>
<polygon points="400.4,589 398.6,592.2 402.2,592.2" fill="none" stroke="#2f78c4" stroke-width=".9"/>
<line x1="420.8" y1="601.1" x2="420.8" y2="601.9" stroke="#f7a47e" stroke-width="1"/>
<line x1="418" y1="601.1" x2="423.6" y2="601.1" stroke="#f7a47e" stroke-width="1.1"/>
<line x1="418" y1="601.9" x2="423.6" y2="601.9" stroke="#f7a47e" stroke-width="1.1"/>
<polygon points="418,603.8 416.2,600.6 419.8,600.6" fill="none" stroke="#f7a47e" stroke-width=".9"/>
<polygon points="423.6,603.3 421.8,600.1 425.4,600.1" fill="none" stroke="#f7a47e" stroke-width=".9"/>
<polygon points="420.8,605.2 419,602.1 422.6,602.1" fill="none" stroke="#f7a47e" stroke-width=".9"/>
<polygon points="419.4,606.2 417.6,603 421.2,603" fill="none" stroke="#f7a47e" stroke-width=".9"/>
<polygon points="422.2,602.4 420.4,599.2 424,599.2" fill="none" stroke="#f7a47e" stroke-width=".9"/>
<line x1="368.2" y1="558.4" x2="420.7" y2="558.4" stroke="#111" stroke-width="1.2"/>
<text x="394.4" y="556.2" font-size="5.3" font-weight="bold" text-anchor="middle" fill="#111"><tspan font-style="italic">p</tspan>=0.5811</text>
<line x1="368.2" y1="568.2" x2="403.2" y2="568.2" stroke="#111" stroke-width="1.2"/>
<text x="385.7" y="566" font-size="5.3" font-weight="bold" text-anchor="middle" fill="#111"><tspan font-style="italic">p</tspan>=0.5295</text>
<line x1="385.2" y1="579.1" x2="402" y2="579.1" stroke="#111" stroke-width="1.2"/>
<text x="393.6" y="576.9" font-size="5.3" font-weight="bold" text-anchor="middle" fill="#111"><tspan font-style="italic">p</tspan>=0.9996</text>
<line x1="367" y1="589.3" x2="384" y2="589.3" stroke="#111" stroke-width="1.2"/>
<text x="377" y="587.1" font-size="5.3" font-weight="bold" text-anchor="middle" fill="#111"><tspan font-style="italic">p</tspan>=0.4777</text>
<line x1="403.7" y1="587" x2="420.7" y2="587" stroke="#111" stroke-width="1.2"/>
<text x="413" y="584.8" font-size="5.3" font-weight="bold" text-anchor="middle" fill="#111"><tspan font-style="italic">p</tspan>=0.0846</text>
<circle cx="477.1" cy="505.9" r="1.8" fill="#fff" stroke="#111111" stroke-width="1"/>
<text x="487" y="508.1" font-size="6.3">Tyr 100% diet+Con</text>
<rect x="475.4" y="515.1" width="3.5" height="3.5" fill="#fff" stroke="#d8343c" stroke-width="1"/>
<text x="487" y="519.1" font-size="6.3">Tyr 0% diet+Sorafenib</text>
<polygon points="477.1,525.8 475.2,529.3 479,529.3" fill="#fff" stroke="#2f78c4" stroke-width="1"/>
<text x="487" y="530.1" font-size="6.3">Tyr 0% diet+Con</text>
<polygon points="477.1,540.9 475.2,537.4 479,537.4" fill="#fff" stroke="#f7a47e" stroke-width="1"/>
<text x="487" y="541" font-size="6.3">Tyr 0% diet+Sorafenib</text>
<rect x="482.8" y="586.6" width="9.8" height="50.7" fill="#fff" stroke="#111111" stroke-width="1.6"/>
<rect x="501.2" y="606.6" width="10.2" height="30.7" fill="#fff" stroke="#d8343c" stroke-width="1.6"/>
<rect x="520.2" y="609.8" width="10.1" height="27.5" fill="#fff" stroke="#2f78c4" stroke-width="1.6"/>
<rect x="538.9" y="615.9" width="10.7" height="21.4" fill="#fff" stroke="#f7a47e" stroke-width="1.6"/>
<line x1="475.9" y1="556.3" x2="475.9" y2="638" stroke="#111" stroke-width="1.4"/>
<line x1="475.2" y1="637.3" x2="556.5" y2="637.3" stroke="#111" stroke-width="1.4"/>
<line x1="473.7" y1="556.3" x2="475.9" y2="556.3" stroke="#111" stroke-width="1"/>
<text x="473.1" y="558.3" font-size="6" text-anchor="end">0.20</text>
<line x1="473.7" y1="576.5" x2="475.9" y2="576.5" stroke="#111" stroke-width="1"/>
<text x="473.1" y="578.5" font-size="6" text-anchor="end">0.15</text>
<line x1="473.7" y1="596.8" x2="475.9" y2="596.8" stroke="#111" stroke-width="1"/>
<text x="473.1" y="598.8" font-size="6" text-anchor="end">0.10</text>
<line x1="473.7" y1="617" x2="475.9" y2="617" stroke="#111" stroke-width="1"/>
<text x="473.1" y="619" font-size="6" text-anchor="end">0.05</text>
<line x1="473.7" y1="637.3" x2="475.9" y2="637.3" stroke="#111" stroke-width="1"/>
<text x="473.1" y="639.3" font-size="6" text-anchor="end">0.00</text>
<text x="455.5" y="596.8" font-size="6.8" text-anchor="middle" transform="rotate(-90 455.5 596.8)">LW/BW</text>
<line x1="487.7" y1="586.6" x2="487.7" y2="586.6" stroke="#111111" stroke-width="1"/>
<line x1="484.9" y1="586.6" x2="490.5" y2="586.6" stroke="#111111" stroke-width="1.1"/>
<line x1="484.9" y1="586.6" x2="490.5" y2="586.6" stroke="#111111" stroke-width="1.1"/>
<circle cx="487.7" cy="576.5" r="1.6" fill="none" stroke="#111111" stroke-width=".9"/>
<circle cx="484.9" cy="584.6" r="1.6" fill="none" stroke="#111111" stroke-width=".9"/>
<circle cx="490.5" cy="586.7" r="1.6" fill="none" stroke="#111111" stroke-width=".9"/>
<circle cx="487.7" cy="588.7" r="1.6" fill="none" stroke="#111111" stroke-width=".9"/>
<circle cx="484.9" cy="592.8" r="1.6" fill="none" stroke="#111111" stroke-width=".9"/>
<circle cx="490.5" cy="588.7" r="1.6" fill="none" stroke="#111111" stroke-width=".9"/>
<circle cx="487.7" cy="594.8" r="1.6" fill="none" stroke="#111111" stroke-width=".9"/>
<line x1="506.3" y1="606.6" x2="506.3" y2="606.6" stroke="#d8343c" stroke-width="1"/>
<line x1="503.5" y1="606.6" x2="509.1" y2="606.6" stroke="#d8343c" stroke-width="1.1"/>
<line x1="503.5" y1="606.6" x2="509.1" y2="606.6" stroke="#d8343c" stroke-width="1.1"/>
<rect x="501.9" y="600.1" width="3.2" height="3.2" fill="none" stroke="#d8343c" stroke-width=".9"/>
<rect x="504.7" y="604.1" width="3.2" height="3.2" fill="none" stroke="#d8343c" stroke-width=".9"/>
<rect x="507.5" y="607.3" width="3.2" height="3.2" fill="none" stroke="#d8343c" stroke-width=".9"/>
<rect x="501.9" y="608.2" width="3.2" height="3.2" fill="none" stroke="#d8343c" stroke-width=".9"/>
<rect x="507.5" y="607.3" width="3.2" height="3.2" fill="none" stroke="#d8343c" stroke-width=".9"/>
<rect x="504.7" y="611.4" width="3.2" height="3.2" fill="none" stroke="#d8343c" stroke-width=".9"/>
<line x1="525.2" y1="609.8" x2="525.2" y2="609.8" stroke="#2f78c4" stroke-width="1"/>
<line x1="522.5" y1="609.8" x2="528" y2="609.8" stroke="#2f78c4" stroke-width="1.1"/>
<line x1="522.5" y1="609.8" x2="528" y2="609.8" stroke="#2f78c4" stroke-width="1.1"/>
<polygon points="525.2,598.1 523.5,601.3 527,601.3" fill="none" stroke="#2f78c4" stroke-width=".9"/>
<polygon points="522.5,607 520.7,610.2 524.2,610.2" fill="none" stroke="#2f78c4" stroke-width=".9"/>
<polygon points="528,607.8 526.3,611 529.8,611" fill="none" stroke="#2f78c4" stroke-width=".9"/>
<polygon points="525.2,611.1 523.5,614.3 527,614.3" fill="none" stroke="#2f78c4" stroke-width=".9"/>
<polygon points="526.6,613.1 524.9,616.3 528.4,616.3" fill="none" stroke="#2f78c4" stroke-width=".9"/>
<line x1="544.2" y1="615.9" x2="544.2" y2="615.9" stroke="#f7a47e" stroke-width="1"/>
<line x1="541.5" y1="615.9" x2="547" y2="615.9" stroke="#f7a47e" stroke-width="1.1"/>
<line x1="541.5" y1="615.9" x2="547" y2="615.9" stroke="#f7a47e" stroke-width="1.1"/>
<polygon points="547,612.9 545.3,609.7 548.8,609.7" fill="none" stroke="#f7a47e" stroke-width=".9"/>
<polygon points="541.5,616.9 539.7,613.7 543.2,613.7" fill="none" stroke="#f7a47e" stroke-width=".9"/>
<polygon points="544.2,619 542.5,615.8 546,615.8" fill="none" stroke="#f7a47e" stroke-width=".9"/>
<polygon points="547,619 545.3,615.8 548.8,615.8" fill="none" stroke="#f7a47e" stroke-width=".9"/>
<polygon points="541.5,619 539.7,615.8 543.2,615.8" fill="none" stroke="#f7a47e" stroke-width=".9"/>
<line x1="487.8" y1="551.9" x2="544.2" y2="551.9" stroke="#111" stroke-width="1.2"/>
<text x="516" y="549.7" font-size="5.3" font-weight="bold" text-anchor="middle" fill="#111"><tspan font-style="italic">p</tspan>=9.11×10<tspan dy="-1.8" font-size="3.4">-9</tspan></text>
<line x1="487.8" y1="562.8" x2="525.3" y2="562.8" stroke="#111" stroke-width="1.2"/>
<text x="506.5" y="560.6" font-size="5.3" font-weight="bold" text-anchor="middle" fill="#111"><tspan font-style="italic">p</tspan>=9.15×10<tspan dy="-1.8" font-size="3.4">-7</tspan></text>
<line x1="487.8" y1="573.8" x2="506.6" y2="573.8" stroke="#111" stroke-width="1.2"/>
<text x="496" y="571.6" font-size="5.3" font-weight="bold" text-anchor="middle" fill="#111"><tspan font-style="italic">p</tspan>=1.35×10<tspan dy="-1.8" font-size="3.4">-6</tspan></text>
<line x1="506.6" y1="579.1" x2="544.2" y2="579.1" stroke="#111" stroke-width="1.2"/>
<text x="525" y="576.9" font-size="5.3" font-weight="bold" text-anchor="middle" fill="#111"><tspan font-style="italic">p</tspan>=0.0516</text>
<line x1="506.6" y1="589.1" x2="524.4" y2="589.1" stroke="#111" stroke-width="1.2"/>
<text x="515" y="586.9" font-size="5.3" font-weight="bold" text-anchor="middle" fill="#111"><tspan font-style="italic">p</tspan>=0.9971</text>
<line x1="525.3" y1="597.1" x2="545.5" y2="597.1" stroke="#111" stroke-width="1.2"/>
<text x="535" y="594.9" font-size="5.3" font-weight="bold" text-anchor="middle" fill="#111"><tspan font-style="italic">p</tspan>=0.0769</text>
<circle cx="599.7" cy="505.5" r="1.8" fill="#fff" stroke="#111111" stroke-width="1"/>
<text x="609.1" y="507.7" font-size="6.3">Tyr 100% diet+Con</text>
<rect x="598" y="514.2" width="3.5" height="3.5" fill="#fff" stroke="#d8343c" stroke-width="1"/>
<text x="609.1" y="518.2" font-size="6.3">Tyr 0% diet+Sorafenib</text>
<polygon points="599.7,524.8 597.8,528.3 601.6,528.3" fill="#fff" stroke="#2f78c4" stroke-width="1"/>
<text x="609.1" y="529.1" font-size="6.3">Tyr 0% diet+Con</text>
<polygon points="599.7,539.5 597.8,536 601.6,536" fill="#fff" stroke="#f7a47e" stroke-width="1"/>
<text x="609.1" y="539.6" font-size="6.3">Tyr 0% diet+Sorafenib</text>
<rect x="604" y="592.2" width="10.7" height="45.1" fill="#fff" stroke="#111111" stroke-width="1.6"/>
<rect x="622.2" y="602.2" width="10.3" height="35.1" fill="#fff" stroke="#d8343c" stroke-width="1.6"/>
<rect x="640.8" y="615" width="10.1" height="22.3" fill="#fff" stroke="#2f78c4" stroke-width="1.6"/>
<rect x="658.7" y="629" width="10.6" height="8.3" fill="#fff" stroke="#f7a47e" stroke-width="1.6"/>
<line x1="596.2" y1="557.7" x2="596.2" y2="638" stroke="#111" stroke-width="1.4"/>
<line x1="595.5" y1="637.3" x2="676.2" y2="637.3" stroke="#111" stroke-width="1.4"/>
<line x1="594" y1="557.7" x2="596.2" y2="557.7" stroke="#111" stroke-width="1"/>
<text x="593.4" y="559.7" font-size="6" text-anchor="end">150</text>
<line x1="594" y1="584.2" x2="596.2" y2="584.2" stroke="#111" stroke-width="1"/>
<text x="593.4" y="586.2" font-size="6" text-anchor="end">100</text>
<line x1="594" y1="610.8" x2="596.2" y2="610.8" stroke="#111" stroke-width="1"/>
<text x="593.4" y="612.8" font-size="6" text-anchor="end">50</text>
<line x1="594" y1="637.3" x2="596.2" y2="637.3" stroke="#111" stroke-width="1"/>
<text x="593.4" y="639.3" font-size="6" text-anchor="end">0</text>
<text x="578.6" y="597.5" font-size="6.6" text-anchor="middle" transform="rotate(-90 578.6 597.5)">Number of tumors</text>
<line x1="609.4" y1="580.2" x2="609.4" y2="604.2" stroke="#111111" stroke-width="1"/>
<line x1="606.6" y1="580.2" x2="612.1" y2="580.2" stroke="#111111" stroke-width="1.1"/>
<line x1="606.6" y1="604.2" x2="612.1" y2="604.2" stroke="#111111" stroke-width="1.1"/>
<circle cx="613.6" cy="581.6" r="1.6" fill="none" stroke="#111111" stroke-width=".9"/>
<circle cx="606.6" cy="585.3" r="1.6" fill="none" stroke="#111111" stroke-width=".9"/>
<circle cx="609.4" cy="589.5" r="1.6" fill="none" stroke="#111111" stroke-width=".9"/>
<circle cx="605.1" cy="594.8" r="1.6" fill="none" stroke="#111111" stroke-width=".9"/>
<circle cx="613.6" cy="594.8" r="1.6" fill="none" stroke="#111111" stroke-width=".9"/>
<circle cx="609.4" cy="597.5" r="1.6" fill="none" stroke="#111111" stroke-width=".9"/>
<line x1="627.3" y1="590.2" x2="627.3" y2="614.2" stroke="#d8343c" stroke-width="1"/>
<line x1="624.5" y1="590.2" x2="630.1" y2="590.2" stroke="#d8343c" stroke-width="1.1"/>
<line x1="624.5" y1="614.2" x2="630.1" y2="614.2" stroke="#d8343c" stroke-width="1.1"/>
<rect x="622.9" y="592.2" width="3.2" height="3.2" fill="none" stroke="#d8343c" stroke-width=".9"/>
<rect x="628.5" y="594.3" width="3.2" height="3.2" fill="none" stroke="#d8343c" stroke-width=".9"/>
<rect x="625.7" y="597.5" width="3.2" height="3.2" fill="none" stroke="#d8343c" stroke-width=".9"/>
<rect x="622.9" y="599.6" width="3.2" height="3.2" fill="none" stroke="#d8343c" stroke-width=".9"/>
<rect x="628.5" y="603.9" width="3.2" height="3.2" fill="none" stroke="#d8343c" stroke-width=".9"/>
<rect x="625.7" y="606.5" width="3.2" height="3.2" fill="none" stroke="#d8343c" stroke-width=".9"/>
<line x1="645.9" y1="597" x2="645.9" y2="633" stroke="#2f78c4" stroke-width="1"/>
<line x1="643.1" y1="597" x2="648.6" y2="597" stroke="#2f78c4" stroke-width="1.1"/>
<line x1="643.1" y1="633" x2="648.6" y2="633" stroke="#2f78c4" stroke-width="1.1"/>
<polygon points="645.9,598.2 644.1,601.4 647.6,601.4" fill="none" stroke="#2f78c4" stroke-width=".9"/>
<polygon points="643.1,607.8 641.3,611 644.8,611" fill="none" stroke="#2f78c4" stroke-width=".9"/>
<polygon points="648.6,608.8 646.9,612 650.4,612" fill="none" stroke="#2f78c4" stroke-width=".9"/>
<polygon points="645.9,614.2 644.1,617.4 647.6,617.4" fill="none" stroke="#2f78c4" stroke-width=".9"/>
<polygon points="641.6,619.5 639.9,622.7 643.4,622.7" fill="none" stroke="#2f78c4" stroke-width=".9"/>
<polygon points="650.1,620.5 648.3,623.7 651.8,623.7" fill="none" stroke="#2f78c4" stroke-width=".9"/>
<line x1="664" y1="617" x2="664" y2="641" stroke="#f7a47e" stroke-width="1"/>
<line x1="661.2" y1="617" x2="666.8" y2="617" stroke="#f7a47e" stroke-width="1.1"/>
<line x1="661.2" y1="641" x2="666.8" y2="641" stroke="#f7a47e" stroke-width="1.1"/>
<polygon points="661.2,620.6 659.4,617.4 663,617.4" fill="none" stroke="#f7a47e" stroke-width=".9"/>
<polygon points="666.8,623.3 665,620.1 668.6,620.1" fill="none" stroke="#f7a47e" stroke-width=".9"/>
<polygon points="664,631.3 662.2,628.1 665.8,628.1" fill="none" stroke="#f7a47e" stroke-width=".9"/>
<polygon points="661.2,633.9 659.4,630.7 663,630.7" fill="none" stroke="#f7a47e" stroke-width=".9"/>
<polygon points="666.8,633.9 665,630.7 668.6,630.7" fill="none" stroke="#f7a47e" stroke-width=".9"/>
<line x1="608.4" y1="556" x2="664.5" y2="556" stroke="#111" stroke-width="1.2"/>
<text x="636.5" y="553.8" font-size="5.3" font-weight="bold" text-anchor="middle" fill="#111"><tspan font-style="italic">p</tspan>=3.69×10<tspan dy="-1.8" font-size="3.4">-7</tspan></text>
<line x1="608.4" y1="566.5" x2="645.9" y2="566.5" stroke="#111" stroke-width="1.2"/>
<text x="627.1" y="564.3" font-size="5.3" font-weight="bold" text-anchor="middle" fill="#111"><tspan font-style="italic">p</tspan>=0.0002</text>
<line x1="608.4" y1="578.2" x2="664.5" y2="578.2" stroke="#111" stroke-width="1.2"/>
<text x="620" y="576" font-size="5.3" text-anchor="middle"><tspan font-style="italic">p</tspan>=0.1429</text>
<text x="647" y="576" font-size="5.3" text-anchor="middle"><tspan font-style="italic">p</tspan>=3.59×10<tspan dy="-1.8" font-size="3.4">-5</tspan></text>
<line x1="627.7" y1="589.6" x2="645.9" y2="589.6" stroke="#111" stroke-width="1.2"/>
<text x="636.8" y="587.4" font-size="5.3" font-weight="bold" text-anchor="middle" fill="#111"><tspan font-style="italic">p</tspan>=0.04</text>
<line x1="646.5" y1="598" x2="664.9" y2="598" stroke="#111" stroke-width="1.2"/>
<text x="656" y="595.8" font-size="5.3" font-weight="bold" text-anchor="middle" fill="#111"><tspan font-style="italic">p</tspan>=0.0242</text>
<circle cx="357.1" cy="655.6" r="1.8" fill="#fff" stroke="#111111" stroke-width="1"/>
<text x="367" y="657.8" font-size="6.3">Tyr 100% diet+Con</text>
<rect x="355.4" y="664.9" width="3.5" height="3.5" fill="#fff" stroke="#d8343c" stroke-width="1"/>
<text x="367" y="668.8" font-size="6.3">Tyr 0% diet+Sorafenib</text>
<polygon points="357.1,675.4 355.2,678.9 359,678.9" fill="#fff" stroke="#2f78c4" stroke-width="1"/>
<text x="367" y="679.7" font-size="6.3">Tyr 0% diet+Con</text>
<polygon points="357.1,690.3 355.2,686.8 359,686.8" fill="#fff" stroke="#f7a47e" stroke-width="1"/>
<text x="367" y="690.4" font-size="6.3">Tyr 0% diet+Sorafenib</text>
<rect x="362.3" y="742" width="9.8" height="45.5" fill="#fff" stroke="#111111" stroke-width="1.6"/>
<rect x="380.4" y="765.6" width="10.3" height="21.9" fill="#fff" stroke="#d8343c" stroke-width="1.6"/>
<rect x="398.8" y="765.3" width="10.6" height="22.2" fill="#fff" stroke="#2f78c4" stroke-width="1.6"/>
<rect x="417.5" y="777" width="10.7" height="10.5" fill="#fff" stroke="#f7a47e" stroke-width="1.6"/>
<line x1="353.3" y1="706.9" x2="353.3" y2="788.2" stroke="#111" stroke-width="1.4"/>
<line x1="352.6" y1="787.5" x2="435.6" y2="787.5" stroke="#111" stroke-width="1.4"/>
<line x1="351.1" y1="706.9" x2="353.3" y2="706.9" stroke="#111" stroke-width="1"/>
<text x="350.5" y="708.9" font-size="6" text-anchor="end">25</text>
<line x1="351.1" y1="723" x2="353.3" y2="723" stroke="#111" stroke-width="1"/>
<text x="350.5" y="725" font-size="6" text-anchor="end">20</text>
<line x1="351.1" y1="739.1" x2="353.3" y2="739.1" stroke="#111" stroke-width="1"/>
<text x="350.5" y="741.1" font-size="6" text-anchor="end">15</text>
<line x1="351.1" y1="755.3" x2="353.3" y2="755.3" stroke="#111" stroke-width="1"/>
<text x="350.5" y="757.3" font-size="6" text-anchor="end">10</text>
<line x1="351.1" y1="771.4" x2="353.3" y2="771.4" stroke="#111" stroke-width="1"/>
<text x="350.5" y="773.4" font-size="6" text-anchor="end">5</text>
<line x1="351.1" y1="787.5" x2="353.3" y2="787.5" stroke="#111" stroke-width="1"/>
<text x="350.5" y="789.5" font-size="6" text-anchor="end">0</text>
<text x="339.4" y="747.2" font-size="6.8" text-anchor="middle" transform="rotate(-90 339.4 747.2)">Tumor diameter(mm)</text>
<line x1="367.2" y1="738.5" x2="367.2" y2="745.5" stroke="#111111" stroke-width="1"/>
<line x1="364.4" y1="738.5" x2="370" y2="738.5" stroke="#111111" stroke-width="1.1"/>
<line x1="364.4" y1="745.5" x2="370" y2="745.5" stroke="#111111" stroke-width="1.1"/>
<circle cx="367.2" cy="723" r="1.6" fill="none" stroke="#111111" stroke-width=".9"/>
<circle cx="363" cy="739.1" r="1.6" fill="none" stroke="#111111" stroke-width=".9"/>
<circle cx="371.4" cy="739.1" r="1.6" fill="none" stroke="#111111" stroke-width=".9"/>
<circle cx="367.2" cy="740.8" r="1.6" fill="none" stroke="#111111" stroke-width=".9"/>
<circle cx="367.2" cy="747.2" r="1.6" fill="none" stroke="#111111" stroke-width=".9"/>
<circle cx="367.2" cy="752" r="1.6" fill="none" stroke="#111111" stroke-width=".9"/>
<circle cx="367.2" cy="756.9" r="1.6" fill="none" stroke="#111111" stroke-width=".9"/>
<line x1="385.6" y1="764.8" x2="385.6" y2="766.4" stroke="#d8343c" stroke-width="1"/>
<line x1="382.8" y1="764.8" x2="388.4" y2="764.8" stroke="#d8343c" stroke-width="1.1"/>
<line x1="382.8" y1="766.4" x2="388.4" y2="766.4" stroke="#d8343c" stroke-width="1.1"/>
<rect x="381.1" y="760.1" width="3.2" height="3.2" fill="none" stroke="#d8343c" stroke-width=".9"/>
<rect x="386.8" y="761.7" width="3.2" height="3.2" fill="none" stroke="#d8343c" stroke-width=".9"/>
<rect x="383.9" y="763.3" width="3.2" height="3.2" fill="none" stroke="#d8343c" stroke-width=".9"/>
<rect x="379.8" y="764.9" width="3.2" height="3.2" fill="none" stroke="#d8343c" stroke-width=".9"/>
<rect x="388.1" y="764.9" width="3.2" height="3.2" fill="none" stroke="#d8343c" stroke-width=".9"/>
<rect x="383.9" y="766.6" width="3.2" height="3.2" fill="none" stroke="#d8343c" stroke-width=".9"/>
<line x1="404.1" y1="763.7" x2="404.1" y2="766.9" stroke="#2f78c4" stroke-width="1"/>
<line x1="401.3" y1="763.7" x2="406.9" y2="763.7" stroke="#2f78c4" stroke-width="1.1"/>
<line x1="401.3" y1="766.9" x2="406.9" y2="766.9" stroke="#2f78c4" stroke-width="1.1"/>
<polygon points="408.3,755 406.5,758.2 410.1,758.2" fill="none" stroke="#2f78c4" stroke-width=".9"/>
<polygon points="401.3,758.2 399.5,761.4 403.1,761.4" fill="none" stroke="#2f78c4" stroke-width=".9"/>
<polygon points="404.1,761.4 402.3,764.6 405.9,764.6" fill="none" stroke="#2f78c4" stroke-width=".9"/>
<polygon points="404.1,766.2 402.3,769.4 405.9,769.4" fill="none" stroke="#2f78c4" stroke-width=".9"/>
<polygon points="399.9,771.1 398.1,774.3 401.7,774.3" fill="none" stroke="#2f78c4" stroke-width=".9"/>
<polygon points="408.3,771.1 406.5,774.3 410.1,774.3" fill="none" stroke="#2f78c4" stroke-width=".9"/>
<line x1="422.9" y1="776.2" x2="422.9" y2="777.8" stroke="#f7a47e" stroke-width="1"/>
<line x1="420.1" y1="776.2" x2="425.7" y2="776.2" stroke="#f7a47e" stroke-width="1.1"/>
<line x1="420.1" y1="777.8" x2="425.7" y2="777.8" stroke="#f7a47e" stroke-width="1.1"/>
<polygon points="425.7,773.3 423.9,770.1 427.4,770.1" fill="none" stroke="#f7a47e" stroke-width=".9"/>
<polygon points="420.1,776.5 418.3,773.3 421.8,773.3" fill="none" stroke="#f7a47e" stroke-width=".9"/>
<polygon points="422.9,778.1 421.1,774.9 424.6,774.9" fill="none" stroke="#f7a47e" stroke-width=".9"/>
<polygon points="420.1,779.7 418.3,776.5 421.8,776.5" fill="none" stroke="#f7a47e" stroke-width=".9"/>
<polygon points="425.7,779.7 423.9,776.5 427.4,776.5" fill="none" stroke="#f7a47e" stroke-width=".9"/>
<line x1="367" y1="700.5" x2="423" y2="700.5" stroke="#111" stroke-width="1.2"/>
<text x="395" y="698.3" font-size="5.3" font-weight="bold" text-anchor="middle" fill="#111"><tspan font-style="italic">p</tspan>=6.57×10<tspan dy="-1.8" font-size="3.4">-8</tspan></text>
<line x1="367" y1="711.3" x2="404.1" y2="711.3" stroke="#111" stroke-width="1.2"/>
<text x="385.6" y="709.1" font-size="5.3" font-weight="bold" text-anchor="middle" fill="#111"><tspan font-style="italic">p</tspan>=3.16×10<tspan dy="-1.8" font-size="3.4">-5</tspan></text>
<line x1="367" y1="721.5" x2="386.6" y2="721.5" stroke="#111" stroke-width="1.2"/>
<text x="377" y="719.3" font-size="5.3" font-weight="bold" text-anchor="middle" fill="#111"><tspan font-style="italic">p</tspan>=1.77×10<tspan dy="-1.8" font-size="3.4">-5</tspan></text>
<line x1="385.7" y1="735.8" x2="423" y2="735.8" stroke="#111" stroke-width="1.2"/>
<text x="404.4" y="733.6" font-size="5.3" font-weight="bold" text-anchor="middle" fill="#111"><tspan font-style="italic">p</tspan>=0.043</text>
<line x1="385.7" y1="745.5" x2="404.1" y2="745.5" stroke="#111" stroke-width="1.2"/>
<text x="393" y="743.3" font-size="5.3" font-weight="bold" text-anchor="middle" fill="#111"><tspan font-style="italic">p</tspan>=0.9929</text>
<line x1="405" y1="754.2" x2="422.8" y2="754.2" stroke="#111" stroke-width="1.2"/>
<text x="414" y="752" font-size="5.3" font-weight="bold" text-anchor="middle" fill="#111"><tspan font-style="italic">p</tspan>=0.0243</text>
<text x="296.5" y="819" font-size="16.8" fill="#000">l</text>
<circle cx="312.6" cy="835.8" r="1.8" fill="#fff" stroke="#111111" stroke-width="1"/>
<text x="321.1" y="838" font-size="5.7">Tyr 100% diet+Con</text>
<rect x="310.9" y="843.4" width="3.5" height="3.5" fill="#fff" stroke="#d8343c" stroke-width="1"/>
<text x="321.1" y="847.3" font-size="5.7">Tyr 100% diet+Venetoclax</text>
<polygon points="312.6,852.5 310.7,856 314.5,856" fill="#fff" stroke="#2f78c4" stroke-width="1"/>
<text x="321.1" y="856.8" font-size="5.7">Tyr 0% diet+Con</text>
<polygon points="312.6,866.2 310.7,862.7 314.5,862.7" fill="#fff" stroke="#f7a47e" stroke-width="1"/>
<text x="321.1" y="866.3" font-size="5.7">Tyr 0% diet+Venetoclax</text>
<rect x="317" y="919.3" width="8.4" height="35.3" fill="#fff" stroke="#111111" stroke-width="1.4"/>
<rect x="333" y="925.4" width="8.6" height="29.2" fill="#fff" stroke="#d8343c" stroke-width="1.4"/>
<rect x="348.8" y="922.5" width="8.7" height="32.1" fill="#fff" stroke="#2f78c4" stroke-width="1.4"/>
<rect x="365.2" y="919.6" width="8.7" height="35" fill="#fff" stroke="#f7a47e" stroke-width="1.4"/>
<line x1="310.1" y1="884.1" x2="310.1" y2="955.3" stroke="#111" stroke-width="1.4"/>
<line x1="309.4" y1="954.6" x2="377.6" y2="954.6" stroke="#111" stroke-width="1.4"/>
<line x1="307.9" y1="884.1" x2="310.1" y2="884.1" stroke="#111" stroke-width="1"/>
<text x="307.3" y="886.1" font-size="5.4" text-anchor="end">28</text>
<line x1="307.9" y1="907.6" x2="310.1" y2="907.6" stroke="#111" stroke-width="1"/>
<text x="307.3" y="909.6" font-size="5.4" text-anchor="end">24</text>
<line x1="307.9" y1="931.1" x2="310.1" y2="931.1" stroke="#111" stroke-width="1"/>
<text x="307.3" y="933.1" font-size="5.4" text-anchor="end">20</text>
<line x1="307.9" y1="954.6" x2="310.1" y2="954.6" stroke="#111" stroke-width="1"/>
<text x="307.3" y="956.6" font-size="5.4" text-anchor="end">16</text>
<text x="294.6" y="919.4" font-size="5.7" text-anchor="middle" transform="rotate(-90 294.6 919.4)">Body weight minus liver weight (g)</text>
<line x1="321.2" y1="918.3" x2="321.2" y2="920.3" stroke="#111111" stroke-width="1"/>
<line x1="318.4" y1="918.3" x2="324.1" y2="918.3" stroke="#111111" stroke-width="1.1"/>
<line x1="318.4" y1="920.3" x2="324.1" y2="920.3" stroke="#111111" stroke-width="1.1"/>
<circle cx="321.2" cy="910.5" r="1.6" fill="none" stroke="#111111" stroke-width=".9"/>
<circle cx="317.1" cy="916.4" r="1.6" fill="none" stroke="#111111" stroke-width=".9"/>
<circle cx="325.4" cy="916.4" r="1.6" fill="none" stroke="#111111" stroke-width=".9"/>
<circle cx="321.2" cy="919.4" r="1.6" fill="none" stroke="#111111" stroke-width=".9"/>
<circle cx="317.1" cy="925.2" r="1.6" fill="none" stroke="#111111" stroke-width=".9"/>
<circle cx="325.4" cy="925.2" r="1.6" fill="none" stroke="#111111" stroke-width=".9"/>
<line x1="337.3" y1="923.8" x2="337.3" y2="927" stroke="#d8343c" stroke-width="1"/>
<line x1="334.5" y1="923.8" x2="340.1" y2="923.8" stroke="#d8343c" stroke-width="1.1"/>
<line x1="334.5" y1="927" x2="340.1" y2="927" stroke="#d8343c" stroke-width="1.1"/>
<rect x="338.5" y="911.9" width="3.2" height="3.2" fill="none" stroke="#d8343c" stroke-width=".9"/>
<rect x="339.9" y="910.7" width="3.2" height="3.2" fill="none" stroke="#d8343c" stroke-width=".9"/>
<rect x="332.9" y="920.7" width="3.2" height="3.2" fill="none" stroke="#d8343c" stroke-width=".9"/>
<rect x="335.7" y="927.7" width="3.2" height="3.2" fill="none" stroke="#d8343c" stroke-width=".9"/>
<rect x="332.9" y="929.5" width="3.2" height="3.2" fill="none" stroke="#d8343c" stroke-width=".9"/>
<rect x="338.5" y="928.3" width="3.2" height="3.2" fill="none" stroke="#d8343c" stroke-width=".9"/>
<line x1="353.2" y1="921.7" x2="353.2" y2="923.3" stroke="#2f78c4" stroke-width="1"/>
<line x1="350.4" y1="921.7" x2="356" y2="921.7" stroke="#2f78c4" stroke-width="1.1"/>
<line x1="350.4" y1="923.3" x2="356" y2="923.3" stroke="#2f78c4" stroke-width="1.1"/>
<polygon points="350.4,914.5 348.6,917.7 352.2,917.7" fill="none" stroke="#2f78c4" stroke-width=".9"/>
<polygon points="356,914.5 354.2,917.7 357.8,917.7" fill="none" stroke="#2f78c4" stroke-width=".9"/>
<polygon points="353.2,918.6 351.4,921.8 355,921.8" fill="none" stroke="#2f78c4" stroke-width=".9"/>
<polygon points="350.4,923.3 348.6,926.5 352.2,926.5" fill="none" stroke="#2f78c4" stroke-width=".9"/>
<polygon points="356,923.3 354.2,926.5 357.8,926.5" fill="none" stroke="#2f78c4" stroke-width=".9"/>
<polygon points="353.2,929.2 351.4,932.4 355,932.4" fill="none" stroke="#2f78c4" stroke-width=".9"/>
<line x1="369.6" y1="918.8" x2="369.6" y2="920.4" stroke="#f7a47e" stroke-width="1"/>
<line x1="366.8" y1="918.8" x2="372.4" y2="918.8" stroke="#f7a47e" stroke-width="1.1"/>
<line x1="366.8" y1="920.4" x2="372.4" y2="920.4" stroke="#f7a47e" stroke-width="1.1"/>
<polygon points="369.6,915.4 367.8,912.2 371.4,912.2" fill="none" stroke="#f7a47e" stroke-width=".9"/>
<polygon points="366.8,918.3 365,915.1 368.6,915.1" fill="none" stroke="#f7a47e" stroke-width=".9"/>
<polygon points="372.4,921.3 370.6,918.1 374.2,918.1" fill="none" stroke="#f7a47e" stroke-width=".9"/>
<polygon points="369.6,924.2 367.8,921 371.4,921" fill="none" stroke="#f7a47e" stroke-width=".9"/>
<polygon points="369.6,930.1 367.8,926.9 371.4,926.9" fill="none" stroke="#f7a47e" stroke-width=".9"/>
<line x1="321.1" y1="881.6" x2="370" y2="881.6" stroke="#111" stroke-width="1.2"/>
<text x="345.6" y="879.4" font-size="4.8" font-weight="bold" text-anchor="middle" fill="#111"><tspan font-style="italic">p</tspan>=0.5555</text>
<line x1="321.1" y1="891.4" x2="352.8" y2="891.4" stroke="#111" stroke-width="1.2"/>
<text x="337" y="889.2" font-size="4.8" font-weight="bold" text-anchor="middle" fill="#111"><tspan font-style="italic">p</tspan>=0.8488</text>
<line x1="337.4" y1="899.4" x2="352.8" y2="899.4" stroke="#111" stroke-width="1.2"/>
<text x="345" y="897.2" font-size="4.8" font-weight="bold" text-anchor="middle" fill="#111"><tspan font-style="italic">p</tspan>=0.8746</text>
<line x1="321.1" y1="907.9" x2="336.7" y2="907.9" stroke="#111" stroke-width="1.2"/>
<text x="329" y="905.7" font-size="4.8" font-weight="bold" text-anchor="middle" fill="#111"><tspan font-style="italic">p</tspan>=0.4211</text>
<line x1="353.2" y1="907.9" x2="370" y2="907.9" stroke="#111" stroke-width="1.2"/>
<text x="362" y="905.7" font-size="4.8" font-weight="bold" text-anchor="middle" fill="#111"><tspan font-style="italic">p</tspan>=0.9984</text>
<line x1="337.4" y1="899.4" x2="337.4" y2="903" stroke="#111" stroke-width="1"/>
<line x1="352.8" y1="899.4" x2="352.8" y2="903" stroke="#111" stroke-width="1"/>
<circle cx="412.7" cy="837.4" r="1.8" fill="#fff" stroke="#111111" stroke-width="1"/>
<text x="421.2" y="839.6" font-size="5.7">Tyr 100% diet+Con</text>
<rect x="410.9" y="845.2" width="3.5" height="3.5" fill="#fff" stroke="#d8343c" stroke-width="1"/>
<text x="421.2" y="849.2" font-size="5.7">Tyr 100% diet+Venetoclax</text>
<polygon points="412.7,854.7 410.8,858.2 414.6,858.2" fill="#fff" stroke="#2f78c4" stroke-width="1"/>
<text x="421.2" y="859" font-size="5.7">Tyr 0% diet+Con</text>
<polygon points="412.7,868.4 410.8,864.9 414.6,864.9" fill="#fff" stroke="#f7a47e" stroke-width="1"/>
<text x="421.2" y="868.5" font-size="5.7">Tyr 0% diet+Venetoclax</text>
<rect x="416.8" y="920.7" width="8.7" height="34.6" fill="#fff" stroke="#111111" stroke-width="1.4"/>
<rect x="432.4" y="922.2" width="8.5" height="33.1" fill="#fff" stroke="#d8343c" stroke-width="1.4"/>
<rect x="448" y="934.9" width="8.6" height="20.4" fill="#fff" stroke="#2f78c4" stroke-width="1.4"/>
<rect x="463.8" y="940.7" width="8.7" height="14.6" fill="#fff" stroke="#f7a47e" stroke-width="1.4"/>
<line x1="410.5" y1="887.2" x2="410.5" y2="956" stroke="#111" stroke-width="1.4"/>
<line x1="409.8" y1="955.3" x2="478.4" y2="955.3" stroke="#111" stroke-width="1.4"/>
<line x1="408.3" y1="887.2" x2="410.5" y2="887.2" stroke="#111" stroke-width="1"/>
<text x="407.7" y="889.2" font-size="5.4" text-anchor="end">0.25</text>
<line x1="408.3" y1="900.8" x2="410.5" y2="900.8" stroke="#111" stroke-width="1"/>
<text x="407.7" y="902.8" font-size="5.4" text-anchor="end">0.20</text>
<line x1="408.3" y1="914.4" x2="410.5" y2="914.4" stroke="#111" stroke-width="1"/>
<text x="407.7" y="916.4" font-size="5.4" text-anchor="end">0.15</text>
<line x1="408.3" y1="928.1" x2="410.5" y2="928.1" stroke="#111" stroke-width="1"/>
<text x="407.7" y="930.1" font-size="5.4" text-anchor="end">0.10</text>
<line x1="408.3" y1="941.7" x2="410.5" y2="941.7" stroke="#111" stroke-width="1"/>
<text x="407.7" y="943.7" font-size="5.4" text-anchor="end">0.05</text>
<line x1="408.3" y1="955.3" x2="410.5" y2="955.3" stroke="#111" stroke-width="1"/>
<text x="407.7" y="957.3" font-size="5.4" text-anchor="end">0.00</text>
<text x="391.8" y="921.2" font-size="5.7" text-anchor="middle" transform="rotate(-90 391.8 921.2)">LW/BW</text>
<line x1="421.2" y1="920.7" x2="421.2" y2="920.7" stroke="#111111" stroke-width="1"/>
<line x1="418.4" y1="920.7" x2="424" y2="920.7" stroke="#111111" stroke-width="1.1"/>
<line x1="418.4" y1="920.7" x2="424" y2="920.7" stroke="#111111" stroke-width="1.1"/>
<circle cx="418.4" cy="911.7" r="1.6" fill="none" stroke="#111111" stroke-width=".9"/>
<circle cx="424" cy="911.7" r="1.6" fill="none" stroke="#111111" stroke-width=".9"/>
<circle cx="421.2" cy="919.9" r="1.6" fill="none" stroke="#111111" stroke-width=".9"/>
<circle cx="417" cy="925.3" r="1.6" fill="none" stroke="#111111" stroke-width=".9"/>
<circle cx="425.4" cy="925.3" r="1.6" fill="none" stroke="#111111" stroke-width=".9"/>
<circle cx="421.2" cy="926.7" r="1.6" fill="none" stroke="#111111" stroke-width=".9"/>
<line x1="436.6" y1="922.2" x2="436.6" y2="922.2" stroke="#d8343c" stroke-width="1"/>
<line x1="433.8" y1="922.2" x2="439.4" y2="922.2" stroke="#d8343c" stroke-width="1.1"/>
<line x1="433.8" y1="922.2" x2="439.4" y2="922.2" stroke="#d8343c" stroke-width="1.1"/>
<rect x="430.8" y="911.5" width="3.2" height="3.2" fill="none" stroke="#d8343c" stroke-width=".9"/>
<rect x="439.2" y="911.5" width="3.2" height="3.2" fill="none" stroke="#d8343c" stroke-width=".9"/>
<rect x="435" y="918.3" width="3.2" height="3.2" fill="none" stroke="#d8343c" stroke-width=".9"/>
<rect x="435" y="922.4" width="3.2" height="3.2" fill="none" stroke="#d8343c" stroke-width=".9"/>
<rect x="435" y="926.5" width="3.2" height="3.2" fill="none" stroke="#d8343c" stroke-width=".9"/>
<rect x="435" y="930.5" width="3.2" height="3.2" fill="none" stroke="#d8343c" stroke-width=".9"/>
<line x1="452.3" y1="934.9" x2="452.3" y2="934.9" stroke="#2f78c4" stroke-width="1"/>
<line x1="449.5" y1="934.9" x2="455.1" y2="934.9" stroke="#2f78c4" stroke-width="1.1"/>
<line x1="449.5" y1="934.9" x2="455.1" y2="934.9" stroke="#2f78c4" stroke-width="1.1"/>
<polygon points="449.5,930.2 447.7,933.4 451.3,933.4" fill="none" stroke="#2f78c4" stroke-width=".9"/>
<polygon points="455.1,929.4 453.3,932.6 456.9,932.6" fill="none" stroke="#2f78c4" stroke-width=".9"/>
<polygon points="452.3,932.1 450.5,935.3 454.1,935.3" fill="none" stroke="#2f78c4" stroke-width=".9"/>
<polygon points="449.5,934.3 447.7,937.5 451.3,937.5" fill="none" stroke="#2f78c4" stroke-width=".9"/>
<polygon points="455.1,934.3 453.3,937.5 456.9,937.5" fill="none" stroke="#2f78c4" stroke-width=".9"/>
<line x1="468.2" y1="940.7" x2="468.2" y2="940.7" stroke="#f7a47e" stroke-width="1"/>
<line x1="465.4" y1="940.7" x2="471" y2="940.7" stroke="#f7a47e" stroke-width="1.1"/>
<line x1="465.4" y1="940.7" x2="471" y2="940.7" stroke="#f7a47e" stroke-width="1.1"/>
<polygon points="465.4,941.4 463.6,938.2 467.2,938.2" fill="none" stroke="#f7a47e" stroke-width=".9"/>
<polygon points="471,941.4 469.2,938.2 472.8,938.2" fill="none" stroke="#f7a47e" stroke-width=".9"/>
<polygon points="468.2,942.2 466.4,939 470,939" fill="none" stroke="#f7a47e" stroke-width=".9"/>
<polygon points="471,940.9 469.2,937.7 472.8,937.7" fill="none" stroke="#f7a47e" stroke-width=".9"/>
<line x1="421.2" y1="876.5" x2="468.2" y2="876.5" stroke="#111" stroke-width="1.2"/>
<text x="444.7" y="874.3" font-size="4.8" font-weight="bold" text-anchor="middle" fill="#111"><tspan font-style="italic">p</tspan>=2.93×10<tspan dy="-1.8" font-size="3.4">-5</tspan></text>
<line x1="421.2" y1="884.8" x2="452.4" y2="884.8" stroke="#111" stroke-width="1.2"/>
<text x="436.8" y="882.6" font-size="4.8" font-weight="bold" text-anchor="middle" fill="#111"><tspan font-style="italic">p</tspan>=0.913</text>
<line x1="438.3" y1="892.1" x2="452.4" y2="892.1" stroke="#111" stroke-width="1.2"/>
<text x="446" y="889.9" font-size="4.8" font-weight="bold" text-anchor="middle" fill="#111"><tspan font-style="italic">p</tspan>=0.0035</text>
<line x1="438.3" y1="900.1" x2="468.2" y2="900.1" stroke="#111" stroke-width="1.2"/>
<text x="455" y="897.9" font-size="4.8" font-weight="bold" text-anchor="middle" fill="#111"><tspan font-style="italic">p</tspan>=7.52×10<tspan dy="-1.8" font-size="3.4">-5</tspan></text>
<line x1="420" y1="907.6" x2="436.4" y2="907.6" stroke="#111" stroke-width="1.2"/>
<text x="428" y="905.4" font-size="4.8" font-weight="bold" text-anchor="middle" fill="#111"><tspan font-style="italic">p</tspan>=0.9725</text>
<line x1="452.2" y1="927.2" x2="468.9" y2="927.2" stroke="#111" stroke-width="1.2"/>
<text x="460" y="925" font-size="4.8" font-weight="bold" text-anchor="middle" fill="#111"><tspan font-style="italic">p</tspan>=0.3508</text>
<circle cx="512" cy="838.8" r="1.8" fill="#fff" stroke="#111111" stroke-width="1"/>
<text x="519.7" y="841" font-size="5.7">Tyr 100% diet+Con</text>
<rect x="510.2" y="846" width="3.5" height="3.5" fill="#fff" stroke="#d8343c" stroke-width="1"/>
<text x="519.7" y="850" font-size="5.7">Tyr 100% diet+Venetoclax</text>
<polygon points="512,854.9 510.1,858.4 513.9,858.4" fill="#fff" stroke="#2f78c4" stroke-width="1"/>
<text x="519.7" y="859.2" font-size="5.7">Tyr 0% diet+Con</text>
<polygon points="512,867.9 510.1,864.4 513.9,864.4" fill="#fff" stroke="#f7a47e" stroke-width="1"/>
<text x="519.7" y="868" font-size="5.7">Tyr 0% diet+Venetoclax</text>
<rect x="515.6" y="910.3" width="8.4" height="45.2" fill="#fff" stroke="#111111" stroke-width="1.4"/>
<rect x="531" y="923" width="8.8" height="32.5" fill="#fff" stroke="#d8343c" stroke-width="1.4"/>
<rect x="546.3" y="937.3" width="8.7" height="18.2" fill="#fff" stroke="#2f78c4" stroke-width="1.4"/>
<rect x="561.6" y="949" width="8.8" height="6.5" fill="#fff" stroke="#f7a47e" stroke-width="1.4"/>
<line x1="509.1" y1="888.4" x2="509.1" y2="956.2" stroke="#111" stroke-width="1.4"/>
<line x1="508.4" y1="955.5" x2="577" y2="955.5" stroke="#111" stroke-width="1.4"/>
<line x1="506.9" y1="888.4" x2="509.1" y2="888.4" stroke="#111" stroke-width="1"/>
<text x="506.3" y="890.4" font-size="5.4" text-anchor="end">100</text>
<line x1="506.9" y1="901.8" x2="509.1" y2="901.8" stroke="#111" stroke-width="1"/>
<text x="506.3" y="903.8" font-size="5.4" text-anchor="end">80</text>
<line x1="506.9" y1="915.2" x2="509.1" y2="915.2" stroke="#111" stroke-width="1"/>
<text x="506.3" y="917.2" font-size="5.4" text-anchor="end">60</text>
<line x1="506.9" y1="928.7" x2="509.1" y2="928.7" stroke="#111" stroke-width="1"/>
<text x="506.3" y="930.7" font-size="5.4" text-anchor="end">40</text>
<line x1="506.9" y1="942.1" x2="509.1" y2="942.1" stroke="#111" stroke-width="1"/>
<text x="506.3" y="944.1" font-size="5.4" text-anchor="end">20</text>
<line x1="506.9" y1="955.5" x2="509.1" y2="955.5" stroke="#111" stroke-width="1"/>
<text x="506.3" y="957.5" font-size="5.4" text-anchor="end">0</text>
<text x="492.8" y="922" font-size="5.7" text-anchor="middle" transform="rotate(-90 492.8 922)">Number of tumors</text>
<line x1="519.8" y1="897.3" x2="519.8" y2="923.3" stroke="#111111" stroke-width="1"/>
<line x1="517" y1="897.3" x2="522.6" y2="897.3" stroke="#111111" stroke-width="1.1"/>
<line x1="517" y1="923.3" x2="522.6" y2="923.3" stroke="#111111" stroke-width="1.1"/>
<circle cx="519.8" cy="897.1" r="1.6" fill="none" stroke="#111111" stroke-width=".9"/>
<circle cx="519.8" cy="901.8" r="1.6" fill="none" stroke="#111111" stroke-width=".9"/>
<circle cx="515.6" cy="913.9" r="1.6" fill="none" stroke="#111111" stroke-width=".9"/>
<circle cx="524" cy="913.9" r="1.6" fill="none" stroke="#111111" stroke-width=".9"/>
<circle cx="519.8" cy="920.6" r="1.6" fill="none" stroke="#111111" stroke-width=".9"/>
<circle cx="519.8" cy="915.2" r="1.6" fill="none" stroke="#111111" stroke-width=".9"/>
<line x1="535.4" y1="913" x2="535.4" y2="933" stroke="#d8343c" stroke-width="1"/>
<line x1="532.6" y1="913" x2="538.2" y2="913" stroke="#d8343c" stroke-width="1.1"/>
<line x1="532.6" y1="933" x2="538.2" y2="933" stroke="#d8343c" stroke-width="1.1"/>
<rect x="533.8" y="911" width="3.2" height="3.2" fill="none" stroke="#d8343c" stroke-width=".9"/>
<rect x="533.8" y="915" width="3.2" height="3.2" fill="none" stroke="#d8343c" stroke-width=".9"/>
<rect x="531" y="919" width="3.2" height="3.2" fill="none" stroke="#d8343c" stroke-width=".9"/>
<rect x="536.6" y="920.4" width="3.2" height="3.2" fill="none" stroke="#d8343c" stroke-width=".9"/>
<rect x="533.8" y="923.7" width="3.2" height="3.2" fill="none" stroke="#d8343c" stroke-width=".9"/>
<rect x="533.8" y="927.1" width="3.2" height="3.2" fill="none" stroke="#d8343c" stroke-width=".9"/>
<line x1="550.7" y1="931.3" x2="550.7" y2="943.3" stroke="#2f78c4" stroke-width="1"/>
<line x1="547.9" y1="931.3" x2="553.5" y2="931.3" stroke="#2f78c4" stroke-width="1.1"/>
<line x1="547.9" y1="943.3" x2="553.5" y2="943.3" stroke="#2f78c4" stroke-width="1.1"/>
<polygon points="550.7,928.1 548.9,931.3 552.5,931.3" fill="none" stroke="#2f78c4" stroke-width=".9"/>
<polygon points="547.9,932.1 546.1,935.3 549.7,935.3" fill="none" stroke="#2f78c4" stroke-width=".9"/>
<polygon points="553.5,933.5 551.7,936.6 555.3,936.6" fill="none" stroke="#2f78c4" stroke-width=".9"/>
<polygon points="547.9,936.8 546.1,940 549.7,940" fill="none" stroke="#2f78c4" stroke-width=".9"/>
<polygon points="553.5,936.8 551.7,940 555.3,940" fill="none" stroke="#2f78c4" stroke-width=".9"/>
<polygon points="550.7,938.8 548.9,942 552.5,942" fill="none" stroke="#2f78c4" stroke-width=".9"/>
<line x1="566" y1="946" x2="566" y2="952" stroke="#f7a47e" stroke-width="1"/>
<line x1="563.2" y1="946" x2="568.8" y2="946" stroke="#f7a47e" stroke-width="1.1"/>
<line x1="563.2" y1="952" x2="568.8" y2="952" stroke="#f7a47e" stroke-width="1.1"/>
<polygon points="563.2,948.7 561.4,945.5 565,945.5" fill="none" stroke="#f7a47e" stroke-width=".9"/>
<polygon points="568.8,948.7 567,945.5 570.6,945.5" fill="none" stroke="#f7a47e" stroke-width=".9"/>
<polygon points="566,950.7 564.2,947.5 567.8,947.5" fill="none" stroke="#f7a47e" stroke-width=".9"/>
<polygon points="563.2,952.7 561.4,949.5 565,949.5" fill="none" stroke="#f7a47e" stroke-width=".9"/>
<polygon points="568.8,952.7 567,949.5 570.6,949.5" fill="none" stroke="#f7a47e" stroke-width=".9"/>
<line x1="519.3" y1="877" x2="566" y2="877" stroke="#111" stroke-width="1.2"/>
<text x="542.6" y="874.8" font-size="4.8" font-weight="bold" text-anchor="middle" fill="#111"><tspan font-style="italic">p</tspan>=1.74×10<tspan dy="-1.8" font-size="3.4">-9</tspan></text>
<line x1="519.3" y1="885.5" x2="550.7" y2="885.5" stroke="#111" stroke-width="1.2"/>
<text x="535" y="883.3" font-size="4.8" font-weight="bold" text-anchor="middle" fill="#111"><tspan font-style="italic">p</tspan>=8.11×10<tspan dy="-1.8" font-size="3.4">-7</tspan></text>
<line x1="519.3" y1="893.2" x2="566" y2="893.2" stroke="#111" stroke-width="1.2"/>
<text x="527" y="889" font-size="4.8" text-anchor="middle"><tspan font-style="italic">p</tspan>=0.0076</text>
<text x="552" y="889" font-size="4.8" text-anchor="middle"><tspan font-style="italic">p</tspan>=9.82×10<tspan dy="-1.8" font-size="3.4">-7</tspan></text>
<line x1="535.4" y1="909.3" x2="551" y2="909.3" stroke="#111" stroke-width="1.2"/>
<text x="543.2" y="907.1" font-size="4.8" font-weight="bold" text-anchor="middle" fill="#111"><tspan font-style="italic">p</tspan>=0.0022</text>
<line x1="551.4" y1="928.1" x2="566.8" y2="928.1" stroke="#111" stroke-width="1.2"/>
<text x="559" y="925.9" font-size="4.8" font-weight="bold" text-anchor="middle" fill="#111"><tspan font-style="italic">p</tspan>=0.0095</text>
<circle cx="606.2" cy="838" r="1.8" fill="#fff" stroke="#111111" stroke-width="1"/>
<text x="614.2" y="840.2" font-size="5.7">Tyr 100% diet+Con</text>
<rect x="604.5" y="845.5" width="3.5" height="3.5" fill="#fff" stroke="#d8343c" stroke-width="1"/>
<text x="614.2" y="849.4" font-size="5.7">Tyr 100% diet+Venetoclax</text>
<polygon points="606.2,854.6 604.3,858.1 608.1,858.1" fill="#fff" stroke="#2f78c4" stroke-width="1"/>
<text x="614.2" y="858.9" font-size="5.7">Tyr 0% diet+Con</text>
<polygon points="606.2,867.9 604.3,864.4 608.1,864.4" fill="#fff" stroke="#f7a47e" stroke-width="1"/>
<text x="614.2" y="868" font-size="5.7">Tyr 0% diet+Venetoclax</text>
<rect x="610.1" y="912.5" width="8.4" height="41.9" fill="#fff" stroke="#111111" stroke-width="1.4"/>
<rect x="625.8" y="925.2" width="8.8" height="29.2" fill="#fff" stroke="#d8343c" stroke-width="1.4"/>
<rect x="641.9" y="932.9" width="8.7" height="21.5" fill="#fff" stroke="#2f78c4" stroke-width="1.4"/>
<rect x="657.5" y="943.1" width="8.8" height="11.3" fill="#fff" stroke="#f7a47e" stroke-width="1.4"/>
<line x1="603.7" y1="885.5" x2="603.7" y2="955.1" stroke="#111" stroke-width="1.4"/>
<line x1="603" y1="954.4" x2="672.6" y2="954.4" stroke="#111" stroke-width="1.4"/>
<line x1="601.5" y1="885.5" x2="603.7" y2="885.5" stroke="#111" stroke-width="1"/>
<text x="600.9" y="887.5" font-size="5.4" text-anchor="end">20</text>
<line x1="601.5" y1="902.7" x2="603.7" y2="902.7" stroke="#111" stroke-width="1"/>
<text x="600.9" y="904.7" font-size="5.4" text-anchor="end">15</text>
<line x1="601.5" y1="920" x2="603.7" y2="920" stroke="#111" stroke-width="1"/>
<text x="600.9" y="922" font-size="5.4" text-anchor="end">10</text>
<line x1="601.5" y1="937.2" x2="603.7" y2="937.2" stroke="#111" stroke-width="1"/>
<text x="600.9" y="939.2" font-size="5.4" text-anchor="end">5</text>
<line x1="601.5" y1="954.4" x2="603.7" y2="954.4" stroke="#111" stroke-width="1"/>
<text x="600.9" y="956.4" font-size="5.4" text-anchor="end">0</text>
<text x="589.6" y="920" font-size="5.7" text-anchor="middle" transform="rotate(-90 589.6 920)">Tumor diameter(mm)</text>
<line x1="614.3" y1="909.7" x2="614.3" y2="915.3" stroke="#111111" stroke-width="1"/>
<line x1="611.5" y1="909.7" x2="617.1" y2="909.7" stroke="#111111" stroke-width="1.1"/>
<line x1="611.5" y1="915.3" x2="617.1" y2="915.3" stroke="#111111" stroke-width="1.1"/>
<circle cx="614.3" cy="896.5" r="1.6" fill="none" stroke="#111111" stroke-width=".9"/>
<circle cx="614.3" cy="907.9" r="1.6" fill="none" stroke="#111111" stroke-width=".9"/>
<circle cx="614.3" cy="914.8" r="1.6" fill="none" stroke="#111111" stroke-width=".9"/>
<circle cx="610.1" cy="920" r="1.6" fill="none" stroke="#111111" stroke-width=".9"/>
<circle cx="618.5" cy="920" r="1.6" fill="none" stroke="#111111" stroke-width=".9"/>
<circle cx="614.3" cy="918.2" r="1.6" fill="none" stroke="#111111" stroke-width=".9"/>
<line x1="630.2" y1="923.7" x2="630.2" y2="926.7" stroke="#d8343c" stroke-width="1"/>
<line x1="627.5" y1="923.7" x2="633" y2="923.7" stroke="#d8343c" stroke-width="1.1"/>
<line x1="627.5" y1="926.7" x2="633" y2="926.7" stroke="#d8343c" stroke-width="1.1"/>
<rect x="624.4" y="916.6" width="3.2" height="3.2" fill="none" stroke="#d8343c" stroke-width=".9"/>
<rect x="632.9" y="916.6" width="3.2" height="3.2" fill="none" stroke="#d8343c" stroke-width=".9"/>
<rect x="628.6" y="921.8" width="3.2" height="3.2" fill="none" stroke="#d8343c" stroke-width=".9"/>
<rect x="624.4" y="928.7" width="3.2" height="3.2" fill="none" stroke="#d8343c" stroke-width=".9"/>
<rect x="632.9" y="928.7" width="3.2" height="3.2" fill="none" stroke="#d8343c" stroke-width=".9"/>
<rect x="628.6" y="927" width="3.2" height="3.2" fill="none" stroke="#d8343c" stroke-width=".9"/>
<line x1="646.3" y1="932.3" x2="646.3" y2="933.5" stroke="#2f78c4" stroke-width="1"/>
<line x1="643.5" y1="932.3" x2="649.1" y2="932.3" stroke="#2f78c4" stroke-width="1.1"/>
<line x1="643.5" y1="933.5" x2="649.1" y2="933.5" stroke="#2f78c4" stroke-width="1.1"/>
<polygon points="646.3,928.4 644.5,931.6 648.1,931.6" fill="none" stroke="#2f78c4" stroke-width=".9"/>
<polygon points="643.5,930.1 641.7,933.3 645.3,933.3" fill="none" stroke="#2f78c4" stroke-width=".9"/>
<polygon points="649.1,930.1 647.3,933.3 650.9,933.3" fill="none" stroke="#2f78c4" stroke-width=".9"/>
<polygon points="643.5,933.5 641.7,936.7 645.3,936.7" fill="none" stroke="#2f78c4" stroke-width=".9"/>
<polygon points="649.1,933.5 647.3,936.7 650.9,936.7" fill="none" stroke="#2f78c4" stroke-width=".9"/>
<line x1="661.9" y1="942.6" x2="661.9" y2="943.6" stroke="#f7a47e" stroke-width="1"/>
<line x1="659.1" y1="942.6" x2="664.7" y2="942.6" stroke="#f7a47e" stroke-width="1.1"/>
<line x1="659.1" y1="943.6" x2="664.7" y2="943.6" stroke="#f7a47e" stroke-width="1.1"/>
<polygon points="661.9,942.5 660.1,939.3 663.7,939.3" fill="none" stroke="#f7a47e" stroke-width=".9"/>
<polygon points="659.1,944.3 657.3,941.1 660.9,941.1" fill="none" stroke="#f7a47e" stroke-width=".9"/>
<polygon points="664.7,944.3 662.9,941.1 666.5,941.1" fill="none" stroke="#f7a47e" stroke-width=".9"/>
<polygon points="661.9,946 660.1,942.8 663.7,942.8" fill="none" stroke="#f7a47e" stroke-width=".9"/>
<line x1="614.2" y1="877" x2="662.1" y2="877" stroke="#111" stroke-width="1.2"/>
<text x="638.2" y="874.8" font-size="4.8" font-weight="bold" text-anchor="middle" fill="#111"><tspan font-style="italic">p</tspan>=1.79×10<tspan dy="-1.8" font-size="3.4">-7</tspan></text>
<line x1="614.2" y1="886.2" x2="646" y2="886.2" stroke="#111" stroke-width="1.2"/>
<text x="630.1" y="884" font-size="4.8" font-weight="bold" text-anchor="middle" fill="#111"><tspan font-style="italic">p</tspan>=6.1×10<tspan dy="-1.8" font-size="3.4">-9</tspan></text>
<line x1="614.2" y1="894.2" x2="631" y2="894.2" stroke="#111" stroke-width="1.2"/>
<text x="623" y="892" font-size="4.8" font-weight="bold" text-anchor="middle" fill="#111"><tspan font-style="italic">p</tspan>=0.0119</text>
<line x1="630" y1="904.5" x2="662.1" y2="904.5" stroke="#111" stroke-width="1.2"/>
<text x="646" y="902.3" font-size="4.8" font-weight="bold" text-anchor="middle" fill="#111"><tspan font-style="italic">p</tspan>=0.0002</text>
<line x1="630" y1="912.9" x2="646" y2="912.9" stroke="#111" stroke-width="1.2"/>
<text x="638" y="910.7" font-size="4.8" font-weight="bold" text-anchor="middle" fill="#111"><tspan font-style="italic">p</tspan>=0.1228</text>
<line x1="646.3" y1="926.1" x2="661.6" y2="926.1" stroke="#111" stroke-width="1.2"/>
<text x="655" y="923.9" font-size="4.8" font-weight="bold" text-anchor="middle" fill="#111"><tspan font-style="italic">p</tspan>=0.0417</text>
<text x="474" y="662.5" font-size="16.8" fill="#000">m</text>
<line x1="522.6" y1="657.3" x2="531.7" y2="657.3" stroke="#111111" stroke-width="1.6"/>
<text x="537.4" y="659.9" font-size="7.2">Tyr 100% diet+Con</text>
<line x1="522.6" y1="667.8" x2="531.7" y2="667.8" stroke="#d8343c" stroke-width="1.6"/>
<text x="537.4" y="670.4" font-size="7.2">Tyr 0% diet+Con</text>
<line x1="522.6" y1="679.5" x2="531.7" y2="679.5" stroke="#2f78c4" stroke-width="1.6"/>
<text x="537.4" y="682.1" font-size="7.2">Tyr 0% diet+Sorafenib</text>
<line x1="522.6" y1="691.4" x2="531.7" y2="691.4" stroke="#f7a47e" stroke-width="1.6"/>
<text x="537.4" y="694" font-size="7.2">Tyr 0% diet+Venetoclax</text>
<line x1="602.7" y1="655.2" x2="602.7" y2="669.5" stroke="#111" stroke-width="1.3"/>
<text x="606.2" y="649.6" font-size="6" transform="rotate(90 606.2 649.6)"><tspan font-style="italic">p</tspan>=0.0008</text>
<line x1="613.4" y1="655.2" x2="613.4" y2="681.3" stroke="#111" stroke-width="1.3"/>
<text x="616.8" y="651.6" font-size="6" transform="rotate(90 616.8 651.6)"><tspan font-style="italic">p</tspan>=7.23×10<tspan dy="-1.8" font-size="4">-8</tspan></text>
<line x1="624.4" y1="655.7" x2="624.4" y2="692.5" stroke="#111" stroke-width="1.3"/>
<text x="627.5" y="657.3" font-size="6" transform="rotate(90 627.5 657.3)"><tspan font-style="italic">p</tspan>=3.56×10<tspan dy="-1.8" font-size="4">-5</tspan></text>
<line x1="634.3" y1="667.5" x2="634.3" y2="680.3" stroke="#111" stroke-width="1.3"/>
<text x="638.3" y="660.8" font-size="6" transform="rotate(90 638.3 660.8)"><tspan font-style="italic">p</tspan>=0.0101</text>
<line x1="644.8" y1="669.5" x2="644.8" y2="692" stroke="#111" stroke-width="1.3"/>
<text x="648" y="667.5" font-size="6" transform="rotate(90 648 667.5)"><tspan font-style="italic">p</tspan>=0.0317</text>
<line x1="522.8" y1="703.8" x2="522.8" y2="791.6" stroke="#111" stroke-width="1.6"/>
<line x1="522" y1="790.8" x2="653.6" y2="790.8" stroke="#111" stroke-width="1.6"/>
<line x1="520.3" y1="790.8" x2="522.8" y2="790.8" stroke="#111" stroke-width="1.2"/>
<text x="519.6" y="793.8" font-size="8.5" text-anchor="end">0</text>
<line x1="520.3" y1="773.4" x2="522.8" y2="773.4" stroke="#111" stroke-width="1.2"/>
<text x="519.6" y="776.4" font-size="8.5" text-anchor="end">20</text>
<line x1="520.3" y1="756" x2="522.8" y2="756" stroke="#111" stroke-width="1.2"/>
<text x="519.6" y="759" font-size="8.5" text-anchor="end">40</text>
<line x1="520.3" y1="738.6" x2="522.8" y2="738.6" stroke="#111" stroke-width="1.2"/>
<text x="519.6" y="741.6" font-size="8.5" text-anchor="end">60</text>
<line x1="520.3" y1="721.2" x2="522.8" y2="721.2" stroke="#111" stroke-width="1.2"/>
<text x="519.6" y="724.2" font-size="8.5" text-anchor="end">80</text>
<line x1="520.3" y1="703.8" x2="522.8" y2="703.8" stroke="#111" stroke-width="1.2"/>
<text x="519.6" y="706.8" font-size="8.5" text-anchor="end">100</text>
<line x1="522.8" y1="790.8" x2="522.8" y2="793.3" stroke="#111" stroke-width="1.2"/>
<text x="522.8" y="804.3" font-size="8.5" text-anchor="middle">0</text>
<line x1="566.2" y1="790.8" x2="566.2" y2="793.3" stroke="#111" stroke-width="1.2"/>
<text x="566.2" y="804.3" font-size="8.5" text-anchor="middle">100</text>
<line x1="609.6" y1="790.8" x2="609.6" y2="793.3" stroke="#111" stroke-width="1.2"/>
<text x="609.6" y="804.3" font-size="8.5" text-anchor="middle">200</text>
<line x1="653.1" y1="790.8" x2="653.1" y2="793.3" stroke="#111" stroke-width="1.2"/>
<text x="653.1" y="804.3" font-size="8.5" text-anchor="middle">300</text>
<text x="588.4" y="817.6" font-size="8.5" text-anchor="middle">Days(d)</text>
<text x="501.8" y="745.5" font-size="8.6" text-anchor="middle" transform="rotate(-90 501.8 745.5)">Percent survival (%)</text>
<polyline points="522.8,703.8 590.5,703.8 590.5,712.5 592.3,712.5 592.3,721.2 599.7,721.2 599.7,729.9 601,729.9 601,738.6 602.7,738.6 602.7,747.3 613.1,747.3 613.1,756 614,756 614,764.7 622.2,764.7 622.2,773.4 627.9,773.4 627.9,782.1 629.2,782.1 629.2,790.8" fill="none" stroke="#2f78c4" stroke-width="1.6"/>
<polyline points="522.8,703.8 592.3,703.8 592.3,712.5 594,712.5 594,721.2 599.7,721.2 599.7,729.9 601,729.9 601,738.6 602.7,738.6 602.7,747.3 603.6,747.3 603.6,756 604.9,756 604.9,764.7 614,764.7 614,773.4 620.5,773.4 620.5,782.1 625.7,782.1 625.7,790.8" fill="none" stroke="#f7a47e" stroke-width="1.6"/>
<polyline points="522.8,703.8 581.9,703.8 581.9,712.5 583.6,712.5 583.6,721.2 585.8,721.2 585.8,729.9 587.1,729.9 587.1,738.6 594.4,738.6 594.4,747.3 595.3,747.3 595.3,756 597.5,756 597.5,764.7 601.8,764.7 601.8,773.4 604.4,773.4 604.4,782.1 605.7,782.1 605.7,790.8" fill="none" stroke="#d8343c" stroke-width="1.6"/>
<polyline points="522.8,703.8 575.8,703.8 575.8,712.5 576.6,712.5 576.6,721.2 577.5,721.2 577.5,729.9 578.8,729.9 578.8,738.6 580.5,738.6 580.5,747.3 581.9,747.3 581.9,756 582.3,756 582.3,764.7 583.2,764.7 583.2,773.4 584.5,773.4 584.5,782.1 592.3,782.1 592.3,790.8" fill="none" stroke="#111111" stroke-width="1.6"/>
</g>
</svg></body></html>
